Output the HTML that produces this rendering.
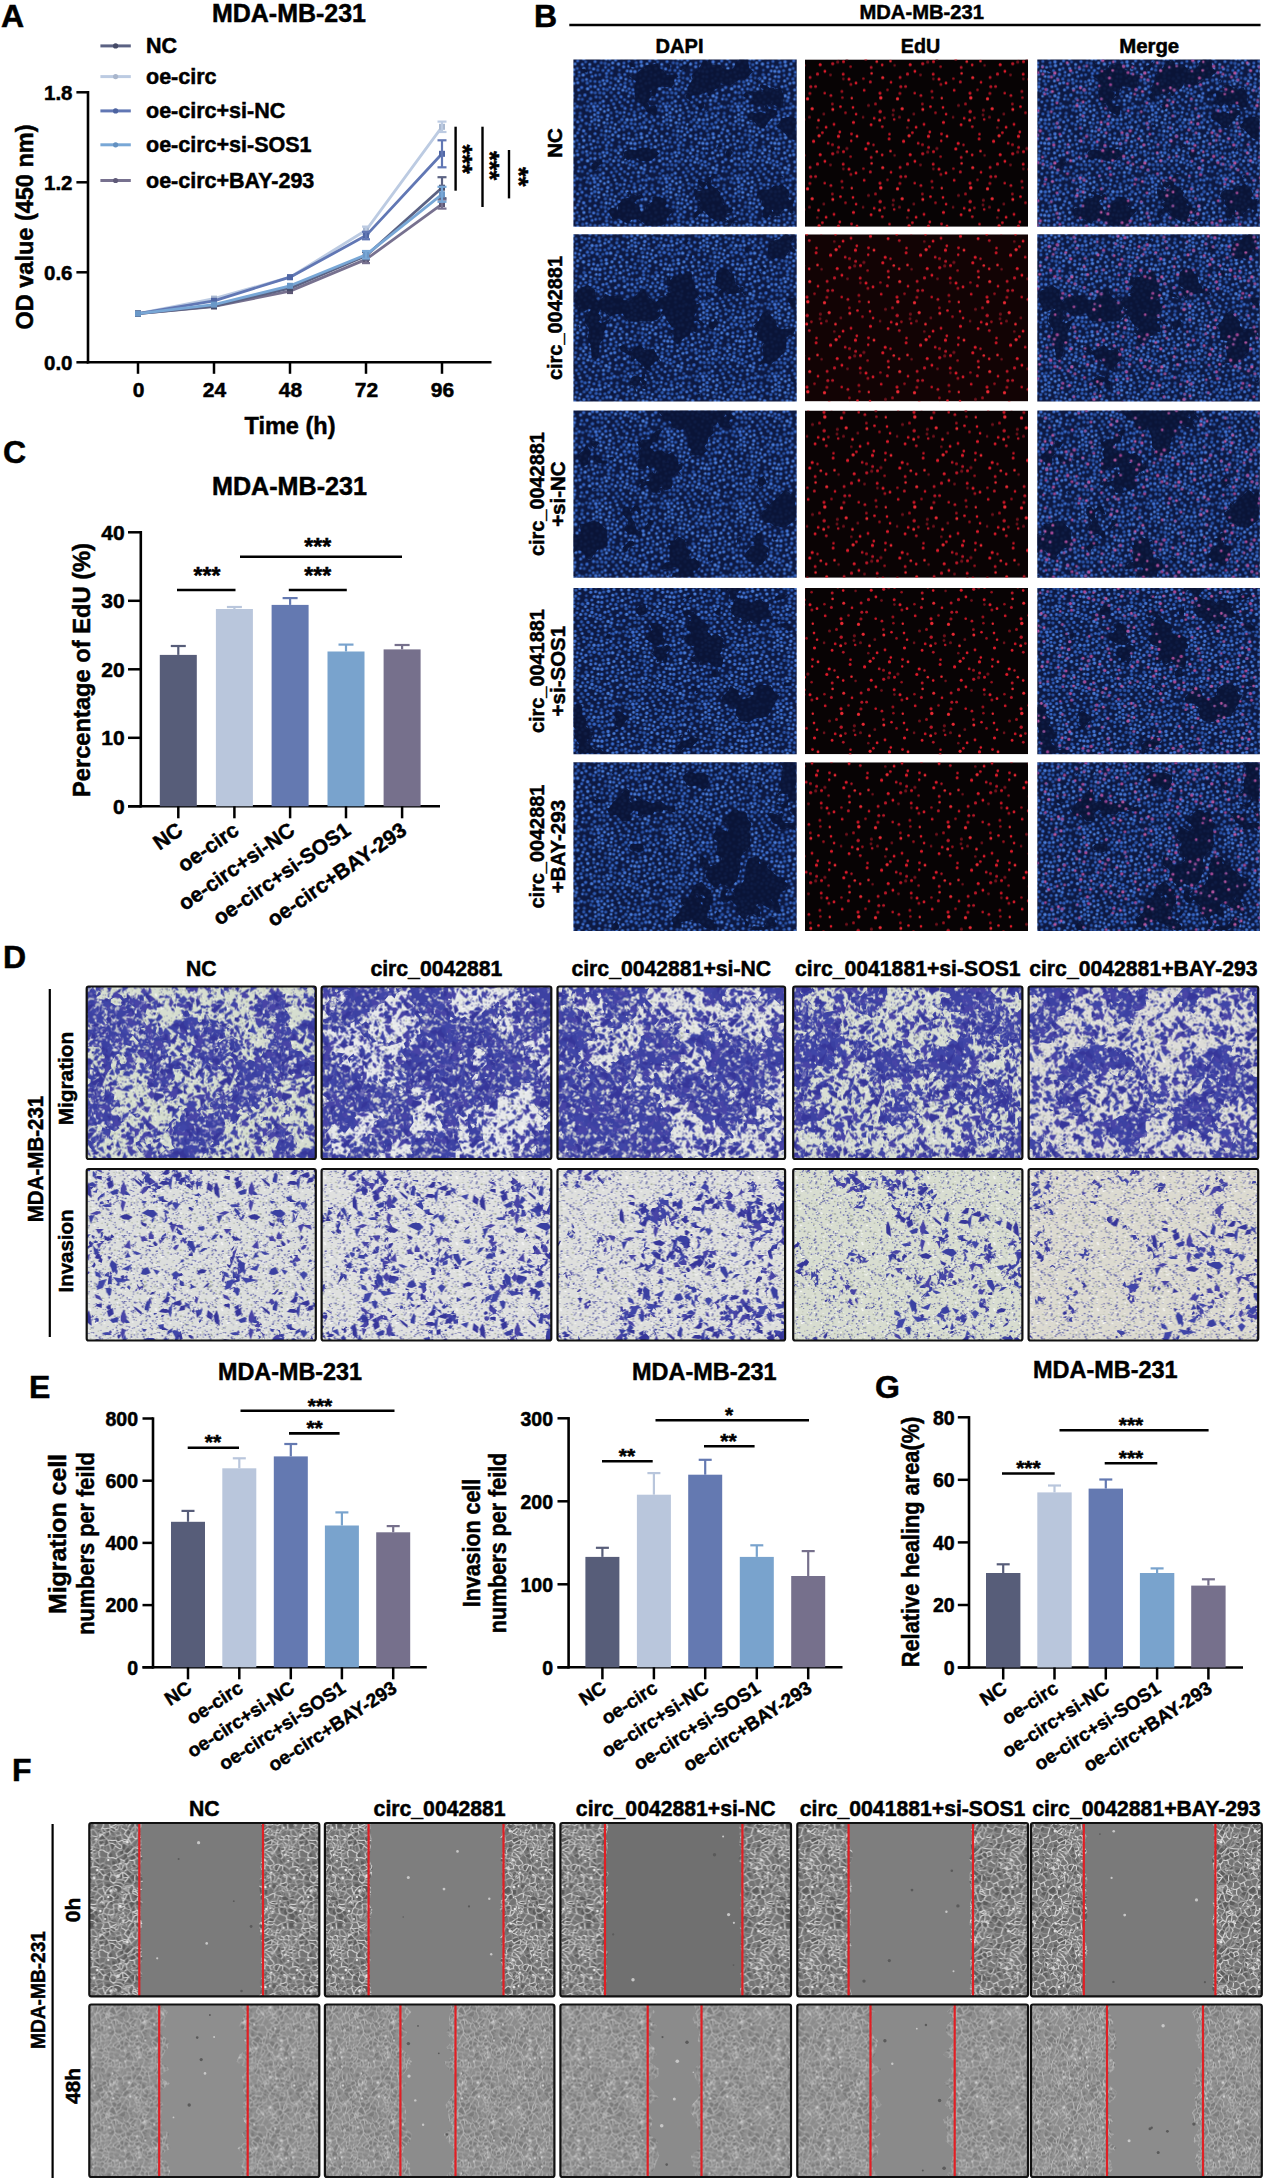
<!DOCTYPE html>
<html><head><meta charset="utf-8"><title>Figure</title>
<style>
html,body{margin:0;padding:0;background:#fff;width:1266px;height:2180px;overflow:hidden}
svg#fig{position:absolute;left:0;top:0;display:block}
svg text{font-family:"Liberation Sans",sans-serif;font-weight:bold;fill:#000;stroke:#000;stroke-width:0.5px}
</style></head><body>
<svg id="fig" width="1266" height="2180" viewBox="0 0 1266 2180">
<defs><pattern id="dapi" width="72" height="72" patternUnits="userSpaceOnUse"><rect width="72" height="72" fill="#0d1942"/><circle cx="17.1" cy="39.2" r="1.7" fill="#2c58ae"/><circle cx="26.6" cy="43.5" r="1.5" fill="#2c58ae"/><circle cx="45.1" cy="4.7" r="1.7" fill="#487cd8"/><circle cx="0.9" cy="60.3" r="1.7" fill="#2850a2"/><circle cx="72.9" cy="60.3" r="1.7" fill="#2850a2"/><circle cx="18.7" cy="16.9" r="1.5" fill="#3668c8"/><circle cx="71.7" cy="33.9" r="1.5" fill="#4072d2"/><circle cx="-0.3" cy="33.9" r="1.5" fill="#4072d2"/><circle cx="60.2" cy="34.3" r="1.4" fill="#3464c4"/><circle cx="46.0" cy="10.8" r="1.4" fill="#2850a2"/><circle cx="45.7" cy="62.5" r="1.6" fill="#2850a2"/><circle cx="37.7" cy="53.4" r="1.5" fill="#2850a2"/><circle cx="54.6" cy="42.6" r="1.4" fill="#4072d2"/><circle cx="21.7" cy="2.2" r="1.5" fill="#3668c8"/><circle cx="51.8" cy="63.3" r="1.6" fill="#2c58ae"/><circle cx="28.4" cy="57.7" r="1.5" fill="#2e5cb6"/><circle cx="32.0" cy="67.4" r="1.7" fill="#2850a2"/><circle cx="63.3" cy="7.0" r="1.6" fill="#2c58ae"/><circle cx="9.8" cy="15.6" r="1.7" fill="#487cd8"/><circle cx="45.1" cy="21.7" r="1.5" fill="#487cd8"/><circle cx="36.5" cy="27.8" r="1.4" fill="#3464c4"/><circle cx="42.1" cy="65.1" r="1.4" fill="#487cd8"/><circle cx="49.1" cy="66.9" r="1.7" fill="#3464c4"/><circle cx="61.7" cy="71.4" r="1.5" fill="#2850a2"/><circle cx="61.7" cy="-0.6" r="1.5" fill="#2850a2"/><circle cx="65.1" cy="41.0" r="1.6" fill="#487cd8"/><circle cx="51.4" cy="15.2" r="1.4" fill="#3668c8"/><circle cx="59.9" cy="41.3" r="1.5" fill="#2c58ae"/><circle cx="6.4" cy="57.6" r="1.6" fill="#2c58ae"/><circle cx="29.6" cy="10.9" r="1.5" fill="#2e5cb6"/><circle cx="21.2" cy="55.4" r="1.4" fill="#487cd8"/><circle cx="62.8" cy="3.2" r="1.5" fill="#2c58ae"/><circle cx="51.7" cy="23.8" r="1.7" fill="#2850a2"/><circle cx="36.4" cy="71.9" r="1.5" fill="#3668c8"/><circle cx="36.4" cy="-0.1" r="1.5" fill="#3668c8"/><circle cx="14.2" cy="29.4" r="1.7" fill="#487cd8"/><circle cx="22.6" cy="69.0" r="1.4" fill="#3668c8"/><circle cx="64.6" cy="27.2" r="1.5" fill="#4072d2"/><circle cx="33.1" cy="37.4" r="1.4" fill="#487cd8"/><circle cx="46.4" cy="42.9" r="1.4" fill="#3668c8"/><circle cx="40.3" cy="44.6" r="1.6" fill="#2e5cb6"/><circle cx="67.7" cy="36.5" r="1.7" fill="#487cd8"/><circle cx="31.0" cy="51.9" r="1.5" fill="#487cd8"/><circle cx="17.1" cy="21.7" r="1.4" fill="#2e5cb6"/><circle cx="29.9" cy="41.8" r="1.6" fill="#4072d2"/><circle cx="1.4" cy="44.3" r="1.4" fill="#2850a2"/><circle cx="45.2" cy="33.6" r="1.6" fill="#3668c8"/><circle cx="50.9" cy="53.1" r="1.4" fill="#4072d2"/><circle cx="1.6" cy="4.4" r="1.5" fill="#487cd8"/><circle cx="18.1" cy="32.9" r="1.6" fill="#3668c8"/><circle cx="26.2" cy="22.5" r="1.5" fill="#2c58ae"/><circle cx="21.6" cy="27.2" r="1.6" fill="#4072d2"/><circle cx="55.6" cy="1.9" r="1.5" fill="#2e5cb6"/><circle cx="22.3" cy="16.0" r="1.4" fill="#3464c4"/><circle cx="57.9" cy="17.2" r="1.4" fill="#487cd8"/><circle cx="50.3" cy="7.3" r="1.6" fill="#4072d2"/><circle cx="61.6" cy="12.2" r="1.7" fill="#4072d2"/><circle cx="24.2" cy="46.8" r="1.5" fill="#3464c4"/><circle cx="63.7" cy="32.5" r="1.6" fill="#2c58ae"/><circle cx="16.2" cy="8.7" r="1.4" fill="#2850a2"/><circle cx="38.1" cy="13.7" r="1.5" fill="#2e5cb6"/><circle cx="58.1" cy="60.4" r="1.7" fill="#3464c4"/><circle cx="13.2" cy="20.1" r="1.5" fill="#4072d2"/><circle cx="58.1" cy="46.2" r="1.4" fill="#3464c4"/><circle cx="58.1" cy="24.9" r="1.6" fill="#2c58ae"/><circle cx="9.3" cy="21.0" r="1.7" fill="#2850a2"/><circle cx="24.9" cy="30.0" r="1.5" fill="#4072d2"/><circle cx="30.2" cy="29.5" r="1.5" fill="#3668c8"/><circle cx="66.3" cy="11.2" r="1.5" fill="#2e5cb6"/><circle cx="0.3" cy="67.9" r="1.7" fill="#487cd8"/><circle cx="72.3" cy="67.9" r="1.7" fill="#487cd8"/><circle cx="66.8" cy="16.0" r="1.4" fill="#2e5cb6"/><circle cx="53.7" cy="60.2" r="1.7" fill="#487cd8"/><circle cx="47.7" cy="37.4" r="1.6" fill="#3464c4"/><circle cx="16.4" cy="4.9" r="1.5" fill="#487cd8"/><circle cx="65.1" cy="49.9" r="1.7" fill="#2850a2"/><circle cx="66.5" cy="64.6" r="1.4" fill="#2e5cb6"/><circle cx="0.9" cy="53.7" r="1.5" fill="#3464c4"/><circle cx="72.9" cy="53.7" r="1.5" fill="#3464c4"/><circle cx="18.2" cy="62.0" r="1.5" fill="#4072d2"/><circle cx="34.4" cy="56.3" r="1.7" fill="#4072d2"/><circle cx="38.5" cy="58.8" r="1.4" fill="#2e5cb6"/><circle cx="12.3" cy="57.0" r="1.5" fill="#3668c8"/><circle cx="66.4" cy="58.0" r="1.5" fill="#4072d2"/><circle cx="3.6" cy="19.5" r="1.6" fill="#2e5cb6"/><circle cx="30.5" cy="34.0" r="1.7" fill="#2c58ae"/><circle cx="3.9" cy="9.1" r="1.5" fill="#2e5cb6"/><circle cx="9.0" cy="4.9" r="1.5" fill="#4072d2"/><circle cx="6.2" cy="36.2" r="1.4" fill="#2e5cb6"/><circle cx="42.2" cy="26.0" r="1.4" fill="#3464c4"/><circle cx="13.8" cy="23.7" r="1.7" fill="#2c58ae"/><circle cx="8.9" cy="40.0" r="1.6" fill="#2850a2"/><circle cx="51.6" cy="27.4" r="1.7" fill="#4072d2"/><circle cx="5.8" cy="12.9" r="1.4" fill="#3668c8"/><circle cx="33.2" cy="17.6" r="1.7" fill="#2c58ae"/><circle cx="5.2" cy="30.6" r="1.5" fill="#4072d2"/><circle cx="30.7" cy="63.3" r="1.5" fill="#487cd8"/><circle cx="0.4" cy="10.3" r="1.5" fill="#487cd8"/><circle cx="72.4" cy="10.3" r="1.5" fill="#487cd8"/><circle cx="8.7" cy="60.8" r="1.6" fill="#3668c8"/><circle cx="48.5" cy="60.2" r="1.6" fill="#2e5cb6"/><circle cx="55.3" cy="36.8" r="1.4" fill="#487cd8"/><circle cx="53.9" cy="67.3" r="1.7" fill="#3464c4"/><circle cx="4.4" cy="23.3" r="1.6" fill="#4072d2"/><circle cx="17.4" cy="12.9" r="1.4" fill="#4072d2"/><circle cx="18.0" cy="44.4" r="1.4" fill="#3464c4"/><circle cx="70.1" cy="29.7" r="1.5" fill="#2e5cb6"/><circle cx="53.8" cy="11.6" r="1.5" fill="#4072d2"/><circle cx="34.8" cy="46.3" r="1.4" fill="#3464c4"/><circle cx="6.9" cy="53.9" r="1.6" fill="#2850a2"/><circle cx="14.3" cy="42.2" r="1.4" fill="#2850a2"/><circle cx="21.3" cy="50.8" r="1.7" fill="#3464c4"/><circle cx="42.1" cy="19.2" r="1.7" fill="#2e5cb6"/><circle cx="10.3" cy="71.4" r="1.7" fill="#4072d2"/><circle cx="10.3" cy="-0.6" r="1.7" fill="#4072d2"/><circle cx="33.7" cy="60.1" r="1.4" fill="#487cd8"/><circle cx="16.9" cy="51.7" r="1.5" fill="#2e5cb6"/><circle cx="61.5" cy="17.4" r="1.6" fill="#3668c8"/><circle cx="13.5" cy="50.7" r="1.6" fill="#2850a2"/><circle cx="61.8" cy="64.8" r="1.5" fill="#2e5cb6"/><circle cx="41.8" cy="48.6" r="1.4" fill="#487cd8"/><circle cx="0.5" cy="24.1" r="1.5" fill="#487cd8"/><circle cx="72.5" cy="24.1" r="1.5" fill="#487cd8"/><circle cx="39.2" cy="8.6" r="1.7" fill="#3668c8"/><circle cx="55.6" cy="54.5" r="1.5" fill="#2e5cb6"/><circle cx="69.2" cy="48.4" r="1.5" fill="#3464c4"/><circle cx="51.7" cy="48.9" r="1.6" fill="#3668c8"/><circle cx="12.9" cy="64.1" r="1.7" fill="#2e5cb6"/><circle cx="43.0" cy="40.0" r="1.6" fill="#2850a2"/><circle cx="25.4" cy="61.0" r="1.6" fill="#487cd8"/><circle cx="13.3" cy="13.6" r="1.4" fill="#2c58ae"/><circle cx="38.0" cy="40.9" r="1.5" fill="#3464c4"/><circle cx="57.8" cy="64.2" r="1.6" fill="#2c58ae"/><circle cx="45.6" cy="70.3" r="1.6" fill="#4072d2"/><circle cx="43.3" cy="52.3" r="1.5" fill="#2c58ae"/><circle cx="37.7" cy="33.2" r="1.6" fill="#2850a2"/><circle cx="40.8" cy="69.0" r="1.4" fill="#4072d2"/><circle cx="11.6" cy="35.8" r="1.7" fill="#3464c4"/><circle cx="30.4" cy="46.7" r="1.6" fill="#3464c4"/><circle cx="21.9" cy="33.4" r="1.6" fill="#2850a2"/><circle cx="26.7" cy="38.1" r="1.6" fill="#2850a2"/><circle cx="0.2" cy="15.0" r="1.7" fill="#3668c8"/><circle cx="72.2" cy="15.0" r="1.7" fill="#3668c8"/><circle cx="33.1" cy="14.1" r="1.6" fill="#3464c4"/><circle cx="4.3" cy="1.6" r="1.5" fill="#3464c4"/><circle cx="50.6" cy="3.7" r="1.4" fill="#3464c4"/><circle cx="52.4" cy="19.8" r="1.4" fill="#487cd8"/><circle cx="56.7" cy="33.5" r="1.4" fill="#3464c4"/><circle cx="67.2" cy="21.6" r="1.5" fill="#487cd8"/><circle cx="24.8" cy="6.7" r="1.5" fill="#2c58ae"/><circle cx="12.3" cy="2.6" r="1.4" fill="#2c58ae"/><circle cx="3.9" cy="47.1" r="1.7" fill="#3668c8"/><circle cx="67.7" cy="2.5" r="1.7" fill="#4072d2"/><circle cx="21.9" cy="43.7" r="1.5" fill="#2850a2"/><circle cx="68.2" cy="6.3" r="1.7" fill="#487cd8"/><circle cx="8.3" cy="28.1" r="1.7" fill="#3464c4"/><circle cx="35.1" cy="11.1" r="1.6" fill="#3668c8"/><circle cx="11.0" cy="46.4" r="1.4" fill="#2850a2"/><circle cx="42.2" cy="0.8" r="1.5" fill="#3668c8"/><circle cx="42.2" cy="72.8" r="1.5" fill="#3668c8"/><circle cx="16.6" cy="69.6" r="1.6" fill="#2e5cb6"/><circle cx="43.5" cy="56.8" r="1.5" fill="#3668c8"/><circle cx="59.4" cy="8.1" r="1.5" fill="#4072d2"/><circle cx="32.1" cy="8.0" r="1.4" fill="#3464c4"/><circle cx="5.1" cy="39.8" r="1.4" fill="#4072d2"/><circle cx="55.7" cy="29.3" r="1.4" fill="#3464c4"/><circle cx="24.8" cy="53.4" r="1.7" fill="#3668c8"/><circle cx="50.4" cy="70.3" r="1.4" fill="#2850a2"/><circle cx="70.5" cy="63.1" r="1.6" fill="#2e5cb6"/><circle cx="-1.5" cy="63.1" r="1.6" fill="#2e5cb6"/><circle cx="70.5" cy="56.6" r="1.5" fill="#4072d2"/><circle cx="-1.5" cy="56.6" r="1.5" fill="#4072d2"/><circle cx="31.1" cy="24.4" r="1.5" fill="#487cd8"/><circle cx="17.8" cy="57.8" r="1.4" fill="#487cd8"/><circle cx="22.7" cy="37.6" r="1.6" fill="#2c58ae"/><circle cx="7.4" cy="48.1" r="1.5" fill="#2850a2"/><circle cx="64.5" cy="69.1" r="1.5" fill="#2850a2"/><circle cx="68.4" cy="68.0" r="1.7" fill="#3464c4"/><circle cx="20.3" cy="9.5" r="1.6" fill="#4072d2"/><circle cx="5.7" cy="16.5" r="1.4" fill="#2850a2"/><circle cx="39.3" cy="3.4" r="1.5" fill="#487cd8"/><circle cx="48.6" cy="46.6" r="1.7" fill="#2850a2"/><circle cx="28.1" cy="71.1" r="1.5" fill="#2850a2"/><circle cx="28.1" cy="-0.9" r="1.5" fill="#2850a2"/><circle cx="10.5" cy="9.1" r="1.7" fill="#487cd8"/><circle cx="25.4" cy="65.9" r="1.4" fill="#487cd8"/><circle cx="34.9" cy="50.6" r="1.5" fill="#487cd8"/><circle cx="55.2" cy="6.7" r="1.5" fill="#4072d2"/><circle cx="62.1" cy="60.1" r="1.5" fill="#487cd8"/><circle cx="38.3" cy="63.0" r="1.5" fill="#3464c4"/><circle cx="71.0" cy="38.1" r="1.6" fill="#4072d2"/><circle cx="-1.0" cy="38.1" r="1.6" fill="#4072d2"/><circle cx="61.0" cy="56.0" r="1.7" fill="#3668c8"/><circle cx="26.4" cy="15.5" r="1.4" fill="#2c58ae"/><circle cx="34.2" cy="64.1" r="1.5" fill="#2850a2"/><circle cx="21.5" cy="64.8" r="1.4" fill="#2c58ae"/><circle cx="31.8" cy="4.0" r="1.7" fill="#2850a2"/><circle cx="0.8" cy="48.9" r="1.6" fill="#2e5cb6"/><circle cx="72.8" cy="48.9" r="1.6" fill="#2e5cb6"/><circle cx="62.5" cy="37.1" r="1.4" fill="#2850a2"/><circle cx="41.1" cy="36.8" r="1.6" fill="#2c58ae"/><circle cx="49.5" cy="30.8" r="1.5" fill="#487cd8"/><circle cx="27.9" cy="3.4" r="1.6" fill="#2850a2"/><circle cx="61.0" cy="52.4" r="1.5" fill="#2850a2"/><circle cx="32.8" cy="71.6" r="1.6" fill="#487cd8"/><circle cx="32.8" cy="-0.4" r="1.6" fill="#487cd8"/><circle cx="37.3" cy="23.6" r="1.5" fill="#2c58ae"/><circle cx="7.2" cy="66.7" r="1.7" fill="#2850a2"/><circle cx="21.6" cy="22.0" r="1.5" fill="#2e5cb6"/><circle cx="51.2" cy="40.4" r="1.4" fill="#2e5cb6"/><circle cx="46.8" cy="53.5" r="1.6" fill="#2e5cb6"/><circle cx="59.7" cy="30.4" r="1.6" fill="#3464c4"/><circle cx="21.5" cy="60.3" r="1.7" fill="#2e5cb6"/><circle cx="67.2" cy="54.2" r="1.5" fill="#2e5cb6"/><circle cx="27.0" cy="26.0" r="1.5" fill="#2e5cb6"/><circle cx="56.6" cy="21.5" r="1.6" fill="#2c58ae"/><circle cx="70.2" cy="19.2" r="1.4" fill="#3464c4"/><circle cx="14.9" cy="47.0" r="1.6" fill="#2e5cb6"/><circle cx="37.8" cy="18.6" r="1.4" fill="#2850a2"/><circle cx="5.6" cy="70.0" r="1.4" fill="#4072d2"/><circle cx="4.4" cy="62.6" r="1.5" fill="#4072d2"/><circle cx="69.9" cy="41.5" r="1.7" fill="#2c58ae"/><circle cx="58.9" cy="68.7" r="1.7" fill="#3464c4"/><circle cx="61.2" cy="21.8" r="1.4" fill="#3464c4"/><circle cx="24.4" cy="10.7" r="1.6" fill="#2850a2"/><circle cx="17.3" cy="27.1" r="1.6" fill="#3464c4"/><circle cx="47.4" cy="18.4" r="1.7" fill="#4072d2"/><circle cx="65.1" cy="45.0" r="1.6" fill="#3668c8"/><circle cx="45.3" cy="29.1" r="1.7" fill="#2e5cb6"/><circle cx="16.5" cy="65.5" r="1.4" fill="#2e5cb6"/><circle cx="47.3" cy="25.3" r="1.4" fill="#3668c8"/><circle cx="33.8" cy="30.3" r="1.7" fill="#2850a2"/><circle cx="20.4" cy="47.3" r="1.7" fill="#4072d2"/><circle cx="57.7" cy="50.1" r="1.4" fill="#2e5cb6"/><circle cx="35.5" cy="5.2" r="1.5" fill="#2c58ae"/><circle cx="40.3" cy="29.6" r="1.5" fill="#487cd8"/><circle cx="68.3" cy="26.4" r="1.5" fill="#3464c4"/><circle cx="26.5" cy="33.4" r="1.7" fill="#2850a2"/><circle cx="37.0" cy="68.0" r="1.4" fill="#4072d2"/><circle cx="53.0" cy="31.6" r="1.4" fill="#2c58ae"/><circle cx="57.5" cy="11.9" r="1.6" fill="#487cd8"/><circle cx="45.8" cy="15.2" r="1.7" fill="#2850a2"/><circle cx="50.4" cy="57.1" r="1.4" fill="#2c58ae"/><circle cx="33.7" cy="21.4" r="1.6" fill="#3668c8"/><circle cx="27.1" cy="49.7" r="1.5" fill="#487cd8"/><circle cx="24.7" cy="57.3" r="1.4" fill="#3668c8"/><circle cx="29.8" cy="21.0" r="1.6" fill="#4072d2"/></pattern><pattern id="edu" width="90" height="90" patternUnits="userSpaceOnUse"><circle cx="21.1" cy="67.9" r="1.4" fill="#e01a2a"/><circle cx="45.9" cy="25.0" r="1.5" fill="#9a101c"/><circle cx="12.5" cy="14.7" r="1.6" fill="#b81626"/><circle cx="46.8" cy="38.7" r="1.2" fill="#ea2832"/><circle cx="82.5" cy="30.5" r="1.3" fill="#9a101c"/><circle cx="52.0" cy="76.9" r="1.4" fill="#ea2832"/><circle cx="69.2" cy="58.9" r="1.4" fill="#c81424"/><circle cx="79.4" cy="58.6" r="1.4" fill="#9a101c"/><circle cx="74.7" cy="60.7" r="1.5" fill="#ea2832"/><circle cx="18.8" cy="54.7" r="1.4" fill="#70101a"/><circle cx="38.5" cy="2.3" r="1.5" fill="#c81424"/><circle cx="44.0" cy="19.8" r="1.5" fill="#e01a2a"/><circle cx="17.4" cy="73.3" r="1.4" fill="#c81424"/><circle cx="2.5" cy="39.4" r="1.6" fill="#ea2832"/><circle cx="25.9" cy="36.2" r="1.4" fill="#b81626"/><circle cx="89.6" cy="6.0" r="1.3" fill="#70101a"/><circle cx="-0.4" cy="6.0" r="1.3" fill="#70101a"/><circle cx="66.1" cy="65.4" r="1.4" fill="#e01a2a"/><circle cx="5.1" cy="18.0" r="1.5" fill="#b81626"/><circle cx="25.5" cy="15.6" r="1.4" fill="#70101a"/><circle cx="34.8" cy="72.6" r="1.3" fill="#e01a2a"/><circle cx="88.4" cy="50.8" r="1.6" fill="#70101a"/><circle cx="-1.6" cy="50.8" r="1.6" fill="#70101a"/><circle cx="40.5" cy="53.4" r="1.3" fill="#9a101c"/><circle cx="27.8" cy="49.9" r="1.5" fill="#ea2832"/><circle cx="27.4" cy="44.7" r="1.4" fill="#9a101c"/><circle cx="51.1" cy="54.7" r="1.3" fill="#e01a2a"/><circle cx="36.9" cy="31.9" r="1.5" fill="#9a101c"/><circle cx="35.5" cy="47.3" r="1.3" fill="#e01a2a"/><circle cx="4.5" cy="57.7" r="1.5" fill="#70101a"/><circle cx="58.4" cy="19.3" r="1.3" fill="#9a101c"/><circle cx="75.8" cy="38.5" r="1.7" fill="#ea2832"/><circle cx="86.0" cy="22.9" r="1.3" fill="#c81424"/><circle cx="48.0" cy="48.1" r="1.3" fill="#e01a2a"/><circle cx="85.5" cy="1.7" r="1.3" fill="#ea2832"/><circle cx="66.6" cy="14.0" r="1.3" fill="#ea2832"/><circle cx="48.5" cy="63.0" r="1.6" fill="#e01a2a"/><circle cx="46.5" cy="74.6" r="1.4" fill="#c81424"/><circle cx="71.8" cy="2.2" r="1.3" fill="#ea2832"/><circle cx="63.5" cy="46.0" r="1.5" fill="#70101a"/><circle cx="65.4" cy="22.6" r="1.5" fill="#b81626"/><circle cx="58.1" cy="57.9" r="1.3" fill="#70101a"/><circle cx="33.5" cy="76.9" r="1.6" fill="#e01a2a"/><circle cx="75.0" cy="33.8" r="1.6" fill="#c81424"/><circle cx="70.5" cy="44.6" r="1.5" fill="#9a101c"/><circle cx="5.8" cy="27.2" r="1.5" fill="#b81626"/><circle cx="19.9" cy="12.0" r="1.4" fill="#e01a2a"/><circle cx="32.7" cy="2.7" r="1.6" fill="#70101a"/><circle cx="77.3" cy="67.3" r="1.4" fill="#b81626"/><circle cx="23.2" cy="83.9" r="1.4" fill="#b81626"/><circle cx="7.2" cy="49.3" r="1.6" fill="#ea2832"/><circle cx="10.6" cy="27.2" r="1.4" fill="#b81626"/><circle cx="84.1" cy="79.4" r="1.5" fill="#c81424"/><circle cx="45.6" cy="7.2" r="1.3" fill="#9a101c"/><circle cx="46.2" cy="81.5" r="1.2" fill="#e01a2a"/><circle cx="77.2" cy="5.6" r="1.3" fill="#e01a2a"/><circle cx="4.9" cy="34.0" r="1.6" fill="#9a101c"/><circle cx="51.0" cy="23.7" r="1.4" fill="#e01a2a"/><circle cx="68.5" cy="85.5" r="1.2" fill="#b81626"/><circle cx="75.2" cy="52.3" r="1.7" fill="#b81626"/><circle cx="12.3" cy="68.3" r="1.3" fill="#70101a"/><circle cx="37.4" cy="38.2" r="1.3" fill="#9a101c"/><circle cx="77.7" cy="18.3" r="1.5" fill="#ea2832"/><circle cx="41.9" cy="89.1" r="1.6" fill="#70101a"/><circle cx="41.9" cy="-0.9" r="1.6" fill="#70101a"/><circle cx="8.6" cy="81.9" r="1.6" fill="#e01a2a"/><circle cx="38.4" cy="19.6" r="1.3" fill="#70101a"/><circle cx="88.0" cy="55.6" r="1.4" fill="#70101a"/><circle cx="14.1" cy="76.3" r="1.6" fill="#ea2832"/><circle cx="84.5" cy="74.7" r="1.3" fill="#c81424"/><circle cx="60.8" cy="89.5" r="1.6" fill="#e01a2a"/><circle cx="60.8" cy="-0.5" r="1.6" fill="#e01a2a"/><circle cx="89.2" cy="60.0" r="1.3" fill="#b81626"/><circle cx="-0.8" cy="60.0" r="1.3" fill="#b81626"/><circle cx="38.2" cy="14.8" r="1.5" fill="#c81424"/><circle cx="29.0" cy="65.0" r="1.4" fill="#c81424"/><circle cx="13.5" cy="60.9" r="1.3" fill="#ea2832"/><circle cx="27.5" cy="85.3" r="1.5" fill="#9a101c"/><circle cx="66.2" cy="8.0" r="1.5" fill="#b81626"/><circle cx="59.2" cy="30.9" r="1.4" fill="#c81424"/><circle cx="63.2" cy="84.0" r="1.6" fill="#e01a2a"/><circle cx="15.2" cy="5.2" r="1.5" fill="#e01a2a"/><circle cx="27.7" cy="4.3" r="1.6" fill="#b81626"/><circle cx="33.6" cy="88.0" r="1.5" fill="#b81626"/><circle cx="19.7" cy="33.8" r="1.3" fill="#c81424"/></pattern><pattern id="mdots" width="90" height="90" patternUnits="userSpaceOnUse"><circle cx="62.0" cy="58.5" r="1.7" fill="#9a4290"/><circle cx="14.8" cy="29.7" r="1.4" fill="#b454a0"/><circle cx="73.2" cy="4.6" r="1.6" fill="#8e4c96"/><circle cx="80.1" cy="55.2" r="1.2" fill="#8e4c96"/><circle cx="18.4" cy="83.7" r="1.4" fill="#8e4c96"/><circle cx="30.5" cy="57.6" r="1.5" fill="#8e4c96"/><circle cx="42.3" cy="12.3" r="1.5" fill="#9a4290"/><circle cx="31.1" cy="13.4" r="1.2" fill="#a84a98"/><circle cx="64.3" cy="84.7" r="1.3" fill="#a84a98"/><circle cx="5.3" cy="18.1" r="1.4" fill="#8e4c96"/><circle cx="39.6" cy="51.4" r="1.6" fill="#a84a98"/><circle cx="37.8" cy="60.5" r="1.5" fill="#8e4c96"/><circle cx="89.2" cy="11.3" r="1.4" fill="#9a4290"/><circle cx="-0.8" cy="11.3" r="1.4" fill="#9a4290"/><circle cx="14.6" cy="43.4" r="1.5" fill="#8e4c96"/><circle cx="58.0" cy="68.1" r="1.5" fill="#8e4c96"/><circle cx="45.0" cy="79.5" r="1.2" fill="#b454a0"/><circle cx="89.0" cy="80.5" r="1.4" fill="#b454a0"/><circle cx="-1.0" cy="80.5" r="1.4" fill="#b454a0"/><circle cx="33.7" cy="88.7" r="1.3" fill="#9a4290"/><circle cx="33.7" cy="-1.3" r="1.3" fill="#9a4290"/><circle cx="51.8" cy="71.4" r="1.4" fill="#8e4c96"/><circle cx="89.8" cy="72.2" r="1.4" fill="#8e4c96"/><circle cx="-0.2" cy="72.2" r="1.4" fill="#8e4c96"/><circle cx="59.1" cy="62.8" r="1.6" fill="#8e4c96"/><circle cx="32.9" cy="50.0" r="1.4" fill="#b454a0"/><circle cx="33.1" cy="26.6" r="1.5" fill="#8e4c96"/><circle cx="37.3" cy="36.0" r="1.3" fill="#8e4c96"/><circle cx="73.0" cy="39.4" r="1.4" fill="#8e4c96"/><circle cx="12.8" cy="68.6" r="1.6" fill="#b454a0"/><circle cx="59.7" cy="0.2" r="1.5" fill="#9a4290"/><circle cx="59.7" cy="90.2" r="1.5" fill="#9a4290"/><circle cx="11.0" cy="84.9" r="1.3" fill="#8e4c96"/><circle cx="59.9" cy="38.4" r="1.3" fill="#a84a98"/><circle cx="79.7" cy="7.5" r="1.6" fill="#8e4c96"/><circle cx="74.2" cy="19.2" r="1.4" fill="#b454a0"/><circle cx="76.6" cy="0.7" r="1.6" fill="#b454a0"/><circle cx="76.6" cy="90.7" r="1.6" fill="#b454a0"/><circle cx="78.8" cy="50.9" r="1.6" fill="#8e4c96"/><circle cx="75.5" cy="72.6" r="1.6" fill="#a84a98"/><circle cx="16.0" cy="17.8" r="1.7" fill="#8e4c96"/><circle cx="34.5" cy="78.2" r="1.6" fill="#a84a98"/><circle cx="9.4" cy="27.8" r="1.3" fill="#8e4c96"/><circle cx="44.4" cy="88.1" r="1.4" fill="#b454a0"/><circle cx="8.7" cy="33.2" r="1.6" fill="#b454a0"/><circle cx="12.1" cy="15.5" r="1.4" fill="#b454a0"/><circle cx="78.7" cy="30.6" r="1.4" fill="#a84a98"/><circle cx="40.5" cy="43.8" r="1.5" fill="#b454a0"/><circle cx="2.4" cy="88.2" r="1.5" fill="#b454a0"/><circle cx="55.4" cy="84.0" r="1.7" fill="#a84a98"/><circle cx="12.0" cy="55.5" r="1.3" fill="#8e4c96"/><circle cx="70.5" cy="66.3" r="1.4" fill="#b454a0"/><circle cx="36.7" cy="73.0" r="1.6" fill="#a84a98"/><circle cx="81.6" cy="61.8" r="1.4" fill="#9a4290"/><circle cx="67.6" cy="17.0" r="1.6" fill="#9a4290"/><circle cx="53.8" cy="60.3" r="1.5" fill="#a84a98"/><circle cx="18.3" cy="63.9" r="1.6" fill="#9a4290"/><circle cx="28.9" cy="69.4" r="1.4" fill="#a84a98"/><circle cx="41.2" cy="5.6" r="1.6" fill="#a84a98"/><circle cx="66.5" cy="21.7" r="1.3" fill="#a84a98"/><circle cx="64.7" cy="1.8" r="1.5" fill="#8e4c96"/></pattern><pattern id="grain" width="66" height="66" patternUnits="userSpaceOnUse"><circle cx="30.6" cy="24.6" r="0.5" fill="#5658a2"/><circle cx="22.3" cy="30.6" r="0.8" fill="#fafafa"/><circle cx="36.6" cy="40.7" r="0.5" fill="#a8b0a0"/><circle cx="11.2" cy="62.5" r="0.9" fill="#a8b0a0"/><circle cx="10.4" cy="15.7" r="0.5" fill="#6a6cae"/><circle cx="51.1" cy="25.3" r="0.8" fill="#6a6cae"/><circle cx="60.7" cy="13.5" r="0.6" fill="#a8b0a0"/><circle cx="58.7" cy="51.0" r="0.9" fill="#a8b0a0"/><circle cx="18.6" cy="53.4" r="0.5" fill="#5658a2"/><circle cx="58.0" cy="3.6" r="0.6" fill="#b8c0b0"/><circle cx="9.2" cy="15.6" r="0.8" fill="#6a6cae"/><circle cx="63.6" cy="0.3" r="0.8" fill="#7476b2"/><circle cx="59.1" cy="13.4" r="0.5" fill="#6a6cae"/><circle cx="8.8" cy="60.6" r="0.7" fill="#b8c0b0"/><circle cx="35.5" cy="13.1" r="0.5" fill="#7476b2"/><circle cx="42.2" cy="6.2" r="0.7" fill="#6264a8"/><circle cx="62.0" cy="47.5" r="0.5" fill="#f2f4f0"/><circle cx="36.6" cy="40.0" r="0.5" fill="#f2f4f0"/><circle cx="48.6" cy="38.0" r="0.5" fill="#a8b0a0"/><circle cx="62.8" cy="15.6" r="0.8" fill="#5658a2"/><circle cx="48.6" cy="55.8" r="0.7" fill="#6a6cae"/><circle cx="57.2" cy="7.3" r="0.9" fill="#fafafa"/><circle cx="29.8" cy="26.5" r="0.9" fill="#5658a2"/><circle cx="25.0" cy="40.1" r="0.5" fill="#6a6cae"/><circle cx="14.1" cy="29.3" r="0.6" fill="#6a6cae"/><circle cx="20.3" cy="18.8" r="0.7" fill="#5658a2"/><circle cx="1.7" cy="51.5" r="0.9" fill="#b8c0b0"/><circle cx="22.8" cy="51.3" r="0.7" fill="#6a6cae"/><circle cx="28.1" cy="15.2" r="0.9" fill="#a8b0a0"/><circle cx="33.7" cy="63.1" r="0.7" fill="#6264a8"/><circle cx="44.1" cy="11.3" r="0.9" fill="#f2f4f0"/><circle cx="1.9" cy="62.0" r="0.9" fill="#f2f4f0"/><circle cx="62.5" cy="65.1" r="0.8" fill="#5658a2"/><circle cx="3.2" cy="29.7" r="0.8" fill="#f2f4f0"/><circle cx="40.4" cy="63.8" r="0.6" fill="#6264a8"/><circle cx="31.7" cy="18.3" r="0.9" fill="#f2f4f0"/><circle cx="45.9" cy="4.3" r="0.7" fill="#a8b0a0"/><circle cx="38.8" cy="53.0" r="0.8" fill="#f2f4f0"/><circle cx="50.9" cy="58.1" r="0.7" fill="#6a6cae"/><circle cx="60.9" cy="18.3" r="0.5" fill="#6a6cae"/><circle cx="10.7" cy="52.1" r="0.9" fill="#7476b2"/><circle cx="11.6" cy="30.1" r="0.7" fill="#a8b0a0"/><circle cx="5.5" cy="36.2" r="0.7" fill="#f2f4f0"/><circle cx="35.3" cy="62.1" r="0.5" fill="#a8b0a0"/><circle cx="35.9" cy="34.6" r="0.7" fill="#6a6cae"/><circle cx="57.9" cy="37.9" r="0.9" fill="#6a6cae"/><circle cx="47.8" cy="47.6" r="0.5" fill="#b8c0b0"/><circle cx="29.9" cy="32.4" r="0.8" fill="#5658a2"/><circle cx="44.8" cy="1.9" r="0.6" fill="#b8c0b0"/><circle cx="15.3" cy="54.3" r="0.8" fill="#b8c0b0"/><circle cx="57.8" cy="2.4" r="0.7" fill="#5658a2"/><circle cx="44.8" cy="26.8" r="0.5" fill="#7476b2"/><circle cx="2.3" cy="49.7" r="0.5" fill="#5658a2"/><circle cx="23.4" cy="31.0" r="0.7" fill="#5658a2"/><circle cx="46.4" cy="5.0" r="0.5" fill="#fafafa"/><circle cx="0.6" cy="63.0" r="0.7" fill="#a8b0a0"/><circle cx="65.1" cy="55.0" r="0.5" fill="#fafafa"/><circle cx="44.3" cy="29.8" r="0.5" fill="#7476b2"/><circle cx="7.2" cy="3.5" r="0.5" fill="#6a6cae"/><circle cx="24.6" cy="48.9" r="0.7" fill="#7476b2"/><circle cx="24.4" cy="41.9" r="0.6" fill="#f2f4f0"/><circle cx="50.4" cy="45.1" r="0.5" fill="#f2f4f0"/><circle cx="62.3" cy="1.5" r="0.5" fill="#a8b0a0"/><circle cx="3.8" cy="16.6" r="0.9" fill="#7476b2"/><circle cx="42.2" cy="45.0" r="0.5" fill="#5658a2"/><circle cx="52.8" cy="64.4" r="0.8" fill="#a8b0a0"/><circle cx="61.4" cy="57.9" r="0.9" fill="#6a6cae"/><circle cx="1.9" cy="29.0" r="0.7" fill="#fafafa"/><circle cx="32.5" cy="22.9" r="0.9" fill="#a8b0a0"/><circle cx="28.4" cy="5.2" r="0.6" fill="#b8c0b0"/><circle cx="40.3" cy="37.5" r="0.7" fill="#6264a8"/><circle cx="21.7" cy="3.9" r="0.5" fill="#fafafa"/><circle cx="35.9" cy="12.4" r="0.8" fill="#6264a8"/><circle cx="62.3" cy="5.7" r="0.9" fill="#a8b0a0"/><circle cx="13.9" cy="35.8" r="0.6" fill="#5658a2"/><circle cx="44.2" cy="27.8" r="0.6" fill="#fafafa"/><circle cx="50.4" cy="52.7" r="0.7" fill="#b8c0b0"/><circle cx="47.3" cy="18.8" r="0.7" fill="#6a6cae"/><circle cx="14.8" cy="64.9" r="0.6" fill="#6a6cae"/><circle cx="9.8" cy="10.8" r="0.5" fill="#a8b0a0"/><circle cx="42.8" cy="26.1" r="0.9" fill="#6264a8"/><circle cx="33.6" cy="23.6" r="0.9" fill="#7476b2"/><circle cx="21.1" cy="25.4" r="0.5" fill="#6264a8"/><circle cx="37.7" cy="0.6" r="0.8" fill="#5658a2"/><circle cx="18.4" cy="34.5" r="0.8" fill="#a8b0a0"/><circle cx="59.9" cy="49.8" r="0.6" fill="#6264a8"/><circle cx="34.1" cy="31.6" r="0.9" fill="#6264a8"/><circle cx="21.8" cy="49.4" r="0.6" fill="#5658a2"/><circle cx="36.0" cy="61.3" r="0.5" fill="#6264a8"/><circle cx="35.5" cy="62.7" r="0.8" fill="#b8c0b0"/><circle cx="8.9" cy="13.9" r="0.7" fill="#a8b0a0"/><circle cx="14.3" cy="13.4" r="0.8" fill="#a8b0a0"/><circle cx="0.7" cy="36.6" r="0.5" fill="#fafafa"/><circle cx="32.7" cy="4.0" r="0.9" fill="#a8b0a0"/><circle cx="58.5" cy="28.9" r="0.8" fill="#7476b2"/><circle cx="36.7" cy="60.6" r="0.9" fill="#6a6cae"/><circle cx="58.8" cy="17.2" r="0.6" fill="#b8c0b0"/><circle cx="64.0" cy="12.3" r="0.7" fill="#fafafa"/><circle cx="44.2" cy="64.3" r="0.5" fill="#5658a2"/><circle cx="47.3" cy="38.7" r="0.9" fill="#fafafa"/><circle cx="18.7" cy="8.6" r="0.6" fill="#5658a2"/><circle cx="5.0" cy="54.2" r="0.6" fill="#b8c0b0"/><circle cx="63.7" cy="2.8" r="0.5" fill="#6264a8"/><circle cx="58.3" cy="46.9" r="0.8" fill="#a8b0a0"/><circle cx="55.8" cy="52.1" r="0.9" fill="#6264a8"/><circle cx="54.9" cy="2.2" r="0.9" fill="#6264a8"/><circle cx="18.8" cy="31.8" r="0.5" fill="#6a6cae"/><circle cx="33.8" cy="32.9" r="0.6" fill="#fafafa"/><circle cx="40.4" cy="62.7" r="0.6" fill="#5658a2"/><circle cx="65.9" cy="48.7" r="0.8" fill="#b8c0b0"/><circle cx="20.6" cy="56.2" r="0.6" fill="#5658a2"/><circle cx="13.1" cy="47.6" r="0.6" fill="#f2f4f0"/><circle cx="14.9" cy="11.8" r="0.8" fill="#f2f4f0"/><circle cx="24.4" cy="42.1" r="0.6" fill="#6264a8"/><circle cx="36.5" cy="1.9" r="0.8" fill="#7476b2"/><circle cx="5.9" cy="13.9" r="0.6" fill="#b8c0b0"/><circle cx="23.6" cy="36.8" r="0.8" fill="#6a6cae"/><circle cx="6.2" cy="26.9" r="0.7" fill="#6264a8"/><circle cx="3.9" cy="37.8" r="0.7" fill="#a8b0a0"/><circle cx="24.0" cy="43.7" r="0.9" fill="#fafafa"/><circle cx="47.7" cy="34.0" r="0.7" fill="#6264a8"/><circle cx="64.3" cy="20.7" r="0.7" fill="#f2f4f0"/><circle cx="28.8" cy="64.6" r="0.7" fill="#6a6cae"/><circle cx="3.8" cy="23.7" r="0.8" fill="#7476b2"/><circle cx="27.2" cy="24.1" r="0.6" fill="#a8b0a0"/><circle cx="33.6" cy="48.2" r="0.5" fill="#6a6cae"/><circle cx="52.7" cy="42.5" r="0.7" fill="#5658a2"/><circle cx="20.4" cy="5.2" r="0.6" fill="#7476b2"/><circle cx="64.3" cy="63.2" r="0.9" fill="#6264a8"/><circle cx="40.1" cy="16.0" r="0.8" fill="#6a6cae"/><circle cx="39.1" cy="0.4" r="0.7" fill="#6a6cae"/><circle cx="25.1" cy="18.1" r="0.9" fill="#6264a8"/><circle cx="64.2" cy="4.9" r="0.7" fill="#f2f4f0"/><circle cx="9.5" cy="49.2" r="0.9" fill="#7476b2"/><circle cx="20.1" cy="18.8" r="0.8" fill="#fafafa"/><circle cx="64.6" cy="33.4" r="0.9" fill="#5658a2"/><circle cx="39.0" cy="41.9" r="0.7" fill="#6a6cae"/><circle cx="5.4" cy="49.8" r="0.9" fill="#fafafa"/><circle cx="4.9" cy="31.6" r="0.7" fill="#6264a8"/><circle cx="65.5" cy="32.3" r="0.7" fill="#b8c0b0"/><circle cx="62.0" cy="38.1" r="0.5" fill="#f2f4f0"/><circle cx="28.9" cy="38.5" r="0.9" fill="#f2f4f0"/><circle cx="50.5" cy="11.2" r="0.5" fill="#fafafa"/><circle cx="33.7" cy="29.2" r="0.7" fill="#fafafa"/><circle cx="21.4" cy="11.6" r="0.8" fill="#fafafa"/><circle cx="45.9" cy="21.0" r="0.7" fill="#fafafa"/><circle cx="61.4" cy="18.7" r="0.5" fill="#f2f4f0"/><circle cx="19.8" cy="4.0" r="0.6" fill="#b8c0b0"/><circle cx="4.6" cy="27.3" r="0.7" fill="#a8b0a0"/><circle cx="29.8" cy="2.8" r="0.6" fill="#6a6cae"/><circle cx="37.9" cy="5.3" r="0.8" fill="#f2f4f0"/><circle cx="0.6" cy="58.7" r="0.8" fill="#b8c0b0"/><circle cx="48.4" cy="10.5" r="0.5" fill="#6a6cae"/><circle cx="8.0" cy="56.5" r="0.5" fill="#fafafa"/><circle cx="17.2" cy="13.2" r="0.8" fill="#7476b2"/><circle cx="32.5" cy="35.5" r="0.7" fill="#f2f4f0"/><circle cx="30.8" cy="26.6" r="0.5" fill="#f2f4f0"/><circle cx="65.2" cy="48.0" r="0.5" fill="#5658a2"/><circle cx="40.0" cy="25.2" r="0.7" fill="#6a6cae"/><circle cx="39.6" cy="53.4" r="0.6" fill="#fafafa"/><circle cx="8.9" cy="22.2" r="0.9" fill="#fafafa"/><circle cx="36.1" cy="41.3" r="0.5" fill="#5658a2"/><circle cx="24.0" cy="30.6" r="0.6" fill="#7476b2"/><circle cx="44.7" cy="35.9" r="0.8" fill="#5658a2"/><circle cx="41.3" cy="16.9" r="0.7" fill="#6264a8"/><circle cx="24.3" cy="19.4" r="0.6" fill="#6264a8"/><circle cx="26.7" cy="55.5" r="0.5" fill="#6264a8"/><circle cx="53.1" cy="1.1" r="0.8" fill="#6a6cae"/><circle cx="41.4" cy="26.6" r="0.7" fill="#f2f4f0"/><circle cx="38.8" cy="31.6" r="0.7" fill="#f2f4f0"/><circle cx="7.1" cy="33.4" r="0.5" fill="#f2f4f0"/><circle cx="0.5" cy="61.7" r="0.5" fill="#f2f4f0"/><circle cx="42.7" cy="0.1" r="0.8" fill="#6264a8"/><circle cx="34.5" cy="55.8" r="0.9" fill="#f2f4f0"/><circle cx="13.1" cy="44.6" r="0.8" fill="#7476b2"/><circle cx="56.0" cy="12.6" r="0.8" fill="#5658a2"/><circle cx="47.9" cy="1.4" r="0.9" fill="#5658a2"/><circle cx="49.0" cy="55.4" r="0.6" fill="#f2f4f0"/><circle cx="35.9" cy="28.8" r="0.9" fill="#7476b2"/><circle cx="44.4" cy="33.8" r="0.5" fill="#6a6cae"/><circle cx="14.2" cy="2.5" r="0.9" fill="#6264a8"/><circle cx="47.4" cy="43.8" r="0.7" fill="#6a6cae"/><circle cx="51.9" cy="36.3" r="0.6" fill="#f2f4f0"/><circle cx="9.5" cy="2.7" r="0.8" fill="#6264a8"/><circle cx="50.5" cy="46.0" r="0.9" fill="#7476b2"/><circle cx="11.7" cy="38.2" r="0.7" fill="#fafafa"/><circle cx="46.2" cy="8.7" r="0.9" fill="#b8c0b0"/><circle cx="35.2" cy="21.0" r="0.8" fill="#b8c0b0"/><circle cx="39.0" cy="14.8" r="0.7" fill="#f2f4f0"/><circle cx="29.2" cy="31.1" r="0.6" fill="#b8c0b0"/><circle cx="10.5" cy="7.5" r="0.6" fill="#6264a8"/><circle cx="22.1" cy="41.1" r="0.8" fill="#6264a8"/><circle cx="4.3" cy="24.2" r="0.9" fill="#f2f4f0"/><circle cx="7.9" cy="18.2" r="0.7" fill="#a8b0a0"/><circle cx="14.4" cy="42.3" r="0.9" fill="#fafafa"/><circle cx="23.3" cy="13.1" r="0.9" fill="#5658a2"/><circle cx="21.9" cy="58.9" r="0.9" fill="#b8c0b0"/><circle cx="65.1" cy="27.4" r="0.6" fill="#5658a2"/><circle cx="49.2" cy="12.0" r="0.8" fill="#b8c0b0"/><circle cx="16.8" cy="63.5" r="0.8" fill="#b8c0b0"/><circle cx="15.5" cy="17.7" r="0.9" fill="#a8b0a0"/><circle cx="3.4" cy="28.3" r="0.6" fill="#a8b0a0"/><circle cx="7.3" cy="39.8" r="0.9" fill="#f2f4f0"/><circle cx="22.7" cy="1.3" r="0.7" fill="#6264a8"/><circle cx="27.2" cy="3.3" r="0.6" fill="#a8b0a0"/><circle cx="23.6" cy="36.6" r="0.8" fill="#a8b0a0"/><circle cx="22.5" cy="62.9" r="0.5" fill="#7476b2"/><circle cx="15.5" cy="63.5" r="0.9" fill="#a8b0a0"/><circle cx="39.3" cy="4.2" r="0.7" fill="#7476b2"/><circle cx="63.2" cy="24.3" r="0.6" fill="#fafafa"/><circle cx="57.9" cy="7.6" r="0.6" fill="#a8b0a0"/><circle cx="39.2" cy="20.4" r="0.7" fill="#7476b2"/><circle cx="25.6" cy="33.4" r="0.6" fill="#fafafa"/><circle cx="36.0" cy="12.0" r="0.5" fill="#5658a2"/><circle cx="54.8" cy="22.3" r="0.5" fill="#6a6cae"/><circle cx="51.7" cy="14.6" r="0.5" fill="#fafafa"/><circle cx="44.7" cy="37.8" r="0.7" fill="#fafafa"/><circle cx="60.7" cy="11.1" r="0.5" fill="#6264a8"/><circle cx="59.0" cy="1.3" r="0.9" fill="#7476b2"/><circle cx="33.0" cy="50.2" r="0.8" fill="#a8b0a0"/><circle cx="14.6" cy="4.0" r="0.9" fill="#a8b0a0"/><circle cx="3.5" cy="52.0" r="0.8" fill="#b8c0b0"/><circle cx="14.9" cy="24.0" r="0.6" fill="#5658a2"/><circle cx="0.1" cy="20.1" r="0.8" fill="#5658a2"/><circle cx="63.4" cy="6.6" r="0.6" fill="#5658a2"/><circle cx="51.1" cy="65.7" r="0.8" fill="#fafafa"/><circle cx="30.1" cy="64.4" r="0.9" fill="#a8b0a0"/><circle cx="16.3" cy="33.9" r="0.7" fill="#5658a2"/><circle cx="35.8" cy="47.5" r="0.5" fill="#5658a2"/><circle cx="40.9" cy="7.1" r="0.8" fill="#6a6cae"/><circle cx="21.9" cy="7.7" r="0.9" fill="#6264a8"/><circle cx="61.6" cy="36.2" r="0.6" fill="#7476b2"/><circle cx="38.7" cy="17.5" r="0.9" fill="#5658a2"/><circle cx="15.8" cy="11.3" r="0.5" fill="#6a6cae"/><circle cx="50.4" cy="1.7" r="0.6" fill="#b8c0b0"/><circle cx="21.4" cy="5.4" r="0.6" fill="#5658a2"/><circle cx="62.1" cy="5.9" r="0.6" fill="#a8b0a0"/><circle cx="16.2" cy="48.8" r="0.9" fill="#5658a2"/><circle cx="41.2" cy="7.7" r="0.6" fill="#6264a8"/><circle cx="8.0" cy="48.2" r="0.8" fill="#6264a8"/><circle cx="4.3" cy="16.1" r="0.9" fill="#5658a2"/><circle cx="56.6" cy="4.9" r="0.7" fill="#5658a2"/><circle cx="14.2" cy="23.1" r="0.6" fill="#b8c0b0"/><circle cx="27.6" cy="48.6" r="0.6" fill="#6a6cae"/><circle cx="22.9" cy="7.0" r="0.8" fill="#6264a8"/><circle cx="19.8" cy="45.1" r="0.5" fill="#6264a8"/><circle cx="32.7" cy="33.9" r="0.7" fill="#6264a8"/><circle cx="60.2" cy="5.1" r="0.7" fill="#6264a8"/><circle cx="63.2" cy="6.5" r="0.9" fill="#5658a2"/><circle cx="28.3" cy="40.2" r="0.6" fill="#7476b2"/><circle cx="34.0" cy="6.7" r="0.5" fill="#7476b2"/><circle cx="30.2" cy="2.3" r="0.8" fill="#f2f4f0"/><circle cx="21.0" cy="41.3" r="0.5" fill="#5658a2"/><circle cx="4.2" cy="46.2" r="0.8" fill="#a8b0a0"/><circle cx="35.6" cy="24.5" r="0.9" fill="#b8c0b0"/><circle cx="35.1" cy="23.5" r="0.6" fill="#6264a8"/><circle cx="51.1" cy="33.0" r="0.7" fill="#7476b2"/><circle cx="9.6" cy="34.7" r="0.9" fill="#5658a2"/><circle cx="4.4" cy="46.6" r="0.8" fill="#6264a8"/><circle cx="1.7" cy="58.8" r="0.7" fill="#7476b2"/><circle cx="9.8" cy="17.9" r="0.7" fill="#5658a2"/><circle cx="33.8" cy="28.2" r="0.8" fill="#a8b0a0"/><circle cx="15.6" cy="37.9" r="0.8" fill="#7476b2"/><circle cx="35.5" cy="0.5" r="0.7" fill="#6a6cae"/><circle cx="12.5" cy="37.3" r="0.5" fill="#7476b2"/><circle cx="64.0" cy="60.4" r="0.9" fill="#f2f4f0"/><circle cx="4.9" cy="26.5" r="0.6" fill="#6a6cae"/><circle cx="23.8" cy="51.4" r="0.8" fill="#a8b0a0"/><circle cx="12.4" cy="59.5" r="0.5" fill="#fafafa"/><circle cx="42.7" cy="8.2" r="0.9" fill="#fafafa"/><circle cx="28.6" cy="22.4" r="0.8" fill="#fafafa"/><circle cx="47.6" cy="26.8" r="0.8" fill="#7476b2"/><circle cx="39.8" cy="44.6" r="0.6" fill="#a8b0a0"/><circle cx="57.1" cy="51.8" r="0.8" fill="#6264a8"/><circle cx="60.8" cy="18.2" r="0.5" fill="#6264a8"/><circle cx="37.9" cy="22.2" r="0.6" fill="#f2f4f0"/><circle cx="37.8" cy="9.9" r="0.8" fill="#5658a2"/><circle cx="28.9" cy="55.8" r="0.7" fill="#b8c0b0"/><circle cx="30.7" cy="15.5" r="0.8" fill="#b8c0b0"/><circle cx="23.4" cy="30.4" r="0.6" fill="#6264a8"/><circle cx="56.4" cy="39.3" r="0.9" fill="#a8b0a0"/><circle cx="58.2" cy="33.0" r="0.7" fill="#a8b0a0"/><circle cx="26.0" cy="44.4" r="0.9" fill="#6a6cae"/><circle cx="36.8" cy="19.1" r="0.7" fill="#6264a8"/><circle cx="2.5" cy="32.6" r="0.5" fill="#7476b2"/><circle cx="28.8" cy="44.5" r="0.8" fill="#fafafa"/><circle cx="1.7" cy="21.8" r="0.5" fill="#7476b2"/><circle cx="20.1" cy="40.3" r="0.6" fill="#5658a2"/><circle cx="44.0" cy="56.2" r="0.5" fill="#b8c0b0"/><circle cx="26.3" cy="28.5" r="0.7" fill="#7476b2"/><circle cx="23.0" cy="18.3" r="0.5" fill="#b8c0b0"/><circle cx="4.1" cy="17.7" r="0.7" fill="#fafafa"/><circle cx="16.9" cy="14.6" r="0.5" fill="#7476b2"/><circle cx="42.3" cy="62.8" r="0.8" fill="#fafafa"/><circle cx="40.1" cy="65.9" r="0.7" fill="#fafafa"/><circle cx="21.9" cy="4.2" r="0.9" fill="#6264a8"/><circle cx="2.3" cy="56.8" r="0.8" fill="#6a6cae"/><circle cx="21.2" cy="37.5" r="0.5" fill="#7476b2"/><circle cx="26.7" cy="44.4" r="0.5" fill="#a8b0a0"/><circle cx="58.6" cy="33.6" r="0.6" fill="#6a6cae"/><circle cx="55.9" cy="52.3" r="0.8" fill="#a8b0a0"/><circle cx="43.5" cy="15.9" r="0.8" fill="#f2f4f0"/><circle cx="28.2" cy="53.6" r="0.8" fill="#7476b2"/><circle cx="59.8" cy="56.6" r="0.7" fill="#a8b0a0"/><circle cx="59.8" cy="3.6" r="0.9" fill="#7476b2"/><circle cx="6.9" cy="25.8" r="0.8" fill="#b8c0b0"/><circle cx="37.7" cy="2.1" r="0.7" fill="#5658a2"/><circle cx="25.2" cy="10.0" r="0.7" fill="#6a6cae"/><circle cx="2.2" cy="2.0" r="0.7" fill="#7476b2"/><circle cx="41.5" cy="7.6" r="0.5" fill="#f2f4f0"/><circle cx="63.5" cy="15.8" r="0.7" fill="#6264a8"/><circle cx="51.6" cy="54.2" r="0.5" fill="#f2f4f0"/><circle cx="64.8" cy="24.8" r="0.7" fill="#6264a8"/><circle cx="44.5" cy="62.5" r="0.6" fill="#f2f4f0"/><circle cx="53.8" cy="59.0" r="0.8" fill="#6a6cae"/><circle cx="62.6" cy="36.8" r="0.8" fill="#f2f4f0"/><circle cx="16.5" cy="3.4" r="0.7" fill="#7476b2"/><circle cx="61.1" cy="62.9" r="0.8" fill="#fafafa"/><circle cx="41.6" cy="32.6" r="0.8" fill="#a8b0a0"/><circle cx="3.0" cy="7.9" r="0.9" fill="#fafafa"/><circle cx="58.8" cy="55.1" r="0.8" fill="#6a6cae"/><circle cx="46.2" cy="39.7" r="0.7" fill="#b8c0b0"/><circle cx="6.6" cy="6.5" r="0.7" fill="#a8b0a0"/><circle cx="46.4" cy="11.4" r="0.9" fill="#6a6cae"/><circle cx="16.4" cy="8.4" r="0.5" fill="#6a6cae"/><circle cx="39.8" cy="22.0" r="0.9" fill="#b8c0b0"/><circle cx="64.1" cy="51.5" r="0.7" fill="#6264a8"/><circle cx="63.5" cy="26.6" r="0.6" fill="#6264a8"/><circle cx="64.0" cy="64.7" r="0.8" fill="#b8c0b0"/><circle cx="20.4" cy="0.9" r="0.5" fill="#fafafa"/><circle cx="15.5" cy="50.5" r="0.8" fill="#fafafa"/><circle cx="37.9" cy="46.1" r="0.9" fill="#6264a8"/><circle cx="38.2" cy="9.3" r="0.6" fill="#a8b0a0"/><circle cx="10.5" cy="50.5" r="0.9" fill="#6a6cae"/><circle cx="49.8" cy="31.0" r="0.7" fill="#a8b0a0"/><circle cx="22.9" cy="14.7" r="0.8" fill="#5658a2"/><circle cx="45.2" cy="26.2" r="0.8" fill="#fafafa"/><circle cx="31.0" cy="5.4" r="0.7" fill="#f2f4f0"/><circle cx="11.2" cy="40.5" r="0.6" fill="#5658a2"/><circle cx="8.1" cy="50.6" r="0.5" fill="#6264a8"/><circle cx="12.9" cy="21.9" r="0.5" fill="#6a6cae"/><circle cx="59.6" cy="15.7" r="0.9" fill="#6a6cae"/><circle cx="60.7" cy="10.5" r="0.7" fill="#6264a8"/><circle cx="35.0" cy="65.1" r="0.6" fill="#f2f4f0"/><circle cx="42.5" cy="51.8" r="0.9" fill="#5658a2"/><circle cx="18.5" cy="50.0" r="0.6" fill="#6264a8"/><circle cx="35.9" cy="51.5" r="0.8" fill="#a8b0a0"/><circle cx="1.2" cy="46.7" r="0.7" fill="#6264a8"/><circle cx="60.7" cy="13.1" r="0.9" fill="#f2f4f0"/><circle cx="55.8" cy="2.3" r="0.7" fill="#fafafa"/><circle cx="47.5" cy="42.8" r="0.5" fill="#5658a2"/><circle cx="22.5" cy="62.3" r="0.7" fill="#6a6cae"/><circle cx="42.6" cy="14.0" r="0.5" fill="#f2f4f0"/><circle cx="15.1" cy="24.3" r="0.5" fill="#f2f4f0"/><circle cx="34.3" cy="24.0" r="0.6" fill="#6a6cae"/><circle cx="5.9" cy="39.7" r="0.6" fill="#fafafa"/><circle cx="57.0" cy="24.6" r="0.6" fill="#6a6cae"/><circle cx="62.8" cy="51.9" r="0.7" fill="#f2f4f0"/><circle cx="58.5" cy="1.9" r="0.8" fill="#f2f4f0"/><circle cx="47.9" cy="31.4" r="0.8" fill="#fafafa"/><circle cx="59.0" cy="22.5" r="0.8" fill="#a8b0a0"/><circle cx="47.1" cy="14.2" r="0.6" fill="#f2f4f0"/><circle cx="1.0" cy="32.5" r="0.6" fill="#6264a8"/><circle cx="24.0" cy="45.6" r="0.8" fill="#6a6cae"/><circle cx="54.5" cy="46.3" r="0.9" fill="#5658a2"/><circle cx="55.4" cy="48.4" r="0.8" fill="#5658a2"/><circle cx="34.5" cy="59.3" r="0.8" fill="#6a6cae"/><circle cx="44.7" cy="10.4" r="0.9" fill="#6a6cae"/><circle cx="12.4" cy="43.1" r="0.7" fill="#f2f4f0"/><circle cx="30.0" cy="12.4" r="0.5" fill="#fafafa"/><circle cx="12.5" cy="42.5" r="0.7" fill="#6264a8"/><circle cx="35.3" cy="16.4" r="0.7" fill="#7476b2"/><circle cx="63.4" cy="10.5" r="0.7" fill="#a8b0a0"/><circle cx="17.8" cy="22.4" r="0.8" fill="#f2f4f0"/><circle cx="48.7" cy="1.7" r="0.9" fill="#6a6cae"/><circle cx="44.4" cy="48.3" r="0.6" fill="#6264a8"/><circle cx="47.9" cy="3.9" r="0.5" fill="#fafafa"/><circle cx="28.1" cy="56.2" r="0.5" fill="#7476b2"/><circle cx="59.4" cy="47.3" r="0.7" fill="#b8c0b0"/><circle cx="22.4" cy="18.5" r="0.6" fill="#7476b2"/><circle cx="44.1" cy="26.3" r="0.6" fill="#fafafa"/><circle cx="22.2" cy="56.5" r="0.6" fill="#fafafa"/><circle cx="32.3" cy="19.3" r="0.6" fill="#7476b2"/><circle cx="55.3" cy="54.1" r="0.9" fill="#6264a8"/><circle cx="14.8" cy="41.9" r="0.8" fill="#b8c0b0"/><circle cx="27.7" cy="20.2" r="0.5" fill="#5658a2"/><circle cx="60.3" cy="14.6" r="0.5" fill="#6a6cae"/><circle cx="65.6" cy="19.9" r="0.6" fill="#5658a2"/><circle cx="64.7" cy="3.8" r="0.7" fill="#b8c0b0"/><circle cx="52.8" cy="39.8" r="0.7" fill="#7476b2"/><circle cx="25.2" cy="46.2" r="0.7" fill="#a8b0a0"/><circle cx="21.0" cy="40.2" r="0.9" fill="#6264a8"/><circle cx="63.0" cy="55.6" r="0.9" fill="#a8b0a0"/><circle cx="31.5" cy="31.7" r="0.7" fill="#5658a2"/><circle cx="8.7" cy="15.0" r="0.9" fill="#f2f4f0"/><circle cx="15.3" cy="46.8" r="0.5" fill="#a8b0a0"/><circle cx="54.1" cy="30.5" r="0.8" fill="#6264a8"/><circle cx="11.0" cy="20.4" r="0.5" fill="#5658a2"/><circle cx="50.2" cy="35.0" r="0.6" fill="#7476b2"/><circle cx="32.3" cy="60.2" r="0.9" fill="#6264a8"/><circle cx="56.0" cy="52.5" r="0.7" fill="#a8b0a0"/><circle cx="10.5" cy="21.6" r="0.6" fill="#fafafa"/><circle cx="30.9" cy="1.4" r="0.6" fill="#fafafa"/><circle cx="7.7" cy="19.9" r="0.9" fill="#f2f4f0"/><circle cx="46.9" cy="39.4" r="0.6" fill="#6264a8"/><circle cx="37.2" cy="14.7" r="0.5" fill="#fafafa"/><circle cx="64.1" cy="43.5" r="0.8" fill="#6a6cae"/><circle cx="43.6" cy="37.1" r="0.6" fill="#a8b0a0"/><circle cx="46.0" cy="61.8" r="0.7" fill="#7476b2"/><circle cx="54.8" cy="21.0" r="0.7" fill="#6264a8"/><circle cx="37.0" cy="46.8" r="0.9" fill="#6264a8"/><circle cx="45.8" cy="15.3" r="0.6" fill="#b8c0b0"/><circle cx="63.5" cy="22.7" r="0.8" fill="#6264a8"/><circle cx="54.1" cy="23.2" r="0.9" fill="#5658a2"/><circle cx="45.7" cy="33.3" r="0.8" fill="#b8c0b0"/><circle cx="57.5" cy="50.5" r="0.9" fill="#a8b0a0"/><circle cx="30.8" cy="21.3" r="0.5" fill="#5658a2"/><circle cx="41.7" cy="12.5" r="0.6" fill="#5658a2"/><circle cx="61.2" cy="40.9" r="0.9" fill="#6a6cae"/><circle cx="28.1" cy="33.5" r="0.8" fill="#5658a2"/><circle cx="38.1" cy="49.6" r="0.9" fill="#6264a8"/><circle cx="46.5" cy="8.3" r="0.9" fill="#fafafa"/><circle cx="42.3" cy="51.6" r="0.8" fill="#a8b0a0"/><circle cx="65.7" cy="64.4" r="0.6" fill="#b8c0b0"/><circle cx="38.4" cy="29.5" r="0.8" fill="#5658a2"/><circle cx="11.3" cy="51.3" r="0.6" fill="#fafafa"/><circle cx="53.6" cy="14.4" r="0.6" fill="#7476b2"/><circle cx="5.7" cy="33.1" r="0.9" fill="#f2f4f0"/><circle cx="61.1" cy="45.6" r="0.9" fill="#7476b2"/><circle cx="32.6" cy="64.8" r="0.5" fill="#fafafa"/><circle cx="18.5" cy="11.9" r="0.6" fill="#5658a2"/><circle cx="30.5" cy="29.6" r="0.9" fill="#5658a2"/><circle cx="38.7" cy="56.5" r="0.5" fill="#fafafa"/><circle cx="57.8" cy="46.6" r="0.9" fill="#a8b0a0"/><circle cx="3.6" cy="9.3" r="0.9" fill="#fafafa"/><circle cx="20.1" cy="27.0" r="0.7" fill="#b8c0b0"/><circle cx="30.3" cy="45.3" r="0.7" fill="#b8c0b0"/><circle cx="23.2" cy="43.6" r="0.7" fill="#5658a2"/><circle cx="8.7" cy="5.6" r="0.7" fill="#5658a2"/><circle cx="53.0" cy="57.4" r="0.5" fill="#f2f4f0"/><circle cx="23.5" cy="20.2" r="0.6" fill="#fafafa"/><circle cx="32.6" cy="50.4" r="0.7" fill="#a8b0a0"/><circle cx="53.3" cy="65.1" r="0.7" fill="#b8c0b0"/><circle cx="28.2" cy="7.8" r="0.8" fill="#6a6cae"/><circle cx="3.5" cy="22.6" r="0.6" fill="#6a6cae"/><circle cx="52.5" cy="19.1" r="0.6" fill="#fafafa"/><circle cx="24.0" cy="44.5" r="0.5" fill="#f2f4f0"/><circle cx="12.3" cy="43.8" r="0.5" fill="#5658a2"/><circle cx="48.9" cy="16.3" r="0.6" fill="#5658a2"/><circle cx="63.2" cy="8.0" r="0.8" fill="#f2f4f0"/><circle cx="46.5" cy="16.3" r="0.8" fill="#6264a8"/><circle cx="44.4" cy="34.1" r="0.5" fill="#7476b2"/><circle cx="33.8" cy="45.5" r="0.5" fill="#6264a8"/><circle cx="57.5" cy="5.7" r="0.5" fill="#b8c0b0"/><circle cx="46.8" cy="56.9" r="0.7" fill="#5658a2"/><circle cx="56.0" cy="19.8" r="0.6" fill="#5658a2"/><circle cx="23.9" cy="15.1" r="0.6" fill="#b8c0b0"/><circle cx="60.6" cy="59.1" r="0.6" fill="#5658a2"/><circle cx="42.6" cy="64.6" r="0.9" fill="#6a6cae"/><circle cx="0.4" cy="31.9" r="0.5" fill="#fafafa"/><circle cx="56.9" cy="35.1" r="0.6" fill="#6a6cae"/><circle cx="3.4" cy="63.0" r="0.6" fill="#b8c0b0"/><circle cx="6.7" cy="31.8" r="0.8" fill="#6264a8"/><circle cx="16.3" cy="64.5" r="0.8" fill="#f2f4f0"/><circle cx="26.9" cy="35.1" r="0.9" fill="#6264a8"/><circle cx="56.2" cy="6.6" r="0.8" fill="#6a6cae"/><circle cx="50.9" cy="57.7" r="0.9" fill="#b8c0b0"/><circle cx="41.6" cy="44.9" r="0.9" fill="#a8b0a0"/><circle cx="37.6" cy="52.8" r="0.9" fill="#6a6cae"/><circle cx="49.4" cy="19.2" r="0.5" fill="#5658a2"/><circle cx="4.2" cy="41.3" r="0.8" fill="#b8c0b0"/><circle cx="34.4" cy="45.0" r="0.7" fill="#f2f4f0"/><circle cx="55.6" cy="51.2" r="0.8" fill="#b8c0b0"/><circle cx="43.9" cy="48.9" r="0.7" fill="#b8c0b0"/><circle cx="56.6" cy="33.6" r="0.5" fill="#a8b0a0"/><circle cx="63.2" cy="58.7" r="0.5" fill="#6264a8"/><circle cx="45.3" cy="53.7" r="0.7" fill="#b8c0b0"/><circle cx="65.8" cy="28.4" r="0.8" fill="#6264a8"/><circle cx="57.9" cy="36.3" r="0.5" fill="#f2f4f0"/><circle cx="39.2" cy="29.4" r="0.8" fill="#6a6cae"/><circle cx="2.9" cy="64.6" r="0.9" fill="#f2f4f0"/><circle cx="17.4" cy="0.0" r="0.8" fill="#a8b0a0"/><circle cx="11.2" cy="58.6" r="0.6" fill="#6264a8"/><circle cx="59.6" cy="19.7" r="0.9" fill="#5658a2"/><circle cx="19.4" cy="39.2" r="0.8" fill="#7476b2"/><circle cx="11.9" cy="62.1" r="0.6" fill="#6264a8"/><circle cx="19.5" cy="40.7" r="0.6" fill="#a8b0a0"/><circle cx="45.6" cy="38.8" r="0.6" fill="#fafafa"/><circle cx="65.3" cy="52.9" r="0.6" fill="#a8b0a0"/><circle cx="6.0" cy="53.3" r="0.5" fill="#6264a8"/><circle cx="56.1" cy="44.1" r="0.7" fill="#7476b2"/><circle cx="65.3" cy="43.4" r="0.6" fill="#6a6cae"/><circle cx="58.0" cy="56.2" r="0.9" fill="#6264a8"/><circle cx="36.5" cy="6.1" r="0.8" fill="#6a6cae"/><circle cx="56.7" cy="25.1" r="0.9" fill="#f2f4f0"/><circle cx="4.2" cy="18.5" r="0.5" fill="#5658a2"/><circle cx="9.9" cy="20.2" r="0.7" fill="#7476b2"/><circle cx="2.7" cy="19.9" r="0.7" fill="#6a6cae"/><circle cx="51.8" cy="26.4" r="0.7" fill="#f2f4f0"/><circle cx="40.6" cy="28.0" r="0.6" fill="#fafafa"/><circle cx="13.5" cy="37.6" r="0.9" fill="#6264a8"/><circle cx="29.1" cy="58.4" r="0.9" fill="#6264a8"/><circle cx="17.2" cy="16.5" r="0.5" fill="#fafafa"/><circle cx="16.4" cy="39.8" r="0.9" fill="#6264a8"/><circle cx="50.9" cy="36.4" r="0.5" fill="#6a6cae"/><circle cx="0.4" cy="19.2" r="0.5" fill="#6a6cae"/><circle cx="28.3" cy="29.1" r="0.9" fill="#fafafa"/><circle cx="0.1" cy="27.7" r="0.6" fill="#b8c0b0"/><circle cx="45.8" cy="27.2" r="0.6" fill="#5658a2"/><circle cx="33.0" cy="35.5" r="0.5" fill="#a8b0a0"/><circle cx="4.5" cy="51.3" r="0.7" fill="#7476b2"/><circle cx="62.3" cy="14.6" r="0.9" fill="#6264a8"/><circle cx="45.9" cy="14.2" r="0.5" fill="#6264a8"/><circle cx="6.8" cy="62.1" r="0.7" fill="#6a6cae"/><circle cx="7.9" cy="49.1" r="0.9" fill="#b8c0b0"/><circle cx="32.8" cy="16.0" r="0.9" fill="#f2f4f0"/><circle cx="61.2" cy="31.4" r="0.5" fill="#a8b0a0"/><circle cx="27.0" cy="30.7" r="0.5" fill="#fafafa"/><circle cx="47.6" cy="49.3" r="0.7" fill="#f2f4f0"/><circle cx="22.2" cy="34.1" r="0.8" fill="#b8c0b0"/><circle cx="37.4" cy="53.7" r="0.6" fill="#6264a8"/><circle cx="44.0" cy="49.5" r="0.7" fill="#a8b0a0"/><circle cx="1.4" cy="58.0" r="0.7" fill="#a8b0a0"/><circle cx="2.4" cy="1.5" r="0.8" fill="#f2f4f0"/><circle cx="57.0" cy="35.9" r="0.9" fill="#5658a2"/><circle cx="60.4" cy="30.9" r="0.5" fill="#fafafa"/><circle cx="46.8" cy="59.1" r="0.7" fill="#6264a8"/><circle cx="28.3" cy="65.4" r="0.5" fill="#a8b0a0"/><circle cx="19.8" cy="60.9" r="0.5" fill="#fafafa"/><circle cx="48.2" cy="8.7" r="0.7" fill="#6264a8"/><circle cx="52.3" cy="29.2" r="0.6" fill="#6a6cae"/><circle cx="47.2" cy="61.7" r="0.7" fill="#f2f4f0"/><circle cx="41.8" cy="25.6" r="0.6" fill="#7476b2"/><circle cx="49.9" cy="1.6" r="0.7" fill="#6a6cae"/><circle cx="20.8" cy="55.1" r="0.9" fill="#a8b0a0"/><circle cx="55.8" cy="33.3" r="0.9" fill="#6264a8"/><circle cx="49.0" cy="7.3" r="0.7" fill="#5658a2"/><circle cx="7.9" cy="53.3" r="0.9" fill="#a8b0a0"/><circle cx="37.9" cy="18.7" r="0.6" fill="#7476b2"/><circle cx="49.8" cy="33.2" r="0.6" fill="#b8c0b0"/><circle cx="8.4" cy="38.6" r="0.6" fill="#f2f4f0"/><circle cx="63.8" cy="59.4" r="0.7" fill="#a8b0a0"/><circle cx="46.7" cy="9.7" r="0.9" fill="#5658a2"/><circle cx="63.1" cy="49.1" r="0.5" fill="#f2f4f0"/><circle cx="15.4" cy="46.6" r="0.9" fill="#b8c0b0"/><circle cx="38.3" cy="18.5" r="0.5" fill="#5658a2"/><circle cx="7.8" cy="56.3" r="0.9" fill="#fafafa"/><circle cx="32.4" cy="16.1" r="0.8" fill="#6264a8"/><circle cx="54.8" cy="51.6" r="0.8" fill="#6264a8"/><circle cx="59.1" cy="34.5" r="0.9" fill="#a8b0a0"/><circle cx="27.9" cy="43.9" r="0.9" fill="#f2f4f0"/><circle cx="22.7" cy="65.0" r="0.8" fill="#f2f4f0"/><circle cx="34.9" cy="32.1" r="0.6" fill="#7476b2"/><circle cx="55.6" cy="5.4" r="0.8" fill="#5658a2"/><circle cx="8.2" cy="50.8" r="0.7" fill="#b8c0b0"/><circle cx="24.9" cy="52.2" r="0.5" fill="#7476b2"/><circle cx="12.6" cy="2.1" r="0.5" fill="#6a6cae"/><circle cx="65.2" cy="63.6" r="0.7" fill="#7476b2"/><circle cx="18.3" cy="19.3" r="0.8" fill="#5658a2"/><circle cx="12.6" cy="36.2" r="0.8" fill="#5658a2"/></pattern><pattern id="twdense" width="64" height="64" patternUnits="userSpaceOnUse"><rect width="64" height="64" fill="#3d42a3"/><path d="M43 40l3 1l1 2l-2 1l-3 -3zM8 52l3 -1l-1 2zM2 11l6 1l-2 3zM35 20l2 -1l1 4zM22 39l-1 -1l1 -2l1 2l0 2zM27 65l-2 -1l0 -2l1 -1l3 2zM27 1l-2 -1l0 -2l1 -1l3 2zM19 33l2 2l-2 0zM8 7l0 -1l2 0zM42 50l-1 1l-1 -1l0 -1zM12 21l1 4l-3 1zM36 30l3 1l1 2l0 2l-2 -2zM52 1l-3 1l1 -2zM52 65l-3 1l1 -2zM17 45l-1 0l-2 -2l3 0zM55 51l-3 2l-1 -3zM4 40l1 3l-2 0zM28 33l1 -3l4 2l-2 3zM14 60l-1 -2l3 -1l-1 3zM55 61l-2 3l-2 -1l0 -2l2 -1zM55 -3l-2 3l-2 -1l0 -2l2 -1zM40 41l3 0l3 1l-2 2l-3 0zM6 19l1 2l-3 -1zM58 2l-2 0l0 -3zM58 66l-2 0l0 -3zM10 21l-1 -2l-1 -3l3 1l0 1zM57 5l-1 0l0 -2l2 0l0 2zM44 15l-2 -1l1 -3l1 0l1 2zM4 54l0 -1l1 -1l1 2zM42 41l1 0l2 -1l0 2l-2 1zM3 25l-4 -1l0 -3l2 1zM67 25l-4 -1l0 -3l2 1zM45 55l3 1l0 1l-1 0zM37 62l0 3l-3 0zM37 -2l0 3l-3 0zM19 36l-2 0l-2 -2l1 -1l2 1zM56 38l-2 -5l3 1zM30 26l-2 0l0 -3l1 0l1 2zM9 50l-1 0l1 -2zM45 26l1 1l-2 1zM31 61l2 -1l1 2l-1 1l-2 -1zM31 -3l2 -1l1 2l-1 1l-2 -1zM51 48l3 -1l3 4l-1 1l-3 -1zM19 21l2 -1l1 1l-2 1zM54 15l-1 -1l1 -1l2 0zM36 5l-2 2l0 -2zM15 25l2 2l0 3l-2 -1zM54 26l2 -1l2 2l-2 1zM46 8l3 0l0 2l-2 0zM19 43l-3 2l0 -3zM23 54l1 0l1 3l-2 0l0 -2zM15 48l4 -2l2 2l-3 2zM52 38l-1 3l-3 -2zM49 35l-1 -2l1 -1l1 1l0 1zM60 34l2 1l-1 1zM-4 34l2 1l-1 1zM44 31l1 1l0 2l-2 -1zM56 60l2 -2l2 1l-2 2zM33 47l-1 -1l2 -1l0 2zM59 65l-3 0l-3 -2l1 -2l3 1zM59 1l-3 0l-3 -2l1 -2l3 1zM2 39l2 -2l3 0l1 2l-3 2zM18 43l-1 2l-1 -1zM15 60l2 1l0 2l-3 -1zM15 -4l2 1l0 2l-3 -1zM47 9l5 1l-3 3zM19 51l-2 2l-2 -2zM10 32l0 2l-2 0l0 -2zM40 40l-2 0l-2 -2l2 -1l1 0zM60 51l-2 1l0 -2zM22 30l3 0l0 2zM25 31l1 2l-1 3l-1 -3zM25 29l0 2l-1 1l-1 -2zM-1 3l0 -2l2 -4l1 2l-1 3zM-1 67l0 -2l2 -4l1 2l-1 3zM63 3l0 -2l2 -4l1 2l-1 3zM63 67l0 -2l2 -4l1 2l-1 3zM54 54l4 2l-1 2zM14 39l-1 -1l2 -2l1 2zM8 55l3 0l-1 3zM19 28l1 -2l1 1zM36 3l2 -3l2 2zM36 67l2 -3l2 2zM9 14l1 -2l2 0l-1 3zM50 44l-1 0l0 -3l2 1l0 2zM9 41l1 0l-1 1l-1 0l0 -1zM18 39l3 0l-1 2zM21 24l-1 4l-2 -2zM26 40l-2 2l-2 -2l3 -1zM18 33l-1 -2l3 -3l1 2l-1 2zM53 21l0 2l-3 -1zM5 48l2 2l-2 2l-1 -1zM39 19l0 -2l1 -1l1 0l-1 2zM33 40l0 -2l2 0l0 3zM57 63l3 -1l-1 1zM57 -1l3 -1l-1 1zM35 53l2 3l-2 1zM49 9l-2 -1l0 -1l1 0l2 1zM39 35l0 -3l3 1l-1 4zM42 46l1 -1l0 2l0 0l-1 0z" fill="#d6dad2"/><path d="M55 62l0 2l-1 1l-1 -1l0 -2zM55 -2l0 2l-1 1l-1 -1l0 -2zM59 29l-1 -2l2 -1l1 1zM8 42l2 0l2 1l-2 0l-1 0zM10 30l-2 2l-2 -1l1 -2zM0 6l0 -2l2 0zM64 6l0 -2l2 0zM24 46l-1 -4l2 1zM58 33l-3 -1l2 -2zM14 25l3 -2l1 4l-3 -1zM-1 15l4 -4l1 3zM63 15l4 -4l1 3zM17 29l-2 -3l1 -4l3 4zM24 56l3 0l-1 2l-2 0zM25 37l-1 -2l3 1zM63 22l-3 -1l-1 -2l3 0l2 1zM-1 22l-3 -1l-1 -2l3 0l2 1zM13 3l2 -1l1 1l-1 2l-1 -1zM13 67l2 -1l1 1l-1 2l-1 -1zM31 30l2 3l-4 0zM12 14l-3 1l0 -3l1 -1l3 2zM48 28l0 2l-1 1l-1 -1l1 -1zM44 14l2 -2l0 2zM60 59l3 3l-2 1l-1 0l-1 -1zM60 -5l3 3l-2 1l-1 0l-1 -1zM-4 59l3 3l-2 1l-1 0l-1 -1zM-4 -5l3 3l-2 1l-1 0l-1 -1zM16 42l-1 4l-2 -2zM44 15l1 0l1 0l0 1l-2 0zM30 51l-3 4l-1 -3zM44 41l3 -4l1 2zM53 59l-3 -1l1 -1zM67 48l-5 1l1 -3zM3 48l-5 1l1 -3zM36 64l1 -2l1 2zM36 0l1 -2l1 2zM47 28l1 1l-1 1l-1 1l1 -2zM7 43l-1 -4l2 -1zM42 28l0 2l-2 1l-2 -1l3 -3zM30 12l0 1l-1 1l-1 -1l1 -1zM41 8l-2 0l1 -2zM59 50l-2 0l-2 0l2 -2l2 0zM47 45l3 0l2 1l-1 1l-4 0zM39 29l-1 4l-3 -2zM27 50l0 -1l1 -1l0 2zM15 21l3 3l-3 0zM31 19l2 2l-1 3l-4 -1l1 -2zM3 39l-4 -2l4 -1zM67 39l-4 -2l4 -1zM54 55l4 2l-3 2zM33 45l-2 2l-2 -3l3 0zM12 12l1 -2l2 -1l-1 2zM13 36l-2 2l-1 -1l1 -1zM54 41l-1 -1l1 -1l2 0zM17 52l-2 2l-4 -1l3 -2zM33 44l-4 2l-2 -1l2 -3zM42 62l-2 1l-1 -1l2 -1zM42 -2l-2 1l-1 -1l2 -1zM35 3l0 1l-1 0l-1 0l1 -1zM35 67l0 1l-1 0l-1 0l1 -1zM55 29l1 -1l2 2l0 1l-2 0zM15 11l-1 2l-2 -1l1 -2zM55 35l0 1l-1 1l0 -1zM44 31l2 1l-1 1l-1 0l-1 0zM14 10l3 -2l1 2l0 2l-2 -1zM8 41l0 3l-3 -2zM3 1l0 3l-1 2l-1 -3zM3 65l0 3l-1 2l-1 -3zM67 1l0 3l-1 2l-1 -3zM67 65l0 3l-1 2l-1 -3zM21 44l1 -2l1 1zM25 19l2 3l-2 1l-2 1l-1 -2zM16 18l-3 0l1 -3zM32 56l1 3l-3 1l-1 -3zM11 51l1 -2l1 1l0 1l-2 1zM56 50l-1 -2l1 -1l1 2zM19 45l2 1l-1 2zM36 51l1 2l0 2l-2 -2zM32 42l-3 0l0 -4l3 1zM44 42l1 -2l0 -1l2 1l-1 2zM10 16l0 1l-1 1l-1 0l1 -2zM33 41l-2 2l-2 0l1 -3l1 -1zM62 55l-2 0l0 -1zM-2 55l-2 0l0 -1zM19 25l-1 1l1 -2l1 0l1 1zM12 45l-3 -1l1 -2zM51 33l2 -1l2 1l-2 1zM15 20l1 -3l3 1l0 3l-2 1zM45 28l2 3l-1 3l-2 -2l-2 -2zM2 23l4 -1l0 3l-1 0zM24 29l-1 -2l3 0l1 1l-2 2zM44 47l-1 -1l1 -2l1 2zM11 45l-2 1l-2 -2l-1 -2l4 1zM35 43l0 -2l2 -2l0 2l0 2zM26 60l1 -1l1 1l-1 1zM26 -4l1 -1l1 1l-1 1zM55 23l2 0l-2 3l-1 -1l-2 -2zM22 63l-1 -1l0 -1l2 1zM22 -1l-1 -1l0 -1l2 1zM9 5l-1 -1l1 -1l1 1l0 1zM9 69l-1 -1l1 -1l1 1l0 1zM33 15l1 2l-3 2l0 -3zM9 18l2 -2l3 2l-1 3l-2 -2zM12 37l2 1l-1 3l-2 -1zM55 49l3 2l-3 2zM12 57l2 0l-1 3zM12 19l-3 2l-1 -3zM29 24l-1 -1l0 -2l2 2zM20 41l-3 -2l1 -2l1 1z" fill="#b8bcc8"/><path d="M32 17l-1 -2l2 -1l0 1zM22 10l-1 0l0 -2l1 0l1 2zM13 12l-3 0l0 -2l3 0zM51 50l0 -2l2 2zM64 50l-3 -2l1 -2l2 1zM0 50l-3 -2l1 -2l2 1zM23 8l1 -2l2 1l0 2l-2 0zM43 8l1 1l-3 0l-1 -1l2 -2zM15 8l2 1l1 4l-2 0l-2 -3zM37 5l-3 -1l0 -2zM37 69l-3 -1l0 -2zM4 50l3 2l-2 2l-3 1l1 -4zM53 41l-3 1l-2 -2l1 -1l2 0zM18 59l0 2l-1 1l-2 0l1 -2zM18 -5l0 2l-1 1l-2 0l1 -2zM61 29l0 1l-1 1l-1 -1l1 -1zM-3 29l0 1l-1 1l-1 -1l1 -1zM11 62l1 -2l1 1zM11 -2l1 -2l1 1zM30 52l-1 -2l2 0l1 2zM10 8l-1 -3l3 0zM62 23l2 1l-1 3l-3 -2zM-2 23l2 1l-1 3l-3 -2zM14 37l2 0l1 3l-2 0zM62 35l-3 1l-3 -3l2 -2l2 2zM49 46l2 2l-2 3l0 -3zM50 23l-2 -1l3 -2l2 2zM6 3l1 -3l3 0l0 2l0 2zM6 67l1 -3l3 0l0 2l0 2zM1 60l-1 -2l2 0l1 0l-1 1zM65 60l-1 -2l2 0l1 0l-1 1zM57 46l0 2l-2 1l-1 -1zM36 21l2 -1l2 1l-2 3zM15 10l0 -2l1 -1l2 0l-1 2zM42 19l4 3l-2 0zM1 55l-2 -2l2 0zM65 55l-2 -2l2 0zM23 11l-1 0l-1 -2l2 1zM25 59l3 3l-4 1zM25 -5l3 3l-4 1zM2 43l-1 -3l3 -1l0 3zM66 43l-1 -3l3 -1l0 3zM18 23l2 0l-1 1l0 2l-3 -2zM25 52l-1 -1l1 -1zM39 29l3 1l-1 2l-2 -1zM48 2l-2 3l-1 -2zM48 66l-2 3l-1 -2zM12 15l-2 0l-1 -1l2 -2zM19 36l1 1l-2 3l-2 0l1 -2zM58 14l0 2l-1 2l-2 -1l0 -4zM39 27l4 0l-1 2zM2 42l1 -3l1 1zM66 42l1 -3l1 1zM42 54l4 -3l2 3zM28 57l3 -1l0 3l-2 1l-1 -1zM53 10l-1 -1l3 -2l0 1l0 2zM0 22l-1 -2l3 1l-1 2zM64 22l-1 -2l3 1l-1 2zM6 62l-1 -3l1 -1l1 1l0 2zM22 48l-2 0l0 -2l1 -1l1 1zM48 47l-1 0l1 -1zM41 1l-2 1l-1 -2l2 -1zM41 65l-2 1l-1 -2l2 -1zM49 31l3 0l-1 2zM8 26l2 0l2 0l-1 2l-2 -1zM50 23l0 2l0 2l-2 0l0 -3zM43 32l-2 1l-1 -4l2 0l2 1zM45 41l4 -2l1 3zM27 36l-1 -2l1 -2l2 2zM44 62l1 -1l3 0l-2 2zM44 -2l1 -1l3 0l-2 2zM17 47l1 -1l1 0l1 1l-2 1zM48 61l1 2l-2 0zM48 -3l1 2l-2 0zM13 56l2 0l3 2l-2 2l-2 0zM20 55l-1 -1l1 -2l1 2zM43 -1l3 3l-2 1l-2 -1zM43 63l3 3l-2 1l-2 -1zM13 47l-1 1l-1 1l-1 -1l1 -1zM2 43l-1 0l-1 -2l2 -1zM66 43l-1 0l-1 -2l2 -1zM60 16l1 2l-2 1l0 -1zM45 55l2 4l-2 1zM53 42l0 2l-1 2l-1 -1l1 -2zM18 43l-1 2l-2 1l0 -3zM7 23l0 -2l3 -1l0 2l-2 2zM3 19l3 0l-1 4l-2 0zM25 62l4 0l3 2l-4 1zM25 -2l4 0l3 2l-4 1zM54 6l0 -2l2 1zM57 54l-1 -2l-1 -2l2 0l1 2zM35 61l1 3l-1 1l-1 -2zM35 -3l1 3l-1 1l-1 -2zM34 52l-1 -1l-1 -3l2 2zM53 21l0 -3l1 0l1 1l0 0zM13 14l2 0l0 2l-2 1l-1 -2zM4 54l-3 4l-1 -3zM68 54l-3 4l-1 -3zM7 39l0 -3l1 -2l2 0l-1 4zM4 2l-1 -1l1 -4l1 3zM4 66l-1 -1l1 -4l1 3zM58 57l4 0l-1 3zM-6 57l4 0l-1 3zM51 12l3 1l-2 2zM43 61l1 2l-1 1l-2 0l0 -2zM43 -3l1 2l-1 1l-2 0l0 -2zM47 50l-1 3l-3 0l0 -1l2 -1z" fill="#e2e4de"/><path d="M10 45l0 -3l2 1l0 2zM58 45l1 -1l2 1l-2 1zM40 0l1 2l-1 2l-1 0l-1 -2zM40 64l1 2l-1 2l-1 0l-1 -2zM30 33l0 4l-3 -1zM24 28l0 1l-1 1l-1 -3zM25 0l0 3l-2 -1zM25 64l0 3l-2 -1zM10 58l1 1l1 2l-2 -1zM59 13l3 1l-1 3l-3 0zM4 19l-1 -1l-1 -3l1 0l1 2zM68 19l-1 -1l-1 -3l1 0l1 2zM8 43l-2 -2l4 -1l1 2zM56 39l-1 -2l3 0l0 2zM40 43l-2 1l-2 -2l1 -2l2 0zM43 38l1 3l-4 2l-1 -2l2 -2zM34 60l-4 2l0 -3zM34 -4l-4 2l0 -3zM18 41l-1 -3l0 -3l3 3zM29 16l0 -1l1 -2l1 3zM15 58l2 0l-2 2zM6 10l2 1l-2 1l-2 -1zM1 33l0 -2l2 1zM65 33l0 -2l2 1zM26 12l-4 -2l0 -3l2 1zM33 4l0 -1l1 -1l2 1l-2 1zM33 68l0 -1l1 -1l2 1l-2 1zM57 17l-2 -2l3 0zM7 32l3 -1l1 1l0 2zM12 36l-1 2l-2 -1zM24 44l4 0l-2 1zM3 23l0 2l-3 0l-1 -2l3 -1zM67 23l0 2l-3 0l-1 -2l3 -1zM49 42l-1 0l0 -2zM13 62l2 2l-1 2l-3 -2zM13 -2l2 2l-1 2l-3 -2zM6 17l0 -3l3 -1l1 2l-2 1zM13 54l-3 -1l2 -1zM46 50l-1 -5l4 2zM65 17l-4 -2l2 -2l3 1zM1 17l-4 -2l2 -2l3 1zM39 24l1 -2l2 0l0 2l-1 1zM28 12l1 4l-2 -1zM0 53l0 -5l3 0zM64 53l0 -5l3 0zM38 53l-5 1l2 -2zM48 12l-1 -1l1 -2l1 1l0 1zM40 55l3 1l-1 1zM65 7l-3 -2l2 -2zM1 7l-3 -2l2 -2zM47 27l-1 2l0 -1zM59 7l-2 -1l0 -2l2 -1l2 3zM38 24l-2 0l0 -2zM20 37l2 1l-3 1zM6 47l-1 -1l1 -2l1 2zM38 45l1 -2l4 0l0 3l-2 0zM59 37l2 3l0 3l-2 -1l-1 -2zM9 28l0 -4l4 -1l-2 3zM49 62l1 0l1 1l0 1l-1 0zM49 -2l1 0l1 1l0 1l-1 0zM41 27l1 2l-2 1zM7 61l0 3l-1 -1zM7 -3l0 3l-1 -1zM51 20l1 1l1 3l-2 -1l-1 -2zM30 29l-2 -3l0 -2l3 1zM51 59l-4 -2l0 -3l4 1zM15 18l-1 -3l2 2zM15 58l2 1l-2 2l-1 -1zM15 -6l2 1l-2 2l-1 -1zM3 8l-1 -1l3 -1l1 1l-1 2zM19 54l3 -1l-1 2zM38 36l1 -3l3 0l-1 2zM6 41l-2 -3l4 0zM0 57l1 -1l1 1l0 1l-1 0zM64 57l1 -1l1 1l0 1l-1 0zM34 39l1 -2l1 1zM34 20l1 1l-1 1l-1 -1zM57 19l-3 -1l1 -3l2 2zM47 3l1 0l0 1l-1 -1zM47 67l1 0l0 1l-1 -1zM23 9l-2 0l-1 -3l2 1zM61 53l1 -2l3 1l-2 1zM-3 53l1 -2l3 1l-2 1zM45 58l1 2l-2 0l-1 -1zM46 15l2 1l-2 2l-2 -1zM62 7l1 0l2 2l-2 2l-2 -2zM-2 7l1 0l2 2l-2 2l-2 -2zM6 57l4 0l0 2l-3 2zM8 62l1 -1l1 2l0 1zM8 -2l1 -1l1 2l0 1zM29 48l0 2l-3 0l1 -2zM5 49l2 3l-2 0zM52 18l2 0l1 2l-1 1l-3 0zM1 49l-2 -2l0 -2l2 1zM65 49l-2 -2l0 -2l2 1zM62 59l1 -1l2 0l0 2l-2 1zM-2 59l1 -1l2 0l0 2l-2 1zM58 39l1 -3l3 1zM12 27l-3 -3l3 -3l1 2z" fill="#6a68b4"/></pattern><pattern id="twsparse" width="128" height="128" patternUnits="userSpaceOnUse"><path d="M104 13l-4 -3l2 -2zM43 26l-4 0l-4 -3l2 -3l5 4zM112 84l3 -4l2 -1l4 0l-4 3zM84 17l-2 -7l3 1zM104 120l0 -5l5 3zM58 13l0 -3l3 -7l2 3l-1 8zM101 72l5 0l3 8l-2 4l-6 -8zM22 46l2 -3l2 2zM25 7l-3 6l-3 -3zM132 65l-4 5l-4 1l3 -5zM4 65l-4 5l-4 1l3 -5zM4 55l-2 -8l6 -1zM132 55l-2 -8l6 -1zM25 91l5 4l0 6l-4 3l-3 -9zM22 118l3 2l-1 6l-2 1l-2 -5zM22 -10l3 2l-1 6l-2 1l-2 -5zM71 45l-5 4l-11 -5l5 -3l7 0zM13 117l-2 2l-2 -2zM108 79l3 -4l3 3zM16 67l-2 -2l0 -2l2 1zM38 89l3 -6l3 5zM83 -1l5 1l1 4zM83 127l5 1l1 4zM80 38l1 -4l5 -3l-1 4zM59 106l-5 -1l2 -5l5 -2l3 6zM32 21l-1 4l-5 1l-3 -3l7 -3zM82 44l-1 1l-5 -3l3 -1l3 2zM28 103l2 -3l1 2l-1 4z" fill="#3a40a2"/><path d="M35 100l10 -5l-3 7zM64 62l3 6l-5 0zM104 8l-5 2l-1 -5zM104 136l-5 2l-1 -5zM68 48l-1 4l-2 2l0 -2l0 -2zM66 100l7 2l-3 4zM79 53l-2 1l2 -6l2 1l-1 3zM98 92l-5 2l2 -4zM116 12l-2 6l-6 -4zM92 37l-3 4l-4 -7l3 -1l5 2zM79 129l2 -7l3 4zM79 1l2 -7l3 4zM89 102l4 3l-4 6l-4 -6zM55 85l-5 1l-3 -2l-1 -2l5 1zM10 121l2 -9l8 -2l-4 9zM15 36l6 -1l2 1l2 2l-7 0zM118 60l-2 2l-4 -1l-1 -3l6 -1zM15 109l-6 -2l-1 -5l5 2zM55 31l2 1l3 0l-2 3l-2 -1zM44 111l-13 3l-5 -6zM77 27l0 5l-4 0l-2 -4zM86 5l-2 16l-3 -7zM20 125l-1 -6l4 0zM20 -3l-1 -6l4 0zM90 30l1 3l0 2l-2 1l1 -3z" fill="#4046a8"/><path d="M26 11l1 6l-5 3l-2 -6zM95 7l-2 2l-8 -2l3 -2l6 -2zM95 135l-2 2l-8 -2l3 -2l6 -2zM5 66l3 1l-1 3l-2 -2zM133 66l3 1l-1 3l-2 -2zM46 48l-4 3l-6 -1l-3 -3l7 -2zM26 71l-6 1l1 -5zM22 91l-1 -4l4 1zM60 55l-1 3l-4 -2l-1 -4l3 2zM84 15l-5 1l-7 -1l3 -3l5 0zM34 107l3 -1l1 3l-3 2zM63 126l2 -3l3 0l-1 2zM63 -2l2 -3l3 0l-1 2zM15 9l0 2l-6 -2l1 -2l5 0zM123 114l-2 3l-4 2l0 -1l3 -3zM120 101l-2 3l-7 1l0 -3l4 -2zM118 39l0 -2l2 1zM107 40l-2 2l-3 -2l0 -2l2 0zM102 85l4 -1l0 3l-4 0zM99 8l-1 5l-6 1l2 -5zM79 6l-4 -1l5 -5l3 0l-1 5zM79 134l-4 -1l5 -5l3 0l-1 5zM70 77l-2 0l-2 -3l2 -2l3 3zM82 33l-7 0l0 -4zM125 23l-5 -3l1 -7l5 4zM-3 23l-5 -3l1 -7l5 4zM46 9l4 2l5 4l0 3l-5 -4zM2 13l2 6l1 10l-5 -4l-1 -6zM130 13l2 6l1 10l-5 -4l-1 -6zM24 8l0 5l-4 -2zM85 73l1 -7l3 2z" fill="#36369a"/><path d="M125 20l-3 -2l1 -2zM-3 20l-3 -2l1 -2zM43 71l1 9l-7 -2zM86 79l3 -3l3 0l-1 3l-3 2zM35 31l4 2l-3 10l-2 -6zM73 75l-1 -5l4 2zM8 125l5 2l3 5l-7 -3zM8 -3l5 2l3 5l-7 -3zM67 70l-5 0l0 -3l1 -3l4 2zM24 33l1 3l-2 1l-1 -2zM62 78l0 -2l3 1l3 1l-5 0zM113 106l-3 -1l1 -2zM37 12l3 8l-3 7l-3 -3l0 -5zM17 60l-5 5l-3 -5zM15 43l-5 3l-7 -1l7 -3zM54 68l4 -1l3 5l-6 0zM86 116l3 3l1 3l-3 -1zM87 56l9 0l1 5zM86 64l-3 -7l7 -3zM78 43l2 4l0 3l-2 -3z" fill="#4844a6"/></pattern><pattern id="twsparse2" width="128" height="128" patternUnits="userSpaceOnUse"><path d="M117 116l6 7l-6 0zM117 -12l6 7l-6 0zM120 33l2 1l0 3l-1 5l-3 -7zM70 32l2 1l-2 3l-1 -4zM97 60l-2 0l-1 -3l4 -1l0 3zM69 53l2 1l0 3l-3 -2zM127 9l-5 3l-2 -2l3 -3zM-1 9l-5 3l-2 -2l3 -3zM129 35l-5 2l1 -4zM1 35l-5 2l1 -4zM62 38l9 -2l-3 5zM121 32l8 2l1 4l-4 1zM-7 32l8 2l1 4l-4 1zM10 16l-2 2l-7 -1l2 -3l3 -1zM138 16l-2 2l-7 -1l2 -3l3 -1zM57 92l1 -3l5 1l-2 3zM49 124l-2 3l-4 0l2 -2zM49 -4l-2 3l-4 0l2 -2zM83 53l2 1l0 2l0 0l-3 -1zM49 47l2 3l-1 0zM85 132l1 -11l7 2zM85 4l1 -11l7 2zM10 100l-3 2l-1 -3zM86 37l4 2l3 2l-3 2l-2 -3zM75 57l-5 0l-5 -5l6 -2zM107 27l8 -5l0 5zM6 85l3 -1l0 1zM101 83l0 -2l2 -2l2 2l-2 3zM24 69l-3 3l-3 0l1 -3zM97 21l-3 0l-5 -3l6 0zM34 104l6 -5l3 6zM56 85l-4 2l-2 -2l1 -2zM22 115l-2 -2l1 -4l4 1l0 6zM72 113l-2 3l-3 -4l1 -3l5 2zM55 116l-2 -1l0 -4l3 0l0 5zM42 66l3 3l1 4l-4 1l0 -4zM98 119l-5 -3l0 -5l4 2zM117 91l0 7l-4 -2zM99 103l-3 -3l2 -2l4 1zM106 65l1 5l-2 2l-2 -4zM11 130l3 -6l2 3zM11 2l3 -6l2 3zM18 23l-2 5l-3 1l0 -3zM11 19l1 3l0 2l-2 1l-1 -3zM103 117l-2 -2l1 -1l2 0l0 1zM4 50l-8 0l4 -6zM132 50l-8 0l4 -6zM70 93l-8 -4l4 -1zM68 67l-2 -3l2 -5l1 5zM65 83l-3 -1l2 -6l2 4zM75 29l1 2l-4 4l-2 -3l2 -5zM103 28l-1 3l-3 -2l0 -2zM90 114l-1 3l-2 -2zM115 22l-1 -1l0 -2l2 0l1 1zM80 41l7 -3l5 4l-2 2l-4 0zM27 20l-1 3l-1 -2zM101 50l-2 -1l0 -2l1 -2l2 2zM128 25l-2 0l-1 -3l1 -1l1 2zM0 25l-2 0l-1 -3l1 -1l1 2zM69 105l7 -4l4 1l-3 2zM88 17l1 0l0 2l-1 0l-1 0zM98 89l0 5l-3 3l0 -4zM110 46l-4 1l-5 -6l7 1zM61 32l8 1l-5 5zM95 69l4 -1l1 3l-3 1zM-1 128l1 -3l4 2l0 3l-3 0zM-1 0l1 -3l4 2l0 3l-3 0zM127 128l1 -3l4 2l0 3l-3 0zM127 0l1 -3l4 2l0 3l-3 0zM15 6l-4 -2l-2 -3l0 -2l4 3zM15 134l-4 -2l-2 -3l0 -2l4 3zM63 6l-1 3l-5 1l-1 -4l2 -1zM118 21l2 -3l4 3zM67 80l4 3l-2 6l-2 -5zM18 101l6 9l-1 8l-5 -5zM4 37l3 -3l3 2l-2 2zM31 59l5 2l-2 3zM64 69l0 -2l3 1l0 2l-1 0zM20 46l2 4l-3 1zM32 117l-3 -1l3 -3l1 2zM77 93l1 -2l2 -2l2 2l-3 3zM31 25l3 9l-5 -2zM89 101l-1 -2l3 -2l0 3zM26 82l2 7l-6 -1zM63 64l6 -3l-2 3zM70 41l-1 3l-2 0l-1 -3l3 -1zM122 5l-2 -1l0 -1l1 -1l2 2zM122 133l-2 -1l0 -1l1 -1l2 2zM-6 5l-2 -1l0 -1l1 -1l2 2zM-6 133l-2 -1l0 -1l1 -1l2 2zM111 92l-2 -1l0 -4l1 0l1 3zM10 14l-3 -1l3 -1l1 1zM6 69l2 -3l3 -1l0 1l-2 2zM97 66l-4 0l-5 -4l3 -4l4 5zM117 122l0 -2l2 0l3 1l-3 3zM117 -6l0 -2l2 0l3 1l-3 3zM49 39l1 4l-2 -2zM85 120l1 4l-4 2l-2 -5zM85 -8l1 4l-4 2l-2 -5zM29 45l1 2l-2 3l-2 0l1 -4zM105 38l3 3l1 3l-4 -1l-3 -1zM52 77l3 -1l3 2l-2 2l-2 -1zM44 86l-1 4l-7 -1l1 -3l3 -2zM102 31l-1 8l-6 6l0 -10zM21 8l2 2l-2 1zM72 41l3 0l1 3l-4 0zM119 20l0 2l-2 0l-1 -1l1 -2zM5 48l2 -8l4 4zM14 69l0 -3l2 -1l0 2zM25 99l1 -4l2 -2l2 1l0 5zM12 86l-4 -4l3 -3zM21 89l-3 -2l1 -2zM57 43l-1 4l-2 -2zM33 65l2 1l0 4l-3 -3zM45 26l-6 -1l3 -4l6 1zM110 45l-2 3l-4 3l-2 -3l4 -5zM68 18l5 -1l5 1l-2 2l-3 0zM-2 31l2 -3l3 1l-2 3zM126 31l2 -3l3 1l-2 3zM7 74l1 -4l2 -1l3 0l-3 5zM-6 74l8 -2l5 2l-2 4l-5 0zM122 74l8 -2l5 2l-2 4l-5 0zM26 57l1 0l3 1l-2 1l-2 1zM6 76l7 8l-5 2zM23 76l-3 -2l0 -6l3 4zM4 27l0 -2l1 -3l2 3zM132 27l0 -2l1 -3l2 3zM93 46l9 -8l0 5zM71 54l2 -3l3 -1l2 2l-4 4zM128 89l-6 -3l2 -4zM0 89l-6 -3l2 -4zM50 93l6 2l-3 3zM111 48l2 1l-1 4l-1 1l-1 -3zM46 19l-6 4l-2 -2l3 -4zM47 59l0 8l-6 -3zM115 50l3 -6l4 3zM52 9l3 -1l2 2l0 5l-4 -1zM55 89l-2 0l1 -4l2 2zM6 121l0 -3l5 0l0 5l-4 1zM105 59l-3 1l-3 -3l5 -2zM22 38l2 3l2 9l-7 -9zM127 112l-2 -3l3 -5l2 4zM-1 112l-2 -3l3 -5l2 4zM32 59l0 -3l1 -1l1 0l0 2zM18 53l2 3l1 8l-4 -2l-3 -5zM-2 121l1 -4l4 -2l1 2l-2 4zM126 121l1 -4l4 -2l1 2l-2 4z" fill="#3a40a2"/><path d="M15 22l3 3l-1 4zM25 59l2 3l-5 4l-4 -1l5 -6zM24 25l-2 -1l-1 -5l2 2l2 3zM92 105l-1 3l-2 0l1 -3zM114 84l2 -11l5 -6l-2 10zM-1 107l2 -4l6 -4l1 3l-4 3zM127 107l2 -4l6 -4l1 3l-4 3zM61 5l2 -3l1 2l-1 3zM61 133l2 -3l1 2l-1 3zM11 68l0 -1l4 -1l1 1l-3 2zM93 84l3 -2l3 1l1 2l-4 1zM117 91l-4 -1l0 -6l5 3zM126 91l0 4l-5 2l0 -4l2 -1zM-2 91l0 4l-5 2l0 -4l2 -1zM103 17l-3 4l-1 -5zM124 54l-2 1l-3 -1l1 -2l3 1zM-4 54l-2 1l-3 -1l1 -2l3 1zM111 38l-5 -7l5 0zM101 39l0 -3l2 -4l2 2l0 2zM76 46l3 -5l6 7l-8 1zM3 44l1 0l1 1l-1 1l-2 -1zM131 44l1 0l1 1l-1 1l-2 -1zM28 53l-2 4l-1 -3zM65 86l-6 1l-5 -1l1 -4l5 2zM62 46l0 -1l0 -2l2 1l0 3zM101 23l3 -2l2 1l-1 2l-1 1zM75 96l6 -3l1 5zM45 96l-2 -1l-1 -1l3 -1zM79 81l7 -6l3 3l-1 4zM38 108l1 -2l2 1l-1 3zM100 27l-4 0l-2 -3l1 -1l2 1zM111 37l-4 -1l-4 -3l2 -4l4 4zM126 100l-2 -2l3 -1l0 2zM-2 100l-2 -2l3 -1l0 2zM19 82l-3 -2l3 -1l1 2zM73 127l-3 -2l1 -2l1 0l1 1zM73 -1l-3 -2l1 -2l1 0l1 1zM6 118l0 2l-2 0l-2 -1l2 -2zM134 118l0 2l-2 0l-2 -1l2 -2zM123 85l-6 -4l3 -4l3 4zM-5 85l-6 -4l3 -4l3 4zM103 70l-1 -3l3 -3l1 3zM119 94l6 -9l4 3zM-9 94l6 -9l4 3zM101 68l-1 2l-1 2l0 -3zM86 36l3 -3l6 1l0 3l-6 1zM107 33l-3 3l-5 -3l2 -2l3 -1zM107 128l0 -3l3 0l0 2l-1 2zM107 0l0 -3l3 0l0 2l-1 2zM21 104l4 2l0 5l-3 -3zM114 27l0 2l-2 0zM-1 7l2 0l1 2l-2 -1zM127 7l2 0l1 2l-2 -1zM43 122l-4 -3l3 -3l2 3zM33 51l0 -3l3 1zM119 25l3 1l-1 1zM22 95l-2 -1l-1 -3l2 2zM13 26l0 4l-3 4l0 -3l0 -3zM41 87l3 -4l3 2l-1 3zM79 13l-2 5l-1 -3zM91 14l6 -5l4 4l-5 5zM102 31l-3 3l-3 -2zM85 11l-7 1l1 -4zM92 4l-2 0l-3 -3l3 -1zM92 132l-2 0l-3 -3l3 -1zM105 67l3 -6l1 6zM121 111l5 1l3 2l-4 -1zM-7 111l5 1l3 2l-4 -1zM108 49l-4 1l0 -5l3 1l1 2zM43 -3l-2 5l-6 4l1 -6zM43 125l-2 5l-6 4l1 -6zM83 67l3 -3l5 6l-5 0zM64 17l4 -3l3 0l0 4zM82 44l1 3l-3 2l-1 -3zM105 110l0 -3l1 -2l1 3zM105 65l4 3l0 5l-4 -3zM10 95l-2 -1l2 -2zM28 85l1 -4l4 1l0 5l-3 1zM68 40l1 4l-3 1zM33 120l2 -2l2 0l0 1l-3 1zM12 90l2 -4l3 1l-1 2zM47 65l-6 3l-3 0l1 -4zM113 68l-4 4l-2 -2zM57 109l2 -1l1 1l0 1l-3 0zM125 112l-1 1l-1 0l1 -2zM-3 112l-1 1l-1 0l1 -2zM18 39l-8 -5l6 -2zM9 5l0 -7l5 2zM9 133l0 -7l5 2zM111 41l2 7l-4 4l-3 -5zM43 10l4 3l3 6l-7 -5zM106 16l0 4l-3 -1zM82 55l3 -1l1 4zM85 103l4 -6l5 -2l2 1l-6 6zM93 74l-3 6l-9 -1l6 -5zM94 46l6 4l1 7l-4 -3l-5 -3zM0 130l0 -4l5 -3l-1 4zM0 2l0 -4l5 -3l-1 4zM128 130l0 -4l5 -3l-1 4zM128 2l0 -4l5 -3l-1 4zM116 118l1 2l-1 1l-1 0l0 -1zM87 43l2 -1l2 2l0 4l-5 -3zM53 78l4 1l3 4l-2 1l-4 -2zM14 63l-3 4l-3 -1l1 -4zM5 27l0 -4l5 -2l-1 5zM2 22l-3 0l-1 -5l3 0l2 3zM130 22l-3 0l-1 -5l3 0l2 3zM54 63l-1 -3l1 -4l1 2l1 4zM59 120l2 2l-3 2l-1 -3zM59 -8l2 2l-3 2l-1 -3zM120 117l3 -5l5 2zM-8 117l3 -5l5 2zM42 48l-7 -3l3 -8zM45 42l-4 -5l3 -4l2 2l2 3zM38 61l-1 -3l1 -1l1 0l0 2zM67 57l-1 2l-3 0l-1 -2l3 -1zM74 50l-3 -3l1 -4l4 0l0 4zM108 127l-3 -4l2 -4l3 4zM108 -1l-3 -4l2 -4l3 4zM107 99l4 -1l4 3l-3 3l-4 -2zM84 62l-5 5l-5 2l2 -5zM118 84l-1 9l-3 -2zM103 37l4 3l0 5l-2 1l-2 -3zM16 81l1 2l-4 -1l-3 -1l4 -1zM67 17l2 1l1 4l-1 2l-3 -3zM42 71l-1 -3l1 -2l2 1l0 2zM51 91l1 5l-2 0zM23 17l0 2l-3 2l-5 -2l4 -5zM47 101l-4 2l-5 -3l7 -2zM72 84l1 5l-1 4l-3 1l1 -5zM41 83l-2 -6l5 0l3 4zM100 82l-5 0l-1 -4l1 -2l3 2zM88 90l-5 -1l-5 -5l2 -1l6 1zM89 6l4 2l1 4l-5 0l0 -3zM6 1l4 5l-4 2zM6 129l4 5l-4 2zM10 92l4 1l-1 3l-3 1zM57 52l3 7l-6 1zM96 118l10 -4l5 4l-4 4z" fill="#4046a8"/><path d="M3 38l1 4l-4 -3zM131 38l1 4l-4 -3zM51 68l1 -5l6 0l-2 6zM100 30l-3 -4l2 -2zM83 86l-1 -9l7 1zM66 111l3 -5l8 2l0 3l-7 3zM80 10l-8 2l1 -3zM103 13l4 -2l1 4l-3 2zM103 91l-6 -3l-2 -3l4 -1l4 1zM92 45l-4 13l-5 -3zM118 81l-2 4l-5 5l-2 -2l3 -5zM75 88l-5 1l-4 1l1 -3l3 0zM21 84l-3 9l-3 -5zM108 79l-3 0l-5 -3l1 -2l5 2zM68 105l2 4l-1 3l-2 1l0 -4zM67 29l-1 -3l3 0l0 2zM29 52l-2 2l-1 -2l1 -1zM47 124l-1 -2l2 -1zM47 -4l-1 -2l2 -1zM54 43l3 0l-3 5l-3 -2zM110 102l-3 -2l2 -1l2 1zM55 113l3 4l-3 3l-2 -2zM125 86l-4 -4l-2 -6l5 4zM-3 86l-4 -4l-2 -6l5 4zM2 66l-2 0l-1 -4l2 -1l3 2zM130 66l-2 0l-1 -4l2 -1l3 2zM96 58l0 -2l2 1l0 2zM43 31l-1 -4l2 -6l3 3l0 4zM15 100l-5 -6l4 -6l4 5zM88 25l-3 -1l-1 -3l3 1zM85 100l5 0l7 5l-2 2l-4 1zM99 83l2 1l3 3l-5 0l-2 -2zM23 6l-3 -5l5 0zM23 134l-3 -5l5 0zM38 15l0 2l-3 1l-1 -2l2 -2zM110 21l-1 -8l3 -1l2 5zM110 71l1 -1l2 -1l1 2l-3 2zM69 13l-6 3l-4 -5l0 -4l5 2zM77 83l5 -1l5 4l-3 3l-4 -2zM13 91l-4 9l-6 -4zM117 57l-6 -1l2 -3zM98 55l0 3l-2 0zM88 125l-9 -2l3 -5zM88 -3l-9 -2l3 -5zM23 70l1 -4l2 -2l2 4zM70 122l2 -3l2 1l-2 2zM23 90l1 0l2 4l-3 -1l-1 -1zM83 49l-1 5l-6 0l1 -5l2 -2zM16 59l3 4l-2 2l-3 -3zM118 73l0 2l-3 -2l-2 -3l5 1zM89 22l-3 -4l3 0zM73 21l-4 0l2 -3l1 -3l3 4zM45 94l3 2l-2 1zM121 47l-5 -2l3 -2zM27 31l-4 0l3 -4zM-3 71l7 1l1 5l-4 3l-3 -4zM125 71l7 1l1 5l-4 3l-3 -4zM100 48l-3 -5l0 -5l3 3zM10 104l-5 2l-4 -2l3 -3zM138 104l-5 2l-4 -2l3 -3zM5 40l3 -3l3 0l2 1l-3 2zM79 100l5 -4l4 1zM10 11l-3 -3l2 -2zM34 82l1 -1l2 0l0 2zM25 72l-6 -2l-1 -4zM88 94l2 2l0 4l-3 -4zM64 17l0 4l-5 0l2 -4zM51 90l1 5l-2 1zM78 101l-2 -1l0 -1l3 -1zM66 64l1 4l-1 5l-3 -1l1 -3zM84 85l-3 -6l4 0zM41 110l1 1l-3 0l0 -1l1 -1zM91 80l-2 0l1 -4l4 -1l1 4zM111 99l3 5l-1 2l-3 0zM8 104l2 3l0 4l-2 -3zM114 121l-1 -10l7 2zM35 2l-2 4l-4 1l3 -4zM35 130l-2 4l-4 1l3 -4zM103 24l-2 -4l-2 -5l4 0l3 5zM103 90l3 -1l2 4l-3 0zM37 65l4 2l2 3l-3 -1zM79 68l-3 4l-5 3l0 -3l3 -3zM13 85l1 4l-3 1l-3 -1l2 -4zM75 81l3 3l-2 5l-3 -4zM88 125l-5 -1l-3 -5l7 1zM88 -3l-5 -1l-3 -5l7 1zM102 -1l2 1l-1 2l-2 0zM102 127l2 1l-1 2l-2 0zM21 12l0 2l-1 1l-2 -1l1 -2zM97 100l4 8l-4 -1zM111 99l0 5l-2 -1zM10 115l0 -2l1 -1l1 2zM73 41l-2 -2l0 -4l3 3zM50 61l-1 3l-2 1l-1 -2zM18 77l3 2l-2 2l-2 1l-1 -3zM83 68l2 -3l3 1zM27 96l-1 2l-3 2l-3 -1l4 -4zM68 95l-3 -6l0 -5l4 2zM61 95l5 1l2 4l-6 0zM58 59l3 -3l1 4zM22 102l0 4l-2 -2zM21 66l-2 0l0 -4l2 1zM107 114l-1 -1l-1 -2l2 -1l1 3zM67 63l-2 -1l-1 -3l2 1zM126 38l0 2l-2 -1l-1 -2zM-2 38l0 2l-2 -1l-1 -2zM84 84l0 -2l2 -1l0 3zM20 31l4 0l1 3l-2 2l-3 -2zM64 20l-1 2l-3 -2l0 -1l3 0zM104 69l2 -9l4 0l-1 4zM38 63l3 -2l4 1l-2 3zM72 85l4 -1l1 3l1 3l-4 -3zM73 73l-4 6l-3 1l1 -5zM52 70l-3 2l-1 -4zM53 48l2 -4l4 3zM34 35l0 4l-2 3l-2 -2l1 -2zM97 35l0 7l-3 4l-2 -8zM10 113l2 4l-3 -1zM5 67l0 -2l2 0l1 0l-1 2zM133 67l0 -2l2 0l1 0l-1 2zM19 42l0 4l-3 3l-1 -2l2 -4zM108 47l3 2l2 2l-1 5l-5 -5zM25 107l-4 6l-5 3l1 -5l2 -2zM23 73l-5 -2l-1 -4l4 1zM104 47l-2 1l-2 0l0 -2zM58 67l-3 1l-3 -1l4 -1zM111 65l1 -2l3 1l-2 2zM4 52l-5 3l-6 -4l7 -2zM132 52l-5 3l-6 -4l7 -2zM8 18l-3 4l-5 5l-4 -3l7 -6zM136 18l-3 4l-5 5l-4 -3l7 -6zM84 38l7 -2l3 3l-4 2zM104 130l-5 1l0 -5l1 -2l2 2zM104 2l-5 1l0 -5l1 -2l2 2zM119 37l-4 1l0 -5l4 -1zM65 72l-4 -3l1 -4l3 3zM41 13l-1 -1l0 -5l3 2l1 3zM9 52l-5 0l1 -5l4 1zM74 59l-1 3l-2 1l-2 0l3 -3zM118 26l2 -1l2 1l-2 2z" fill="#36369a"/><path d="M81 114l-1 2l-1 1l-2 -1l2 -1zM86 39l-1 2l-2 -1zM45 36l2 -1l4 3l-3 1l-2 -1zM55 3l2 -2l3 4l-1 2l-5 -1zM55 131l2 -2l3 4l-1 2l-5 -1zM100 119l3 1l2 2l-2 2l-2 0zM100 -9l3 1l2 2l-2 2l-2 0zM93 41l7 5l-4 2zM37 52l-7 5l0 -4zM28 69l3 1l1 3l-1 2l-3 -3zM100 3l6 0l-4 4zM100 131l6 0l-4 4zM31 13l-5 -6l5 -3zM124 43l1 2l-3 1l-1 -3l2 -1zM-4 43l1 2l-3 1l-1 -3l2 -1zM125 17l4 1l0 3l-5 -1zM-3 17l4 1l0 3l-5 -1zM94 71l2 -1l4 2l0 2l-3 1zM79 99l2 -1l0 3l-2 1l-1 -1zM92 59l4 1l0 2l-3 0zM61 17l-1 5l-4 3l-4 2l5 -9zM124 72l-2 -6l4 1zM-4 72l-2 -6l4 1zM90 17l2 -1l5 2l-2 2l-4 0zM70 12l1 3l-1 2l-2 0l1 -2zM107 124l-1 0l-2 -3l2 0l2 2zM107 -4l-1 0l-2 -3l2 0l2 2zM84 11l3 5l-3 5l-2 -3zM78 51l-2 0l-1 -2l2 -1l1 1zM41 77l3 -3l5 -1l-4 3zM19 79l-6 -7l6 0zM15 57l-1 -2l1 -1zM55 13l-2 4l-2 2l1 -4zM59 45l-1 -4l6 -5l1 4l-1 4zM10 14l-1 4l-3 -1zM48 72l-7 4l-2 -4l3 -3zM115 124l5 4l0 4l-4 -4zM115 -4l5 4l0 4l-4 -4zM14 2l4 -3l-2 4zM14 130l4 -3l-2 4zM2 92l-3 -5l4 -2zM130 92l-3 -5l4 -2zM122 104l2 4l-5 4l0 -4zM4 115l4 -7l2 3zM71 57l1 3l-5 -1l-1 -1l3 -2zM5 102l0 2l-2 1l-1 -2l1 -2zM133 102l0 2l-2 1l-1 -2l1 -2zM95 19l4 -2l3 2l0 2l-3 2zM21 118l-2 2l-2 -1l2 -1zM23 106l0 -8l5 5zM64 75l2 2l-1 2l-2 -1zM0 112l-2 -2l3 -2l0 2zM128 112l-2 -2l3 -2l0 2zM48 23l0 -6l0 -3l4 0l0 6zM18 44l1 3l-2 -1zM108 66l-1 -3l3 -2l3 3l-2 2zM61 95l0 -4l8 2l-6 3zM44 123l4 -1l-1 3zM44 -5l4 -1l-1 3zM22 78l0 7l-4 3l0 -7zM63 54l-1 -3l3 -3l0 4zM10 107l4 -4l1 3zM75 77l-3 7l-3 -3zM62 51l-1 -7l6 -1zM88 105l-1 5l-3 2l-1 -5zM35 10l-3 2l-5 -1l0 -2l5 -2zM96 73l-3 1l-3 0l-2 -1l7 -2zM37 104l-9 -2l4 -2zM59 21l6 -2l2 4l-4 0zM120 109l-6 -7l6 -2zM47 78l2 1l0 3l-2 2l-3 -4zM61 39l3 0l1 4l-3 1l-1 -2zM106 114l4 1l-1 3zM106 13l-1 2l-3 -3l1 -2l3 1zM100 113l1 -4l3 -2l2 0l-1 3zM56 25l1 3l-2 -1zM78 102l4 0l-1 3l-3 -1zM60 59l1 -1l1 2zM36 58l-5 0l3 -4zM21 98l-1 2l-2 1l1 -3zM121 4l-1 -2l3 -3l1 4zM121 132l-1 -2l3 -3l1 4zM-7 4l-1 -2l3 -3l1 4zM-7 132l-1 -2l3 -3l1 4zM38 30l7 -6l1 6zM124 113l-3 1l-3 -3l2 -2l3 0zM-4 113l-3 1l-3 -3l2 -2l3 0zM58 125l-1 -4l7 -1l-3 6zM58 -3l-1 -4l7 -1l-3 6zM42 14l6 -1l-4 6zM108 34l-3 5l-4 1l3 -4zM16 73l-4 7l-2 -5zM127 75l3 4l-4 0zM-1 75l3 4l-4 0zM111 10l1 4l-3 0zM66 86l1 3l-3 2l-1 -3zM86 102l5 0l-1 9l-6 -4zM18 41l-1 4l-3 -1zM125 41l1 3l-3 -1zM-3 41l1 3l-3 -1zM67 93l9 -2l3 3zM61 68l-7 4l-3 -6l4 -1zM74 43l4 4l-3 1zM49 115l7 2l-3 5zM62 5l0 -4l2 1l1 5zM62 133l0 -4l2 1l1 5zM106 110l7 -2l6 0l-2 4l-4 1zM110 7l-4 -5l1 -5l5 3zM110 135l-4 -5l1 -5l5 3zM2 119l1 4l-3 1l-3 -3zM2 -9l1 4l-3 1l-3 -3zM130 119l1 4l-3 1l-3 -3zM130 -9l1 4l-3 1l-3 -3zM110 54l5 -7l6 2zM63 12l1 -2l3 2l2 2l-6 0zM10 120l9 -1l6 2l-4 2l-4 0zM10 -8l9 -1l6 2l-4 2l-4 0zM51 8l2 1l-2 3zM15 52l3 0l0 2l-1 0l-2 -1zM65 103l3 5l-3 5l-4 -5zM55 83l-1 2l-2 0l0 -2zM29 54l-3 -1l-2 -4l3 1zM51 118l-2 8l-2 -3zM51 -10l-2 8l-2 -3zM61 103l-1 -4l3 1zM81 122l2 5l-2 0zM81 -6l2 5l-2 0zM22 45l0 3l-2 1l-2 -2zM32 63l1 -4l2 -3l2 1l-3 3zM22 18l1 2l-3 4l0 -5zM32 85l-1 4l-1 -1zM49 112l-2 -3l1 -3l2 4zM109 101l2 3l-2 -1zM108 62l2 -8l8 -2l-5 9zM107 52l5 4l-4 1zM53 50l-1 -4l3 1zM115 122l-3 6l0 -5zM115 -6l-3 6l0 -5zM113 43l-1 2l-2 -1zM41 75l3 4l-3 0zM41 36l-1 -5l6 1l-1 6zM102 0l3 -2l2 4l0 3l-4 -2zM102 128l3 -2l2 4l0 3l-4 -2zM34 51l-1 -2l2 0zM79 91l2 -4l4 1l2 3l-5 2zM35 20l3 -1l1 3l0 2l-5 -1zM82 55l-1 -2l0 -4l1 -1l2 4zM67 55l7 -1l3 5l-1 3l-5 -2zM114 53l-2 2l-1 -4l2 -3l1 3zM10 -3l5 4l-4 3zM10 125l5 4l-4 3z" fill="#4844a6"/></pattern><pattern id="cells0" width="100" height="100" patternUnits="userSpaceOnUse"><rect width="100" height="100" fill="#747474"/><g fill="#5c5c5c"><circle cx="1" cy="78" r="1.7"/><circle cx="47" cy="73" r="2.2"/><circle cx="69" cy="67" r="3.2"/><circle cx="48" cy="54" r="2.8"/><circle cx="78" cy="61" r="3.1"/><circle cx="38" cy="57" r="2.1"/><circle cx="87" cy="83" r="1.6"/><circle cx="36" cy="76" r="1.9"/><circle cx="51" cy="34" r="3.0"/><circle cx="62" cy="41" r="2.2"/><circle cx="94" cy="46" r="2.2"/><circle cx="77" cy="97" r="2.6"/><circle cx="12" cy="12" r="3.2"/><circle cx="62" cy="49" r="2.3"/><circle cx="85" cy="86" r="1.8"/><circle cx="2" cy="2" r="2.8"/><circle cx="99" cy="80" r="1.9"/><circle cx="41" cy="90" r="1.6"/><circle cx="59" cy="65" r="2.6"/><circle cx="61" cy="50" r="1.9"/><circle cx="96" cy="76" r="2.9"/><circle cx="48" cy="93" r="2.2"/><circle cx="92" cy="55" r="1.6"/><circle cx="83" cy="99" r="2.7"/><circle cx="91" cy="50" r="2.3"/><circle cx="71" cy="86" r="2.4"/><circle cx="92" cy="86" r="1.8"/><circle cx="84" cy="56" r="1.6"/><circle cx="41" cy="58" r="2.0"/><circle cx="7" cy="64" r="3.0"/><circle cx="72" cy="5" r="3.0"/><circle cx="6" cy="90" r="2.1"/><circle cx="38" cy="27" r="2.3"/><circle cx="48" cy="45" r="1.5"/><circle cx="23" cy="79" r="2.6"/><circle cx="71" cy="7" r="2.5"/><circle cx="37" cy="100" r="2.8"/><circle cx="67" cy="75" r="1.8"/><circle cx="85" cy="43" r="2.6"/><circle cx="9" cy="44" r="2.8"/><circle cx="62" cy="36" r="2.6"/><circle cx="43" cy="28" r="2.6"/><circle cx="57" cy="14" r="2.0"/><circle cx="27" cy="17" r="2.7"/><circle cx="75" cy="16" r="2.3"/><circle cx="63" cy="71" r="1.5"/><circle cx="28" cy="42" r="2.1"/><circle cx="3" cy="92" r="3.0"/><circle cx="10" cy="28" r="1.6"/><circle cx="78" cy="28" r="2.3"/><circle cx="63" cy="23" r="2.7"/><circle cx="25" cy="64" r="3.1"/><circle cx="36" cy="81" r="2.9"/><circle cx="70" cy="26" r="2.5"/><circle cx="40" cy="86" r="1.7"/><circle cx="43" cy="85" r="2.3"/><circle cx="63" cy="1" r="1.9"/><circle cx="35" cy="60" r="2.3"/><circle cx="43" cy="90" r="3.0"/><circle cx="52" cy="13" r="1.7"/><circle cx="55" cy="49" r="2.4"/><circle cx="60" cy="70" r="1.7"/><circle cx="8" cy="19" r="2.6"/><circle cx="45" cy="28" r="2.6"/><circle cx="76" cy="53" r="2.1"/><circle cx="27" cy="74" r="3.1"/><circle cx="44" cy="24" r="2.0"/><circle cx="16" cy="45" r="1.6"/><circle cx="71" cy="4" r="2.3"/><circle cx="81" cy="96" r="2.2"/><circle cx="55" cy="20" r="2.2"/><circle cx="44" cy="35" r="2.6"/><circle cx="31" cy="47" r="2.6"/><circle cx="77" cy="17" r="2.9"/><circle cx="61" cy="78" r="2.3"/><circle cx="35" cy="54" r="2.9"/><circle cx="3" cy="36" r="1.8"/><circle cx="93" cy="38" r="2.1"/><circle cx="42" cy="28" r="2.0"/><circle cx="13" cy="50" r="1.7"/><circle cx="26" cy="89" r="1.7"/><circle cx="44" cy="53" r="3.0"/><circle cx="72" cy="87" r="1.7"/><circle cx="24" cy="40" r="2.1"/><circle cx="39" cy="74" r="2.1"/><circle cx="55" cy="99" r="2.3"/><circle cx="52" cy="56" r="2.7"/><circle cx="96" cy="32" r="2.0"/><circle cx="12" cy="42" r="2.0"/><circle cx="37" cy="33" r="2.1"/><circle cx="62" cy="70" r="2.7"/><circle cx="81" cy="7" r="1.9"/><circle cx="44" cy="43" r="2.1"/><circle cx="2" cy="76" r="2.2"/><circle cx="11" cy="14" r="2.9"/><circle cx="69" cy="67" r="2.9"/><circle cx="3" cy="66" r="2.5"/><circle cx="61" cy="32" r="2.2"/><circle cx="11" cy="25" r="1.7"/><circle cx="3" cy="97" r="2.2"/><circle cx="46" cy="55" r="2.3"/><circle cx="59" cy="6" r="2.0"/><circle cx="91" cy="7" r="2.8"/><circle cx="33" cy="28" r="2.8"/><circle cx="40" cy="52" r="2.9"/><circle cx="11" cy="9" r="2.1"/><circle cx="34" cy="47" r="3.0"/><circle cx="9" cy="51" r="2.6"/><circle cx="45" cy="59" r="2.2"/><circle cx="23" cy="58" r="1.7"/><circle cx="40" cy="8" r="3.0"/><circle cx="75" cy="10" r="1.7"/><circle cx="95" cy="82" r="2.3"/><circle cx="30" cy="66" r="2.9"/><circle cx="3" cy="75" r="1.7"/><circle cx="51" cy="29" r="1.9"/><circle cx="37" cy="29" r="2.5"/><circle cx="40" cy="48" r="2.2"/><circle cx="40" cy="69" r="3.0"/><circle cx="22" cy="50" r="3.0"/><circle cx="33" cy="54" r="2.8"/><circle cx="17" cy="10" r="2.9"/><circle cx="49" cy="79" r="3.1"/><circle cx="56" cy="80" r="1.9"/><circle cx="22" cy="98" r="1.8"/><circle cx="8" cy="38" r="2.7"/><circle cx="19" cy="54" r="3.0"/><circle cx="98" cy="89" r="3.1"/><circle cx="24" cy="23" r="3.0"/><circle cx="14" cy="76" r="2.3"/><circle cx="43" cy="80" r="3.2"/><circle cx="33" cy="26" r="2.8"/><circle cx="29" cy="38" r="2.4"/><circle cx="19" cy="19" r="2.7"/><circle cx="18" cy="95" r="2.4"/><circle cx="83" cy="18" r="3.1"/><circle cx="1" cy="55" r="2.2"/><circle cx="96" cy="1" r="2.4"/><circle cx="7" cy="98" r="2.2"/><circle cx="69" cy="50" r="2.0"/><circle cx="71" cy="39" r="3.1"/><circle cx="99" cy="13" r="2.0"/><circle cx="76" cy="69" r="2.4"/><circle cx="46" cy="1" r="1.5"/><circle cx="91" cy="26" r="2.5"/><circle cx="84" cy="80" r="1.9"/><circle cx="1" cy="73" r="1.6"/><circle cx="10" cy="13" r="1.9"/><circle cx="79" cy="19" r="2.7"/><circle cx="11" cy="19" r="2.8"/><circle cx="80" cy="17" r="3.1"/><circle cx="97" cy="31" r="1.8"/><circle cx="64" cy="39" r="2.0"/><circle cx="33" cy="97" r="2.7"/><circle cx="34" cy="29" r="2.9"/><circle cx="34" cy="23" r="2.3"/><circle cx="91" cy="81" r="1.7"/><circle cx="89" cy="33" r="2.7"/><circle cx="44" cy="91" r="2.3"/><circle cx="29" cy="37" r="2.2"/><circle cx="41" cy="29" r="2.6"/><circle cx="67" cy="93" r="1.9"/><circle cx="32" cy="3" r="2.0"/><circle cx="55" cy="100" r="1.9"/><circle cx="28" cy="74" r="1.7"/><circle cx="27" cy="57" r="2.1"/><circle cx="25" cy="8" r="1.9"/><circle cx="41" cy="55" r="2.7"/><circle cx="49" cy="2" r="1.7"/><circle cx="12" cy="89" r="3.1"/><circle cx="39" cy="30" r="2.3"/><circle cx="60" cy="47" r="3.1"/><circle cx="19" cy="63" r="2.6"/><circle cx="93" cy="73" r="2.7"/><circle cx="85" cy="63" r="1.7"/><circle cx="88" cy="47" r="2.7"/><circle cx="78" cy="18" r="3.2"/><circle cx="38" cy="17" r="1.6"/><circle cx="21" cy="32" r="1.9"/><circle cx="100" cy="79" r="1.6"/><circle cx="94" cy="63" r="2.3"/><circle cx="30" cy="63" r="2.3"/><circle cx="63" cy="53" r="1.7"/><circle cx="29" cy="3" r="2.3"/><circle cx="1" cy="88" r="2.6"/><circle cx="74" cy="74" r="2.9"/><circle cx="21" cy="7" r="2.9"/><circle cx="62" cy="41" r="1.9"/><circle cx="57" cy="93" r="3.2"/><circle cx="62" cy="97" r="3.1"/><circle cx="72" cy="24" r="2.5"/><circle cx="7" cy="25" r="1.9"/><circle cx="21" cy="74" r="2.6"/><circle cx="15" cy="82" r="2.8"/><circle cx="79" cy="49" r="2.5"/><circle cx="84" cy="64" r="1.8"/><circle cx="16" cy="22" r="2.7"/><circle cx="45" cy="2" r="2.9"/><circle cx="36" cy="37" r="2.9"/><circle cx="14" cy="13" r="3.1"/><circle cx="68" cy="86" r="2.7"/><circle cx="17" cy="70" r="2.2"/><circle cx="24" cy="42" r="2.6"/><circle cx="79" cy="5" r="2.6"/><circle cx="99" cy="63" r="2.0"/><circle cx="12" cy="100" r="2.1"/><circle cx="36" cy="29" r="1.6"/><circle cx="1" cy="28" r="2.6"/><circle cx="19" cy="71" r="2.2"/><circle cx="48" cy="32" r="2.3"/></g><g fill="#e8e8e8"><circle cx="22" cy="68" r="1.8"/><circle cx="72" cy="8" r="1.5"/><circle cx="83" cy="30" r="1.6"/><circle cx="19" cy="37" r="1.2"/><circle cx="36" cy="71" r="1.1"/><circle cx="46" cy="99" r="1.4"/><circle cx="82" cy="50" r="1.4"/><circle cx="45" cy="59" r="0.8"/><circle cx="11" cy="88" r="1.5"/><circle cx="33" cy="69" r="0.9"/><circle cx="49" cy="65" r="1.1"/><circle cx="34" cy="97" r="1.6"/><circle cx="31" cy="83" r="1.5"/><circle cx="91" cy="78" r="0.9"/><circle cx="8" cy="47" r="1.4"/><circle cx="95" cy="52" r="1.1"/><circle cx="76" cy="74" r="1.3"/><circle cx="49" cy="90" r="1.6"/><circle cx="88" cy="63" r="1.0"/><circle cx="99" cy="38" r="1.3"/><circle cx="26" cy="52" r="1.4"/><circle cx="38" cy="19" r="1.6"/><circle cx="70" cy="45" r="1.8"/><circle cx="96" cy="32" r="1.4"/><circle cx="51" cy="99" r="1.7"/><circle cx="73" cy="0" r="1.7"/><circle cx="84" cy="88" r="1.6"/><circle cx="94" cy="5" r="1.5"/><circle cx="81" cy="85" r="1.1"/><circle cx="29" cy="53" r="1.8"/><circle cx="7" cy="17" r="1.8"/><circle cx="3" cy="36" r="0.9"/><circle cx="14" cy="80" r="1.5"/><circle cx="65" cy="83" r="1.6"/><circle cx="86" cy="69" r="0.8"/><circle cx="52" cy="0" r="1.2"/><circle cx="75" cy="37" r="1.6"/><circle cx="79" cy="54" r="1.7"/><circle cx="77" cy="86" r="1.3"/><circle cx="76" cy="64" r="1.5"/><circle cx="26" cy="67" r="1.7"/><circle cx="89" cy="7" r="0.8"/><circle cx="23" cy="68" r="1.0"/><circle cx="16" cy="96" r="1.0"/><circle cx="6" cy="2" r="1.5"/><circle cx="81" cy="63" r="1.4"/><circle cx="5" cy="55" r="1.7"/><circle cx="96" cy="53" r="1.5"/><circle cx="93" cy="28" r="0.9"/><circle cx="11" cy="12" r="1.5"/><circle cx="19" cy="74" r="1.2"/><circle cx="65" cy="64" r="0.9"/></g><path d="M105 7Q105 10 108 11M103 13Q104 14 108 14M108 11Q109 13 108 14M97 32Q96 34 96 34M100 33Q101 31 101 30M99 28Q98 30 101 30M99 28Q98 28 97 28M86 31Q87 33 88 34M86 30Q85 30 86 31M94 42Q93 43 95 41M53 17Q51 18 52 18M52 18Q51 19 52 18M52 18Q54 20 56 19M56 19Q56 19 56 18M55 15Q55 14 53 17M57 25Q56 25 57 25M57 17Q57 16 60 16M105 -2Q106 -4 107 -6M105 -2Q107 -1 107 0M98 -2Q99 -3 98 -3M108 11Q108 11 109 10M106 5Q110 5 112 7M46 3Q45 3 46 3M46 3Q42 6 42 9M46 3Q47 7 45 9M44 13Q42 15 40 14M56 26Q54 29 55 29M47 29Q47 28 50 30M82 35Q81 35 82 35M85 29Q84 27 82 24M-7 100Q-4 100 -2 98M-2 98Q-3 96 -2 97M-3 93Q-5 92 -9 91M15 63Q18 65 20 65M-7 100Q-6 104 -7 106M110 48Q110 50 108 51M68 57Q71 55 74 55M97 39Q101 39 104 39M101 34Q103 36 105 36M104 39Q104 38 105 37M95 41Q97 40 97 39M100 46Q98 44 94 42M100 46Q103 46 104 44M100 33Q101 33 101 34M103 30Q105 30 104 31M105 35Q106 34 104 31M108 81Q110 80 110 81M85 41Q84 42 83 42M85 46Q85 48 88 48M83 47Q83 46 82 47M82 23Q83 23 82 24M82 23Q85 21 88 21M89 22Q89 23 89 22M88 21Q87 21 88 21M4 -11Q6 -7 7 -6M-3 -7Q-3 -7 -1 -10M7 -6Q6 -4 5 -2M33 16Q33 14 32 12M39 15Q39 17 39 16M47 16Q44 18 42 21M47 24Q46 25 46 24M48 10Q48 12 48 15M55 14Q55 15 55 15M52 21Q50 24 47 24M56 26Q56 26 57 25M82 35Q77 34 74 33M77 41Q78 39 78 39M44 37Q46 37 48 35M45 31Q42 32 40 33M45 31Q46 33 48 35M40 33Q38 34 39 33M45 24Q43 28 40 33M48 35Q48 35 50 36M-7 0Q-6 2 -7 0M-2 98Q-3 103 -1 107M-3 93Q-1 93 -1 90M-1 90Q2 91 4 89M14 100Q12 96 9 93M8 81Q8 82 7 81M7 81Q8 80 8 78M16 71Q17 70 15 72M21 72Q24 69 24 64M24 64Q24 65 24 63M25 75Q23 77 25 77M20 79Q19 80 19 78M107 57Q107 53 106 51M104 57Q101 54 99 52M98 52Q96 49 93 47M104 57Q103 58 103 60M108 63Q108 62 108 64M99 107Q99 107 99 107M107 100Q109 101 114 100M76 57Q74 60 73 64M98 52Q97 54 98 53M99 61Q98 60 97 59M103 60Q101 61 101 61M81 59Q81 60 82 60M82 59Q83 58 82 60M79 50Q79 48 80 50M76 57Q76 58 77 57M73 64Q75 62 81 59M93 20Q94 21 95 24M93 24Q92 25 95 24M89 22Q90 22 92 20M99 7Q97 7 96 7M94 14Q96 14 97 12M99 27Q100 24 101 23M96 25Q98 25 97 23M97 23Q98 22 101 23M88 48Q87 48 88 49M81 51Q84 51 85 51M46 3Q49 5 49 6M50 14Q51 13 55 10M55 14Q55 13 56 10M66 12Q64 13 65 11M68 19Q69 19 68 19M60 16Q60 16 60 15M67 14Q67 16 68 19M59 3Q62 5 67 5M59 3Q57 6 57 6M57 6Q55 6 52 4M52 4Q51 4 49 6M20 8Q19 9 18 9M20 8Q21 8 21 6M21 6Q20 6 21 5M18 9Q16 8 15 6M7 0Q12 -1 14 -0M14 -0Q11 -3 9 -7M15 -0Q15 -4 13 -9M3 30Q2 30 4 31M3 30Q4 27 4 27M4 31Q7 31 8 29M11 27Q11 27 11 25M4 39Q4 36 5 37M5 37Q7 40 11 42M-5 41Q-3 40 -3 39M0 46Q1 44 4 44M5 36Q6 35 5 36M5 36Q7 35 10 35M10 35Q11 34 11 34M5 37Q6 37 5 36M4 31Q3 33 5 35M-4 34Q-5 35 -3 37M-3 37Q-2 35 1 34M50 43Q51 42 51 40M45 41Q48 43 48 43M31 12Q32 11 31 9M27 13Q30 12 31 12M34 19Q35 18 34 20M39 23Q38 21 34 20M39 7Q39 6 39 4M31 2Q33 3 32 5M34 -11Q32 -8 30 -8M30 -8Q29 -8 28 -9M59 103Q62 104 67 105M24 91Q24 94 23 96M21 92Q22 95 23 96M72 36Q74 39 76 42M71 40Q71 41 72 39M76 42Q77 43 76 42M51 40Q53 38 55 38M55 38Q54 38 56 36M56 32Q56 30 56 32M60 26Q57 26 57 25M68 35Q68 34 66 36M68 35Q69 32 68 32M8 69Q5 68 3 68M8 69Q7 72 6 72M14 65Q11 66 8 66M8 66Q9 67 8 69M13 73Q10 71 8 69M8 78Q8 76 6 77M-7 0Q-8 0 -12 3M-7 0Q-8 2 -7 6M0 51Q4 52 6 51M10 45Q11 47 11 46M8 51Q10 50 10 48M10 48Q11 47 11 46M22 46Q21 46 21 45M15 47Q15 47 13 46M17 51Q16 52 17 52M22 46Q24 49 26 52M22 52Q25 52 26 52M26 48Q23 48 22 46M21 86Q18 86 17 84M21 86Q22 87 24 86M19 91Q20 88 21 86M24 86Q25 87 25 90M-8 74Q-7 76 -6 78M1 74Q2 73 1 73M6 77Q4 75 0 76M0 75Q-1 75 0 76M7 86Q7 85 8 85M11 91Q12 92 13 91M7 87Q7 85 7 86M18 92Q18 92 19 91M18 92Q17 91 14 90M14 100Q15 100 15 100M14 100Q14 99 14 100M15 100Q14 94 13 91M-3 81Q-3 82 -1 84M15 79Q13 78 14 78M15 79Q16 79 19 78M19 78Q18 77 14 78M15 82Q15 80 15 79M85 68Q87 63 91 61M91 61Q92 61 91 61M106 64Q104 64 102 64M99 68Q99 71 101 74M93 79Q90 80 90 81M88 78Q88 77 90 73M88 78Q87 80 88 80M97 81Q95 80 95 82M90 84Q90 81 90 81M85 70Q86 72 90 73M85 86Q82 85 79 82M85 86Q86 84 86 85M86 85Q86 85 85 83M85 83Q82 83 79 81M79 79Q79 80 79 81M108 78Q107 77 106 77M101 73Q103 74 106 72M108 81Q109 81 107 81M100 77Q101 80 101 81M93 106Q93 109 91 110M99 107Q98 108 96 107M96 84Q97 84 98 86M91 91Q88 90 89 92M84 88Q84 87 85 89M82 106Q83 106 83 109M62 36Q61 38 61 38M74 71Q75 73 77 74M72 64Q74 66 73 66M73 50Q73 50 70 49M70 49Q70 48 71 47M74 54Q75 52 73 50M79 50Q78 48 77 48M68 88Q68 85 67 84M70 82Q68 83 67 84M71 79Q70 80 71 79M94 17Q98 16 99 17M99 17Q101 20 99 21M99 21Q98 22 97 21M94 18Q94 19 94 18M97 23Q96 22 97 21M107 25Q106 24 107 24M104 22Q105 23 107 25M98 53Q96 54 94 53M91 61Q92 60 92 56M86 53Q85 58 84 59M87 59Q87 57 89 55M91 52Q90 51 89 54M92 56Q91 56 89 55M65 42Q65 41 65 39M70 40Q68 39 68 40M68 42Q68 41 68 41M71 36Q70 36 68 35M76 27Q76 28 75 27M77 30Q77 29 75 29M75 27Q76 29 75 29M75 29Q75 29 75 29M97 -7Q95 -7 91 -9M88 21Q86 19 83 18M89 18Q86 17 86 16M86 16Q85 16 83 18M21 5Q21 4 21 4M21 4Q22 5 21 4M28 7Q30 4 30 2M26 5Q27 2 30 2M25 9Q26 9 27 7M25 9Q23 8 21 6M27 13Q28 14 27 12M26 11Q28 12 27 12M4 22Q4 24 7 25M4 22Q6 20 8 19M11 23Q9 20 9 19M9 17Q10 19 9 19M10 17Q11 18 14 17M11 23Q13 21 15 21M15 23Q13 20 15 21M1 30Q-1 29 -1 28M-1 28Q-2 28 -3 28M-8 29Q-7 28 -4 27M8 14Q9 14 8 11M8 11Q6 8 5 7M3 13Q1 11 2 7M5 7Q4 6 2 7M9 10Q12 12 13 11M12 7Q13 7 13 9M42 62Q44 62 44 60M44 60Q45 59 46 58M30 46Q32 47 32 47M35 38Q34 41 36 41M25 81Q26 81 29 81M30 80Q30 81 29 81M39 80Q37 81 35 82M39 80Q40 84 42 87M42 87Q39 87 36 85M35 83Q36 83 35 82M34 81Q36 83 35 82M38 71Q40 71 40 71M43 78Q42 78 40 79M36 76Q37 77 36 76M28 77Q29 77 30 77M26 23Q25 26 24 27M33 27Q30 27 27 30M38 31Q36 30 36 30M36 30Q34 30 35 28M31 2Q34 2 34 0M37 3Q38 2 36 -0M29 0Q29 2 30 1M31 2Q32 1 31 1M21 -2Q20 -3 23 -4M31 -7Q33 -5 32 -5M31 -7Q34 -7 35 -8M35 -8Q36 -7 36 -7M40 -9Q39 -8 38 -6M36 30Q32 33 29 34M36 60Q35 60 36 59M44 51Q45 52 44 51M54 97Q53 99 51 99M49 106Q47 103 46 103M48 99Q47 98 45 100M39 104Q42 101 43 99M18 92Q19 94 19 99M21 98Q20 98 19 99M15 100Q17 99 19 99M19 99Q18 100 19 99M67 84Q65 85 61 87M-4 7Q-7 8 -9 11M-7 6Q-9 7 -9 10M-1 7Q-2 8 -1 7M-7 6Q-8 5 -7 6M6 64Q3 65 3 68M-1 68Q1 68 1 67M7 57Q7 57 10 56M10 56Q11 57 14 57M-1 68Q-1 68 -2 68M22 44Q18 42 18 42M17 35Q20 35 19 34M26 42Q23 42 22 44M11 42Q12 40 15 40M15 63Q14 61 14 59M24 63Q24 64 25 62M30 96Q28 99 29 100M26 94Q27 93 27 93M21 98Q25 101 29 100M27 91Q29 91 27 93M43 99Q44 99 43 99M48 92Q49 91 49 92M28 70Q29 71 28 70M37 108Q35 106 32 105M32 105Q31 106 31 109M94 73Q93 74 93 73M91 68Q92 67 93 68M93 64Q93 65 93 68M97 93Q99 92 99 90M99 90Q102 89 104 89M98 97Q103 96 105 98M91 91Q95 93 97 93M98 86Q97 88 99 90M98 98Q96 96 98 97M109 93Q108 93 107 94M80 95Q81 94 83 95M88 103Q92 102 93 100M93 100Q94 100 93 100M98 98Q96 100 93 100M86 96Q88 93 89 92M68 92Q69 92 70 93M73 87Q73 86 73 87M72 93Q71 94 73 93M79 96Q78 96 78 96M77 88Q76 89 78 88M82 90Q81 91 82 90M85 89Q85 90 84 90M71 106Q75 103 78 103M71 106Q70 105 69 104M78 102Q79 102 78 103M62 96Q65 98 69 102M62 96Q62 99 59 101M79 102Q77 101 78 102M71 106Q72 106 74 109M78 103Q78 104 79 105M57 64Q57 67 60 69M50 67Q50 66 50 66M50 73Q52 72 54 72M61 77Q59 75 56 73M61 77Q63 78 62 77M56 77Q56 75 56 73M66 71Q66 74 65 77M66 66Q65 67 64 69M64 69Q66 69 66 71M71 79Q68 79 66 77M63 28Q63 28 63 27M66 20Q65 23 64 25M89 -8Q86 -6 86 -4M86 15Q87 14 86 13M90 13Q89 13 89 15M87 13Q86 14 86 13M86 16Q86 16 86 15M83 18Q83 19 83 18M82 22Q80 21 77 22M17 16Q19 16 19 18M16 14Q15 14 17 15M20 20Q20 20 19 18M20 21Q17 22 17 23M20 21Q21 24 22 28M22 28Q20 28 20 30M20 20Q19 20 20 21M-1 27Q0 26 1 23M3 23Q2 23 3 22M4 27Q4 28 3 26M-4 27Q-5 26 -4 25M-3 23Q-2 23 1 23M2 18Q2 21 3 22M2 18Q2 19 1 17M-6 18Q-6 18 -7 20M-8 56Q-6 55 -6 53M-6 42Q-6 42 -7 42M-7 42Q-7 44 -7 47M50 67Q49 67 47 68M45 65Q44 64 45 65M50 66Q49 64 50 64M50 73Q51 72 50 73M32 47Q30 44 30 41M34 42Q34 43 32 40M32 47Q32 48 32 47M28 41Q30 41 30 41M35 38Q34 39 32 40M36 41Q35 42 34 42M31 36Q33 38 31 40M40 -3Q42 -2 43 -1M32 -1Q31 -4 33 -4M33 -4Q35 -5 36 -3M34 0Q33 -1 35 -3M38 -6Q38 -4 39 -4M40 -3Q41 -4 39 -4M26 -6Q26 -2 29 -0M34 55Q32 56 34 57M34 57Q30 56 28 57M28 57Q26 55 28 55M36 59Q36 57 34 57M27 59Q31 59 35 62M27 59Q26 57 28 57M44 51Q41 49 39 47M15 106Q19 105 21 105M20 108Q21 108 21 106M13 105Q13 105 15 106M43 89Q44 93 44 95M43 89Q44 89 43 89M57 85Q59 89 58 91M53 90Q52 91 53 92M58 92Q56 92 58 91M58 92Q57 92 55 94M62 89Q61 90 58 91M54 97Q55 95 55 94M66 82Q63 80 63 79M67 84Q67 82 66 82M64 69Q65 68 64 69M62 78Q57 78 55 81M55 80Q53 79 48 77M42 87Q41 87 42 87M9 110Q11 108 12 107M12 107Q11 106 12 107M13 105Q12 105 12 107M6 57Q6 60 8 62M7 57Q7 57 6 57M-1 52Q2 55 4 57M-3 73Q-4 71 -2 68M-6 64Q-4 65 -3 68M27 91Q28 90 28 91M34 72Q34 75 35 76M30 70Q31 71 33 72M36 71Q36 72 38 71M36 76Q37 76 35 76M33 77Q34 76 33 75M26 105Q28 103 30 102M30 102Q29 105 28 107M25 109Q27 108 27 107M31 109Q29 109 28 107M97 68Q95 65 94 64M97 68Q96 69 98 68M98 68Q98 69 98 68M97 64Q96 64 94 64M99 68Q99 67 98 68M100 83Q103 84 108 85M111 91Q108 88 107 86M104 89Q106 88 107 87M101 81Q102 81 100 83M57 64Q58 64 57 61M57 64Q57 65 57 64M54 58Q54 58 57 61M63 57Q64 58 61 59M62 44Q61 41 62 39M65 43Q65 44 64 44M65 39Q63 40 64 40M59 52Q57 50 56 52M63 57Q62 53 59 52M55 54Q56 53 56 52M65 49Q63 48 60 50M51 48Q52 51 55 51M59 1Q61 -3 62 -4M68 -8Q68 -7 65 -7M58 -8Q59 -6 63 -6M91 11Q92 11 91 10M93 0Q93 2 93 6M91 10Q88 10 88 9M80 14Q77 14 74 16M77 22Q78 22 76 20M3 14Q1 14 -2 12M1 17Q1 17 -0 17M-0 17Q-2 13 -2 12M-7 42Q-8 43 -9 42M40 71Q41 70 40 70M39 69Q37 67 33 65M35 62Q34 62 34 64M40 70Q39 68 40 65M39 69Q39 68 37 65M40 65Q39 64 37 65M51 -1Q49 -1 48 -1M54 -3Q55 -3 55 -6M59 1Q57 -2 54 -3M58 -8Q57 -8 55 -6M62 -4Q63 -6 63 -6M44 -5Q42 -8 43 -11M49 -8Q47 -9 48 -8M44 45Q42 46 42 46M42 46Q42 47 44 48M42 42Q42 43 44 45M51 47Q47 48 45 47M36 100Q35 100 34 100M48 91Q49 90 49 89M53 90Q53 88 51 89M51 89Q50 89 49 89M-7 68Q-7 67 -9 68M-6 64Q-8 63 -7 64M73 10Q73 9 74 9M69 4Q70 4 71 6M74 9Q73 9 74 9M88 9Q87 10 87 9M87 9Q87 9 87 8M71 -1Q71 -2 70 -7M-1 17Q0 20 -1 21M-3 21Q-5 20 -6 18M-6 18Q-6 18 -6 17M-6 14Q-4 16 -6 17M1 23Q1 22 -1 21M-3 23Q-2 23 -3 21M41 63Q38 62 35 64M41 63Q41 65 40 64M40 64Q38 64 35 65M30 92Q33 92 34 89M42 88Q41 89 40 91M40 97Q39 96 39 96M40 91Q38 92 38 94M35 97Q36 96 36 97M36 97Q34 97 33 96M46 82Q46 86 48 87M55 85Q54 85 53 85M46 81Q45 83 46 82M86 13Q84 12 82 12M80 13Q81 12 82 12M87 9Q84 9 83 10M85 1Q87 2 88 3M78 3Q78 1 78 2M36 93Q35 94 33 95M33 96Q32 97 33 95M79 2Q79 0 79 -2M86 -4Q87 -3 86 -4M78 -4Q78 -4 79 -4M78 -4Q76 -5 73 -7M79 -7Q79 -7 80 -5M72 -7Q73 -6 73 -7M83 -5Q81 -6 80 -5M80 6Q81 6 80 7M79 5Q80 6 80 6" stroke="#a8a8a8" stroke-width="1.5" fill="none"/><path d="M102 7Q101 10 103 13M97 28Q97 30 97 32M96 27Q93 28 92 29M94 33Q92 30 92 29M100 33Q99 32 97 32M92 36Q93 35 94 33M86 31Q86 30 86 31M85 29Q88 25 89 22M85 29Q84 31 86 30M89 41Q90 41 91 42M91 42Q91 43 93 42M58 23Q57 24 57 25M58 23Q60 22 61 20M61 20Q60 18 60 16M105 -2Q102 -1 98 -3M107 -6Q105 -8 104 -11M99 7Q98 2 98 -2M105 7Q106 6 106 5M45 9Q44 9 43 9M43 9Q43 13 44 13M42 9Q42 10 40 14M102 107Q102 108 105 107M56 26Q51 26 46 25M50 30Q53 28 55 29M81 36Q84 38 85 41M81 36Q81 35 82 35M89 41Q88 41 86 42M82 24Q79 26 76 27M76 27Q80 29 85 30M82 35Q81 34 77 30M-7 100Q-7 102 -7 100M-3 93Q-4 96 -2 97M14 65Q13 64 15 63M14 65Q14 67 16 71M16 71Q17 67 20 65M-7 106Q-9 106 -12 105M74 54Q71 52 70 50M68 57Q66 57 67 57M70 50Q69 50 67 52M105 37Q105 37 105 36M105 36Q106 36 105 36M104 44Q105 41 104 39M110 35Q107 36 105 36M101 30Q102 30 103 30M105 36Q106 37 105 35M99 27Q100 26 103 26M115 86Q113 84 108 84M86 42Q84 43 85 46M91 42Q89 46 88 48M81 43Q83 42 83 42M81 43Q80 44 82 47M89 22Q88 21 88 21M102 18Q103 16 101 17M102 18Q104 17 109 17M103 14Q102 16 101 17M-2 -3Q2 -4 5 -2M-2 -3Q-1 -4 -3 -7M-8 36Q-10 35 -12 34M33 16Q37 17 39 17M35 11Q39 14 39 15M39 17Q38 17 39 16M39 7Q38 6 37 8M37 8Q36 10 35 11M40 14Q40 16 39 15M47 16Q49 14 48 15M48 15Q49 15 48 15M42 21Q41 22 42 21M44 13Q44 15 47 16M39 16Q41 18 42 21M50 14Q52 15 55 14M46 25Q45 25 46 24M73 35Q76 37 78 39M81 43Q78 43 77 41M44 37Q43 38 40 37M39 34Q38 32 39 33M47 29Q47 30 45 31M45 24Q42 28 38 31M50 30Q52 31 51 34M55 29Q55 30 56 32M51 34Q55 32 56 32M-14 -4Q-10 -2 -7 0M-9 -9Q-6 -7 -3 -7M-7 106Q-5 107 -4 107M-4 107Q-6 108 -9 111M-1 107Q-0 107 -1 107M-1 107Q-3 110 -3 112M-2 97Q3 97 5 98M-10 84Q-7 83 -4 84M-7 79Q-7 82 -5 82M-5 82Q-4 83 -4 84M7 100Q7 100 5 98M10 81Q11 80 14 77M13 73Q10 74 8 78M13 73Q15 74 13 73M13 73Q15 74 14 77M20 65Q21 63 24 63M21 72Q17 72 15 72M21 72Q24 74 25 75M20 79Q22 78 24 78M25 77Q23 78 24 78M106 57Q107 58 107 57M106 57Q104 57 104 57M108 51Q107 52 106 51M100 46Q102 49 100 51M98 52Q100 51 99 52M93 42Q94 44 93 47M103 60Q105 60 108 63M106 105Q108 102 107 100M76 57Q74 56 74 55M70 63Q70 63 72 64M73 64Q72 64 72 64M98 53Q97 57 97 59M81 52Q82 55 82 59M80 50Q79 49 81 51M81 51Q81 52 81 52M92 20Q93 21 93 20M96 27Q95 25 96 25M96 25Q95 24 95 24M103 14Q102 14 98 12M100 17Q100 14 98 12M92 12Q92 14 94 14M97 12Q98 13 98 12M103 26Q101 25 103 23M103 23Q103 23 103 22M103 22Q102 23 101 23M94 18Q93 16 91 17M88 21Q88 20 89 18M48 10Q49 10 49 9M49 6Q51 7 49 9M66 12Q63 15 60 15M57 9Q56 10 57 9M66 20Q68 19 68 19M67 5Q66 8 65 11M21 5Q19 5 15 6M7 -6Q8 -6 9 -7M9 -7Q10 -8 11 -9M14 -0Q15 1 14 0M6 27Q4 28 4 27M11 27Q14 27 14 27M15 23Q12 22 11 23M11 25Q11 24 11 23M4 39Q3 42 4 44M4 44Q7 43 10 45M11 42Q11 42 11 42M-6 42Q-5 42 -5 41M-6 42Q-2 43 0 46M11 34Q9 33 10 29M9 29Q10 30 10 29M8 29Q8 29 9 29M-4 34Q-3 33 -3 32M-3 32Q-1 32 -0 33M-3 39Q-4 39 -3 37M-6 33Q-5 32 -4 34M5 36Q4 35 1 34M1 30Q2 29 3 30M44 37Q46 38 45 41M37 8Q35 6 32 5M32 12Q31 12 31 12M27 17Q28 20 28 19M28 19Q27 19 28 19M33 17Q30 19 28 19M39 17Q36 19 34 19M33 17Q35 19 34 19M26 22Q27 22 26 23M26 23Q30 26 32 26M28 19Q30 22 32 22M32 26Q33 23 32 22M40 37Q41 39 40 38M24 91Q23 92 21 92M72 36Q71 37 72 36M72 39Q73 40 75 42M75 42Q74 41 76 42M71 40Q71 39 70 40M71 36Q72 34 72 36M60 30Q61 30 62 32M63 35Q63 35 66 36M68 32Q67 32 64 29M7 100Q8 104 6 105M0 46Q-1 50 0 51M15 53Q15 51 17 52M15 53Q13 52 10 48M13 46Q12 47 11 46M21 49Q22 49 22 52M22 52Q21 54 21 55M26 52Q25 52 26 52M17 84Q18 81 20 79M25 81Q23 82 25 85M24 86Q25 85 25 85M19 91Q19 92 21 92M24 91Q25 91 25 90M-7 79Q-6 80 -6 78M15 86Q14 89 14 90M14 90Q13 90 13 91M4 89Q5 87 7 87M9 93Q10 91 11 91M17 84Q17 84 15 86M17 84Q18 83 17 84M-3 78Q-3 77 -0 77M1 81Q0 82 -0 83M-0 84Q-1 84 -1 84M-5 82Q-5 82 -3 81M-2 86Q-1 84 -1 84M7 81Q4 82 1 81M8 85Q3 85 -0 83M7 87Q3 86 -0 84M91 61Q90 62 92 63M106 64Q104 66 103 68M102 64Q103 65 101 67M103 68Q103 67 101 67M101 61Q102 64 102 64M108 64Q106 63 106 64M108 66Q108 66 108 69M103 68Q104 70 108 69M103 68Q105 67 103 68M92 74Q92 72 90 73M97 78Q96 78 94 78M90 84Q93 84 96 84M95 82Q95 82 96 84M85 70Q86 73 85 75M87 78Q85 78 80 79M88 80Q88 81 86 81M86 81Q83 81 80 79M79 82Q80 80 79 81M79 79Q78 78 80 79M108 69Q107 70 106 72M108 69Q111 72 113 73M108 69Q107 70 108 69M100 76Q105 76 106 77M100 76Q100 75 100 75M93 106Q93 108 96 107M90 85Q89 87 91 91M85 86Q84 87 84 88M87 108Q84 108 82 106M82 106Q82 106 82 106M55 38Q56 40 59 41M73 66Q75 68 74 71M79 73Q78 73 77 74M85 70Q82 71 79 73M85 69Q85 68 85 70M77 75Q79 76 79 79M71 47Q75 45 76 46M70 50Q71 50 70 49M76 42Q75 45 76 46M71 43Q70 43 70 44M71 47Q71 45 70 46M70 46Q72 46 70 44M73 87Q73 86 73 83M73 83Q73 82 70 82M70 82Q70 81 71 79M94 18Q94 19 97 21M100 17Q100 18 99 17M94 14Q96 16 94 17M103 23Q104 22 104 22M111 25Q109 26 107 24M108 19Q109 23 107 24M104 31Q105 30 108 29M97 59Q94 61 91 61M84 59Q86 59 87 59M89 55Q89 56 89 54M85 51Q84 52 86 53M91 61Q92 60 91 61M68 41Q67 40 65 42M74 33Q74 30 75 29M68 32Q70 31 69 30M13 5Q15 5 15 6M13 5Q15 2 14 0M19 -1Q21 2 21 4M27 7Q25 5 26 5M27 7Q26 6 28 7M28 7Q29 8 28 7M21 4Q23 5 26 5M19 -1Q19 -2 19 -1M19 -1Q20 -4 18 -8M11 23Q11 22 11 23M11 27Q9 29 10 29M8 14Q5 13 3 13M-2 -2Q-0 3 -1 7M-1 7Q-0 7 2 7M9 16Q11 12 13 11M13 5Q12 6 12 7M17 9Q15 11 13 9M16 14Q14 13 13 10M45 65Q44 62 42 62M50 64Q51 60 50 59M30 46Q29 46 26 48M35 38Q36 38 35 37M40 38Q40 39 37 42M36 41Q37 40 37 42M29 81Q30 83 29 84M36 85Q35 84 35 83M34 81Q32 81 30 80M29 84Q29 84 29 85M29 85Q32 85 35 83M36 76Q37 73 38 71M43 78Q41 76 41 71M41 71Q40 70 40 71M34 81Q34 80 34 78M36 76Q35 77 34 78M34 78Q34 77 33 77M21 4Q26 2 29 0M31 1Q31 3 30 1M19 -1Q20 0 21 -2M21 -8Q21 -7 23 -4M36 -7Q35 -4 33 -5M30 -8Q31 -8 31 -7M24 -9Q23 -6 23 -4M35 37Q34 38 31 36M27 30Q27 33 29 34M40 54Q39 53 39 55M36 59Q37 57 39 55M46 58Q45 56 46 52M40 54Q40 55 40 54M49 109Q49 109 49 106M52 104Q51 100 51 99M51 99Q49 99 48 99M39 107Q40 108 42 109M68 92Q67 94 65 93M61 87Q63 89 62 89M65 93Q63 90 62 89M-4 7Q-5 8 -7 6M-1 7Q-3 7 -4 7M3 68Q2 66 1 67M8 64Q5 62 6 64M1 74Q-0 70 -1 68M15 53Q14 55 14 57M21 58Q20 55 21 55M14 57Q14 58 14 57M1 61Q-1 60 -1 61M-2 68Q-2 67 -3 64M-3 64Q-3 63 -1 61M21 35Q22 36 19 34M26 42Q29 43 30 46M21 45Q22 46 22 44M26 42Q26 41 28 41M27 36Q23 34 21 35M21 58Q24 60 25 61M29 100Q28 101 29 100M29 100Q27 101 29 100M21 104Q21 103 19 99M48 99Q49 96 49 92M48 92Q45 92 44 95M44 95Q43 97 43 99M25 62Q30 62 33 65M95 69Q94 68 93 68M92 74Q92 74 93 73M90 68Q89 68 91 68M92 63Q94 63 93 64M97 93Q97 94 98 97M104 89Q105 90 107 94M105 98Q107 96 107 94M107 100Q106 99 105 98M79 98Q78 101 79 102M79 98Q81 99 85 99M79 102Q81 100 85 101M85 101Q85 100 85 101M80 95Q79 95 79 96M86 96Q85 97 85 99M88 105Q87 104 88 103M88 105Q89 107 93 106M93 106Q93 103 93 100M85 101Q87 101 88 103M93 106Q92 104 93 106M86 96Q87 95 86 96M73 87Q72 90 72 93M70 93Q71 92 72 93M73 87Q76 88 77 88M77 88Q76 90 73 93M80 95Q80 95 79 93M78 82Q79 86 78 86M78 86Q79 87 78 88M83 91Q82 91 84 90M83 91Q81 90 82 90M84 90Q84 90 82 90M79 93Q80 90 82 90M82 88Q81 87 82 90M69 102Q67 102 69 104M71 99Q71 100 74 99M78 96Q75 98 74 99M74 109Q76 108 79 105M77 111Q78 109 80 107M79 105Q80 104 80 106M54 66Q56 65 57 64M54 66Q53 70 54 72M54 72Q54 72 56 73M50 66Q52 67 54 66M50 72Q49 72 50 73M70 46Q69 44 65 46M66 71Q68 71 70 73M70 73Q70 74 69 75M69 75Q69 77 66 77M70 63Q68 65 66 66M74 71Q72 71 70 73M70 25Q69 26 69 26M63 27Q64 27 64 25M69 30Q68 29 69 26M70 24Q70 26 70 25M60 26Q61 26 63 27M91 17Q90 16 89 15M83 18Q83 20 82 22M74 25Q74 24 77 22M17 15Q17 16 17 16M20 17Q19 17 19 18M20 8Q21 10 21 12M27 17Q23 18 20 17M26 22Q24 20 20 20M18 29Q19 31 20 30M14 27Q17 30 18 29M27 36Q27 35 29 34M19 34Q18 31 20 30M3 26Q3 23 3 23M3 26Q1 27 -1 27M1 23Q-0 23 1 23M-4 25Q-3 23 -3 23M-5 24Q-5 22 -7 20M-8 25Q-6 24 -7 24M-11 22Q-9 22 -8 20M-4 25Q-4 23 -5 24M-6 53Q-7 54 -9 52M-2 52Q-2 52 -2 53M-2 52Q-4 50 -7 47M-9 61Q-5 59 -3 59M0 51Q-0 50 -1 52M-1 52Q-1 51 -2 52M45 65Q45 66 43 69M45 65Q46 66 47 68M43 69Q46 68 47 69M47 68Q46 68 47 69M50 72Q48 70 47 69M43 70Q44 70 43 69M43 70Q47 72 50 73M51 58Q51 59 54 58M48 51Q49 53 49 53M32 47Q34 45 34 42M32 40Q31 42 31 40M30 41Q30 41 31 40M39 4Q40 2 43 -1M46 3Q46 0 45 -0M35 -3Q35 -3 36 -3M31 1Q31 1 32 -1M39 -4Q37 -3 36 -3M30 -4Q29 -3 29 0M27 -9Q28 -6 27 -7M32 -5Q30 -4 30 -4M29 0Q30 1 29 0M34 55Q33 51 34 49M34 49Q31 50 28 55M39 55Q38 54 34 55M40 54Q38 52 34 49M26 52Q27 53 28 55M27 59Q24 59 25 61M37 42Q37 43 38 46M34 49Q36 48 38 46M39 47Q38 46 38 46M37 103Q37 100 36 100M43 99Q41 98 40 97M36 100Q38 99 40 97M46 103Q46 106 45 109M48 92Q48 92 48 91M43 89Q45 90 48 91M56 85Q57 85 57 85M55 94Q53 94 53 92M58 85Q58 86 57 85M49 92Q51 92 53 92M59 84Q61 80 63 79M65 77Q63 78 63 79M56 85Q55 84 55 85M50 73Q48 75 48 77M43 78Q43 79 46 79M48 77Q46 77 46 79M2 107Q2 111 3 113M8 63Q9 63 8 62M-1 61Q-3 61 -3 59M-3 73Q-4 74 -6 73M-6 73Q-6 70 -5 69M-5 69Q-6 70 -3 68M-2 68Q-3 69 -3 68M0 75Q-2 73 -3 73M-7 73Q-8 74 -6 73M-2 68Q-1 67 -2 68M-8 12Q-8 13 -10 13M29 85Q29 88 31 88M33 74Q32 75 33 75M35 76Q34 75 33 75M36 71Q35 71 34 72M27 107Q28 108 28 107M28 107Q27 106 28 107M29 100Q30 101 30 101M30 101Q31 103 30 102M98 68Q99 67 97 64M99 61Q97 64 97 64M107 87Q102 84 100 84M100 83Q99 84 100 84M108 85Q108 87 107 86M99 84Q100 85 100 84M57 61Q60 60 61 59M63 64Q62 63 61 59M67 57Q64 57 63 57M62 39Q63 39 64 40M64 40Q65 41 65 43M65 42Q64 42 65 43M65 45Q64 45 64 44M59 52Q59 50 60 50M55 51Q58 48 58 45M60 44Q59 44 59 44M51 43Q51 42 50 43M69 4Q67 4 69 2M62 -11Q62 -10 65 -7M65 -7Q65 -8 63 -6M93 6Q90 9 91 10M93 6Q92 6 93 6M87 13Q86 10 88 9M82 17Q78 19 76 20M76 20Q75 20 74 17M83 18Q82 16 82 17M68 19Q71 19 74 17M-8 12Q-8 12 -6 14M-3 12Q-2 11 -2 12M33 65Q33 67 33 65M40 70Q39 69 39 69M48 -1Q50 -3 49 -8M49 -8Q50 -9 53 -8M52 4Q51 1 51 -1M45 -0Q47 -1 48 -1M53 -10Q53 -9 53 -8M44 -5Q46 -8 48 -8M45 47Q44 47 44 48M31 102Q32 102 31 102M-7 68Q-6 67 -7 64M-7 64Q-9 62 -8 63M71 6Q74 8 74 9M93 0Q89 2 88 3M87 8Q89 6 88 5M69 2Q71 -1 71 -1M73 -13Q74 -11 72 -7M-1 21Q-3 20 -3 21M-0 17Q0 16 -1 17M35 64Q34 65 35 65M42 62Q41 63 41 63M40 65Q40 64 40 64M37 65Q36 65 35 65M34 89Q33 89 34 88M39 96Q39 95 38 94M42 87Q41 87 42 88M36 85Q33 86 34 88M35 97Q33 100 32 99M34 100Q34 100 35 97M48 87Q49 88 49 87M43 89Q46 89 48 87M49 89Q49 88 49 87M83 10Q84 11 82 12M74 9Q77 7 79 5M74 -1Q76 1 78 2M35 92Q36 92 36 93M31 93Q30 93 32 95M32 95Q33 95 33 95M34 89Q34 90 35 92M30 96Q32 94 32 95M74 9Q74 10 77 11M77 11Q79 11 80 13M85 1Q84 1 85 -1M85 1Q83 2 79 2M83 -5Q85 -4 86 -4M79 -7Q79 -11 77 -12M80 -5Q79 -6 79 -4M74 -1Q77 -2 78 -4M78 2Q79 2 79 2M80 6Q82 6 82 6M82 6Q82 7 83 9M77 11Q80 8 80 7" stroke="#d2d2d2" stroke-width="1.2" fill="none"/><path d="M105 7Q102 6 102 7M97 28Q96 27 96 27M94 33Q96 34 96 34M92 29Q91 30 92 29M86 31Q90 32 92 29M88 34Q90 35 92 36M92 29Q91 28 92 25M92 25Q89 23 89 22M89 41Q89 38 88 34M94 42Q95 41 93 42M92 36Q94 39 95 41M53 17Q56 19 56 18M55 15Q56 17 57 17M57 17Q56 18 56 18M52 21Q52 21 52 18M52 21Q56 23 57 25M58 23Q57 20 56 19M97 -7Q99 -6 98 -3M97 -7Q97 -7 99 -10M99 7Q102 6 102 7M106 5Q108 4 107 0M107 -6Q108 -8 109 -7M107 0Q111 0 114 -0M43 9Q44 9 42 9M42 9Q42 8 42 9M103 113Q103 111 102 107M105 107Q108 111 108 111M112 107Q108 105 106 105M106 105Q106 107 105 107M47 29Q46 27 46 25M86 31Q84 32 82 35M86 42Q85 41 85 41M86 30Q87 31 85 30M85 30Q81 30 77 30M-7 100Q-10 98 -14 96M-7 100Q-9 100 -12 103M108 51Q109 53 110 56M74 54Q75 53 75 54M67 57Q68 54 67 52M74 55Q75 54 75 54M97 39Q97 36 97 37M97 37Q99 35 101 34M96 34Q97 34 97 37M104 44Q108 44 110 45M111 42Q109 39 105 37M99 28Q99 26 99 27M104 27Q102 29 103 30M104 27Q104 26 103 26M108 84Q108 84 108 81M83 42Q84 44 83 47M85 46Q83 45 83 47M103 13Q104 13 103 14M-8 36Q-6 33 -6 33M-8 29Q-8 30 -6 33M32 12Q34 12 35 11M42 9Q39 6 39 7M50 17Q50 16 48 15M50 17Q47 22 47 24M45 24Q45 25 45 24M45 24Q43 22 42 21M45 24Q46 23 46 24M45 9Q47 8 48 10M50 14Q49 14 48 15M52 18Q50 17 50 17M81 36Q79 36 78 39M74 34Q73 35 74 33M74 34Q74 33 73 35M40 37Q40 37 39 34M38 31Q39 31 39 33M51 34Q51 35 50 36M-2 -2Q-5 1 -7 0M-2 -2Q-2 -2 -2 -3M-7 106Q-8 107 -9 110M-7 106Q-8 107 -7 106M-1 107Q-3 108 -4 107M5 98Q5 95 7 94M4 89Q5 91 7 94M-7 79Q-7 81 -10 81M-1 90Q-0 89 -2 86M-4 84Q-3 84 -2 86M7 100Q11 99 14 100M7 94Q8 94 9 93M8 81Q8 80 10 81M15 72Q16 73 15 72M15 72Q17 74 19 78M106 51Q104 50 100 51M100 51Q101 51 99 52M108 62Q111 60 114 59M108 62Q108 61 106 57M110 56Q108 56 107 57M108 62Q109 61 108 63M108 66Q107 64 108 64M102 107Q101 108 99 107M97 112Q98 108 99 107M68 57Q69 61 70 63M99 61Q101 62 101 61M77 57Q78 55 81 52M77 57Q79 57 81 59M79 50Q78 53 75 54M92 20Q92 22 93 24M92 25Q92 23 93 24M101 17Q101 16 100 17M99 7Q97 9 97 12M92 12Q93 13 91 11M96 7Q93 8 91 11M99 7Q100 8 99 7M101 23Q101 23 101 23M82 47Q80 48 80 50M88 49Q87 49 85 51M93 47Q91 48 90 50M88 49Q90 51 90 50M94 18Q95 20 93 20M91 17Q89 17 89 18M49 9Q51 11 55 10M55 10Q55 10 56 10M65 11Q60 11 57 9M60 15Q58 13 57 9M66 20Q63 21 61 20M67 14Q68 12 66 12M57 6Q58 7 57 9M56 10Q56 11 57 9M7 0Q6 -1 5 -2M14 0Q16 1 15 -0M8 29Q8 29 6 27M15 23Q14 26 14 27M10 45Q11 44 11 42M-3 39Q1 38 4 39M5 35Q5 33 9 29M5 35Q4 34 5 36M11 42Q10 40 10 35M-0 33Q0 33 1 34M-5 41Q-5 38 -8 36M1 30Q-0 31 -0 33M50 43Q48 44 48 43M50 36Q52 37 51 40M32 5Q31 8 31 9M33 16Q33 16 33 17M27 17Q26 15 27 13M28 19Q28 22 26 22M42 21Q40 21 39 23M34 20Q34 21 32 22M39 4Q39 4 37 3M31 2Q31 3 31 2M31 2Q34 3 37 3M45 41Q43 42 42 41M40 38Q41 39 42 41M59 103Q59 104 57 106M57 109Q56 107 57 106M65 111Q65 109 67 105M23 96Q24 96 23 96M72 36Q72 36 72 39M71 36Q71 37 70 40M73 35Q72 36 72 36M77 41Q76 41 76 42M71 40Q71 40 71 43M71 43Q73 42 75 42M56 32Q56 32 56 32M56 32Q57 32 60 30M56 32Q60 32 62 33M62 32Q61 33 62 33M56 36Q57 34 56 32M60 26Q61 28 60 30M62 36Q59 36 56 36M62 36Q61 35 63 35M63 35Q63 35 62 33M64 29Q62 31 62 32M-1 107Q2 108 2 107M2 107Q5 107 5 107M6 105Q5 108 5 107M8 69Q8 69 8 69M3 68Q2 70 1 73M1 73Q3 73 6 72M15 72Q14 73 13 73M6 77Q5 74 6 72M-7 6Q-9 6 -12 5M8 51Q6 52 6 51M22 46Q20 47 22 46M22 46Q21 48 21 49M21 45Q19 46 15 47M15 47Q15 49 17 51M21 49Q20 49 17 51M17 52Q19 53 21 55M26 48Q27 50 27 50M27 50Q28 51 26 52M25 81Q23 79 24 78M-10 73Q-7 75 -8 74M1 74Q1 74 0 75M7 86Q9 88 11 91M8 85Q7 83 8 84M8 84Q10 86 15 86M8 81Q8 83 8 84M15 82Q12 80 10 81M15 82Q17 84 17 84M-3 81Q-5 78 -3 78M-0 77Q-0 79 1 81M-0 83Q1 83 -0 84M-6 78Q-4 78 -3 78M0 76Q-1 77 -0 77M14 77Q13 77 14 78M19 78Q19 77 19 78M85 68Q86 68 85 69M92 63Q89 66 90 68M90 68Q88 68 85 69M103 68Q102 69 101 73M101 73Q102 74 101 74M99 68Q99 69 101 67M93 79Q93 79 94 78M94 78Q92 77 92 74M88 80Q88 79 90 81M97 78Q97 80 97 81M95 82Q93 80 93 79M85 70Q84 69 85 70M87 78Q86 78 85 75M87 78Q88 78 88 78M85 75Q82 78 80 79M80 79Q79 79 80 79M90 85Q91 85 90 84M90 85Q87 84 86 85M86 81Q86 81 85 83M106 72Q107 73 106 77M113 73Q112 77 108 78M101 74Q99 73 100 75M107 81Q107 81 108 78M100 77Q100 77 100 76M107 81Q103 80 101 81M96 107Q93 110 91 111M97 81Q99 82 99 84M98 86Q100 85 99 84M89 92Q87 90 85 89M87 108Q87 109 87 109M61 38Q60 39 59 41M79 66Q76 67 73 66M79 66Q79 68 79 73M82 64Q82 62 82 60M82 64Q80 65 79 66M85 68Q83 65 82 64M77 75Q77 74 77 74M73 50Q74 50 77 48M77 48Q78 47 76 46M68 88Q70 86 73 87M67 84Q68 85 67 84M78 82Q80 83 79 82M78 82Q76 82 73 83M77 75Q73 76 71 79M94 18Q93 17 94 17M102 18Q102 20 103 22M101 23Q100 22 99 21M104 22Q107 19 108 19M108 29Q107 27 106 27M106 27Q107 26 107 25M105 35Q108 33 109 29M104 27Q104 27 106 27M90 50Q90 50 91 52M91 52Q94 52 94 53M94 53Q92 54 92 56M86 53Q87 54 89 54M82 59Q83 58 84 59M91 61Q88 60 87 59M68 41Q66 42 68 40M68 40Q68 38 67 38M67 38Q65 39 65 39M68 42Q69 44 70 44M66 36Q68 38 67 38M74 34Q71 32 70 30M70 30Q72 30 75 29M70 30Q69 30 69 30M19 -1Q18 -1 15 -0M25 9Q27 12 26 11M26 11Q28 8 28 7M31 9Q29 9 28 7M8 19Q8 22 7 24M7 25Q7 24 7 24M11 25Q9 26 7 24M9 19Q8 20 8 19M6 27Q7 25 7 25M9 17Q8 17 10 17M14 17Q16 20 15 21M15 23Q15 24 15 23M-3 32Q-3 29 -3 28M-4 27Q-3 29 -3 28M7 0Q5 2 6 5M6 5Q6 7 5 7M9 10Q11 9 12 7M12 7Q11 6 12 7M13 9Q13 9 13 10M13 10Q13 11 13 11M9 16Q10 15 8 14M8 11Q10 10 9 10M6 5Q10 7 12 7M18 9Q19 8 17 9M16 14Q15 12 17 9M45 65Q46 66 50 64M50 59Q47 58 46 58M27 50Q30 50 33 48M32 47Q33 47 33 48M35 37Q36 37 39 34M25 77Q28 76 28 77M28 77Q30 79 30 80M25 85Q26 86 29 84M36 76Q38 77 40 79M39 80Q38 81 40 79M30 77Q32 77 33 77M32 26Q32 27 33 27M39 23Q37 25 35 28M33 27Q33 26 35 28M24 27Q26 27 27 30M34 0Q37 1 36 -0M30 2Q30 0 30 1M33 -5Q32 -6 32 -5M38 -6Q37 -8 36 -7M23 -4Q23 -5 23 -4M31 36Q30 35 29 34M29 34Q29 33 29 34M42 62Q42 60 42 62M42 62Q38 60 36 60M44 60Q41 55 40 54M40 54Q41 52 44 51M46 52Q44 51 44 51M57 106Q54 104 52 104M49 106Q51 106 52 104M59 101Q58 102 59 103M59 101Q58 100 54 97M45 100Q45 102 46 103M46 103Q47 103 46 103M39 107Q40 109 37 108M37 108Q36 109 35 111M39 104Q38 106 39 107M43 99Q44 99 45 100M46 103Q43 107 42 109M23 96Q21 97 21 98M68 92Q70 91 68 88M6 64Q2 65 2 64M2 64Q1 67 1 67M8 66Q8 65 8 64M3 68Q2 68 3 68M8 51Q9 53 10 56M6 51Q6 54 7 57M21 58Q16 59 14 57M2 64Q-0 64 1 61M22 44Q21 43 22 44M22 44Q23 40 21 35M18 42Q15 42 15 40M15 40Q16 38 17 35M27 36Q29 39 28 41M13 46Q14 43 18 42M11 34Q14 34 17 35M14 59Q14 58 14 57M25 62Q23 62 25 61M30 96Q28 95 27 93M29 100Q28 97 26 94M29 100Q25 101 21 104M23 96Q25 95 26 94M25 90Q26 92 27 91M24 64Q26 68 28 70M33 67Q32 68 30 70M33 67Q34 65 33 65M30 70Q30 71 28 70M25 75Q28 74 28 70M30 77Q29 76 31 74M28 70Q30 73 31 74M94 73Q94 70 95 69M93 73Q93 72 91 68M100 77Q99 77 97 78M97 73Q98 75 100 75M97 73Q96 73 94 73M99 107Q99 101 98 98M85 99Q85 100 85 101M79 96Q79 98 79 98M83 95Q85 95 86 96M87 108Q89 106 88 105M82 106Q82 104 85 101M86 96Q91 98 93 100M77 88Q78 89 77 88M79 93Q78 89 77 88M73 93Q75 96 78 96M84 88Q85 86 82 88M82 88Q80 86 78 86M82 90Q80 91 82 90M83 95Q81 92 83 91M78 88Q79 89 82 90M69 102Q70 100 71 99M74 99Q75 101 78 102M67 105Q67 104 69 104M62 96Q61 96 63 94M65 93Q63 95 63 94M70 93Q71 96 71 99M80 107Q79 106 80 106M81 109Q79 108 80 107M82 106Q81 106 80 106M60 69Q57 70 56 73M56 73Q55 72 56 73M50 67Q49 69 50 72M64 69Q62 73 61 77M64 69Q62 68 60 69M62 77Q60 78 56 77M68 42Q66 43 65 45M65 46Q66 45 65 45M67 52Q67 49 65 49M65 46Q66 47 65 49M66 77Q65 77 65 77M71 79Q71 76 69 75M70 25Q66 24 64 25M69 26Q65 27 63 28M74 25Q73 25 70 24M74 25Q75 26 75 27M68 19Q71 20 70 24M64 29Q64 29 63 28M98 -2Q96 0 93 0M86 -4Q89 -2 93 0M93 0Q94 0 93 0M86 15Q88 14 89 15M90 13Q89 12 87 13M92 12Q91 13 90 13M82 23Q83 22 82 22M21 12Q20 13 17 15M21 12Q23 12 23 13M23 13Q21 14 20 17M27 12Q26 14 23 13M10 17Q10 17 9 16M14 17Q16 17 17 16M17 23Q17 27 18 29M15 23Q15 23 17 23M24 27Q22 26 22 28M3 22Q2 22 1 23M4 22Q3 22 3 23M-1 28Q-0 28 -1 27M9 17Q6 17 2 18M3 13Q3 13 3 14M3 14Q3 16 1 17M-7 24Q-8 21 -8 20M-7 24Q-5 24 -5 24M-8 20Q-8 20 -7 20M-6 18Q-8 17 -9 17M-6 53Q-5 54 -2 53M-7 47Q-10 49 -10 50M-11 55Q-8 56 -8 56M-8 56Q-9 59 -9 61M-3 59Q-1 56 -2 53M51 58Q51 55 49 53M49 53Q53 54 55 54M54 58Q55 56 55 54M50 59Q52 60 51 58M46 52Q46 52 48 51M36 -0Q37 -0 40 -3M43 -1Q44 -1 43 -1M43 -1Q43 -1 45 -0M32 -1Q34 -3 35 -3M33 -5Q33 -3 33 -4M27 -7Q25 -6 26 -6M27 -7Q27 -4 30 -4M29 0Q28 1 29 -0M23 -4Q26 -6 26 -6M21 -2Q26 -0 29 -0M34 49Q34 49 34 49M34 49Q36 48 34 49M33 48Q34 47 34 49M36 60Q35 62 35 62M42 41Q41 42 42 42M42 42Q41 45 38 46M38 46Q38 47 38 46M15 106Q17 109 18 109M21 105Q21 104 21 106M13 105Q13 103 14 100M21 104Q20 105 21 104M21 104Q20 104 21 105M25 109Q24 108 21 106M39 104Q38 102 37 103M56 85Q54 89 53 90M61 87Q61 85 58 85M63 94Q60 93 58 92M66 82Q61 84 59 84M63 79Q62 79 63 79M58 85Q59 83 59 84M62 77Q60 77 62 78M62 78Q63 78 63 79M55 85Q56 82 55 81M56 77Q54 79 55 80M55 80Q55 82 55 81M43 70Q42 72 41 71M42 87Q44 83 46 81M46 79Q46 82 46 81M5 107Q8 108 8 111M12 107Q13 109 13 109M6 105Q10 107 12 107M6 57Q4 59 4 57M4 57Q3 58 3 60M3 60Q5 60 8 63M14 59Q11 60 8 62M1 61Q1 61 3 60M8 64Q9 62 8 63M-8 74Q-7 75 -7 73M-6 64Q-5 65 -3 64M-8 12Q-9 10 -9 11M31 88Q29 89 28 91M34 72Q34 71 33 72M33 72Q32 74 33 74M33 67Q35 69 36 71M31 74Q31 74 33 74M26 105Q26 106 27 107M21 104Q24 105 26 105M26 111Q28 108 28 107M93 64Q93 65 94 64M95 69Q96 70 97 68M97 73Q96 70 98 68M107 87Q105 85 107 86M108 84Q106 86 108 85M57 64Q60 63 63 64M66 66Q66 64 63 64M62 44Q64 43 64 44M61 38Q61 38 62 39M59 41Q60 41 60 44M60 44Q61 44 62 44M60 50Q61 46 59 44M55 51Q56 52 56 52M58 45Q58 46 59 44M51 48Q49 50 48 51M51 43Q51 45 51 47M51 43Q56 44 58 45M51 47Q51 47 51 48M59 3Q60 1 59 1M67 5Q68 3 69 4M69 2Q65 -1 62 -4M58 -9Q57 -10 58 -8M96 7Q96 6 93 6M80 14Q81 17 82 17M74 17Q75 17 74 16M67 14Q69 13 73 10M73 10Q75 12 74 16M-1 7Q-1 9 -3 12M-6 14Q-4 14 -3 12M33 65Q34 64 34 64M51 -1Q54 -2 54 -3M55 -6Q53 -7 53 -8M43 -1Q44 -5 44 -5M44 45Q43 44 45 45M45 45Q46 46 45 47M39 47Q42 46 42 46M48 43Q48 45 45 45M44 51Q44 49 44 48M37 103Q34 103 31 102M34 100Q34 101 31 102M32 105Q32 104 31 102M30 101Q31 103 31 101M31 101Q30 101 31 102M-7 73Q-9 70 -9 68M-5 69Q-6 68 -7 68M93 6Q91 7 88 5M88 3Q89 4 88 5M68 -8Q69 -8 70 -7M72 -7Q72 -7 70 -7M-1 17Q-3 17 -6 17M-6 18Q-6 17 -6 18M34 64Q36 65 35 64M31 88Q31 89 34 88M28 91Q30 92 30 92M43 89Q43 89 42 88M40 91Q37 89 34 88M34 88Q34 89 34 88M32 99Q32 96 33 96M31 101Q32 100 32 99M39 96Q36 97 36 97M46 82Q49 83 53 85M49 87Q50 87 52 86M53 85Q53 84 52 86M51 89Q50 87 52 86M80 14Q79 15 80 13M85 1Q85 1 85 1M87 8Q84 8 82 6M85 1Q84 4 82 6M71 6Q76 5 78 3M78 3Q79 4 79 5M71 -1Q73 0 74 -1M35 92Q34 91 31 93M38 94Q37 93 36 93M30 92Q30 91 31 93M80 13Q78 14 80 13M79 -2Q83 -1 85 -1M83 -9Q83 -7 83 -5M86 -4Q85 -4 85 -1M77 -12Q75 -8 73 -7M79 -2Q79 -4 79 -4M82 -10Q82 -7 79 -7M80 7Q79 8 81 9M83 9Q83 10 81 9M82 6Q82 7 82 6M80 13Q81 12 81 9M83 10Q84 10 83 9" stroke="#8e8e8e" stroke-width="1.2" fill="none"/></pattern><pattern id="cells48" width="100" height="100" patternUnits="userSpaceOnUse"><rect width="100" height="100" fill="#8c8c8c"/><g fill="#7a7a7a"><circle cx="92" cy="76" r="1.6"/><circle cx="48" cy="69" r="2.4"/><circle cx="76" cy="40" r="1.7"/><circle cx="59" cy="48" r="2.1"/><circle cx="10" cy="4" r="3.1"/><circle cx="15" cy="84" r="2.9"/><circle cx="23" cy="83" r="1.7"/><circle cx="33" cy="18" r="2.6"/><circle cx="75" cy="16" r="3.0"/><circle cx="28" cy="71" r="3.1"/><circle cx="99" cy="21" r="3.0"/><circle cx="16" cy="79" r="2.1"/><circle cx="31" cy="88" r="2.3"/><circle cx="15" cy="84" r="1.7"/><circle cx="93" cy="82" r="1.5"/><circle cx="100" cy="62" r="2.4"/><circle cx="96" cy="87" r="1.7"/><circle cx="55" cy="12" r="2.5"/><circle cx="72" cy="37" r="2.3"/><circle cx="90" cy="55" r="3.2"/><circle cx="28" cy="32" r="2.0"/><circle cx="98" cy="31" r="3.1"/><circle cx="3" cy="34" r="1.7"/><circle cx="51" cy="92" r="2.1"/><circle cx="68" cy="45" r="2.9"/><circle cx="32" cy="100" r="3.2"/><circle cx="28" cy="97" r="3.1"/><circle cx="70" cy="80" r="3.1"/><circle cx="21" cy="93" r="1.8"/><circle cx="58" cy="29" r="2.5"/><circle cx="93" cy="73" r="1.6"/><circle cx="94" cy="45" r="3.2"/><circle cx="99" cy="86" r="2.8"/><circle cx="31" cy="21" r="2.9"/><circle cx="54" cy="73" r="3.0"/><circle cx="31" cy="39" r="2.4"/><circle cx="99" cy="82" r="1.6"/><circle cx="58" cy="67" r="1.8"/><circle cx="55" cy="53" r="1.5"/><circle cx="42" cy="7" r="1.7"/><circle cx="86" cy="4" r="3.1"/><circle cx="85" cy="54" r="2.5"/><circle cx="32" cy="82" r="2.5"/><circle cx="53" cy="61" r="2.8"/><circle cx="21" cy="98" r="1.5"/><circle cx="8" cy="66" r="1.8"/><circle cx="84" cy="61" r="3.2"/><circle cx="31" cy="6" r="1.6"/><circle cx="46" cy="15" r="2.8"/><circle cx="37" cy="85" r="3.0"/><circle cx="11" cy="2" r="3.0"/><circle cx="38" cy="31" r="3.0"/><circle cx="51" cy="14" r="1.6"/><circle cx="72" cy="17" r="2.6"/><circle cx="95" cy="12" r="1.8"/><circle cx="75" cy="16" r="2.8"/><circle cx="47" cy="42" r="2.9"/><circle cx="41" cy="87" r="1.9"/><circle cx="97" cy="26" r="2.3"/><circle cx="92" cy="91" r="2.6"/><circle cx="42" cy="1" r="2.2"/><circle cx="76" cy="64" r="2.0"/><circle cx="23" cy="87" r="2.8"/><circle cx="27" cy="81" r="3.2"/><circle cx="10" cy="71" r="2.4"/><circle cx="89" cy="82" r="1.8"/><circle cx="38" cy="9" r="2.5"/><circle cx="88" cy="10" r="2.2"/><circle cx="37" cy="97" r="2.1"/><circle cx="68" cy="60" r="2.5"/><circle cx="45" cy="0" r="3.1"/><circle cx="90" cy="68" r="3.0"/><circle cx="38" cy="18" r="2.7"/><circle cx="100" cy="57" r="3.1"/><circle cx="37" cy="65" r="2.9"/><circle cx="57" cy="92" r="2.6"/><circle cx="4" cy="52" r="3.0"/><circle cx="88" cy="75" r="2.5"/><circle cx="38" cy="66" r="2.2"/><circle cx="52" cy="22" r="2.2"/><circle cx="13" cy="80" r="1.9"/><circle cx="95" cy="99" r="2.7"/><circle cx="94" cy="74" r="1.8"/><circle cx="55" cy="6" r="2.8"/><circle cx="58" cy="51" r="1.8"/><circle cx="83" cy="11" r="1.8"/><circle cx="68" cy="25" r="2.0"/><circle cx="44" cy="94" r="2.8"/><circle cx="20" cy="67" r="2.6"/><circle cx="63" cy="75" r="2.2"/><circle cx="25" cy="94" r="2.5"/><circle cx="11" cy="24" r="3.0"/><circle cx="43" cy="15" r="2.0"/><circle cx="34" cy="59" r="2.0"/><circle cx="51" cy="42" r="2.5"/><circle cx="80" cy="8" r="2.4"/><circle cx="64" cy="64" r="1.6"/><circle cx="44" cy="24" r="2.4"/><circle cx="97" cy="3" r="2.0"/><circle cx="46" cy="40" r="1.7"/><circle cx="5" cy="3" r="2.9"/><circle cx="9" cy="68" r="1.7"/><circle cx="0" cy="73" r="2.2"/><circle cx="88" cy="21" r="2.8"/><circle cx="55" cy="80" r="2.7"/><circle cx="81" cy="10" r="1.6"/><circle cx="14" cy="36" r="2.9"/><circle cx="81" cy="40" r="2.5"/><circle cx="23" cy="75" r="2.2"/><circle cx="15" cy="89" r="3.0"/><circle cx="0" cy="54" r="2.5"/><circle cx="50" cy="73" r="1.8"/><circle cx="70" cy="11" r="3.0"/><circle cx="44" cy="100" r="3.0"/><circle cx="31" cy="82" r="1.7"/><circle cx="22" cy="6" r="2.6"/><circle cx="88" cy="96" r="2.9"/><circle cx="95" cy="61" r="2.4"/><circle cx="60" cy="63" r="1.5"/><circle cx="24" cy="56" r="1.8"/><circle cx="27" cy="68" r="2.7"/><circle cx="54" cy="26" r="3.1"/><circle cx="84" cy="83" r="3.0"/><circle cx="80" cy="68" r="1.7"/><circle cx="31" cy="98" r="2.7"/><circle cx="97" cy="28" r="2.7"/><circle cx="81" cy="67" r="2.9"/><circle cx="90" cy="97" r="1.9"/><circle cx="54" cy="16" r="2.0"/><circle cx="15" cy="36" r="2.5"/><circle cx="20" cy="50" r="2.1"/><circle cx="88" cy="7" r="2.0"/><circle cx="92" cy="60" r="1.9"/><circle cx="0" cy="13" r="2.7"/><circle cx="39" cy="13" r="2.9"/><circle cx="37" cy="78" r="1.5"/><circle cx="75" cy="68" r="2.5"/><circle cx="58" cy="45" r="1.7"/><circle cx="58" cy="23" r="2.5"/><circle cx="9" cy="20" r="2.3"/><circle cx="47" cy="52" r="2.8"/><circle cx="4" cy="41" r="2.9"/><circle cx="26" cy="48" r="2.5"/><circle cx="55" cy="4" r="2.0"/><circle cx="44" cy="43" r="2.0"/><circle cx="47" cy="17" r="2.9"/><circle cx="64" cy="43" r="2.4"/><circle cx="49" cy="91" r="2.0"/><circle cx="31" cy="52" r="1.7"/><circle cx="96" cy="3" r="2.3"/><circle cx="85" cy="10" r="3.0"/><circle cx="54" cy="73" r="3.0"/><circle cx="47" cy="20" r="1.5"/><circle cx="32" cy="80" r="1.5"/><circle cx="3" cy="33" r="2.2"/><circle cx="74" cy="73" r="1.6"/><circle cx="75" cy="25" r="2.5"/><circle cx="6" cy="6" r="2.4"/><circle cx="10" cy="64" r="2.8"/><circle cx="85" cy="67" r="2.5"/><circle cx="32" cy="11" r="2.3"/><circle cx="62" cy="79" r="1.7"/><circle cx="85" cy="57" r="2.5"/><circle cx="92" cy="40" r="3.0"/><circle cx="47" cy="14" r="1.5"/><circle cx="22" cy="36" r="2.4"/><circle cx="27" cy="90" r="2.3"/><circle cx="87" cy="37" r="2.5"/><circle cx="42" cy="8" r="2.7"/><circle cx="17" cy="58" r="3.2"/><circle cx="20" cy="33" r="2.3"/><circle cx="15" cy="75" r="3.0"/><circle cx="66" cy="17" r="2.1"/><circle cx="13" cy="49" r="2.8"/><circle cx="91" cy="43" r="1.9"/><circle cx="65" cy="4" r="2.7"/><circle cx="63" cy="97" r="2.9"/><circle cx="70" cy="37" r="1.8"/><circle cx="61" cy="29" r="2.7"/><circle cx="34" cy="91" r="2.2"/><circle cx="3" cy="44" r="1.9"/><circle cx="27" cy="50" r="2.4"/><circle cx="26" cy="21" r="2.3"/><circle cx="1" cy="68" r="1.7"/><circle cx="54" cy="96" r="2.0"/><circle cx="40" cy="53" r="2.0"/><circle cx="29" cy="78" r="1.8"/><circle cx="70" cy="74" r="2.5"/><circle cx="79" cy="48" r="2.8"/><circle cx="17" cy="94" r="3.1"/><circle cx="30" cy="52" r="2.3"/><circle cx="96" cy="41" r="2.2"/><circle cx="74" cy="62" r="2.0"/><circle cx="55" cy="71" r="2.1"/><circle cx="13" cy="70" r="2.1"/><circle cx="58" cy="70" r="1.7"/><circle cx="44" cy="59" r="2.6"/><circle cx="46" cy="4" r="1.7"/><circle cx="37" cy="99" r="2.5"/><circle cx="52" cy="58" r="1.9"/><circle cx="58" cy="32" r="2.5"/><circle cx="7" cy="38" r="1.7"/><circle cx="24" cy="78" r="2.0"/><circle cx="35" cy="68" r="2.4"/><circle cx="48" cy="13" r="3.1"/><circle cx="42" cy="93" r="2.3"/><circle cx="7" cy="60" r="2.8"/><circle cx="14" cy="96" r="2.1"/><circle cx="57" cy="70" r="2.5"/><circle cx="54" cy="3" r="2.3"/><circle cx="13" cy="61" r="2.9"/><circle cx="12" cy="43" r="2.5"/><circle cx="63" cy="9" r="1.9"/><circle cx="68" cy="16" r="2.5"/><circle cx="4" cy="76" r="2.0"/><circle cx="7" cy="68" r="1.6"/><circle cx="88" cy="4" r="2.5"/><circle cx="81" cy="29" r="2.8"/><circle cx="85" cy="92" r="1.6"/><circle cx="63" cy="70" r="2.6"/><circle cx="89" cy="49" r="2.2"/><circle cx="27" cy="6" r="1.6"/><circle cx="29" cy="35" r="2.4"/><circle cx="44" cy="43" r="1.5"/><circle cx="92" cy="87" r="2.5"/><circle cx="72" cy="66" r="1.6"/><circle cx="67" cy="98" r="2.2"/><circle cx="92" cy="74" r="2.5"/><circle cx="29" cy="76" r="1.6"/><circle cx="51" cy="54" r="2.3"/><circle cx="39" cy="27" r="1.9"/><circle cx="23" cy="69" r="2.5"/><circle cx="54" cy="1" r="2.6"/><circle cx="22" cy="36" r="2.0"/><circle cx="8" cy="84" r="2.0"/><circle cx="53" cy="46" r="2.2"/><circle cx="98" cy="51" r="1.9"/><circle cx="30" cy="78" r="2.8"/><circle cx="91" cy="6" r="2.3"/><circle cx="45" cy="4" r="2.1"/><circle cx="44" cy="32" r="1.8"/><circle cx="87" cy="65" r="2.6"/><circle cx="60" cy="85" r="2.7"/><circle cx="12" cy="95" r="2.3"/><circle cx="82" cy="18" r="3.0"/><circle cx="100" cy="57" r="2.9"/><circle cx="93" cy="62" r="2.2"/><circle cx="39" cy="11" r="2.7"/><circle cx="59" cy="79" r="3.1"/><circle cx="96" cy="0" r="2.0"/><circle cx="93" cy="1" r="2.0"/><circle cx="48" cy="25" r="2.0"/><circle cx="64" cy="20" r="3.1"/><circle cx="73" cy="61" r="2.2"/><circle cx="67" cy="16" r="3.1"/><circle cx="48" cy="26" r="1.5"/><circle cx="67" cy="30" r="2.3"/><circle cx="33" cy="90" r="3.0"/><circle cx="18" cy="24" r="2.1"/><circle cx="40" cy="19" r="2.2"/></g><g fill="#d0d0d0"><circle cx="51" cy="29" r="1.6"/><circle cx="6" cy="24" r="0.9"/><circle cx="4" cy="41" r="1.1"/><circle cx="67" cy="23" r="1.6"/><circle cx="21" cy="59" r="1.0"/><circle cx="80" cy="46" r="1.2"/><circle cx="40" cy="57" r="1.6"/><circle cx="5" cy="60" r="1.3"/><circle cx="95" cy="58" r="1.0"/><circle cx="50" cy="32" r="1.3"/><circle cx="36" cy="36" r="1.2"/><circle cx="90" cy="30" r="1.5"/><circle cx="70" cy="81" r="1.0"/><circle cx="7" cy="5" r="1.1"/><circle cx="73" cy="87" r="1.6"/><circle cx="28" cy="35" r="1.5"/><circle cx="53" cy="41" r="1.2"/><circle cx="28" cy="63" r="1.4"/><circle cx="71" cy="43" r="0.9"/><circle cx="92" cy="34" r="1.0"/><circle cx="92" cy="15" r="1.6"/><circle cx="56" cy="96" r="1.8"/><circle cx="88" cy="31" r="1.1"/><circle cx="21" cy="6" r="0.8"/><circle cx="14" cy="97" r="1.0"/><circle cx="95" cy="47" r="1.3"/><circle cx="92" cy="40" r="1.0"/><circle cx="87" cy="53" r="1.6"/><circle cx="74" cy="89" r="1.0"/><circle cx="92" cy="24" r="1.7"/><circle cx="7" cy="79" r="1.5"/><circle cx="24" cy="73" r="1.2"/><circle cx="87" cy="61" r="1.5"/><circle cx="71" cy="77" r="0.8"/><circle cx="75" cy="12" r="1.0"/><circle cx="97" cy="32" r="1.5"/><circle cx="76" cy="57" r="1.8"/><circle cx="57" cy="79" r="1.2"/><circle cx="81" cy="52" r="1.7"/><circle cx="21" cy="66" r="1.0"/><circle cx="97" cy="33" r="0.9"/><circle cx="25" cy="57" r="1.4"/><circle cx="4" cy="32" r="1.4"/><circle cx="81" cy="82" r="1.5"/><circle cx="26" cy="94" r="1.2"/><circle cx="40" cy="20" r="1.5"/><circle cx="3" cy="27" r="1.3"/><circle cx="54" cy="97" r="1.0"/><circle cx="50" cy="27" r="1.4"/><circle cx="49" cy="22" r="1.8"/><circle cx="56" cy="15" r="1.1"/><circle cx="47" cy="72" r="1.3"/><circle cx="48" cy="11" r="1.6"/><circle cx="6" cy="89" r="1.1"/><circle cx="86" cy="3" r="1.3"/><circle cx="41" cy="71" r="1.4"/><circle cx="65" cy="99" r="1.1"/><circle cx="36" cy="25" r="1.6"/><circle cx="20" cy="2" r="1.5"/><circle cx="23" cy="48" r="1.3"/><circle cx="18" cy="88" r="1.4"/><circle cx="50" cy="27" r="1.5"/><circle cx="23" cy="68" r="1.5"/><circle cx="92" cy="34" r="1.6"/><circle cx="61" cy="24" r="1.4"/></g><path d="M16 13Q17 12 20 10M16 13Q17 12 19 9M19 9Q19 8 18 9M106 89Q107 93 107 94M104 95Q102 93 102 93M96 88Q99 86 103 86M101 94Q100 93 102 93M92 77Q96 75 97 77M105 13Q106 15 107 14M54 64Q53 64 53 64M52 71Q51 69 53 64M54 81Q55 80 55 82M53 55Q54 53 54 53M53 55Q48 55 45 55M45 55Q46 54 48 50M46 44Q45 47 43 47M43 47Q44 48 43 47M35 32Q37 29 36 28M36 28Q39 26 41 26M42 28Q41 26 41 26M37 34Q38 32 37 33M37 34Q39 36 44 36M45 36Q45 35 44 31M46 44Q46 42 46 42M40 41Q43 45 43 47M40 41Q42 41 44 39M40 41Q38 42 37 41M44 39Q43 39 44 38M48 36Q47 37 45 36M49 37Q50 39 50 40M50 41Q50 40 50 40M63 13Q63 12 63 12M47 27Q47 25 47 26M47 27Q45 29 42 28M47 26Q44 25 44 24M47 27Q48 28 48 28M48 34Q48 32 48 32M52 32Q53 30 51 30M54 18Q55 18 54 18M52 6Q53 6 51 6M43 9Q41 10 41 11M41 11Q40 13 41 16M49 22Q47 21 45 19M45 20Q45 18 45 19M43 21Q43 20 41 21M35 15Q35 14 37 12M35 15Q37 16 40 17M41 11Q39 11 37 11M56 18Q58 19 60 21M107 94Q108 96 109 97M96 88Q94 91 94 95M101 94Q102 96 101 98M98 98Q96 97 96 98M94 87Q93 90 90 91M90 91Q91 95 91 96M101 79Q101 79 98 78M98 81Q101 84 103 83M94 87Q93 87 94 86M106 56Q104 54 104 50M106 56Q104 56 103 57M101 53Q101 51 104 50M101 53Q100 54 100 55M104 50Q104 47 105 47M105 47Q104 44 103 44M-10 20Q-8 22 -5 23M-11 26Q-7 26 -5 24M83 -2Q82 -3 81 -3M83 -7Q80 -4 80 -5M83 -9Q85 -9 87 -7M68 -4Q70 -2 69 -1M62 -2Q61 0 62 2M72 0Q72 0 71 0M69 6Q70 6 72 7M77 -8Q76 -6 76 -8M77 -8Q78 -5 80 -5M62 3Q65 6 69 7M62 2Q62 3 62 2M73 13Q73 14 77 12M77 12Q75 12 77 12M62 3Q62 4 62 3M84 35Q83 35 82 34M84 41Q81 41 80 41M98 13Q99 14 98 12M98 13Q95 15 94 15M98 12Q94 10 93 11M93 11Q92 10 89 12M90 19Q88 23 87 25M52 32Q55 33 55 34M92 41Q91 43 91 42M111 2Q109 4 107 3M11 23Q9 22 10 24M11 20Q9 21 9 20M49 93Q49 94 49 93M52 86Q50 89 49 93M59 87Q59 87 58 89M83 98Q82 98 84 99M87 94Q84 97 83 98M90 98Q90 99 90 97M85 107Q84 105 81 104M71 100Q70 98 69 99M71 100Q71 101 72 100M72 100Q74 96 76 92M76 92Q76 91 76 92M78 106Q77 105 78 105M55 82Q59 80 60 82M61 83Q61 81 60 82M59 80Q58 81 60 81M60 81Q61 77 63 76M62 103Q63 103 62 103M69 107Q69 108 69 106M69 99Q67 100 62 102M68 96Q64 98 62 98M64 92Q65 93 67 94M46 93Q42 92 41 92M37 106Q37 110 37 111M37 106Q37 107 36 106M31 109Q34 106 36 106M59 46Q59 48 59 46M60 51Q58 50 56 50M56 50Q55 47 56 47M54 52Q54 52 56 50M52 45Q55 46 56 47M25 4Q24 2 25 4M25 4Q24 2 26 3M36 6Q32 8 31 9M36 6Q34 5 32 2M16 13Q16 13 17 15M17 15Q17 16 16 16M12 9Q12 8 12 9M16 16Q13 15 12 16M8 20Q9 21 9 20M11 20Q10 20 12 19M12 19Q11 18 11 16M18 9Q18 8 18 7M22 17Q22 15 21 15M18 15Q19 14 21 15M23 11Q23 11 23 12M51 28Q50 25 49 24M66 31Q67 28 68 25M77 12Q76 15 75 19M77 19Q75 19 75 19M74 18Q74 19 75 19M72 22Q74 21 75 19M75 19Q75 20 75 19M50 16Q50 15 48 12M44 16Q47 15 48 12M54 18Q53 20 52 21M52 21Q52 22 50 22M40 17Q40 17 39 19M39 19Q40 20 41 21M41 -8Q44 -9 46 -7M41 -2Q44 -5 46 -7M43 -14Q45 -10 46 -7M104 95Q104 99 104 99M109 97Q107 99 104 99M104 99Q105 100 104 99M83 81Q82 82 83 82M87 87Q87 84 90 84M87 87Q84 85 84 84M84 84Q84 82 83 82M106 79Q105 80 106 79M108 76Q110 80 110 81M102 77Q101 79 101 79M102 77Q103 80 106 79M103 82Q105 79 106 79M107 31Q108 31 108 31M107 31Q108 28 108 26M108 31Q110 32 112 33M113 61Q111 61 108 63M108 63Q107 62 108 60M107 56Q106 57 108 60M53 71Q55 73 57 73M105 106Q107 103 107 103M105 106Q109 108 112 107M72 107Q75 110 77 112M78 106Q77 105 78 106M12 9Q12 7 12 7M70 -11Q67 -8 67 -6M76 -8Q73 -8 73 -8M78 -9Q77 -9 77 -8M91 -4Q92 -4 94 -5M60 -6Q60 -5 60 -6M54 -7Q55 -6 56 -5M54 -12Q52 -9 53 -7M81 13Q80 10 81 8M85 34Q85 33 85 34M85 34Q83 30 82 28M82 34Q81 32 81 32M85 34Q86 34 86 32M83 26Q82 27 82 26M97 20Q97 19 99 18M86 34Q85 36 87 35M86 44Q84 44 85 42M52 42Q52 41 53 41M55 35Q54 36 55 35M55 35Q55 37 53 41M58 46Q55 43 55 42M80 53Q79 50 79 49M82 47Q83 50 83 51M94 47Q95 49 96 51M86 45Q87 45 86 44M86 45Q86 45 87 47M90 77Q90 77 89 76M95 71Q94 70 91 70M89 76Q90 75 89 74M67 70Q68 70 67 71M72 71Q72 71 72 71M75 49Q73 48 74 49M75 49Q77 52 77 54M75 49Q77 49 79 49M84 56Q85 54 83 54M79 54Q79 56 79 55M75 46Q77 45 79 45M78 42Q79 43 79 45M75 42Q74 42 71 43M75 42Q74 41 75 42M71 43Q71 46 72 49M103 44Q102 44 102 44M97 51Q99 49 100 48M99 51Q99 49 100 48M96 51Q97 52 97 51M95 47Q98 45 100 43M106 21Q106 23 107 23M106 21Q106 20 108 20M108 25Q106 25 107 23M106 21Q106 19 103 19M13 28Q13 28 15 25M19 29Q18 29 14 29M19 29Q20 27 20 27M52 84Q53 85 51 84M52 86Q53 85 51 85M60 96Q58 96 57 98M53 93Q53 92 54 93M64 88Q64 91 64 92M67 58Q69 57 68 55M60 57Q61 57 61 56M60 51Q62 49 65 49M61 56Q63 55 61 56M65 79Q68 78 69 77M65 81Q67 82 69 82M70 82Q70 82 69 82M61 83Q62 81 65 81M64 76Q64 76 65 79M72 87Q70 89 71 89M71 89Q70 88 70 89M67 94Q69 92 70 89M73 87Q73 85 72 87M58 79Q58 79 58 79M59 80Q58 81 58 79M58 75Q57 76 58 76M62 103Q59 104 55 104M55 104Q55 105 54 105M55 112Q52 108 52 106M56 99Q57 99 56 100M50 110Q51 108 51 106M-8 105Q-7 104 -8 105M-8 105Q-9 105 -11 103M36 28Q37 25 36 23M31 30Q31 29 31 30M32 26Q35 25 36 23M36 23Q36 22 36 22M35 43Q35 42 35 43M43 47Q39 46 38 46M23 -5Q20 -6 19 -8M26 -7Q25 -8 27 -10M34 -8Q30 -10 27 -10M17 -8Q17 -8 19 -8M74 41Q75 43 75 42M69 43Q70 42 71 43M65 26Q65 26 67 25M65 26Q64 25 63 23M66 22Q68 22 69 22M66 32Q65 32 66 32M63 29Q62 29 63 28M61 25Q62 25 63 23M71 29Q73 25 73 23M73 23Q72 23 72 22M60 21Q58 21 60 22M61 25Q62 26 61 25M62 21Q64 21 63 22M60 22Q60 23 61 25M12 -5Q14 -5 16 -8M18 3Q18 2 17 0M98 98Q97 101 98 103M101 99Q101 100 99 102M104 99Q104 100 102 99M92 105Q93 104 92 105M75 85Q78 85 79 83M75 85Q77 86 78 89M79 83Q80 84 80 86M80 86Q77 87 78 89M90 91Q88 91 88 91M85 89Q88 88 88 91M61 68Q60 67 59 70M97 77Q97 75 99 71M103 57Q102 59 102 60M107 36Q106 36 108 37M108 37Q107 41 105 41M105 41Q105 39 104 37M111 37Q110 35 108 37M105 41Q104 40 105 41M86 32Q89 29 90 29M86 34Q87 34 91 32M98 65Q98 65 96 65M96 65Q95 66 95 65M96 57Q95 58 96 61M96 61Q95 61 93 63M6 21Q5 22 7 23M10 24Q8 24 8 25M-0 29Q3 29 6 26M6 31Q2 30 -0 30M13 28Q12 26 8 26M7 31Q9 32 8 31M12 33Q9 32 8 31M-6 28Q-6 28 -6 31M-1 31Q-1 29 -0 30M-7 36Q-5 34 -5 35M-7 36Q-8 34 -9 34M-5 35Q-4 33 -6 31M-6 -5Q-8 -4 -9 -4M-7 10Q-9 10 -7 11M-7 10Q-9 8 -10 8M-7 18Q-6 17 -6 15M87 9Q87 9 90 8M94 1Q94 2 92 2M92 2Q91 -0 90 -2M90 8Q91 6 92 5M71 38Q72 37 74 36M78 36Q78 37 76 35M76 36Q77 34 76 35M106 31Q102 30 100 30M100 34Q100 33 99 31M55 42Q55 41 58 41M56 32Q60 33 61 34M66 32Q67 36 66 38M66 38Q67 38 64 37M90 53Q91 55 90 57M83 54Q83 54 85 53M84 56Q86 56 87 57M93 63Q93 63 93 63M93 62Q92 62 93 63M90 57Q90 58 88 57M87 60Q88 59 88 57M76 58Q75 57 76 57M76 58Q74 58 74 58M77 58Q77 59 76 58M69 54Q69 52 70 50M20 27Q21 25 21 26M19 26Q18 25 17 22M22 23Q22 21 19 21M17 22Q17 20 19 21M64 60Q64 63 66 63M59 64Q61 63 61 63M62 62Q60 63 61 63M72 61Q75 63 75 64M76 63Q75 64 75 64M72 71Q72 70 74 69M74 67Q72 69 74 69M67 67Q68 65 70 66M43 108Q45 108 45 107M24 35Q26 35 25 36M24 30Q26 31 25 32M29 36Q28 34 25 36M22 37Q21 38 17 38M25 27Q27 27 27 27M19 29Q19 30 20 31M25 27Q25 26 21 26M31 37Q27 39 25 41M30 41Q28 43 25 41M25 41Q26 40 25 41M32 37Q31 38 31 37M25 36Q26 39 25 41M35 15Q35 19 34 20M34 20Q32 20 32 20M22 23Q22 22 24 20M32 20Q32 19 30 18M26 22Q27 20 30 18M28 16Q26 17 24 19M19 20Q19 22 19 21M44 55Q42 56 43 54M34 59Q35 58 34 56M34 56Q37 56 43 54M43 47Q43 48 42 50M38 46Q38 49 38 50M38 50Q38 50 42 50M43 54Q43 52 42 50M30 44Q27 45 25 45M25 45Q26 46 27 46M30 45Q31 45 31 45M12 58Q12 59 10 58M63 29Q61 30 58 30M60 22Q57 22 56 25M53 27Q55 30 56 31M37 11Q36 7 37 6M37 11Q37 10 37 11M17 -6Q16 -6 14 -4M12 -5Q11 -5 11 -3M11 -3Q12 -2 14 -4M22 -3Q22 -5 23 -5M11 2Q11 -1 12 -0M11 -3Q11 -4 11 -3M103 102Q100 104 101 103M105 106Q106 105 105 106M99 111Q102 108 104 106M87 109Q85 107 85 108M84 108Q84 108 85 108M89 103Q90 103 92 105M80 86Q82 88 82 89M83 82Q82 84 82 87M78 91Q79 90 82 89M83 93Q83 93 83 91M87 93Q88 93 87 93M87 94Q86 94 87 93M88 91Q87 93 87 93M91 96Q89 98 90 97M95 99Q95 100 94 101M102 77Q101 78 102 77M107 76Q105 76 106 76M106 67Q108 66 111 67M103 70Q104 67 105 67M95 35Q95 33 94 31M94 38Q96 40 95 41M92 41Q93 40 92 41M89 38Q90 37 89 37M95 35Q94 35 93 36M-9 53Q-8 52 -8 53M-7 36Q-7 36 -7 37M22 37Q23 40 22 41M17 38Q20 38 19 41M22 41Q23 41 24 42M25 45Q26 44 24 44M19 41Q18 44 17 45M6 35Q5 37 4 37M6 31Q6 31 4 34M8 37Q8 40 5 41M5 41Q6 40 4 37M50 77Q49 76 50 74M51 77Q50 78 53 77M51 77Q50 76 50 77M37 73Q34 77 34 78M17 67Q18 68 17 67M17 67Q17 70 17 73M11 102Q12 102 12 100M11 102Q9 102 7 103M7 103Q6 104 5 106M7 109Q7 108 5 106M5 106Q6 107 5 106M4 106Q4 106 4 106M-1 112Q-3 108 -4 105M0 104Q-2 105 -4 105M-7 105Q-6 104 -4 105M-4 102Q-3 105 -4 105M9 97Q10 96 11 97M10 81Q8 79 8 76M9 76Q12 78 13 80M12 7Q10 6 5 6M7 9Q6 6 5 6M5 6Q6 7 5 6M11 2Q9 3 7 3M5 13Q3 12 -1 11M-1 18Q-3 14 -2 13M4 6Q4 5 4 6M9 16Q8 16 7 15M4 6Q2 7 0 4M96 -1Q97 0 96 2M103 2Q101 1 101 3M84 0Q83 1 84 -1M81 4Q82 1 84 0M75 32Q77 30 80 26M70 35Q72 32 73 31M73 23Q76 25 76 25M98 26Q100 24 101 19M103 24Q104 25 103 24M101 19Q100 19 101 19M95 24Q91 25 89 26M95 23Q94 24 95 24M94 31Q93 31 94 28M60 42Q62 41 62 40M66 48Q65 49 66 48M59 46Q61 46 63 45M70 50Q70 50 66 48M65 41Q66 40 67 38M66 41Q67 42 67 43M95 67Q94 68 92 67M93 63Q92 65 91 65M89 62Q88 63 88 65M88 65Q89 66 88 65M87 60Q88 60 86 61M88 65Q86 64 86 61M85 63Q85 63 85 61M83 59Q82 58 83 60M77 63Q78 65 81 68M83 66Q81 66 81 68M74 74Q73 76 73 77M73 77Q74 77 73 79M75 85Q74 83 74 83M13 20Q14 21 13 23M11 23Q12 23 13 23M51 77Q51 80 50 80M51 81Q51 83 50 84M41 92Q40 88 39 87M48 83Q49 84 50 84M66 65Q63 63 61 63M62 67Q61 65 61 63M67 67Q67 65 66 66M52 97Q50 101 50 103M48 103Q47 104 50 104M36 106Q32 103 32 102M39 104Q37 99 34 97M34 97Q34 99 33 98M41 98Q40 99 42 99M35 95Q35 94 34 92M37 86Q36 85 34 85M34 85Q31 88 27 90M27 87Q28 88 27 90M25 104Q24 103 25 104M52 71Q50 69 48 67M51 71Q47 72 45 70M44 72Q43 71 44 70M44 72Q45 73 46 74M45 70Q44 69 44 70M33 13Q32 11 32 11M33 13Q33 15 34 14M34 14Q31 14 30 17M29 14Q29 15 29 16M31 9Q31 10 32 11M30 18Q31 18 30 17M27 46Q26 45 27 46M27 46Q29 49 32 50M27 -0Q27 -1 29 -2M27 -0Q27 -4 27 -6M29 -2Q28 -3 28 -5M32 -3Q31 -4 28 -5M13 61Q16 60 17 59M15 66Q16 65 17 67M19 66Q20 63 19 62M61 25Q60 27 57 25M58 30Q59 30 58 27M47 -4Q47 -4 45 -2M-4 -4Q-2 -4 -0 -7M-3 51Q-4 50 -3 52M-3 51Q-2 50 -0 48M-0 43Q-0 43 2 44M0 51Q3 47 2 44M-0 43Q-3 43 -5 41M-0 43Q-2 41 -2 36M-6 38Q-4 38 -2 36M-2 36Q-3 35 -2 36M-8 41Q-5 42 -5 41M-7 37Q-8 38 -6 38M-0 34Q-2 36 -2 36M8 37Q8 36 11 37M17 38Q17 37 16 38M17 45Q16 43 14 41M16 38Q13 41 14 41M3 44Q5 46 5 47M5 41Q8 40 11 41M11 41Q10 42 12 42M4 50Q5 49 5 47M2 44Q2 44 3 44M6 56Q5 56 7 56M14 48Q12 46 11 48M11 48Q14 51 13 55M17 46Q16 49 14 48M22 51Q23 50 22 47M13 61Q13 61 13 61M17 59Q18 59 18 58M37 79Q38 81 39 82M34 78Q34 79 33 78M39 82Q39 83 38 86M25 82Q27 83 27 81M16 74Q16 73 16 74M16 74Q15 73 14 72M13 80Q14 77 13 76M1 99Q1 98 2 99M4 106Q4 105 3 102M11 67Q10 70 13 72M14 72Q14 72 13 72M6 89Q7 91 7 94M6 89Q6 90 2 93M2 93Q3 94 4 95M9 97Q9 97 7 94M11 97Q10 97 12 95M9 88Q10 88 11 89M3 86Q-0 88 -4 88M1 94Q2 93 2 93M13 80Q16 78 15 79M18 81Q21 81 22 82M20 91Q19 90 20 90M25 82Q25 82 23 81M27 90Q26 91 27 90M27 90Q26 89 25 90M19 86Q20 85 20 87M-2 -2Q-2 -1 1 -2M-4 -4Q-4 -4 -4 -2M-0 -7Q1 -6 1 -6M1 -2Q-0 -4 1 -6M3 2Q1 0 2 -1M1 -1Q3 -0 2 -1M4 -1Q3 -0 2 -1M-4 5Q-4 5 -4 5M98 -2Q96 2 98 3M98 3Q99 1 99 2M101 3Q101 2 99 2M63 45Q64 45 64 43M63 44Q62 42 62 41M62 41Q61 41 64 41M63 45Q64 44 63 45M62 40Q62 40 62 41M91 70Q90 69 91 70M89 74Q86 72 86 72M83 66Q83 67 87 67M78 73Q78 73 77 74M77 74Q78 75 77 76M81 75Q83 76 83 79M80 81Q79 81 77 80M86 72Q85 74 81 75M76 80Q76 80 77 80M83 81Q83 80 82 80M48 83Q47 81 48 81M47 77Q48 76 47 78M41 81Q42 81 44 81M46 78Q44 79 45 79M39 82Q41 82 41 81M46 100Q45 98 46 100M46 100Q47 99 47 96M48 96Q47 95 47 96M28 95Q30 96 32 97M27 100Q26 100 26 103M23 95Q19 93 19 92M14 96Q16 94 17 94M-6 95Q-5 95 -4 96M-5 99Q-6 99 -4 99M-4 88Q-6 93 -6 95M24 68Q23 69 24 68M22 72Q24 70 24 68M18 76Q21 75 21 77M23 81Q23 80 22 77M21 77Q22 77 22 77M45 62Q45 63 44 66M44 66Q46 64 48 63M45 56Q48 57 49 59M53 64Q53 65 52 63M48 67Q48 65 50 64M37 72Q34 72 33 71M24 51Q27 52 28 52M28 52Q27 49 27 49M28 52Q29 50 32 51M34 56Q35 56 34 54M23 60Q23 64 25 67M30 63Q29 62 29 62M29 61Q28 62 29 62M31 68Q27 68 25 67M29 62Q26 63 25 67M49 1Q48 -2 48 -4M47 -4Q48 -4 48 -4M46 -0Q46 1 49 1M49 -7Q48 -8 49 -7M46 -7Q47 -8 49 -7M48 3Q49 2 50 4M48 3Q45 4 45 2M51 5Q49 5 45 7M50 3Q50 3 50 4M40 3Q43 3 44 4M43 8Q44 7 45 7M0 55Q-1 54 -3 54M-3 55Q-4 56 -4 57M-3 52Q-3 54 -3 54M15 84Q14 86 14 88M14 88Q14 87 12 89M12 95Q13 95 16 92M16 92Q16 93 17 92M-5 -1Q-6 0 -6 1M31 73Q29 72 27 70M26 57Q27 56 26 58M26 58Q26 58 28 60M28 52Q28 52 27 54M22 53Q25 55 26 57M25 59Q25 58 26 58M-6 87Q-6 85 -6 86M-10 77Q-10 78 -8 77M-6 86Q-4 83 -3 77M-8 77Q-4 77 -3 77M-5 65Q-4 66 -5 67M-1 71Q-2 75 -3 77M-5 71Q-5 70 -4 70M-1 71Q-3 70 -4 70M0 62Q0 64 -2 65M2 62Q-0 61 0 62M-5 65Q-4 66 -4 65M-5 67Q-4 70 -4 70M18 90Q19 90 19 87M18 90Q18 91 17 92M19 86Q18 86 19 87M17 92Q18 93 17 92M28 78Q26 76 26 76M26 76Q29 76 30 74M2 77Q0 74 0 71M3 70Q1 71 0 71M8 76Q7 76 7 76M-1 71Q-1 73 0 71M9 81Q7 79 6 79M-2 78Q-1 79 1 79M1 79Q3 80 3 82M3 83Q3 83 3 82M6 79Q4 81 3 82" stroke="#a8a8a8" stroke-width="1.2" fill="none"/><path d="M20 10Q20 11 19 9M16 13Q14 11 15 10M15 10Q17 8 18 9M107 94Q105 94 104 95M107 88Q108 89 106 89M96 88Q99 90 100 93M92 77Q92 76 90 77M90 77Q91 80 91 84M91 84Q91 84 94 86M97 77Q94 80 94 86M57 68Q54 68 54 64M52 84Q55 83 54 81M55 82Q54 83 55 82M54 53Q52 52 54 52M54 52Q53 50 50 49M50 49Q48 51 48 50M50 49Q51 48 51 47M44 36Q46 37 45 36M44 31Q43 29 42 29M46 42Q45 42 44 39M37 34Q38 34 36 37M44 36Q43 38 44 38M37 41Q37 38 36 37M46 42Q49 42 50 41M51 47Q52 45 52 45M52 45Q53 43 52 42M72 13Q70 11 68 10M64 15Q66 17 68 18M63 12Q66 13 68 10M72 13Q73 13 73 13M73 13Q73 16 74 18M70 17Q71 18 74 18M41 26Q43 26 41 26M48 28Q47 29 46 30M48 32Q47 32 46 30M48 34Q49 34 48 36M48 34Q49 32 52 32M54 18Q56 17 56 18M61 11Q62 12 63 12M54 14Q54 12 55 12M54 18Q51 18 51 16M55 12Q53 8 52 6M51 12Q50 10 50 10M43 9Q42 11 44 10M43 16Q42 17 41 16M44 24Q46 24 49 22M45 20Q42 21 43 21M37 12Q39 14 41 16M37 11Q37 13 37 12M41 16Q42 15 41 16M64 15Q62 17 63 18M17 5Q17 5 18 3M107 88Q109 89 109 88M101 98Q98 100 98 98M96 88Q95 89 94 87M94 95Q92 96 91 96M98 78Q97 81 98 81M103 83Q103 82 103 82M97 77Q98 76 97 77M94 86Q94 85 94 86M94 86Q96 85 98 81M103 86Q103 85 103 83M108 55Q110 54 109 54M-5 23Q-7 22 -5 24M83 -2Q85 -3 87 -6M83 -7Q85 -7 87 -7M87 -6Q87 -6 87 -7M104 -5Q106 -5 107 -6M102 -7Q105 -9 106 -11M107 -6Q107 -7 106 -11M68 -4Q65 -4 62 -2M78 5Q77 3 76 1M69 7Q68 6 69 6M78 6Q78 8 77 12M62 3Q59 2 55 4M54 5Q54 3 55 4M61 11Q61 10 61 9M52 6Q52 5 54 5M56 -0Q56 2 55 4M84 35Q85 38 84 41M78 36Q81 34 82 34M81 15Q82 15 81 15M89 14Q88 13 89 12M88 17Q87 17 87 17M88 11Q87 12 89 12M84 23Q84 21 87 17M84 23Q81 20 80 18M94 15Q93 14 89 14M90 19Q89 17 88 17M94 15Q93 16 93 18M93 18Q92 19 90 20M55 35Q56 35 55 34M91 42Q91 43 89 44M112 7Q108 6 105 6M105 6Q105 3 107 3M107 9Q105 7 105 6M104 -5Q104 -4 104 -1M104 -1Q104 -2 104 -1M10 24Q8 21 9 20M51 94Q50 94 49 93M53 86Q53 88 52 86M53 93Q54 91 54 88M59 87Q56 86 55 85M54 88Q56 90 58 89M81 97Q82 97 83 98M76 101Q77 102 78 105M84 100Q82 104 81 104M88 99Q86 100 84 99M88 99Q88 99 90 98M87 94Q89 97 90 97M88 99Q88 101 89 103M89 103Q88 105 86 105M68 96Q70 95 73 92M68 96Q69 96 68 96M69 106Q71 103 71 100M69 106Q72 106 72 107M76 101Q75 99 72 100M60 86Q60 87 59 87M60 77Q63 77 63 76M68 110Q68 108 69 107M69 107Q65 103 62 103M61 109Q60 108 62 103M62 102Q63 101 62 102M60 94Q62 92 64 92M62 98Q62 97 60 96M41 98Q44 94 46 93M41 98Q40 97 38 96M38 96Q40 95 41 92M25 109Q25 109 26 107M31 109Q27 108 26 107M58 46Q57 45 56 47M59 46Q59 47 60 51M60 51Q60 50 60 51M60 53Q60 51 60 51M26 7Q28 10 31 9M26 7Q26 7 25 4M15 10Q15 9 12 9M12 9Q11 11 12 16M8 20Q8 19 9 16M26 7Q25 8 25 9M23 11Q25 10 25 9M19 20Q19 20 22 17M23 12Q22 15 21 15M49 24Q50 24 50 22M80 18Q77 20 77 19M68 18Q69 18 69 22M50 16Q48 17 45 17M48 12Q47 12 48 12M51 16Q50 15 50 16M45 19Q46 18 45 17M43 16Q45 17 44 16M44 10Q46 10 48 12M38 -4Q38 -2 41 -2M46 -7Q46 -9 46 -7M106 79Q107 79 107 76M106 79Q107 80 109 81M107 76Q109 76 108 76M52 71Q51 72 51 71M53 76Q52 73 51 71M73 -8Q72 -10 71 -11M67 -6Q67 -6 68 -4M68 -4Q67 -4 68 -4M91 -4Q89 -4 90 -3M90 -3Q89 -5 87 -6M87 -7Q86 -7 88 -9M76 -8Q74 -12 73 -13M96 -12Q93 -7 94 -5M94 -5Q95 -3 96 -4M102 -7Q102 -7 101 -6M105 13Q102 11 99 11M104 6Q103 5 104 6M104 6Q103 9 99 11M64 -8Q66 -8 67 -6M62 -2Q61 -4 60 -4M56 -1Q56 0 56 -0M52 -14Q52 -10 49 -7M84 8Q82 9 81 8M84 8Q82 11 81 13M81 4Q80 4 78 5M81 4Q82 6 85 7M78 6Q80 6 81 8M85 7Q86 8 85 8M81 14Q80 12 81 13M86 32Q83 28 83 26M82 26Q82 27 82 28M90 20Q92 20 95 23M98 13Q99 17 99 18M85 34Q87 33 86 34M84 41Q83 42 85 42M91 42Q89 40 89 39M89 39Q88 41 85 42M55 42Q53 42 53 41M80 53Q80 52 81 53M82 47Q81 46 80 47M79 49Q81 47 80 47M83 51Q81 52 81 53M92 53Q95 53 96 51M67 70Q70 71 72 71M72 49Q73 49 74 49M71 50Q74 53 74 55M77 54Q78 55 79 54M80 57Q80 55 79 55M75 42Q75 44 75 46M86 45Q83 46 82 47M80 41Q79 41 78 42M92 53Q95 53 97 55M97 54Q97 54 97 55M97 54Q98 54 97 52M100 55Q98 56 97 54M100 51Q100 51 99 51M100 43Q102 45 102 44M102 44Q101 43 102 44M108 20Q107 21 109 20M108 20Q108 17 109 16M14 29Q13 29 14 29M20 27Q20 27 19 26M15 25Q18 27 19 26M51 85Q48 86 48 87M56 95Q59 95 60 94M56 95Q56 94 54 93M54 93Q57 93 57 92M60 94Q58 94 60 94M58 89Q56 90 57 92M53 56Q55 55 58 57M60 53Q61 53 61 56M57 62Q60 61 61 61M60 81Q60 81 60 82M69 75Q69 75 69 77M67 74Q65 75 64 76M67 87Q68 88 70 89M67 87Q67 85 69 83M69 83Q71 84 72 87M69 82Q68 83 69 83M76 92Q75 90 73 87M54 78Q54 76 57 77M58 75Q59 77 57 77M53 76Q54 76 53 77M55 104Q57 102 56 100M51 94Q51 94 52 97M57 98Q56 100 56 99M52 97Q54 98 56 99M54 105Q52 106 52 106M-8 105Q-9 104 -7 105M27 23Q29 24 30 23M32 26Q32 24 30 23M35 32Q35 30 32 31M31 29Q30 28 31 30M36 22Q37 23 36 22M37 41Q37 43 35 43M32 37Q33 38 33 42M33 42Q33 41 35 43M37 -14Q36 -10 34 -8M52 21Q54 24 54 24M53 27Q53 26 54 24M69 38Q68 40 69 43M74 41Q73 39 71 38M69 38Q70 37 71 38M63 23Q64 23 63 22M63 22Q66 23 66 22M63 28Q64 27 65 26M66 32Q66 31 66 31M61 25Q63 26 63 28M69 22Q70 20 69 22M63 18Q64 19 66 22M16 -8Q15 -10 12 -11M17 -8Q16 -8 16 -8M15 6Q15 4 15 0M17 0Q16 1 15 0M25 4Q24 -1 22 -3M22 -3Q21 -3 19 -2M17 0Q18 -3 19 -2M98 103Q97 102 99 102M93 110Q92 107 90 108M75 85Q76 86 75 85M77 92Q78 91 78 91M91 84Q89 84 90 84M87 87Q85 87 85 89M64 70Q62 71 61 73M59 72Q61 72 61 73M67 71Q66 69 64 70M63 75Q64 74 61 73M54 64Q56 64 56 63M56 63Q58 62 59 64M98 103Q98 103 96 105M96 98Q97 100 96 99M96 105Q98 103 96 102M95 71Q94 71 96 70M99 71Q100 73 99 71M108 63Q107 63 106 65M106 35Q104 35 104 37M107 31Q106 30 106 31M104 34Q105 36 106 35M103 35Q103 36 104 37M98 65Q100 63 100 62M96 70Q94 67 95 67M99 71Q99 69 98 65M102 62Q100 63 100 62M7 23Q4 23 3 24M6 26Q3 24 3 24M6 26Q7 27 8 26M3 24Q2 25 3 24M8 26Q9 25 8 26M7 31Q6 32 6 31M14 29Q14 32 12 33M-4 25Q-4 26 -2 26M-4 25Q-6 28 -6 28M-2 26Q-0 28 -1 28M-1 31Q-4 30 -6 31M-4 -12Q-5 -7 -6 -5M-11 12Q-10 12 -7 11M-10 20Q-9 18 -7 18M-11 14Q-7 14 -6 15M104 6Q102 5 100 4M98 12Q98 13 99 12M96 5Q97 4 96 5M96 5Q96 6 93 5M93 10Q91 9 90 8M95 -1Q95 -1 94 1M95 -1Q93 -1 90 -2M93 5Q93 6 92 5M69 36Q71 34 70 35M69 36Q71 37 69 38M70 35Q71 35 74 36M103 35Q102 34 100 34M106 26Q104 29 100 29M100 29Q100 29 100 30M59 38Q59 38 60 38M63 37Q63 38 61 38M63 37Q63 36 63 33M63 33Q61 33 61 34M69 38Q67 39 67 38M64 31Q65 31 63 33M63 37Q64 38 64 37M91 53Q91 53 90 53M87 47Q85 49 87 52M90 53Q87 53 87 52M96 57Q93 58 91 57M83 51Q86 53 86 52M86 52Q86 53 87 52M83 57Q83 58 83 59M83 59Q85 57 87 57M89 62Q91 62 93 62M89 62Q87 60 87 60M74 58Q73 58 73 58M80 57Q80 57 79 59M79 59Q79 59 77 58M77 58Q77 60 75 59M69 54Q71 56 73 57M72 59Q72 59 73 58M68 55Q69 54 69 54M19 20Q20 20 19 20M64 59Q64 59 64 60M61 61Q61 60 62 62M64 60Q63 62 62 62M57 62Q57 62 56 63M70 62Q70 63 70 66M74 67Q71 65 70 66M72 59Q71 59 72 61M76 63Q76 61 75 59M25 34Q24 36 25 36M24 35Q20 33 20 33M25 36Q25 37 25 36M20 33Q19 34 20 32M22 37Q23 35 24 35M17 38Q19 35 20 33M14 29Q14 30 16 32M16 32Q17 31 18 32M18 32Q20 31 20 32M31 37Q30 39 30 41M29 36Q29 35 31 37M33 42Q30 42 30 41M30 41Q30 40 30 41M30 23Q31 22 32 20M27 23Q27 23 26 22M26 22Q24 22 24 20M24 19Q25 20 24 20M44 55Q40 61 38 63M44 55Q44 56 44 55M27 46Q27 45 30 45M30 41Q30 42 30 44M8 55Q9 55 9 54M56 32Q57 31 57 31M58 30Q58 31 57 31M54 24Q53 24 55 25M43 9Q44 8 43 8M37 6Q37 7 36 6M32 2Q33 -1 33 -2M34 -3Q37 2 39 4M38 6Q39 6 39 4M17 -6Q17 -3 19 -3M19 -3Q17 -4 14 -4M19 -2Q18 -3 19 -3M15 0Q12 -0 12 -0M12 -0Q10 -0 11 -3M104 106Q105 106 104 106M104 106Q102 107 100 104M105 106Q106 104 104 106M85 107Q86 107 85 108M81 108Q81 111 81 113M82 87Q81 88 80 86M83 87Q83 88 84 89M82 89Q84 90 84 89M84 89Q85 88 84 89M80 86Q79 85 80 86M85 89Q86 89 84 89M83 93Q85 92 87 93M83 91Q84 91 87 93M80 95Q81 93 83 93M84 89Q84 90 83 91M94 101Q92 100 92 102M96 99Q96 100 95 99M90 98Q90 97 90 98M92 105Q93 102 92 102M100 71Q100 74 102 77M102 77Q106 78 106 76M99 71Q100 72 100 71M106 67Q106 67 105 67M105 67Q107 70 111 74M100 43Q97 41 95 41M98 36Q96 36 94 38M92 41Q95 40 95 41M93 36Q94 38 93 37M91 32Q93 33 91 34M94 38Q93 38 93 37M92 41Q93 41 91 39M89 39Q88 37 89 38M-6 47Q-3 49 -4 51M-4 51Q-6 52 -8 53M-11 44Q-9 46 -6 46M-6 47Q-4 48 -5 47M-8 41Q-8 39 -9 39M19 41Q21 40 22 41M25 41Q25 41 24 42M17 46Q16 45 17 45M4 34Q5 35 3 35M-0 34Q1 32 -1 31M7 36Q7 36 8 37M47 77Q45 76 46 74M47 77Q48 77 50 77M46 74Q48 75 50 74M51 71Q50 74 50 74M40 75Q38 73 37 73M19 71Q18 68 17 67M19 71Q18 72 17 73M15 106Q16 102 15 100M15 100Q13 100 12 100M12 107Q13 107 12 107M12 107Q9 105 5 106M12 109Q11 109 12 107M4 106Q1 107 0 104M-4 105Q-4 104 -4 105M-4 105Q-2 107 -4 105M12 100Q11 97 11 97M7 103Q7 102 4 99M4 99Q7 98 9 97M9 81Q8 86 7 88M9 88Q9 87 7 88M9 88Q10 85 14 83M14 83Q14 82 13 80M8 76Q10 76 9 76M13 80Q13 81 13 80M-7 10Q-8 8 -7 5M-8 5Q-7 5 -8 5M5 6Q6 3 7 3M11 -3Q10 -3 9 -3M9 -3Q8 -2 4 -1M-8 5Q-10 3 -11 3M5 13Q6 13 7 14M7 15Q5 18 3 19M-1 18Q-1 17 1 19M-2 13Q-1 13 -2 12M-2 12Q-1 12 -1 12M11 10Q8 13 7 14M7 9Q5 12 5 13M12 16Q13 15 11 16M-2 26Q1 21 1 19M-7 11Q-5 11 -2 12M3 24Q2 22 1 19M-7 5Q-4 5 -4 5M95 -1Q96 -2 96 -1M92 2Q91 4 92 5M96 2Q97 4 96 5M88 -1Q87 -2 84 -1M84 0Q86 2 86 5M90 -2Q88 -1 88 -1M85 7Q85 5 86 5M76 25Q75 28 73 30M79 25Q81 24 80 26M82 26Q81 27 80 26M77 19Q79 22 79 25M72 29Q73 31 73 30M99 28Q102 26 103 24M103 24Q102 20 101 19M100 29Q100 28 99 28M107 23Q105 24 103 24M103 19Q102 21 101 19M99 18Q101 19 101 19M95 24Q94 24 96 25M94 28Q91 27 90 28M90 29Q89 28 90 28M59 42Q61 42 60 42M66 48Q68 45 69 43M63 45Q62 45 63 46M91 65Q90 65 88 65M83 65Q85 65 85 63M80 61Q80 62 80 61M86 61Q86 61 85 61M76 63Q77 64 77 63M83 65Q84 66 83 66M80 69Q82 68 81 69M81 68Q82 69 81 69M73 79Q72 80 70 81M16 22Q15 23 15 24M13 23Q13 24 15 24M16 18Q17 19 15 20M17 22Q17 22 16 22M50 80Q50 80 51 81M49 93Q46 94 46 93M48 87Q47 88 45 85M43 86Q43 85 45 85M46 93Q46 92 46 93M45 85Q44 85 46 83M66 63Q67 63 66 65M61 68Q62 67 62 67M49 101Q48 101 50 103M44 102Q43 102 42 101M44 104Q43 105 40 103M46 100Q45 102 44 102M48 103Q45 103 45 102M39 104Q38 104 40 103M32 102Q33 101 33 98M38 96Q36 97 35 95M39 87Q38 85 38 86M27 87Q29 85 32 83M27 90Q27 91 27 90M25 104Q20 104 18 103M26 107Q26 106 25 104M17 100Q17 101 15 100M15 106Q15 106 17 105M26 103Q26 103 25 104M48 67Q46 69 45 70M32 11Q30 13 29 14M29 16Q31 16 30 17M37 11Q36 11 33 13M25 9Q28 12 29 14M28 16Q28 16 29 16M27 -6Q28 -5 28 -5M33 -2Q32 -1 32 -3M35 -5Q36 -4 34 -3M13 61Q15 64 15 66M17 67Q19 66 19 66M17 59Q18 61 19 62M61 25Q58 27 58 27M56 25Q55 24 57 25M45 -2Q46 -0 46 -0M-4 -12Q-2 -9 -0 -7M-6 -5Q-4 -3 -4 -4M-3 52Q-1 50 -1 51M-0 48Q-2 50 -1 51M-4 51Q-5 51 -3 51M2 44Q-0 45 -0 48M-5 41Q-6 41 -6 38M-0 43Q0 42 -0 43M11 37Q14 35 13 36M18 32Q17 35 14 37M13 36Q14 37 14 37M14 37Q14 36 16 38M3 44Q5 43 5 41M1 53Q1 53 0 51M9 54Q9 52 9 48M6 56Q4 53 4 50M14 41Q13 43 12 42M16 55Q15 56 13 55M13 55Q13 54 13 55M22 53Q20 54 20 57M18 58Q18 57 16 55M32 83Q31 83 32 81M33 78Q33 80 32 81M25 82Q27 86 27 87M17 67Q15 70 14 72M9 76Q10 76 10 75M13 76Q11 77 10 75M3 102Q3 101 2 99M1 103Q1 101 -1 102M4 99Q4 98 4 99M-2 103Q-4 104 -4 105M-2 103Q-2 103 -1 102M-2 103Q-3 101 -2 98M1 98Q2 99 1 99M13 72Q11 73 11 74M15 66Q11 68 11 67M6 65Q7 63 8 63M6 65Q5 66 6 67M17 67Q16 67 17 67M10 75Q9 74 11 74M7 88Q6 90 6 89M7 88Q8 88 7 88M12 95Q11 93 11 89M-4 88Q-6 88 -4 88M-4 88Q-3 91 -0 93M1 94Q0 92 -0 93M4 99Q5 96 4 95M15 83Q16 82 18 81M15 79Q18 79 18 81M19 86Q20 84 22 82M25 90Q24 90 20 91M25 90Q23 88 20 87M20 87Q21 89 20 90M23 81Q24 80 22 82M-2 3Q-1 1 -2 -2M-4 -2Q-3 -0 -4 -1M4 -1Q3 -2 4 -1M7 -6Q5 -5 4 -5M4 -1Q4 -4 4 -5M4 6Q2 3 3 2M0 4Q-0 4 1 3M101 -2Q102 -2 101 -1M101 -1Q101 1 99 2M96 -2Q98 -1 98 -2M96 5Q96 3 98 3M64 43Q64 43 64 41M66 41Q65 43 64 43M60 42Q60 44 63 44M91 70Q91 70 91 67M86 72Q86 71 85 71M92 67Q92 66 91 67M80 73Q80 73 81 75M82 80Q80 81 80 81M80 69Q79 70 80 73M73 77Q75 78 77 76M89 76Q85 77 83 79M79 83Q80 82 80 81M50 80Q50 81 48 80M48 80Q47 79 47 78M41 81Q40 77 41 76M46 100Q44 98 45 98M46 100Q47 101 46 100M49 101Q46 99 46 100M29 98Q32 99 32 97M29 98Q30 95 28 95M33 98Q33 98 32 97M27 100Q26 97 27 94M27 94Q29 94 28 95M25 104Q25 99 22 97M26 93Q26 94 23 95M22 97Q23 95 23 95M22 97Q21 98 19 98M20 91Q20 93 19 92M19 97Q19 95 17 94M-6 95Q-8 96 -9 96M-4 98Q-5 100 -4 99M-10 91Q-9 90 -6 87M-2 98Q-3 99 -4 98M-4 102Q-4 102 -4 99M-8 102Q-8 100 -10 98M19 66Q20 66 24 68M22 72Q22 74 21 77M48 63Q48 63 50 64M48 63Q48 61 46 61M46 61Q47 61 49 59M50 64Q51 64 52 63M52 63Q52 63 52 60M52 60Q51 58 49 59M46 61Q45 62 46 61M34 67Q35 66 38 64M34 67Q35 68 33 69M38 64Q38 62 38 64M42 68Q38 69 37 72M38 63Q38 62 38 64M45 62Q40 64 38 64M44 66Q42 68 42 68M37 73Q36 72 37 72M24 51Q25 49 27 49M32 51Q32 52 32 51M28 52Q29 51 28 52M38 50Q35 49 33 52M33 52Q34 53 34 54M20 57Q22 59 25 59M19 62Q20 61 23 60M25 59Q24 59 23 60M42 -1Q40 0 42 1M46 0Q44 1 44 2M44 2Q43 1 42 1M41 -2Q40 -0 42 -1M40 3Q42 2 42 1M51 -6Q51 -8 49 -7M48 -4Q47 -7 49 -7M49 -7Q48 -7 49 -7M53 -7Q52 -6 51 -6M44 2Q44 2 45 2M51 6Q50 6 51 5M3 57Q2 57 2 60M6 56Q5 56 3 57M6 65Q4 63 2 62M2 62Q4 61 2 60M1 53Q0 55 0 55M-8 53Q-5 53 -3 55M17 94Q18 94 17 92M-6 1Q-7 1 -8 2M33 71Q31 71 31 73M25 67Q25 65 25 67M22 77Q22 76 25 76M27 54Q30 55 29 56M27 54Q27 55 26 57M29 56Q27 58 28 60M-7 62Q-10 63 -11 62M-7 63Q-8 63 -7 63M-4 61Q-4 58 -4 57M-7 63Q-9 62 -9 65M-9 84Q-7 86 -6 86M-9 70Q-7 72 -5 71M-8 77Q-7 74 -5 71M-3 61Q-2 62 -4 65M-4 61Q-4 62 -3 61M-1 71Q-1 69 -2 65M17 92Q16 91 17 92M17 92Q17 90 16 88M20 90Q19 89 18 90M19 92Q20 92 17 92M14 88Q14 87 16 88M28 78Q30 77 31 76M31 76Q32 75 30 74M6 76Q3 78 2 77M7 76Q7 79 6 79M2 77Q2 78 2 77M6 79Q4 79 2 77M-3 77Q-2 76 -2 78M3 86Q4 85 3 83" stroke="#bcbcbc" stroke-width="1.0" fill="none"/><path d="M16 13Q17 12 16 13M106 89Q103 92 102 93M107 88Q104 87 103 86M96 88Q96 87 96 88M100 93Q100 95 101 94M105 13Q104 10 107 9M107 14Q109 11 111 10M107 9Q108 9 111 10M53 71Q52 70 52 71M53 71Q55 68 57 68M52 71Q53 72 52 71M52 84Q53 83 55 84M55 84Q55 84 55 82M46 44Q47 46 51 47M48 50Q47 48 43 47M35 32Q37 32 37 33M37 33Q39 31 42 29M42 29Q41 28 42 28M48 36Q49 35 49 37M44 38Q48 40 50 40M50 41Q52 42 52 42M72 13Q70 14 70 17M64 15Q63 13 63 13M68 18Q68 17 70 17M41 26Q42 26 42 25M44 24Q42 23 42 25M44 24Q44 23 44 24M48 28Q50 28 51 29M48 32Q49 31 51 30M51 30Q52 29 51 29M44 31Q44 30 46 30M54 18Q53 15 54 14M56 18Q61 14 63 13M61 11Q59 10 55 12M54 14Q53 14 51 12M51 16Q51 13 51 12M50 10Q51 9 51 6M44 10Q45 14 43 16M44 24Q44 23 45 20M44 24Q44 23 43 21M44 24Q44 24 44 24M42 25Q43 23 41 21M40 17Q41 18 41 16M60 21Q61 21 62 21M63 18Q62 18 62 21M25 4Q22 3 18 3M25 4Q22 5 18 7M18 7Q17 8 17 5M107 88Q107 89 107 88M100 93Q99 96 96 96M96 96Q95 97 94 95M96 96Q96 99 96 98M101 79Q103 79 103 82M97 77Q98 76 98 78M103 57Q102 57 100 55M106 56Q105 54 107 56M105 47Q107 48 109 48M107 56Q106 55 108 55M111 41Q107 41 105 41M105 41Q103 43 103 44M80 -5Q81 -4 81 -3M83 -9Q82 -8 83 -7M87 -7Q88 -6 87 -7M104 -5Q104 -4 102 -7M69 -1Q65 1 62 2M78 5Q77 4 78 6M78 6Q76 7 72 7M76 1Q74 -1 72 0M71 0Q71 3 69 6M76 -8Q74 -4 72 0M81 -3Q77 -2 76 1M62 3Q63 2 62 2M69 -1Q70 -2 71 0M69 7Q68 8 68 10M77 12Q73 9 72 7M78 6Q77 6 78 6M61 9Q60 7 62 3M61 9Q57 8 54 5M62 2Q58 1 56 -0M80 41Q79 38 78 36M81 15Q86 12 88 11M81 15Q84 15 87 17M89 14Q89 15 88 17M80 18Q80 16 81 15M90 19Q91 18 90 20M84 23Q85 25 84 25M87 25Q87 24 84 25M49 37Q52 36 55 35M92 41Q92 45 94 46M94 46Q93 46 89 44M105 6Q104 6 105 6M107 -6Q108 -5 109 -3M109 -3Q107 -1 104 -1M11 23Q11 21 11 20M51 94Q53 94 53 93M53 86Q53 88 54 88M53 86Q53 86 55 85M81 97Q78 98 76 101M84 100Q85 100 84 99M81 104Q81 103 78 105M86 105Q84 102 84 100M86 105Q85 106 85 107M69 99Q70 98 68 96M73 92Q74 92 76 92M72 107Q74 105 78 106M60 86Q61 84 61 83M55 85Q57 85 55 84M60 77Q58 78 59 80M62 103Q62 102 62 102M62 102Q62 100 62 98M60 94Q59 94 60 96M68 96Q68 94 67 94M58 46Q58 46 59 46M54 53Q56 52 60 53M26 3Q27 3 32 2M9 16Q12 17 11 16M25 4Q24 5 25 4M20 10Q22 10 23 11M19 20Q18 18 18 15M17 15Q16 14 18 15M47 26Q49 25 49 24M51 29Q50 29 51 28M49 22Q50 21 50 22M66 31Q69 30 72 29M72 29Q72 28 71 29M71 29Q68 26 68 25M81 14Q78 14 77 12M81 14Q81 13 81 15M69 22Q70 22 72 22M77 12Q78 13 77 12M44 16Q45 17 45 17M50 10Q50 12 48 12M41 -8Q39 -6 38 -4M83 81Q86 82 90 84M81 97Q79 97 80 95M76 92Q76 91 77 92M77 92Q78 95 80 95M107 88Q107 85 109 81M108 55Q108 58 110 58M57 73Q56 74 53 76M104 99Q106 100 107 103M111 102Q110 101 107 103M78 106Q78 110 77 112M15 6Q15 6 17 5M15 6Q14 7 12 7M12 7Q12 7 12 7M73 -8Q71 -6 68 -4M76 -8Q77 -8 76 -8M91 -4Q89 -7 90 -9M96 -12Q98 -8 100 -7M100 -7Q96 -5 96 -4M101 -6Q101 -7 100 -7M105 6Q104 4 104 6M107 3Q105 1 104 -1M60 -6Q60 -6 60 -4M60 -6Q57 -6 56 -5M60 -4Q59 -4 57 -2M56 -5Q58 -3 57 -2M64 -8Q63 -6 60 -6M54 -7Q54 -9 57 -8M57 -8Q59 -6 60 -6M56 -1Q58 -1 57 -2M48 -13Q48 -11 49 -7M54 -7Q53 -6 53 -7M85 8Q85 9 84 8M88 11Q88 11 87 9M87 9Q87 8 85 8M84 35Q85 35 85 34M81 32Q81 31 82 28M93 18Q93 18 97 20M95 23Q97 21 97 20M87 35Q87 37 85 42M86 44Q86 45 89 44M94 47Q92 47 92 49M92 53Q91 54 91 53M91 53Q92 51 92 49M94 46Q94 45 95 47M95 47Q95 46 94 47M87 47Q89 48 92 49M92 77Q95 74 95 71M91 70Q90 72 89 74M69 75Q67 75 67 74M69 75Q71 74 70 75M67 74Q68 73 67 71M70 75Q72 72 72 71M72 49Q73 49 71 50M77 54Q74 55 74 55M80 53Q79 54 79 54M84 56Q82 56 83 57M83 54Q82 54 81 53M83 57Q80 56 80 57M75 42Q76 42 78 42M74 49Q75 48 75 46M80 47Q79 47 79 45M85 42Q85 43 85 42M101 53Q100 52 100 51M102 44Q102 49 100 51M97 52Q96 51 97 51M97 52Q97 52 99 51M102 44Q101 47 100 48M103 19Q104 18 107 15M107 15Q107 16 109 16M107 15Q106 16 107 14M14 29Q13 30 13 28M51 84Q51 84 51 85M49 93Q49 91 48 87M60 94Q60 92 57 92M57 98Q58 96 56 95M60 86Q63 89 64 88M67 58Q65 58 64 59M65 53Q67 55 68 55M65 53Q64 54 61 56M64 59Q64 56 61 56M53 55Q52 55 53 56M58 57Q58 58 60 57M58 57Q58 61 57 62M60 57Q60 59 61 61M65 53Q65 51 65 49M65 79Q64 80 65 81M69 77Q71 80 70 82M63 76Q63 76 63 75M63 75Q63 76 64 76M64 88Q67 86 67 87M73 92Q73 92 71 89M58 79Q56 80 57 80M58 79Q59 77 57 77M57 80Q56 79 54 78M60 77Q59 78 58 76M58 76Q60 77 58 79M55 82Q55 80 57 80M54 81Q54 82 53 81M53 81Q53 80 54 78M54 78Q55 78 54 78M57 73Q58 73 58 73M58 73Q59 74 58 75M54 78Q52 78 53 77M61 109Q57 107 54 105M62 102Q61 101 56 100M37 106Q38 106 38 106M38 106Q40 106 43 108M51 106Q50 106 52 106M-7 110Q-10 109 -10 108M-8 105Q-9 106 -10 108M-7 105Q-7 108 -7 110M31 29Q29 27 27 27M31 29Q31 27 32 26M27 27Q26 24 27 23M32 31Q31 30 31 30M41 26Q39 23 36 22M39 19Q37 20 36 22M36 37Q35 38 32 37M43 47Q44 48 43 47M38 46Q37 46 35 43M35 43Q37 44 35 43M23 -5Q24 -7 26 -7M20 -9Q19 -8 19 -8M38 -4Q36 -4 35 -5M34 -8Q36 -7 35 -5M51 28Q52 28 53 27M69 38Q70 38 69 38M67 25Q69 23 69 22M66 32Q65 30 64 31M64 31Q63 31 63 29M68 25Q66 25 67 25M12 -5Q12 -7 11 -11M17 -8Q18 -8 17 -8M101 98Q100 100 101 99M101 99Q102 98 102 99M92 105Q90 108 90 108M92 105Q93 103 93 105M93 105Q94 108 93 110M75 85Q75 86 73 87M78 89Q79 90 78 91M64 70Q63 69 61 68M61 68Q62 68 61 68M59 70Q58 70 59 72M57 68Q58 68 59 70M59 64Q59 66 61 68M58 73Q60 74 59 72M96 99Q96 100 96 102M96 70Q96 71 99 71M102 60Q103 60 102 62M106 65Q103 62 102 62M106 35Q107 36 107 36M108 31Q106 33 107 36M104 34Q104 32 106 31M104 34Q103 34 103 35M90 29Q90 31 91 31M91 31Q91 31 91 32M100 62Q99 61 97 61M97 61Q96 63 96 65M95 67Q94 65 95 65M97 55Q96 55 96 57M102 60Q99 59 96 57M96 57Q95 58 96 57M97 61Q97 61 96 61M95 65Q96 65 93 63M7 23Q6 25 8 25M8 25Q9 25 8 26M6 21Q6 21 8 20M-1 28Q1 30 -0 29M-1 28Q2 26 3 24M7 31Q7 28 8 26M-0 30Q-1 30 -0 29M-6 28Q-7 27 -10 28M-6 31Q-6 30 -9 31M-6 31Q-7 32 -6 31M-5 24Q-5 24 -4 25M-5 23Q-5 21 -3 20M-7 18Q-6 18 -3 20M99 11Q98 12 99 12M99 12Q97 8 96 5M100 4Q99 4 96 5M93 11Q93 11 93 10M93 5Q93 6 93 10M92 5Q92 5 92 5M74 41Q76 38 76 36M74 36Q75 36 76 36M99 31Q100 31 100 30M106 26Q107 25 108 26M59 46Q59 44 59 42M59 42Q57 40 58 41M55 35Q56 35 59 38M58 41Q58 39 59 38M55 34Q56 32 56 32M61 34Q61 37 60 38M61 38Q61 38 60 38M66 32Q69 34 69 36M67 38Q65 39 66 38M91 57Q90 57 90 57M85 53Q86 54 86 52M85 53Q87 54 87 57M91 57Q92 61 93 62M87 57Q86 57 87 57M88 57Q88 59 87 57M76 57Q75 55 74 55M74 55Q72 56 73 57M73 57Q74 58 73 58M79 55Q78 57 76 57M75 59Q74 58 74 58M74 55Q76 55 74 55M71 50Q70 51 70 50M72 59Q69 60 68 58M67 58Q69 58 68 58M16 16Q16 15 16 18M16 18Q19 19 19 20M21 26Q20 23 22 23M68 58Q68 60 69 62M69 62Q68 64 66 63M72 61Q70 62 70 62M75 64Q75 65 74 67M69 62Q69 62 70 62M67 70Q66 69 67 67M74 67Q72 67 74 67M51 106Q51 106 51 105M45 107Q48 106 51 105M25 34Q24 33 25 32M24 30Q22 29 20 31M20 31Q20 32 20 32M31 30Q29 31 25 32M31 30Q28 33 25 34M32 31Q29 32 29 36M17 38Q18 37 17 38M25 27Q24 30 24 30M31 37Q32 36 31 37M35 15Q36 17 35 15M36 22Q35 21 34 20M23 12Q26 15 28 16M22 17Q23 18 24 19M38 63Q37 60 34 59M45 55Q44 56 44 55M30 44Q31 43 30 45M35 43Q32 42 31 45M8 55Q10 57 10 58M9 54Q10 55 13 55M13 55Q13 56 12 58M56 25Q57 25 55 25M55 25Q56 27 56 31M57 31Q57 31 56 31M37 6Q36 7 38 6M43 8Q41 7 38 6M33 -2Q35 -3 34 -3M17 -8Q16 -7 17 -6M12 7Q13 6 11 2M104 106Q102 103 103 102M100 104Q99 103 101 103M102 99Q103 100 103 102M105 106Q105 109 107 109M96 105Q98 109 99 112M96 105Q99 104 100 104M99 102Q99 101 101 103M96 105Q95 104 96 105M96 105Q96 105 96 105M93 105Q95 106 96 105M90 108Q88 107 87 109M81 108Q80 109 78 106M81 108Q83 109 84 108M82 87Q83 86 83 87M84 84Q84 87 83 87M95 99Q92 99 90 98M90 98Q91 99 92 102M96 102Q96 102 94 101M108 76Q110 75 109 76M100 71Q101 70 103 70M103 70Q103 74 106 76M106 65Q107 65 106 67M100 43Q99 43 100 43M100 34Q99 36 98 36M100 43Q100 40 98 36M95 35Q95 36 98 36M94 31Q96 32 99 31M98 36Q99 36 98 36M91 34Q91 36 93 36M91 34Q90 36 89 37M93 37Q93 38 91 39M91 39Q89 39 89 38M91 31Q93 30 94 31M94 31Q94 32 94 31M87 35Q88 37 89 37M8 55Q6 56 7 56M10 58Q11 58 8 60M7 56Q7 58 8 60M13 61Q14 59 12 58M13 61Q11 62 8 63M8 60Q9 62 8 63M-8 49Q-6 47 -6 47M-6 46Q-7 44 -8 41M-5 47Q-6 46 -6 46M-8 41Q-7 42 -8 41M-9 39Q-8 40 -7 37M24 44Q26 45 24 42M22 47Q22 47 24 44M22 47Q18 46 17 46M4 34Q5 35 6 35M3 35Q2 35 4 37M-0 34Q1 35 3 35M8 31Q9 33 7 36M7 36Q6 34 6 35M51 71Q50 72 51 71M40 75Q38 78 37 79M37 79Q36 77 34 78M11 102Q11 103 12 107M12 107Q13 107 15 106M-1 111Q1 108 4 106M5 106Q6 107 4 106M-8 105Q-9 104 -8 102M-8 102Q-7 102 -6 101M-6 101Q-6 100 -4 102M9 81Q11 81 10 81M10 81Q13 80 13 80M-8 5Q-9 6 -10 8M-8 5Q-6 5 -7 5M12 9Q12 11 11 10M11 10Q10 10 7 9M7 3Q4 1 4 -1M7 15Q6 16 7 14M3 19Q2 20 1 19M1 19Q-1 19 1 19M-1 11Q-0 10 -1 12M4 6Q2 9 -1 11M5 6Q4 6 4 6M6 21Q6 21 3 19M-6 15Q-4 15 -2 13M-3 20Q-2 19 -1 18M-4 5Q-4 4 -4 5M-4 5Q-2 9 -1 12M0 4Q-2 4 -4 5M90 -3Q90 -1 90 -2M96 -4Q96 -4 96 -2M90 -2Q90 -3 90 -2M96 -2Q96 -1 96 -1M94 1Q96 0 96 2M96 5Q97 5 96 5M104 6Q104 2 103 2M104 -1Q102 -2 102 -1M103 2Q103 2 102 -1M100 4Q99 3 101 3M88 -1Q87 0 89 3M86 5Q86 4 89 3M92 5Q92 4 89 3M83 -2Q83 -0 84 -1M75 32Q76 32 75 32M75 32Q73 30 73 31M76 25Q76 24 79 25M73 30Q73 30 73 31M81 32Q80 33 75 32M76 35Q75 33 75 32M83 26Q85 24 84 25M99 28Q98 26 98 26M106 26Q105 24 103 24M96 25Q94 28 94 28M90 28Q90 27 89 26M98 26Q97 26 96 25M87 25Q88 25 89 26M61 38Q62 40 62 40M63 46Q65 43 67 43M63 46Q64 46 66 48M69 43Q67 42 67 43M65 49Q66 48 66 48M69 43Q71 42 69 43M65 41Q67 41 66 41M92 67Q91 64 91 65M88 65Q88 65 88 65M83 65Q81 63 80 61M83 60Q85 59 85 61M83 60Q81 62 80 61M79 59Q78 61 80 61M77 63Q79 62 80 61M88 65Q87 63 85 63M74 67Q77 68 80 69M70 75Q70 77 73 77M72 71Q74 73 74 74M73 79Q74 80 76 80M76 80Q75 81 74 83M70 81Q72 84 74 83M70 82Q71 82 70 81M73 77Q74 78 73 77M13 20Q14 20 15 20M15 20Q15 21 16 22M12 19Q12 21 13 20M15 25Q15 24 15 24M53 81Q52 81 51 81M51 84Q50 85 50 84M49 93Q50 93 49 93M46 93Q44 89 43 86M43 86Q42 87 39 87M48 83Q46 82 46 83M66 66Q65 64 66 65M66 66Q64 65 62 67M61 63Q61 63 61 63M49 93Q49 93 48 96M48 96Q47 98 49 101M51 105Q50 106 50 104M50 103Q51 104 50 104M44 102Q45 102 45 102M45 102Q45 105 44 104M40 103Q40 102 42 101M46 100Q47 101 48 103M45 107Q44 105 44 104M39 104Q38 106 38 106M42 99Q40 100 42 101M34 97Q34 97 35 95M37 86Q36 85 38 86M37 86Q37 91 34 92M34 92Q31 91 27 90M34 85Q34 83 32 83M25 104Q21 107 18 107M18 103Q19 105 17 105M18 107Q17 107 17 105M18 109Q19 107 18 107M17 100Q16 101 18 103M32 102Q29 103 26 103M25 104Q24 104 25 104M35 15Q34 15 34 14M31 45Q32 48 32 50M35 43Q34 47 32 51M32 51Q31 50 32 50M26 3Q25 2 27 -0M32 -3Q29 -2 29 -2M26 -7Q25 -8 27 -6M58 27Q57 28 57 25M61 25Q61 25 61 25M47 -4Q46 -2 46 -0M46 -0Q46 0 46 -0M9 -3Q8 -5 7 -6M6 -11Q8 -8 7 -6M-5 47Q-4 45 -0 43M0 51Q-2 52 -1 51M2 44Q1 44 2 44M-5 35Q-2 36 -2 36M12 33Q14 35 13 36M16 32Q16 35 13 36M13 36Q14 36 13 36M5 47Q8 48 9 48M9 48Q12 47 11 48M11 48Q11 45 12 42M4 50Q2 50 1 53M5 41Q6 42 5 41M11 37Q10 40 11 41M14 48Q16 52 17 53M17 53Q18 54 16 55M11 48Q13 48 11 48M22 51Q21 51 22 51M22 51Q18 53 17 53M22 53Q24 51 22 51M18 58Q19 58 20 57M27 81Q28 82 32 81M17 73Q16 73 16 74M13 80Q14 79 13 80M3 102Q1 102 1 103M-1 102Q1 99 1 99M4 99Q4 99 2 99M0 104Q-1 105 1 103M-2 98Q-2 97 1 98M6 67Q7 66 5 67M6 67Q7 66 11 67M5 67Q7 70 11 74M16 74Q14 74 13 76M7 94Q4 94 4 95M11 97Q11 97 11 97M3 86Q5 88 7 88M1 98Q1 95 1 94M16 74Q18 74 18 76M18 76Q15 77 15 79M14 83Q13 85 15 83M15 84Q15 85 15 83M15 84Q18 85 19 86M19 86Q19 87 19 86M-2 3Q-2 3 -4 5M-4 5Q-4 3 -4 2M-2 -2Q-3 -3 -4 -2M-4 -1Q-5 2 -4 2M6 -11Q4 -10 2 -7M4 -5Q4 -7 2 -7M2 -7Q2 -7 1 -6M3 2Q2 1 1 3M1 3Q-1 1 -1 2M-1 2Q-1 0 1 -1M-2 3Q-2 2 -1 2M1 -2Q2 -0 1 -1M101 -2Q100 -0 98 -2M101 -6Q100 -4 101 -2M102 -1Q101 -2 101 -1M63 45Q63 46 63 44M64 41Q65 39 64 41M65 41Q66 42 64 41M64 37Q64 40 64 41M91 70Q89 69 87 67M91 67Q89 68 87 66M87 67Q88 68 87 67M87 66Q86 66 87 67M85 71Q87 69 87 67M88 65Q89 66 87 66M85 71Q84 70 81 69M78 73Q79 74 80 73M77 76Q78 77 77 80M82 80Q81 79 83 79M74 69Q77 72 78 73M74 74Q75 74 77 74M48 80Q48 82 48 81M42 75Q42 77 41 76M42 75Q45 77 46 78M44 81Q44 79 45 79M46 83Q44 81 44 81M40 75Q41 75 41 76M44 72Q41 73 42 75M47 78Q48 79 46 78M48 81Q48 81 45 79M47 96Q45 98 45 98M42 99Q42 99 45 98M27 100Q26 99 29 98M27 90Q25 91 26 93M27 94Q25 94 26 93M17 100Q19 100 19 98M11 97Q11 98 14 96M14 96Q16 96 19 97M19 98Q18 97 19 97M-4 96Q-4 96 -4 98M-5 99Q-9 98 -10 98M-6 87Q-6 88 -4 88M-0 93Q-3 95 -4 96M-6 101Q-5 100 -5 99M19 71Q20 72 22 72M46 61Q45 61 45 62M45 56Q44 58 46 61M53 56Q53 58 52 60M44 55Q45 55 45 56M38 64Q39 66 42 68M42 68Q42 67 42 68M33 69Q34 70 33 71M30 63Q31 64 34 67M30 63Q29 66 31 68M31 68Q32 68 33 69M44 70Q44 70 42 68M22 51Q22 52 24 51M27 46Q27 46 27 49M32 51Q32 52 33 52M24 68Q24 67 25 67M34 59Q31 60 29 61M45 -2Q43 -1 42 -1M46 -0Q45 -0 46 0M39 4Q38 4 40 3M50 3Q49 3 49 1M50 3Q51 1 52 -3M52 -3Q52 -6 51 -6M56 -1Q54 -3 52 -3M45 2Q46 4 44 4M51 5Q51 5 50 4M45 7Q44 6 44 4M46 0Q48 3 48 3M3 57Q3 56 0 55M2 60Q-2 59 -4 57M-3 54Q-3 54 -3 55M-4 57Q-3 56 -4 57M11 89Q12 89 12 89M12 89Q14 90 16 92M-5 -1Q-7 -1 -10 -2M-10 -2Q-9 1 -8 2M-4 -1Q-6 -0 -5 -1M-4 2Q-6 -0 -6 1M-8 5Q-9 4 -8 2M24 68Q27 71 27 70M27 70Q26 72 25 76M34 54Q32 56 29 56M29 61Q28 62 28 60M-7 62Q-9 60 -9 57M-7 63Q-8 64 -7 62M-7 63Q-4 60 -4 61M-4 57Q-8 57 -9 57M-6 86Q-5 87 -6 86M-7 63Q-6 63 -5 65M-8 67Q-8 67 -5 67M-1 71Q-0 71 -1 71M-3 77Q-4 78 -3 77M0 62Q-2 62 -3 61M-2 65Q-3 65 -4 65M19 87Q17 88 16 88M33 78Q33 77 31 76M27 81Q28 78 28 78M25 76Q25 77 26 76M31 73Q32 73 30 74M6 76Q4 73 3 70M5 67Q6 70 3 70M7 76Q7 77 6 76M6 79Q7 81 6 79M-2 78Q-2 79 -2 81M-2 81Q1 82 3 83M-6 86Q-5 85 -2 81M2 77Q0 79 1 79" stroke="#9a9a9a" stroke-width="1.0" fill="none"/></pattern></defs>
<rect width="1266" height="2180" fill="#fff"/>
<text x="921.7" y="18.5" font-size="20.5" text-anchor="middle" textLength="124.5" lengthAdjust="spacingAndGlyphs">MDA-MB-231</text>
<line x1="569.3" y1="25.0" x2="1260.6" y2="25.0" stroke="#000" stroke-width="2.4" stroke-linecap="butt"/>
<text x="679.5" y="52.5" font-size="20.5" text-anchor="middle" textLength="48" lengthAdjust="spacingAndGlyphs">DAPI</text>
<text x="920.5" y="52.5" font-size="20.5" text-anchor="middle" textLength="39.4" lengthAdjust="spacingAndGlyphs">EdU</text>
<text x="1149.2" y="52.5" font-size="20.5" text-anchor="middle" textLength="60" lengthAdjust="spacingAndGlyphs">Merge</text>
<svg x="573.4" y="59.4" width="223.3" height="167.4">
<g transform="translate(0,0)"><rect x="-100" y="-100" width="423" height="367" fill="url(#dapi)"/></g>
<g transform="scale(1.001,1.002)"><path d="M161 165l3 1l0 -2zM35 151l4 8l7 0l8 5l4 -4l6 -1l10 7l15 0l4 -4l0 -4l6 -6l-1 -3l-5 0l-2 -2l2 -3l-1 -4l-6 -3l-7 0l0 5l-7 4l0 4l-4 4l-3 -8l-4 -3l2 -3l7 -2l-2 -4l-4 2l-6 -2l-1 -3l-4 2l4 2l-1 3l-8 1l0 3l-3 2l-1 8l-3 -4l-3 0zM208 124l-3 2l-5 0l-4 4l-8 0l-4 3l-1 4l5 3l0 5l3 3l-2 3l0 6l4 3l3 -5l3 3l3 -2l5 1l-1 -3l5 -5l4 0l2 2l-1 2l2 1l2 -1l-1 -8l2 -6l-5 1l-2 -2l2 -3l-1 -4zM198 151l1 -1l1 2l-1 1zM12 119l-3 2l3 1zM207 115l-1 2l3 1l1 -1zM124 120l2 6l4 3l-2 2l-4 0l-2 -2l-2 1l0 4l2 2l-1 4l5 0l2 2l-4 2l3 4l-6 5l-1 4l3 2l0 -2l7 -6l7 7l6 3l2 -1l4 2l4 -2l2 4l-5 2l7 0l3 -5l5 0l-3 -4l-3 4l-4 0l-4 -3l2 -4l4 -1l3 -3l-3 -2l-2 1l-1 -4l-3 1l-2 -2l2 -1l0 -2l-2 -3l-3 -1l1 -4l-3 -3l1 -2l-4 0l-4 -3l1 -7l6 -3l-5 -1l-2 3l-3 1l1 3l-2 2zM133 125l2 4l-4 1l-1 -2zM28 100l-5 0l0 2l-5 3l0 4l3 2l3 -1l0 -3l5 -3zM132 90l0 2l2 0l0 -2zM157 89l-4 2l-1 4l2 3l3 -1l2 -4zM201 89l-2 -1l-2 4l2 0zM86 94l-4 -3l0 -2l-5 1l-2 -2l-10 1l-2 2l-7 -1l-5 2l-2 10l3 -3l3 2l2 -2l7 0l2 2l7 1l5 -1zM86 87l2 3l0 -2zM148 85l-3 0l-2 4l5 -2zM115 65l0 2l2 1l2 -2zM207 59l0 3l-4 4l0 2l3 1l10 10l6 2l0 -22l-5 -2zM135 50l-3 2l2 0zM176 48l2 2l0 -2zM130 43l-6 3l3 5l4 -4zM187 25l-1 2l4 3l-1 2l-16 0l-3 3l0 2l4 2l1 -4l4 -2l1 7l-5 4l5 0l3 3l2 0l2 -3l4 2l2 6l-1 2l-6 -2l-2 2l-6 -1l-4 3l1 4l4 1l7 7l5 1l3 -6l7 -7l3 -1l-1 -4l-8 -2l-2 -4l5 -1l7 4l5 0l0 -12l-3 -8l-6 2l-1 -2l-3 1l-4 -3zM187 18l-5 4l2 1l0 -2zM7 10l6 3l1 -1l-3 -3zM94 4l0 6l2 0l1 -4zM84 4l-12 2l-1 3l-5 2l-3 4l-8 1l8 6l-2 6l1 14l7 2l4 8l7 4l2 0l1 -2l0 -6l-1 -2l-6 1l-2 -4l1 -3l3 -3l4 -1l1 -7l2 -2l13 1l2 -2l1 -7l4 -2l-2 -2l-10 0l-3 -4l-4 -2zM76 32l2 -1l1 3l-2 1zM56 2l0 5l5 1l1 -1zM117 1l-4 4l-5 2l-2 3l2 1l1 -2l3 3zM112 38l6 4l0 -6l13 -2l2 -2l2 3l-1 1l2 1l2 -5l7 -4l2 -4l10 2l10 -7l5 0l8 -7l-4 -3l-2 -9l-8 0l-4 3l-1 4l-3 3l-7 0l-5 -5l-8 0l-2 -5l-2 2l-4 -1l-4 7l-8 8l1 4l-5 8l1 5l-3 3z" fill="#0a1436" fill-rule="evenodd" opacity="0.9"/></g>
</svg>
<svg x="805" y="59.4" width="223.0" height="167.4">
<rect width="100%" height="100%" fill="#070304"/>
<g transform="translate(0,0)"><rect x="-100" y="-100" width="423" height="367" fill="url(#edu)"/></g>
</svg>
<svg x="1037.3" y="59.4" width="222.6" height="167.4">
<g transform="translate(22,0)"><rect x="-100" y="-100" width="423" height="367" fill="url(#dapi)"/></g>
<g transform="scale(0.998,1.002)"><path d="M161 165l3 1l0 -2zM35 151l4 8l7 0l8 5l4 -4l6 -1l10 7l15 0l4 -4l0 -4l6 -6l-1 -3l-5 0l-2 -2l2 -3l-1 -4l-6 -3l-7 0l0 5l-7 4l0 4l-4 4l-3 -8l-4 -3l2 -3l7 -2l-2 -4l-4 2l-6 -2l-1 -3l-4 2l4 2l-1 3l-8 1l0 3l-3 2l-1 8l-3 -4l-3 0zM208 124l-3 2l-5 0l-4 4l-8 0l-4 3l-1 4l5 3l0 5l3 3l-2 3l0 6l4 3l3 -5l3 3l3 -2l5 1l-1 -3l5 -5l4 0l2 2l-1 2l2 1l2 -1l-1 -8l2 -6l-5 1l-2 -2l2 -3l-1 -4zM198 151l1 -1l1 2l-1 1zM12 119l-3 2l3 1zM207 115l-1 2l3 1l1 -1zM124 120l2 6l4 3l-2 2l-4 0l-2 -2l-2 1l0 4l2 2l-1 4l5 0l2 2l-4 2l3 4l-6 5l-1 4l3 2l0 -2l7 -6l7 7l6 3l2 -1l4 2l4 -2l2 4l-5 2l7 0l3 -5l5 0l-3 -4l-3 4l-4 0l-4 -3l2 -4l4 -1l3 -3l-3 -2l-2 1l-1 -4l-3 1l-2 -2l2 -1l0 -2l-2 -3l-3 -1l1 -4l-3 -3l1 -2l-4 0l-4 -3l1 -7l6 -3l-5 -1l-2 3l-3 1l1 3l-2 2zM133 125l2 4l-4 1l-1 -2zM28 100l-5 0l0 2l-5 3l0 4l3 2l3 -1l0 -3l5 -3zM132 90l0 2l2 0l0 -2zM157 89l-4 2l-1 4l2 3l3 -1l2 -4zM201 89l-2 -1l-2 4l2 0zM86 94l-4 -3l0 -2l-5 1l-2 -2l-10 1l-2 2l-7 -1l-5 2l-2 10l3 -3l3 2l2 -2l7 0l2 2l7 1l5 -1zM86 87l2 3l0 -2zM148 85l-3 0l-2 4l5 -2zM115 65l0 2l2 1l2 -2zM207 59l0 3l-4 4l0 2l3 1l10 10l6 2l0 -22l-5 -2zM135 50l-3 2l2 0zM176 48l2 2l0 -2zM130 43l-6 3l3 5l4 -4zM187 25l-1 2l4 3l-1 2l-16 0l-3 3l0 2l4 2l1 -4l4 -2l1 7l-5 4l5 0l3 3l2 0l2 -3l4 2l2 6l-1 2l-6 -2l-2 2l-6 -1l-4 3l1 4l4 1l7 7l5 1l3 -6l7 -7l3 -1l-1 -4l-8 -2l-2 -4l5 -1l7 4l5 0l0 -12l-3 -8l-6 2l-1 -2l-3 1l-4 -3zM187 18l-5 4l2 1l0 -2zM7 10l6 3l1 -1l-3 -3zM94 4l0 6l2 0l1 -4zM84 4l-12 2l-1 3l-5 2l-3 4l-8 1l8 6l-2 6l1 14l7 2l4 8l7 4l2 0l1 -2l0 -6l-1 -2l-6 1l-2 -4l1 -3l3 -3l4 -1l1 -7l2 -2l13 1l2 -2l1 -7l4 -2l-2 -2l-10 0l-3 -4l-4 -2zM76 32l2 -1l1 3l-2 1zM56 2l0 5l5 1l1 -1zM117 1l-4 4l-5 2l-2 3l2 1l1 -2l3 3zM112 38l6 4l0 -6l13 -2l2 -2l2 3l-1 1l2 1l2 -5l7 -4l2 -4l10 2l10 -7l5 0l8 -7l-4 -3l-2 -9l-8 0l-4 3l-1 4l-3 3l-7 0l-5 -5l-8 0l-2 -5l-2 2l-4 -1l-4 7l-8 8l1 4l-5 8l1 5l-3 3z" fill="#0a1436" fill-rule="evenodd" opacity="0.9"/></g>
<g transform="translate(31,13)"><rect x="-100" y="-100" width="423" height="367" fill="url(#mdots)"/></g>
</svg>
<svg x="573.4" y="234.3" width="223.3" height="167.1">
<g transform="translate(37,23)"><rect x="-100" y="-100" width="423" height="367" fill="url(#dapi)"/></g>
<g transform="scale(1.001,1.001)"><path d="M127 160l-2 -1l-3 3l4 0zM38 157l-1 2l2 1l1 -2zM217 142l1 5l3 1l1 -3l-3 1zM71 139l-2 0l-1 4l-7 -2l-4 3l-1 7l4 0l1 7l2 0l-1 -4l5 -8l3 5l-1 3l4 1l0 -8l-3 -2l2 -3zM219 132l-3 1l1 4zM0 131l1 2l1 -1zM174 112l1 3l3 -2zM46 112l1 4l10 5l1 7l4 -4l6 6l-2 3l4 -1l4 4l4 1l-1 -5l5 -5l3 -1l3 3l-8 -15l-6 2l-3 -1l-4 -5l-9 6l-3 0l-5 -6zM6 91l-2 1l1 2zM142 84l-2 3l-5 1l1 7l4 0l5 -7zM194 76l-6 4l-3 7l-5 4l4 6l-1 8l8 2l-2 4l1 11l-1 4l-3 2l0 3l4 -3l7 2l15 -13l1 -14l2 -2l4 0l3 2l-2 -4l2 -6l-16 2l-3 -4l0 -4l-9 -9zM214 64l1 4l5 6l2 0l0 -11zM81 61l1 1l2 -2zM132 58l1 4l9 2l-4 -4zM184 36l-1 2l4 5l1 -3zM118 38l-7 -1l1 3l-3 1l-3 -5l-1 5l-3 2l-2 -1l-3 4l-1 -3l-3 -1l0 8l3 2l-2 2l0 3l3 1l-5 2l3 2l-1 1l-7 0l-5 6l-9 -8l-2 -6l-4 0l-2 4l-8 7l-7 0l-3 -5l-10 1l-6 -3l0 2l-6 7l-3 -4l0 -8l-7 -5l-7 2l0 2l-4 1l-3 10l5 7l-2 4l7 0l4 -3l3 1l-6 6l-1 6l5 8l-2 9l3 6l2 15l3 1l2 -2l2 -6l0 -8l4 -6l0 -6l3 -5l0 -3l4 -4l0 -2l-9 5l-3 -2l3 -4l-3 -4l2 -4l10 7l3 -2l9 -1l6 8l23 0l6 -2l4 -5l3 -1l2 6l5 7l4 2l-2 2l-3 -1l0 3l3 2l0 6l4 4l8 -8l4 -1l1 -5l6 2l0 -7l-3 -2l0 -2l4 -1l2 3l4 2l1 -1l-4 -4l-7 -3l7 -14l-4 1l-1 -3l-3 -1l5 -4l3 3l1 -1l-3 -2l0 -3l-4 -4l1 -3l-2 -2zM86 73l4 2l-3 4l-3 -2zM143 38l-1 13l6 4l-3 2l3 7l2 -1l0 -6l2 0l2 3l15 -2l2 3l2 0l0 -2l-3 -2l0 -4l-3 -1l-1 4l-1 -4l-3 -2l-2 -11l-2 1l-3 -4l-5 -2l-3 0zM187 31l1 3l3 1l0 -2zM119 20l-4 3l3 1zM171 17l3 1l5 -3l-6 -2l-2 1zM115 6l-3 0l-2 3l3 0zM220 2l-8 -2l-7 5l-8 2l-3 9l1 5l4 4l5 -2l6 2l6 -9l5 3l1 -2l-5 -7l0 -2l3 -3z" fill="#0a1436" fill-rule="evenodd" opacity="0.9"/></g>
</svg>
<svg x="805" y="234.3" width="223.0" height="167.1">
<rect width="100%" height="100%" fill="#120304"/>
<g transform="translate(17,29)"><rect x="-100" y="-100" width="423" height="367" fill="url(#edu)"/></g>
</svg>
<svg x="1037.3" y="234.3" width="222.6" height="167.1">
<g transform="translate(59,23)"><rect x="-100" y="-100" width="423" height="367" fill="url(#dapi)"/></g>
<g transform="scale(0.998,1.001)"><path d="M127 160l-2 -1l-3 3l4 0zM38 157l-1 2l2 1l1 -2zM217 142l1 5l3 1l1 -3l-3 1zM71 139l-2 0l-1 4l-7 -2l-4 3l-1 7l4 0l1 7l2 0l-1 -4l5 -8l3 5l-1 3l4 1l0 -8l-3 -2l2 -3zM219 132l-3 1l1 4zM0 131l1 2l1 -1zM174 112l1 3l3 -2zM46 112l1 4l10 5l1 7l4 -4l6 6l-2 3l4 -1l4 4l4 1l-1 -5l5 -5l3 -1l3 3l-8 -15l-6 2l-3 -1l-4 -5l-9 6l-3 0l-5 -6zM6 91l-2 1l1 2zM142 84l-2 3l-5 1l1 7l4 0l5 -7zM194 76l-6 4l-3 7l-5 4l4 6l-1 8l8 2l-2 4l1 11l-1 4l-3 2l0 3l4 -3l7 2l15 -13l1 -14l2 -2l4 0l3 2l-2 -4l2 -6l-16 2l-3 -4l0 -4l-9 -9zM214 64l1 4l5 6l2 0l0 -11zM81 61l1 1l2 -2zM132 58l1 4l9 2l-4 -4zM184 36l-1 2l4 5l1 -3zM118 38l-7 -1l1 3l-3 1l-3 -5l-1 5l-3 2l-2 -1l-3 4l-1 -3l-3 -1l0 8l3 2l-2 2l0 3l3 1l-5 2l3 2l-1 1l-7 0l-5 6l-9 -8l-2 -6l-4 0l-2 4l-8 7l-7 0l-3 -5l-10 1l-6 -3l0 2l-6 7l-3 -4l0 -8l-7 -5l-7 2l0 2l-4 1l-3 10l5 7l-2 4l7 0l4 -3l3 1l-6 6l-1 6l5 8l-2 9l3 6l2 15l3 1l2 -2l2 -6l0 -8l4 -6l0 -6l3 -5l0 -3l4 -4l0 -2l-9 5l-3 -2l3 -4l-3 -4l2 -4l10 7l3 -2l9 -1l6 8l23 0l6 -2l4 -5l3 -1l2 6l5 7l4 2l-2 2l-3 -1l0 3l3 2l0 6l4 4l8 -8l4 -1l1 -5l6 2l0 -7l-3 -2l0 -2l4 -1l2 3l4 2l1 -1l-4 -4l-7 -3l7 -14l-4 1l-1 -3l-3 -1l5 -4l3 3l1 -1l-3 -2l0 -3l-4 -4l1 -3l-2 -2zM86 73l4 2l-3 4l-3 -2zM143 38l-1 13l6 4l-3 2l3 7l2 -1l0 -6l2 0l2 3l15 -2l2 3l2 0l0 -2l-3 -2l0 -4l-3 -1l-1 4l-1 -4l-3 -2l-2 -11l-2 1l-3 -4l-5 -2l-3 0zM187 31l1 3l3 1l0 -2zM119 20l-4 3l3 1zM171 17l3 1l5 -3l-6 -2l-2 1zM115 6l-3 0l-2 3l3 0zM220 2l-8 -2l-7 5l-8 2l-3 9l1 5l4 4l5 -2l6 2l6 -9l5 3l1 -2l-5 -7l0 -2l3 -3z" fill="#0a1436" fill-rule="evenodd" opacity="0.9"/></g>
<g transform="translate(48,42)"><rect x="-100" y="-100" width="423" height="367" fill="url(#mdots)"/></g>
</svg>
<svg x="573.4" y="410.5" width="223.3" height="167.3">
<g transform="translate(2,46)"><rect x="-100" y="-100" width="423" height="367" fill="url(#dapi)"/></g>
<g transform="scale(1.001,1.002)"><path d="M0 165l3 1l-2 -2zM95 161l-2 1l0 3l2 0zM135 146l-1 3l3 2l3 -3zM59 130l-3 0l-7 7l2 4l2 0l3 -5l5 -1l0 -3zM203 126l-4 1l1 3l3 -1zM167 126l-3 1l-1 6l5 -5zM96 130l1 4l-3 1l2 3l0 13l-4 1l-4 4l0 3l16 -3l2 2l-1 4l-5 0l-2 4l22 0l0 -6l4 -1l2 -3l-1 -5l-4 -4l-4 2l-1 -1l0 -4l2 -3l-5 -3l-1 -5l3 0l0 -3l-3 1l-1 -2l-6 -3l-4 4zM188 121l-5 2l-2 4l-4 1l0 2l3 1l2 4l-4 0l-8 10l4 3l1 3l6 0l3 4l4 -1l6 -8l-1 -4l2 -3l-1 -3l-6 -2l-2 -3l2 -4zM25 111l-6 -1l-7 3l-6 0l2 10l-3 2l-5 -2l0 19l4 -3l4 1l4 4l0 3l5 2l7 -10l10 -4l0 -15zM80 110l-5 -1l-1 4l-4 5l4 0l2 -3l4 -2zM76 102l0 2l2 0zM51 96l-2 2l0 5l6 7l-1 4l-3 2l0 3l5 5l6 -1l3 4l3 0l0 -6l-5 -2l-2 -8l-3 -4l0 -5l2 -2l3 0l4 4l1 -1l-2 -6l-2 -2l-3 0l-4 5l-3 -4zM31 81l-1 1l2 2l1 -1zM221 81l-4 2l-5 -4l-16 15l-3 -2l0 6l-6 4l3 8l2 2l5 0l3 3l11 2l11 -8zM20 78l0 2l3 -1zM15 77l2 3l1 -3zM190 65l-5 3l-1 5l2 4l7 -5zM36 47l0 2l5 0l-2 -3zM20 45l1 4l5 4l8 0l0 -3l-5 0l-5 -5zM58 34l-1 2l2 1zM13 34l-3 6l-6 5l0 3l4 4l0 4l5 -1l2 -2l0 -7l3 -3zM18 30l-1 2l2 4l3 2l4 -6zM89 19l-6 1l-5 5l-1 4l-8 0l-2 2l-4 0l2 4l3 2l-3 5l2 6l-3 1l0 9l6 1l4 -4l2 3l5 -2l2 4l-1 4l-3 -3l-4 3l0 2l2 1l-1 3l-6 1l0 -3l-2 0l-5 6l2 1l2 -2l0 5l6 -4l3 2l3 6l8 0l-2 -5l3 -1l3 4l6 -2l2 -3l-2 -10l3 0l3 -4l2 0l1 3l2 0l-3 -3l4 -3l0 -6l-4 2l-1 -6l-6 -6l-4 2l-6 -4l-7 1l-5 -4l3 -5l3 0l2 -2l1 -5zM92 52l2 -2l2 1l-1 2zM82 25l1 -1l1 2l-1 1zM84 0l5 6l1 4l6 0l2 2l1 6l4 0l3 2l5 -3l4 10l0 9l3 3l0 4l-2 3l-5 0l0 2l3 0l3 -3l11 0l6 -5l-3 -4l3 -4l1 -5l5 -4l0 -7l4 -4l3 4l11 2l-3 -7l2 -2l5 -1l-5 -5l0 -3zM152 4l2 1l-1 3l-3 -1z" fill="#0a1436" fill-rule="evenodd" opacity="0.9"/></g>
</svg>
<svg x="805" y="410.5" width="223.0" height="167.3">
<rect width="100%" height="100%" fill="#0a0304"/>
<g transform="translate(34,58)"><rect x="-100" y="-100" width="423" height="367" fill="url(#edu)"/></g>
</svg>
<svg x="1037.3" y="410.5" width="222.6" height="167.3">
<g transform="translate(24,46)"><rect x="-100" y="-100" width="423" height="367" fill="url(#dapi)"/></g>
<g transform="scale(0.998,1.002)"><path d="M0 165l3 1l-2 -2zM95 161l-2 1l0 3l2 0zM135 146l-1 3l3 2l3 -3zM59 130l-3 0l-7 7l2 4l2 0l3 -5l5 -1l0 -3zM203 126l-4 1l1 3l3 -1zM167 126l-3 1l-1 6l5 -5zM96 130l1 4l-3 1l2 3l0 13l-4 1l-4 4l0 3l16 -3l2 2l-1 4l-5 0l-2 4l22 0l0 -6l4 -1l2 -3l-1 -5l-4 -4l-4 2l-1 -1l0 -4l2 -3l-5 -3l-1 -5l3 0l0 -3l-3 1l-1 -2l-6 -3l-4 4zM188 121l-5 2l-2 4l-4 1l0 2l3 1l2 4l-4 0l-8 10l4 3l1 3l6 0l3 4l4 -1l6 -8l-1 -4l2 -3l-1 -3l-6 -2l-2 -3l2 -4zM25 111l-6 -1l-7 3l-6 0l2 10l-3 2l-5 -2l0 19l4 -3l4 1l4 4l0 3l5 2l7 -10l10 -4l0 -15zM80 110l-5 -1l-1 4l-4 5l4 0l2 -3l4 -2zM76 102l0 2l2 0zM51 96l-2 2l0 5l6 7l-1 4l-3 2l0 3l5 5l6 -1l3 4l3 0l0 -6l-5 -2l-2 -8l-3 -4l0 -5l2 -2l3 0l4 4l1 -1l-2 -6l-2 -2l-3 0l-4 5l-3 -4zM31 81l-1 1l2 2l1 -1zM221 81l-4 2l-5 -4l-16 15l-3 -2l0 6l-6 4l3 8l2 2l5 0l3 3l11 2l11 -8zM20 78l0 2l3 -1zM15 77l2 3l1 -3zM190 65l-5 3l-1 5l2 4l7 -5zM36 47l0 2l5 0l-2 -3zM20 45l1 4l5 4l8 0l0 -3l-5 0l-5 -5zM58 34l-1 2l2 1zM13 34l-3 6l-6 5l0 3l4 4l0 4l5 -1l2 -2l0 -7l3 -3zM18 30l-1 2l2 4l3 2l4 -6zM89 19l-6 1l-5 5l-1 4l-8 0l-2 2l-4 0l2 4l3 2l-3 5l2 6l-3 1l0 9l6 1l4 -4l2 3l5 -2l2 4l-1 4l-3 -3l-4 3l0 2l2 1l-1 3l-6 1l0 -3l-2 0l-5 6l2 1l2 -2l0 5l6 -4l3 2l3 6l8 0l-2 -5l3 -1l3 4l6 -2l2 -3l-2 -10l3 0l3 -4l2 0l1 3l2 0l-3 -3l4 -3l0 -6l-4 2l-1 -6l-6 -6l-4 2l-6 -4l-7 1l-5 -4l3 -5l3 0l2 -2l1 -5zM92 52l2 -2l2 1l-1 2zM82 25l1 -1l1 2l-1 1zM84 0l5 6l1 4l6 0l2 2l1 6l4 0l3 2l5 -3l4 10l0 9l3 3l0 4l-2 3l-5 0l0 2l3 0l3 -3l11 0l6 -5l-3 -4l3 -4l1 -5l5 -4l0 -7l4 -4l3 4l11 2l-3 -7l2 -2l5 -1l-5 -5l0 -3zM152 4l2 1l-1 3l-3 -1z" fill="#0a1436" fill-rule="evenodd" opacity="0.9"/></g>
<g transform="translate(65,71)"><rect x="-100" y="-100" width="423" height="367" fill="url(#mdots)"/></g>
</svg>
<svg x="573.4" y="587.9" width="223.3" height="166.4">
<g transform="translate(39,69)"><rect x="-100" y="-100" width="423" height="366" fill="url(#dapi)"/></g>
<g transform="scale(1.001,0.996)"><path d="M124 151l-6 -2l-4 4l-5 1l-5 4l1 8l3 0l0 -3l3 -3l6 1l7 -7zM108 147l-2 1l0 3l3 -3zM115 142l-1 3l2 0zM45 123l-5 4l2 2l0 8l2 2l-5 3l1 1l7 -2l8 -11zM3 116l-3 4l0 19l2 3l-1 8l5 7l-2 9l29 0l-3 -1l-3 -4l-5 2l-9 -8l1 -3l4 -1l2 -6l-3 -1l-5 -6l1 -6l-5 -5l1 -9zM118 98l0 4l3 -1l2 2l-1 3l3 -1l-3 -6zM206 107l-4 0l-5 -9l-10 -1l-7 4l0 6l-2 2l-9 3l-3 -2l-2 -7l-7 -5l-2 5l-7 7l0 4l3 2l5 0l7 5l-1 6l5 7l9 1l5 -4l13 -2zM210 95l1 4l7 -1l-1 -3zM80 95l-1 3l2 0zM95 93l-1 -1l-1 2zM82 91l2 2l1 -1zM74 88l3 3l0 -2zM138 84l0 4l3 2l6 -2l-3 -6l-4 0zM4 79l-2 2l2 0zM96 58l-3 -1l-4 3l-6 -1l-3 2l0 3l-2 2l6 5l-1 4l6 -2l2 3l3 -3l-1 -8l2 -2l4 0zM90 71l1 -2l2 1l-2 2zM34 46l-2 3l1 2l3 0l1 -5zM207 36l1 3l5 2l1 2l4 0l0 -3l-5 -5zM76 36l3 6l-3 3l-4 1l0 5l9 6l8 0l3 -3l-3 -7l1 -7l-7 -5zM200 31l2 3l3 0l-1 -3zM109 24l2 5l4 -2l4 3l-2 3l-2 0l-2 9l4 2l0 3l-5 1l-2 3l5 6l6 2l-1 3l2 3l-1 3l-3 2l0 4l2 1l5 -2l2 5l7 -4l7 5l7 1l2 -9l-4 -5l2 -2l0 -3l3 -1l0 -3l-2 -2l1 -4l-7 -5l-5 2l-4 -4l1 -4l-2 -4l-5 -2l-7 -8l0 -2l-4 0l-2 -2zM147 18l-5 6l0 2l3 2l2 0zM110 19l-2 -1l-1 3l2 0zM72 16l-5 1l-4 4l0 4l2 2l4 1l4 -3zM120 7l-5 0l-4 5l-3 1l2 1l2 -3l3 0zM201 12l3 1l9 -4l1 -2l-8 -1l-5 4zM147 0l0 8l2 -5l4 -2l3 4l1 8l2 -2l2 1l-2 7l-2 2l1 4l4 5l5 0l5 6l2 0l-1 -1l2 -2l2 0l4 4l5 -1l3 -6l9 -1l0 -3l-4 -4l2 -6l-5 -1l-3 -3l-5 0l-5 4l-2 -2l-12 -4l-2 -2l1 -3l4 -3l0 -2z" fill="#0a1436" fill-rule="evenodd" opacity="0.9"/></g>
</svg>
<svg x="805" y="587.9" width="223.0" height="166.4">
<rect width="100%" height="100%" fill="#080304"/>
<g transform="translate(51,87)"><rect x="-100" y="-100" width="423" height="366" fill="url(#edu)"/></g>
</svg>
<svg x="1037.3" y="587.9" width="222.6" height="166.4">
<g transform="translate(61,69)"><rect x="-100" y="-100" width="423" height="366" fill="url(#dapi)"/></g>
<g transform="scale(0.998,0.996)"><path d="M124 151l-6 -2l-4 4l-5 1l-5 4l1 8l3 0l0 -3l3 -3l6 1l7 -7zM108 147l-2 1l0 3l3 -3zM115 142l-1 3l2 0zM45 123l-5 4l2 2l0 8l2 2l-5 3l1 1l7 -2l8 -11zM3 116l-3 4l0 19l2 3l-1 8l5 7l-2 9l29 0l-3 -1l-3 -4l-5 2l-9 -8l1 -3l4 -1l2 -6l-3 -1l-5 -6l1 -6l-5 -5l1 -9zM118 98l0 4l3 -1l2 2l-1 3l3 -1l-3 -6zM206 107l-4 0l-5 -9l-10 -1l-7 4l0 6l-2 2l-9 3l-3 -2l-2 -7l-7 -5l-2 5l-7 7l0 4l3 2l5 0l7 5l-1 6l5 7l9 1l5 -4l13 -2zM210 95l1 4l7 -1l-1 -3zM80 95l-1 3l2 0zM95 93l-1 -1l-1 2zM82 91l2 2l1 -1zM74 88l3 3l0 -2zM138 84l0 4l3 2l6 -2l-3 -6l-4 0zM4 79l-2 2l2 0zM96 58l-3 -1l-4 3l-6 -1l-3 2l0 3l-2 2l6 5l-1 4l6 -2l2 3l3 -3l-1 -8l2 -2l4 0zM90 71l1 -2l2 1l-2 2zM34 46l-2 3l1 2l3 0l1 -5zM207 36l1 3l5 2l1 2l4 0l0 -3l-5 -5zM76 36l3 6l-3 3l-4 1l0 5l9 6l8 0l3 -3l-3 -7l1 -7l-7 -5zM200 31l2 3l3 0l-1 -3zM109 24l2 5l4 -2l4 3l-2 3l-2 0l-2 9l4 2l0 3l-5 1l-2 3l5 6l6 2l-1 3l2 3l-1 3l-3 2l0 4l2 1l5 -2l2 5l7 -4l7 5l7 1l2 -9l-4 -5l2 -2l0 -3l3 -1l0 -3l-2 -2l1 -4l-7 -5l-5 2l-4 -4l1 -4l-2 -4l-5 -2l-7 -8l0 -2l-4 0l-2 -2zM147 18l-5 6l0 2l3 2l2 0zM110 19l-2 -1l-1 3l2 0zM72 16l-5 1l-4 4l0 4l2 2l4 1l4 -3zM120 7l-5 0l-4 5l-3 1l2 1l2 -3l3 0zM201 12l3 1l9 -4l1 -2l-8 -1l-5 4zM147 0l0 8l2 -5l4 -2l3 4l1 8l2 -2l2 1l-2 7l-2 2l1 4l4 5l5 0l5 6l2 0l-1 -1l2 -2l2 0l4 4l5 -1l3 -6l9 -1l0 -3l-4 -4l2 -6l-5 -1l-3 -3l-5 0l-5 4l-2 -2l-12 -4l-2 -2l1 -3l4 -3l0 -2z" fill="#0a1436" fill-rule="evenodd" opacity="0.9"/></g>
<g transform="translate(82,10)"><rect x="-100" y="-100" width="423" height="366" fill="url(#mdots)"/></g>
</svg>
<svg x="573.4" y="762.3" width="223.3" height="168.7">
<g transform="translate(4,20)"><rect x="-100" y="-100" width="423" height="369" fill="url(#dapi)"/></g>
<g transform="scale(1.001,1.010)"><path d="M43 157l-5 5l2 4l4 0l2 -3zM203 154l-6 -1l-7 10l-10 -1l-2 3l-3 1l15 0l8 -4l4 1l1 -3l-2 -3zM144 147l-2 3l1 3l3 -4zM128 118l-9 5l0 3l-4 8l-6 1l-2 2l3 5l-3 3l0 3l-9 8l2 4l-1 3l9 1l0 -6l11 -2l4 3l3 0l6 5l3 0l2 2l7 0l0 -5l-4 -2l1 -2l-7 -3l0 -7l3 -1l-1 -5l3 -2l0 -6l-2 -2l1 -4l-4 -2zM127 139l2 -1l1 3l-1 1zM127 132l2 -1l3 3l-3 1zM121 130l4 0l1 3l-2 1zM184 93l-9 2l-3 8l1 7l-2 2l0 4l-4 6l-4 -1l0 3l-4 3l3 3l-1 2l-4 0l-3 2l-2 -2l0 -2l3 -3l-1 -1l-7 2l0 7l3 4l3 0l4 -3l6 6l0 6l8 9l1 6l2 0l2 -3l-4 -4l0 -2l3 -3l4 -1l8 4l-1 -9l-3 -2l0 -2l3 -2l10 6l4 0l5 5l3 -1l-2 -3l0 -5l-3 -5l3 -2l0 -5l5 -2l3 -5l0 -2l-3 -2l1 -3l-8 -2l-11 -9l2 -4l-7 -2zM199 133l0 5l-2 -2zM185 99l1 -1l1 2l-1 1zM56 83l1 4l8 2l5 -1l0 -5l-2 -2l-10 0zM193 51l4 4l2 5l7 2l0 4l6 0l5 -2l5 4l0 -8l-11 0l-3 -3l2 -5l-2 -2l-4 2l-6 -2zM171 49l-4 1l-3 -3l-4 0l-9 9l-3 1l8 6l-2 6l-12 -6l1 4l-3 4l0 5l5 3l-3 12l6 3l0 3l-3 3l-8 3l-2 -2l0 -3l-7 -6l-2 1l0 9l7 5l-1 7l7 7l1 3l4 -1l3 -3l10 4l6 -7l4 -12l-1 -9l3 -6l5 -3l3 -6l-1 -14l2 -6l-4 -5l-1 -6zM217 46l-1 2l6 6l0 -9zM21 34l2 3l-4 0l1 3l4 2l0 -2l3 -1l0 -2zM17 30l0 2l3 0l-1 -2zM33 46l4 7l6 -1l6 6l7 0l2 -2l-1 -5l4 -4l4 2l-1 4l4 1l2 -3l9 1l2 -3l8 0l1 -2l12 3l-1 -7l-6 2l-8 -7l-9 3l-5 -3l-3 1l-6 -6l-3 1l3 4l-6 2l-2 -2l0 -10l-4 -3l0 -2l0 4l-4 4l0 2l-8 6l-4 6zM183 20l2 6l3 1l0 -7zM109 14l4 8l3 2l7 -1l7 5l4 -4l-1 -1l2 -3l0 -7l-7 -3l-6 1l-7 -2zM54 9l0 3l2 0l1 -3zM40 9l-2 3l2 -1zM222 0l-16 0l3 5l-2 15l-2 2l-3 0l3 0l2 2l0 4l-3 3l-2 0l0 2l2 1l4 -3l6 1l1 4l-2 3l-6 3l-4 -1l0 2l8 2l3 -2l1 -4l6 0l1 2zM93 0l3 4l2 -1l-1 -2zM67 0l1 2l2 -1z" fill="#0a1436" fill-rule="evenodd" opacity="0.9"/></g>
</svg>
<svg x="805" y="762.3" width="223.0" height="168.7">
<rect width="100%" height="100%" fill="#070304"/>
<g transform="translate(68,26)"><rect x="-100" y="-100" width="423" height="369" fill="url(#edu)"/></g>
</svg>
<svg x="1037.3" y="762.3" width="222.6" height="168.7">
<g transform="translate(26,20)"><rect x="-100" y="-100" width="423" height="369" fill="url(#dapi)"/></g>
<g transform="scale(0.998,1.010)"><path d="M43 157l-5 5l2 4l4 0l2 -3zM203 154l-6 -1l-7 10l-10 -1l-2 3l-3 1l15 0l8 -4l4 1l1 -3l-2 -3zM144 147l-2 3l1 3l3 -4zM128 118l-9 5l0 3l-4 8l-6 1l-2 2l3 5l-3 3l0 3l-9 8l2 4l-1 3l9 1l0 -6l11 -2l4 3l3 0l6 5l3 0l2 2l7 0l0 -5l-4 -2l1 -2l-7 -3l0 -7l3 -1l-1 -5l3 -2l0 -6l-2 -2l1 -4l-4 -2zM127 139l2 -1l1 3l-1 1zM127 132l2 -1l3 3l-3 1zM121 130l4 0l1 3l-2 1zM184 93l-9 2l-3 8l1 7l-2 2l0 4l-4 6l-4 -1l0 3l-4 3l3 3l-1 2l-4 0l-3 2l-2 -2l0 -2l3 -3l-1 -1l-7 2l0 7l3 4l3 0l4 -3l6 6l0 6l8 9l1 6l2 0l2 -3l-4 -4l0 -2l3 -3l4 -1l8 4l-1 -9l-3 -2l0 -2l3 -2l10 6l4 0l5 5l3 -1l-2 -3l0 -5l-3 -5l3 -2l0 -5l5 -2l3 -5l0 -2l-3 -2l1 -3l-8 -2l-11 -9l2 -4l-7 -2zM199 133l0 5l-2 -2zM185 99l1 -1l1 2l-1 1zM56 83l1 4l8 2l5 -1l0 -5l-2 -2l-10 0zM193 51l4 4l2 5l7 2l0 4l6 0l5 -2l5 4l0 -8l-11 0l-3 -3l2 -5l-2 -2l-4 2l-6 -2zM171 49l-4 1l-3 -3l-4 0l-9 9l-3 1l8 6l-2 6l-12 -6l1 4l-3 4l0 5l5 3l-3 12l6 3l0 3l-3 3l-8 3l-2 -2l0 -3l-7 -6l-2 1l0 9l7 5l-1 7l7 7l1 3l4 -1l3 -3l10 4l6 -7l4 -12l-1 -9l3 -6l5 -3l3 -6l-1 -14l2 -6l-4 -5l-1 -6zM217 46l-1 2l6 6l0 -9zM21 34l2 3l-4 0l1 3l4 2l0 -2l3 -1l0 -2zM17 30l0 2l3 0l-1 -2zM33 46l4 7l6 -1l6 6l7 0l2 -2l-1 -5l4 -4l4 2l-1 4l4 1l2 -3l9 1l2 -3l8 0l1 -2l12 3l-1 -7l-6 2l-8 -7l-9 3l-5 -3l-3 1l-6 -6l-3 1l3 4l-6 2l-2 -2l0 -10l-4 -3l0 -2l0 4l-4 4l0 2l-8 6l-4 6zM183 20l2 6l3 1l0 -7zM109 14l4 8l3 2l7 -1l7 5l4 -4l-1 -1l2 -3l0 -7l-7 -3l-6 1l-7 -2zM54 9l0 3l2 0l1 -3zM40 9l-2 3l2 -1zM222 0l-16 0l3 5l-2 15l-2 2l-3 0l3 0l2 2l0 4l-3 3l-2 0l0 2l2 1l4 -3l6 1l1 4l-2 3l-6 3l-4 -1l0 2l8 2l3 -2l1 -4l6 0l1 2zM93 0l3 4l2 -1l-1 -2zM67 0l1 2l2 -1z" fill="#0a1436" fill-rule="evenodd" opacity="0.9"/></g>
<g transform="translate(9,39)"><rect x="-100" y="-100" width="423" height="369" fill="url(#mdots)"/></g>
</svg>
<text transform="translate(561.5,143.0) rotate(-90)" font-size="20.5" text-anchor="middle">NC</text>
<text transform="translate(561.5,318.0) rotate(-90)" font-size="20.5" text-anchor="middle" textLength="124" lengthAdjust="spacingAndGlyphs">circ_0042881</text>
<text transform="translate(543.5,494.1) rotate(-90)" font-size="20.5" text-anchor="middle" textLength="124" lengthAdjust="spacingAndGlyphs">circ_0042881</text>
<text transform="translate(564.5,494.1) rotate(-90)" font-size="20.5" text-anchor="middle">+si-NC</text>
<text transform="translate(543.5,671.1) rotate(-90)" font-size="20.5" text-anchor="middle" textLength="124" lengthAdjust="spacingAndGlyphs">circ_0041881</text>
<text transform="translate(564.5,671.1) rotate(-90)" font-size="20.5" text-anchor="middle">+si-SOS1</text>
<text transform="translate(543.5,846.6) rotate(-90)" font-size="20.5" text-anchor="middle" textLength="124" lengthAdjust="spacingAndGlyphs">circ_0042881</text>
<text transform="translate(564.5,846.6) rotate(-90)" font-size="20.5" text-anchor="middle">+BAY-293</text>
<text x="201.2" y="976.3" font-size="21.2" text-anchor="middle">NC</text>
<text x="436.4" y="976.3" font-size="21.2" text-anchor="middle">circ_0042881</text>
<text x="671.3" y="976.3" font-size="21.2" text-anchor="middle">circ_0042881+si-NC</text>
<text x="907.8" y="976.3" font-size="21.2" text-anchor="middle">circ_0041881+si-SOS1</text>
<text x="1143.4" y="976.3" font-size="21.2" text-anchor="middle">circ_0042881+BAY-293</text>
<line x1="49.8" y1="989.0" x2="49.8" y2="1337.0" stroke="#000" stroke-width="2.2" stroke-linecap="butt"/>
<text transform="translate(42.5,1159.0) rotate(-90)" font-size="21.5" text-anchor="middle" textLength="126.5" lengthAdjust="spacingAndGlyphs">MDA-MB-231</text>
<text transform="translate(73.3,1078.5) rotate(-90)" font-size="21" text-anchor="middle" textLength="93.5" lengthAdjust="spacingAndGlyphs">Migration</text>
<text transform="translate(73.3,1251.0) rotate(-90)" font-size="21" text-anchor="middle" textLength="83" lengthAdjust="spacingAndGlyphs">Invasion</text>
<svg x="86.7" y="986.5" width="229.1" height="172.5"><rect width="100%" height="100%" fill="#d6ded0"/><rect width="100%" height="100%" fill="url(#grain)"/><path d="M220 166l7 7l3 0l0 -3l-4 -3zM186 153l1 2l1 -1zM230 152l-2 1l1 4l-1 6l2 1zM175 152l-1 3l3 2l0 3l3 -4zM74 152l-1 -1l-3 2l-3 -1l-1 3l4 1l3 -1zM25 150l-1 1l1 3l1 -1zM39 145l0 2l2 0l0 -2zM178 148l4 3l3 0l3 -2l4 4l-3 8l-5 2l3 6l0 4l3 0l3 -7l5 3l1 2l-1 2l12 -2l-4 -5l5 -6l-2 -8l-4 -4l-3 1l-7 -5l1 -2l3 2l4 -4l2 0l-3 -3l-3 1l-2 -2l-3 0l2 3l-1 2l-5 -3l-4 5l-2 0zM198 160l2 -1l1 2l-2 1zM181 130l-5 1l0 3l-2 1l1 1l2 -2l5 -1zM42 124l0 2l2 0l5 5l3 0l2 -2l-1 -4l-3 2l-3 0l-3 -2l0 -2zM206 122l-4 -2l0 4l-7 4l-1 2l1 1l8 -1l0 -3l3 -3zM96 120l-4 -1l-2 4l-3 0l-2 -2l0 2l7 1zM57 119l-2 1l0 3l3 2l1 -4zM195 98l1 4l0 -4zM87 81l1 2l7 -1l-3 -4l-2 0zM105 73l-1 5l2 0l1 3l2 0l1 -2l-2 -5zM94 66l-1 3l6 1zM94 57l-1 3l2 -2zM90 55l-1 -1l-2 1zM161 44l0 2l6 -1l-1 -3l-3 0zM98 40l-3 0l0 2l-5 4l4 3l7 -3zM91 32l2 3l2 -1zM168 27l0 2l2 -1zM140 15l0 3l3 -1l-1 -2zM207 7l-1 4l2 1l1 -4zM199 7l-3 1l-2 -4l-3 0l-4 4l-3 0l-3 5l-3 -1l-6 6l-3 1l0 3l4 3l-1 9l1 4l-2 2l1 1l6 -1l2 2l9 0l1 2l-5 6l-2 0l-2 -3l-5 0l1 5l6 1l1 4l-3 4l-6 1l2 2l-2 5l-7 6l-5 -2l-4 3l-2 -3l-5 0l-6 -5l1 -3l3 0l3 -3l5 2l1 -3l-3 -3l0 -4l-4 0l-5 -3l-1 -2l3 -3l-1 -1l-3 2l-2 4l-4 -1l-2 -7l3 -1l1 3l2 0l0 -3l-2 -1l3 -3l-1 -3l-8 5l-4 -6l-2 0l-4 5l-4 2l-2 -3l6 -3l-4 -7l-3 0l-1 6l-4 2l-5 -3l-2 -5l-3 0l-2 -4l-2 0l-3 3l1 3l4 1l-2 6l3 2l3 0l1 4l3 2l0 4l-2 3l1 2l4 -1l2 3l-2 3l-4 0l-4 -2l3 4l1 5l5 5l0 2l5 4l4 1l-1 6l4 1l3 3l2 -4l10 0l0 -4l-4 -3l0 -3l3 -4l4 -1l3 2l3 6l-1 4l1 2l2 0l2 3l-5 7l3 5l-4 1l0 4l-7 5l-2 0l-2 -3l-3 0l-2 -2l-1 1l0 3l3 2l0 2l-5 1l0 2l-4 2l-1 4l9 3l-1 3l-10 1l-4 4l-4 -6l1 -2l5 2l0 -2l-3 -3l-2 0l-4 4l-4 -4l-3 0l-5 2l-3 4l-2 7l1 2l-8 6l1 2l-1 4l-3 0l-2 -4l3 -2l2 -5l4 -3l-3 -1l-5 5l0 4l-5 5l2 0l5 5l1 7l3 4l-6 2l-1 -1l2 -3l-4 0l-3 -2l0 2l3 3l-7 6l-5 2l-1 -1l2 -4l-3 -3l-1 -6l-4 1l-3 -8l-4 0l0 4l-4 2l0 3l5 7l3 0l1 3l5 4l23 0l-1 -4l3 -2l4 0l2 2l-1 4l22 0l2 -5l4 -3l-1 -4l1 -2l2 2l4 0l2 -3l3 1l1 -1l-1 -6l1 -1l4 1l1 -2l-1 -6l2 -2l-1 -8l2 -2l4 1l-2 5l3 0l5 -2l2 -5l6 -5l2 0l3 4l3 -2l0 -4l-2 -2l1 -2l2 0l3 3l3 -1l0 -5l3 -2l-2 -2l1 -3l3 2l7 -3l2 6l3 3l1 -1l-3 -2l-1 -3l4 -2l1 5l3 0l2 3l3 1l0 -2l-5 -4l0 -2l-6 -5l1 -3l-4 -2l1 -3l6 -3l0 -3l2 -3l4 1l3 -3l2 1l4 -1l3 4l6 0l2 2l4 -3l7 -1l0 -13l-5 -1l-6 -4l-4 -6l-7 -1l-3 -3l-1 -6l-6 -4l7 -7l-3 -4l-1 1l-3 -1l5 -5l-1 -8l-3 -4l-4 -2l0 -2l4 -5l-1 -2zM126 155l1 2l-2 1l-1 -1zM53 156l3 -1l3 3l0 2l-2 1zM130 128l1 2l-2 1l-1 -1zM154 122l2 2l-5 4l-1 -2zM135 120l1 -1l4 5l-1 1l-2 -1zM139 113l3 3l-1 4l-4 -5zM217 87l3 -1l1 2l-3 1zM194 85l1 -1l1 2l-1 1zM190 81l1 1l-1 3l3 1l-2 4l-5 -4l0 -2zM131 79l1 -1l2 1l-1 1zM180 75l4 -1l1 3l-3 1zM122 74l8 -1l1 4l-6 1l-3 -2zM131 60l1 1l-4 3l-1 -2zM146 55l2 2l1 5l-4 4l-3 0l-3 2l-2 -4l3 -3l2 0l1 -5zM141 55l1 -1l2 1l-1 1zM137 51l1 1l-5 4l-1 -1zM182 34l0 -2l4 -3l4 3l-4 3zM122 3l2 4l1 -3zM225 0l3 4l-1 6l3 3l0 -13zM221 0l-2 0l-1 2l2 1zM152 0l-2 1l1 1zM143 0l-5 0l0 2l-4 2l5 0zM6 0l-2 3l-3 -1l-1 1l0 23l1 1l-1 34l3 -1l10 1l2 2l0 4l4 3l-2 3l1 3l-3 2l-2 4l5 3l-3 3l-3 -2l-1 -3l-7 -2l0 -7l-4 4l1 9l-1 4l4 2l0 3l-4 3l0 12l1 1l-1 1l0 30l7 -4l9 1l-1 3l-4 2l1 4l-3 4l-3 0l-1 2l-4 -2l-1 1l3 7l3 3l3 0l1 -6l-2 1l-1 -2l3 -2l4 0l6 -6l3 0l1 -6l4 2l5 -3l-2 -3l6 -4l-1 -3l-2 0l-3 -4l-6 -3l3 -4l5 0l1 -2l-3 -6l-2 1l-2 -1l1 -5l-4 -2l1 3l-4 1l-3 -4l-3 3l-1 -3l3 -2l1 -5l-4 -3l-5 1l-2 -3l7 -6l2 1l4 -1l2 -4l3 -2l-1 -3l2 -6l4 -5l3 -1l0 -3l2 -3l-4 -4l1 -2l3 0l2 3l8 2l2 3l-1 3l-5 -1l-4 4l4 4l-2 4l-4 1l-2 -2l0 -3l-3 2l-1 5l4 4l7 -1l1 -3l6 -5l2 4l2 -3l-2 0l-5 -5l2 -4l4 -1l9 7l1 3l-3 3l1 3l6 -4l2 9l4 -4l4 3l-1 4l-2 0l-4 4l-4 -1l-3 4l0 2l6 6l0 4l2 1l1 -1l-1 -2l2 -2l6 0l3 6l-2 5l2 0l2 -2l5 0l3 -2l1 -4l-2 0l-2 -3l-2 0l-5 -5l9 -7l0 -5l-2 0l-3 -3l0 -3l2 -2l-1 -3l1 -8l-3 1l-3 -7l1 -2l4 -1l0 -6l-3 -3l1 -2l-2 1l-8 -1l-3 -3l1 -6l-2 2l-6 0l-4 -6l-3 -2l6 -5l-2 -2l1 -5l-1 -7l-7 -5l-5 1l-2 2l-4 -2l-4 1l-2 -3l-4 -2l-6 1l0 3l-2 2l-3 -1l-6 1l-3 -3l3 -2l0 -2l-3 -1l0 -5zM16 139l3 -1l3 4l-3 1zM2 112l2 -1l1 3l-2 1zM12 104l1 -1l1 1l-1 1zM77 72l1 3l-2 1l-1 -2zM75 67l2 1l-1 5l-2 -1zM46 49l6 7l-1 2l-2 0l-2 -4l-3 -2zM50 47l2 -2l4 4l-5 1zM46 43l2 2l-1 3l-3 -1zM54 42l5 -1l1 2l-4 2zM18 36l1 -1l1 2l-1 1zM18 31l1 -1l1 1l-1 1zM36 21l3 -3l4 -1l5 4l-1 3l-3 -1l-7 1zM24 13l7 -4l5 6l0 2l-2 2l-5 0l-5 -3zM9 5l2 1l-1 3l-3 -2z" fill="url(#twdense)" fill-rule="evenodd"/><rect x="-130" y="-130" width="500" height="500" fill="url(#twsparse2)" transform="translate(0,0)"/></svg><rect x="86.7" y="986.5" width="229.1" height="172.5" fill="none" stroke="#111" stroke-width="2.2" rx="2"/>
<svg x="86.7" y="1169.0" width="229.1" height="171.5"><rect width="100%" height="100%" fill="#dcdedc"/><rect width="100%" height="100%" fill="url(#grain)"/><path d="M225 167l-2 4l1 -1l3 1zM30 165l1 4l-2 3l15 0l1 -1l-6 -6l-4 -1l-2 2zM94 162l-4 3l-2 6l8 1l-2 -1l2 -1zM42 160l-3 1l1 2zM164 146l0 3l-2 1l0 2l7 6l1 3l-1 2l4 -1l3 4l-1 2l-4 -2l2 4l4 -3l1 5l2 -1l2 1l19 0l0 -2l-3 -1l1 -2l-5 -3l-1 -3l-2 0l2 3l-1 2l-5 0l-7 -6l-2 0l2 5l-1 1l-3 -2l-3 -7l1 -1l3 1l0 -1l-8 -5l1 -4l-4 1zM197 170l1 -1l1 1l-1 1zM172 154l1 -1l1 1l-1 1zM5 146l1 3l-2 4l3 -3l2 1l-1 2l1 1l7 -1l-1 -3l-5 -1l-2 -3l-1 1zM80 145l-5 1l-1 3zM67 144l0 2l3 -1l0 -1zM0 144l0 5l1 0zM108 127l1 3l-2 3l2 2l-3 2l3 1l-4 4l8 12l3 -4l0 -2l-1 1l-2 -1l2 -2l-2 -5l1 -11zM109 139l1 -1l2 3l-2 1zM194 123l1 4l-2 2l1 -1l3 0l1 1l-1 1l4 -1l4 5l-2 -5l-3 -1l-4 -5zM136 124l-1 -1l-1 1zM81 124l-3 1l-4 -2l-2 3l-1 -1l-3 1l-2 -2l-7 11l1 -1l2 3l7 -2l1 2l-2 2l3 -2l-2 -2l1 -2l6 3l-1 -1l1 -2l4 1l2 -5l-2 -1zM192 119l-5 5l-2 0l2 4l-2 2l-4 -3l-5 7l-3 2l3 2l-1 2l5 -5l5 1l3 -2l1 4l2 -2l0 -2l-4 -3l1 -2l-1 -2l6 -6zM95 104l-7 2l-2 3l1 4l-1 2l8 5l-1 -1l2 -2l3 0l1 -5l-1 -1l1 -2zM90 109l1 -3l1 2l2 -1l3 1l-4 3zM14 103l0 2l4 3l1 -1l3 1l-1 7l5 0l1 1l-1 2l3 2l-1 -1l2 -2l2 0l2 3l6 -2l3 3l1 -2l3 0l2 3l3 0l3 -3l6 4l-5 -5l2 -4l-1 -3l-5 -1l4 4l0 3l-3 1l-2 -2l1 -1l-2 0l1 4l-3 1l-2 -5l3 -2l-5 -2l2 -2l-6 -3l-3 2l-3 -3l-7 1l-3 -3l-3 0l-3 3l-1 -5zM55 112l2 -1l1 2l-2 1zM22 106l1 -1l1 1l-1 1zM2 101l-2 2l0 3l3 -2zM48 96l0 7l-2 1l3 -1l2 2l-2 -2l2 -5zM45 96l-2 2l1 3l2 -4zM211 86l-5 0l-4 2l0 2l2 1l-1 2l4 3l-1 3l8 -4l0 -4l-3 -3zM154 85l-1 -1l-1 1zM212 80l-1 1l3 3l1 -1zM89 81l2 1l2 -2zM147 77l-2 3l-3 -2l3 5l-1 2l2 2l-3 2l1 6l-1 1l-3 -1l1 3l3 2l1 5l-4 4l-5 -3l2 -4l-1 -1l-4 2l0 4l2 1l0 4l8 5l0 4l4 -2l1 1l-2 3l0 5l3 0l1 -4l4 -2l-4 -1l0 -4l-3 -3l7 -2l-1 -3l2 -3l-2 -9l3 -2l5 2l-2 -2l4 -5l0 -4l-5 -1l-3 3l-3 -1l-2 2l-2 -3l3 -7l-4 3l-1 -1l2 -4zM144 114l1 -1l1 1l-1 1zM143 110l6 -1l1 2l-6 1zM133 104l2 -1l1 2l-1 1zM149 97l2 -1l1 2l-2 1zM145 82l1 -1l1 1l-1 1zM143 74l-1 1l2 1zM120 67l2 3l0 -3zM147 65l-2 3l2 3l-2 2l5 -3zM83 65l-3 2l-1 -3l-4 3l-1 3l5 5l0 2l-3 1l-2 -2l-2 2l2 4l3 -3l4 -2l1 1l4 -3l-3 -2l1 -3zM73 78l2 -1l1 2l-2 1zM25 65l-3 3l-4 -2l-2 -3l-2 0l0 6l-3 3l-4 0l-3 -3l-2 1l-1 2l1 -1l1 1l-1 2l1 2l-3 2l0 15l2 2l4 -2l1 2l-2 2l2 2l2 -3l-1 -3l1 -2l6 3l1 -4l-2 -1l2 -4l-3 -3l1 -1l-1 -2l2 -1l1 -4l3 -3l5 0l2 4l2 -1l-1 -3l1 -3zM2 82l1 -1l1 1l-1 1zM28 62l-1 1l3 2l0 2l3 -1l-1 -2zM79 54l3 7l4 -2l2 2l-2 2l3 -2l2 1l-4 5l3 2l0 2l3 0l2 4l1 -3l7 10l2 -1l3 2l5 -4l-1 -1l-1 2l-2 -3l-5 0l-5 -6l3 -3l-3 -2l-3 0l-2 -4l-3 -2l2 -7l-3 3l-4 -1l-1 -3l-2 2zM97 68l1 -1l1 2l-1 1zM189 45l-1 5l5 5l7 3l-3 -3l0 -3l2 -2l-3 -3l-2 2l-1 -2zM189 48l1 -1l1 2l-1 1zM85 44l2 2l0 -2zM210 40l2 3l-3 5l1 2l1 -4l2 -1l0 -2zM148 39l-2 3l2 2l-1 2l4 2l-1 2l8 2l-1 -3l2 -3l-3 0l-1 2l-3 -2l4 -4l-2 -1l-1 1zM37 31l-1 1l2 4l2 1zM50 28l-1 1l1 2l-2 2l4 2l3 -1l1 1l3 -7l-5 4l-1 -4zM42 21l6 2l-2 -3zM11 32l2 1l0 2l4 0l2 -2l3 1l1 -4l3 -2l4 1l2 -1l2 1l0 -1l-2 -1l0 -2l-3 3l-2 0l-6 -6l-2 0l-3 3l-1 -1l1 -4l-2 0l1 5l-4 4zM19 33l1 -1l2 1l-1 1zM230 13l-3 3l1 5l-1 -2l2 -2l1 1zM229 0l-6 3l1 2l-2 3l3 1l1 3l2 -1l-1 -2l3 -4zM106 0l-5 2l3 3l2 0l-1 -2zM51 5l0 5l4 5l0 4l-2 2l3 5l3 -1l3 3l-1 2l1 2l5 -1l1 1l-2 2l1 1l4 -1l-1 -6l-2 -1l3 -2l-2 -3l2 -2l2 0l3 -3l5 1l1 -4l5 -3l2 0l3 4l3 1l1 -2l-1 -3l2 -2l2 8l8 5l-2 3l4 2l-1 4l2 2l-2 2l5 -3l0 -4l2 -1l-4 -4l1 -1l-1 -4l2 -2l-2 -5l5 -3l-6 0l-4 4l-4 1l-8 -8l0 -2l4 -2l-1 -1l-7 0l-1 3l-2 -2l-4 2l-3 -1l-2 2l-2 -3l-4 -1l1 3l-2 1l-2 -3l-4 6l-3 0l-2 -3l-7 -3l3 4l3 1l-4 6l-4 -3l3 -3zM112 27l1 -1l1 1l-1 1zM61 26l2 -1l1 2l-2 1zM66 20l0 2l-3 2l-4 -1l3 -4zM103 19l1 -1l2 1l-1 1zM65 19l2 -2l2 1l-1 2zM99 14l1 -1l1 2l-1 1zM71 13l2 -1l2 4l-3 1zM55 12l1 -1l1 1l-1 1zM77 6l1 3l-4 4l-1 -3zM69 7l2 -1l1 2l-1 1zM78 6l1 -1l2 1l-1 1zM2 0l-2 2l0 3l1 -1l1 1l1 6l-3 3l0 3l1 1l2 -2l1 1l-1 2l3 2l0 2l4 1l1 -4l7 -6l-2 -4l2 -3l-2 1l-3 -3l-6 -3l-2 1zM5 20l1 -1l1 1l-1 1zM6 19l1 -1l1 1l-1 1z" fill="url(#twsparse2)" fill-rule="evenodd" transform="translate(0,0)"/><rect width="100%" height="100%" fill="url(#twsparse)" transform="translate(0,0)"/></svg><rect x="86.7" y="1169.0" width="229.1" height="171.5" fill="none" stroke="#111" stroke-width="2.2" rx="2"/>
<svg x="321.6" y="986.5" width="229.7" height="172.5"><rect width="100%" height="100%" fill="#e6e8ea"/><rect width="100%" height="100%" fill="url(#grain)"/><path d="M181 170l3 2l0 -2zM159 163l5 2l-1 -2zM188 151l-1 1l1 1l1 -1zM92 148l1 2l3 -1l0 -1zM34 144l0 2l1 -1zM230 135l-3 0l-2 3l-3 1l1 3l-2 2l-4 0l1 4l-3 2l-3 -1l-4 -4l-2 0l2 4l4 1l0 3l-4 1l-2 3l-3 0l0 4l-4 2l1 6l-4 1l-1 3l24 0l3 -3l2 0l3 3l3 0zM214 159l1 2l-2 5l-2 1l-2 -4zM225 144l1 -1l1 2l-1 1zM147 127l-1 5l-3 2l0 3l3 3l2 5l-1 5l1 4l5 2l9 -2l-1 -5l-2 -2l1 -7l-5 1l-1 -1l1 -4l-3 -3l-1 -4zM149 138l3 -1l2 3l-3 2zM185 109l2 3l0 -3zM230 89l-3 5l-5 2l-3 7l-3 0l-2 4l-3 0l0 4l-2 3l0 2l4 2l4 5l-1 4l5 4l2 -3l2 2l-2 3l2 0l2 -3l3 -1zM226 122l1 1l-4 3l-1 -2zM219 113l1 2l-3 2l-1 -2zM228 93l1 2l-3 3l-1 -2zM217 68l0 3l3 1l0 -3zM32 67l-6 5l2 5l1 -6l4 -1zM94 39l-1 7l2 1zM87 19l1 1l1 -1zM230 0l-39 0l2 3l5 1l0 4l-5 7l-3 0l5 5l0 5l-2 2l-3 0l8 10l2 5l-7 1l-2 3l1 2l-2 2l-3 0l-4 -4l-2 0l-4 -8l-3 0l-2 -2l-1 -4l1 -2l4 2l2 3l6 -6l4 -1l-3 -3l1 -3l-5 -4l-3 2l-1 -1l1 -3l-2 -1l-4 4l1 1l-1 3l-7 -3l-1 3l-4 4l0 2l-5 5l-3 -2l-4 1l-5 -3l-4 2l-6 -3l-1 -3l-5 -5l0 -3l3 -2l1 -4l-4 -5l-1 -6l7 -1l-45 0l1 3l-3 2l0 6l7 8l-2 6l6 8l0 5l2 2l-1 2l1 5l-6 5l3 2l0 3l-6 5l-3 -1l0 -3l3 -3l-1 -2l-3 0l-4 4l2 4l-4 3l0 2l5 7l-1 2l-4 -1l-4 5l-2 -1l-2 -4l-3 1l0 11l6 6l1 -1l-3 -2l0 -3l2 -2l3 -1l6 5l-2 2l0 5l-3 3l-3 0l-1 -2l-2 0l-1 3l-3 2l-3 0l-1 -4l-5 -2l-2 -3l-2 5l-3 -3l-2 0l-2 4l-2 -1l0 -3l-4 3l-2 -3l3 -2l0 -2l-2 0l-5 -6l-3 -1l-3 3l-2 0l-2 -3l-3 1l-3 -2l2 -4l-2 0l0 2l-2 1l-2 -2l7 -6l-4 -3l3 -3l-7 -1l-2 1l-2 -2l-3 0l-1 -5l-7 -1l0 -7l-1 0l0 56l6 4l-3 3l1 4l-4 3l0 51l54 0l-1 -1l5 -6l5 1l2 -7l5 -1l1 -2l-2 -3l1 -2l7 0l2 3l5 -6l5 1l1 -3l-2 -2l0 -3l4 -6l-1 -7l3 -3l0 -8l-3 -2l1 -3l5 1l3 -3l4 4l0 -3l-3 -3l-4 2l-1 -5l-6 3l-2 -4l5 -6l4 -1l2 -4l2 0l4 4l-3 2l-1 3l6 0l5 3l2 -3l3 3l0 5l3 5l-6 4l0 8l-5 6l6 -6l6 11l-1 3l3 1l1 2l-2 2l-3 0l-1 -3l0 3l-2 1l-4 -3l-6 -1l-5 6l-4 2l-7 0l0 6l-2 4l3 5l-1 1l-2 -1l-3 5l-3 0l-2 -4l-3 -1l-1 2l-2 0l-1 4l41 0l3 -6l3 1l0 2l-3 2l2 1l6 -1l-1 -3l5 -5l4 1l3 -3l4 4l1 -1l-5 -11l2 -2l-1 -6l2 -2l3 1l-3 -2l-2 -10l-3 -3l2 -3l6 4l5 -10l7 -1l1 4l2 1l-1 5l2 0l3 -2l-1 -5l1 -4l8 -1l4 -8l9 -1l3 -6l7 2l-1 -1l5 -3l6 2l-3 -3l1 -4l1 1l9 -1l4 3l6 -6l-6 -6l2 -7l4 -1l-4 -4l-5 -2l0 3l-2 1l-4 -4l1 -3l-2 -3l0 -3l1 -1l4 1l3 -3l-3 -1l-1 -2l-5 2l-2 -3l6 -4l7 2l0 -4l-2 -2l4 -4l6 1l8 -2zM0 162l1 -1l2 3l-2 1zM62 157l2 -1l1 2l-2 1zM3 160l6 -6l3 0l2 2l8 -2l3 6l3 2l1 4l-2 1l-2 4l-5 -3l-8 2l-1 -1l1 -7l-3 -1l-4 1zM108 150l2 -1l1 2l-2 1zM135 142l1 -1l1 1l-1 1zM3 141l1 -1l1 2l-1 1zM123 137l5 -3l4 4l0 2l-5 2zM57 133l-4 2l-1 2l0 5l2 2l0 3l-1 1l-5 -1l-7 6l0 3l-4 5l-8 -1l-6 -8l0 -2l-4 -2l-3 0l1 2l-1 3l-3 -1l-3 1l-6 -6l9 -10l9 9l2 0l4 -5l4 2l4 -6l-3 -6l6 -6l12 2l1 4zM57 123l1 -1l6 5l3 -2l1 1l-1 4l-3 2l-3 0l-4 -5zM139 117l1 -1l1 1l-1 1zM5 114l1 -1l2 2l-2 1zM77 106l1 -3l4 1l-2 3zM82 103l2 -3l2 1l-2 3zM32 96l1 -1l1 1l-1 1zM210 94l1 -1l1 2l-1 1zM204 94l2 -1l1 2l-2 1zM33 95l3 -3l2 2l-3 2zM160 92l2 -2l4 1l-4 2zM148 90l1 -1l1 1l-1 1zM39 90l2 -1l1 2l-2 1zM89 90l3 -2l4 2l2 3l-5 2zM154 87l3 1l-1 4l-3 2l4 1l-1 3l-3 0l-3 -5zM208 86l1 3l-2 1l-1 -2zM170 85l1 -2l2 1l-2 2zM150 84l2 -1l1 3l-2 1zM115 80l2 2l-1 2l-6 4l-2 -2l0 -4l4 -3zM138 68l2 -1l1 3l-2 1zM169 67l1 -1l1 1l-1 1zM158 62l6 4l-3 4l4 4l0 4l-5 4l-1 -3l-2 0l-3 4l-3 -3l1 -7l-2 -3l4 -6zM164 61l2 -1l1 2l-2 1zM207 60l1 -1l1 2l-1 1zM99 53l2 -3l5 0l2 2l-2 4l-2 -2l-4 1zM128 33l1 -3l3 2l-2 2zM178 28l2 2l-1 3l-3 -1zM94 24l3 -1l4 6l-2 1zM207 20l1 4l-3 1l-1 3l-4 -2zM126 12l1 -1l2 2l-2 1zM197 9l1 -1l1 1l-1 1zM207 9l2 -2l4 2l-1 1zM0 0l0 4l6 5l2 4l-4 5l-3 1l-1 -2l0 7l3 0l4 6l-1 2l-5 1l1 5l-2 1l1 2l4 2l5 0l3 3l3 -1l-1 -2l4 -3l10 1l0 -4l4 -2l5 5l1 6l4 5l3 -1l6 6l4 -1l3 3l6 2l15 -4l0 -2l-4 -1l-3 3l-3 -2l-3 3l-5 -6l-2 1l2 2l-1 2l-6 -1l-2 -2l0 -3l-6 -3l-1 -4l2 -2l0 -3l-4 -3l-4 3l-4 -5l2 -3l4 1l3 -5l7 -1l5 -7l6 -2l0 -2l4 -5l3 0l3 3l2 -5l5 -3l-1 -3l-3 1l-3 -1l-1 2l-3 -1l-1 -2l-2 0l-1 2l-2 -2zM14 21l-2 3l-6 -2l6 -2zM9 16l1 -1l2 1l-1 1zM12 13l2 -1l1 2l-2 1zM27 3l1 1l-4 2l-2 4l2 1l0 3l-4 4l-3 0l-2 -3l3 -2l-4 -2l5 -6l4 -2zM13 5l1 -2l3 1l-2 2zM72 3l2 -1l1 2l-2 1zM66 3l1 -1l1 2l-1 1z" fill="url(#twdense)" fill-rule="evenodd"/><rect x="-130" y="-130" width="500" height="500" fill="url(#twsparse2)" transform="translate(23,7)"/></svg><rect x="321.6" y="986.5" width="229.7" height="172.5" fill="none" stroke="#111" stroke-width="2.2" rx="2"/>
<svg x="321.6" y="1169.0" width="229.7" height="171.5"><rect width="100%" height="100%" fill="#dfe0df"/><rect width="100%" height="100%" fill="url(#grain)"/><path d="M177 169l2 0l1 3l15 0l1 -1l-2 -5l-4 2l-2 3l-6 -7l-2 0l0 2zM181 170l1 -1l1 1l-1 1zM179 167l1 -1l1 1l-1 1zM195 158l-1 -1l-4 1l-3 4l-1 -4l-3 3l4 4l5 -1l-1 -1l1 -3zM171 157l-3 2l1 3l1 0l-1 -1zM0 155l0 5l2 0l1 -2zM207 144l0 4l3 0l1 -4l-2 1zM76 145l-2 -1l-1 2l-3 0l0 1l2 1zM2 143l-2 1l0 5l4 1l-2 3l1 1l3 -6l-1 -4zM69 135l-3 4l0 3l4 2l2 -4l-3 -2zM0 172l38 0l1 -1l2 1l2 -1l-2 -3l4 -8l-2 -1l5 -3l-1 -3l2 -2l2 1l-1 3l2 -2l7 7l1 -3l3 1l2 -3l6 -3l0 -2l-2 2l-3 -2l-1 -6l-1 3l-4 -1l-6 3l-1 -1l1 -3l-7 -1l-3 -2l-3 3l-4 0l2 4l-3 1l-2 5l-8 4l-4 -4l3 -3l-4 -1l-5 -5l-2 1l-1 -4l-4 -1l-3 -3l1 -2l3 1l-2 -1l1 -1l-1 -1l-1 2l-3 1l0 3l6 4l-1 3l5 2l0 -2l3 -1l2 5l-2 1l-1 4l-5 1l-2 7l-2 -1l1 -3l-1 -1l-7 4zM33 164l1 2l-3 4l-1 -3zM18 163l2 -2l3 1l-3 2zM19 159l2 -2l2 1l-1 2zM61 148l1 -1l1 1l-1 1zM128 133l-1 2l-10 0l5 8l-1 3l1 4l-4 1l1 1l-3 2l3 2l-7 5l-6 1l1 1l-1 9l20 0l1 -1l-1 -1l1 -3l-5 2l-3 -4l0 -4l2 -1l0 -4l-2 -1l1 -2l3 0l2 -2l3 2l-1 5l-3 -3l-1 7l2 0l0 -2l2 -1l4 4l6 -6l-1 -8l2 -2l-3 0l-1 -1l1 -1l-3 -1l1 -4l-3 -1l0 -2l-2 -1l1 -1zM107 162l1 -1l1 1l-1 1zM131 158l1 -1l2 1l-1 1zM133 157l1 -1l1 1l-1 1zM121 146l1 -1l2 2l-2 1zM127 141l1 -1l2 1l-1 1zM123 136l1 -1l1 1l-1 1zM108 120l1 4l2 0l1 3l2 0l-2 -5zM102 112l-5 1l3 0l1 2l-3 1l-5 7l-4 1l-2 -1l-2 2l-5 -1l-2 3l1 2l-2 6l-2 -4l-2 6l5 1l2 7l3 -3l1 -4l-3 -2l1 -2l2 2l4 -1l3 3l4 -1l1 -2l-1 -2l2 -2l7 0l1 4l2 -2l-3 -3l0 -4l-2 -1l3 -4l-1 -4l1 -2zM81 138l1 -1l1 1l-1 1zM87 110l-2 3l1 4l-2 1l0 3l5 0l-1 -2l-1 1l-1 -1l2 -2zM3 109l-3 1l1 5l-1 8l5 -3l-2 -2l1 -4zM8 104l2 2l0 3l1 -2zM17 97l-2 -1l-1 3l2 0zM207 88l-1 0l-1 7l6 -2zM132 78l-2 1l-2 -2l-6 8l-4 -1l-1 1l1 2l-4 3l-4 -2l-5 2l-1 -3l-1 2l4 5l0 3l3 4l-1 3l-2 -2l-1 3l3 1l-2 3l3 2l3 -2l-1 -2l3 -2l-1 -2l1 -2l2 -1l2 3l2 -7l2 2l8 -3l1 1l-1 3l5 -2l-3 -4l2 -2l0 -4l-3 -2zM132 91l1 -1l1 1l-1 1zM117 88l2 -1l2 2l-2 1zM43 73l1 1l-1 3l4 -2zM230 70l-4 1l-2 4l-2 -2l-2 1l-1 5l5 4l-1 4l-10 -11l-2 2l2 5l-2 2l-3 -1l7 1l1 7l1 0l-1 -2l1 -2l4 4l-2 5l-3 -1l-2 3l-2 -1l2 3l4 2l-2 3l2 1l3 -1l0 -2l2 -1l-3 -2l2 -5l3 3l1 -2l3 0l1 -15l-2 0l-1 3l-2 -1l1 -7l1 -1l3 1l-3 -2l0 -3zM217 98l1 -1l1 2l-1 1zM223 77l1 2l-2 1l-1 -1zM5 67l-3 2l2 1zM184 66l0 4l3 3l-2 -2zM158 68l4 4l4 -3l1 1l-1 3l5 5l-1 2l-3 0l-5 6l3 4l-2 5l5 -1l2 2l0 6l-4 2l-1 -2l2 -2l-5 -3l0 2l-3 2l4 -1l1 4l-2 2l-1 -2l-1 2l5 5l-2 1l-2 -2l-6 -1l1 4l-2 1l2 3l-1 2l2 0l2 3l-1 3l1 1l1 -1l2 3l-3 7l2 0l4 5l-1 2l-5 0l1 2l-1 4l3 1l2 3l2 0l2 -2l-1 -1l1 -2l5 -2l4 2l0 -2l-3 -1l2 -4l-3 -4l2 -4l-1 -4l4 -4l7 -1l1 3l4 2l0 2l3 -2l4 3l-1 -3l3 -3l3 4l-3 8l2 1l1 -2l6 1l8 9l-1 2l3 2l2 -1l2 2l-2 1l0 2l2 -3l2 2l0 3l-3 3l2 3l1 -1l1 1l-1 9l6 1l0 -31l-3 4l-4 -2l2 2l-3 1l-3 -4l-4 -2l2 -8l4 -6l-3 -2l1 -1l-4 -3l-1 -3l-3 -2l0 -3l-3 -2l2 -8l-1 -1l-3 1l-5 -4l0 -2l-4 4l-3 0l-2 -2l-3 5l1 -1l2 1l0 3l-4 4l-3 -3l0 -2l-5 -3l1 -1l-1 -1l-1 1l-2 -1l3 -8l-2 1l-4 -6l-1 -4l2 -2l-1 -4l-2 1l-4 -3l4 -3l1 -5l-12 -1l-1 2zM225 152l1 -1l1 1l-1 1zM168 145l1 -1l1 1l-1 1zM198 116l-2 2l1 5l-2 5l-3 -3l-3 1l-4 -3l0 -2l5 -5l3 2l3 -3zM167 116l2 -1l4 4l-3 2zM155 116l2 -2l3 3l-2 1zM165 113l1 -1l2 2l-2 1zM174 108l3 -1l3 5l-6 1l-1 -1zM197 105l1 -1l2 1l-1 1zM172 100l1 -1l1 1l-1 1zM49 67l-1 4l9 6l-3 1l-3 5l-2 0l1 1l-1 2l-3 0l-2 -2l-2 2l-3 0l-1 -1l1 -3l-4 -2l-2 4l-4 -1l-9 7l0 3l5 4l-1 4l3 2l4 -4l1 2l-2 2l4 4l-4 2l-4 -3l-6 -2l1 -1l-2 0l0 4l-7 5l5 2l5 -6l2 3l4 -2l1 2l-2 3l3 -3l3 3l4 -1l4 3l0 2l12 3l3 3l2 -3l5 -1l6 6l0 -3l-4 -3l5 -7l4 2l2 -2l3 2l2 -2l1 1l-4 -4l2 -1l-3 -5l1 -4l-5 -2l-2 -3l1 -3l-1 2l-4 -5l1 -2l2 1l-1 -4l2 -1l-1 -3l2 -2l0 -3l3 -2l-3 2l-6 -7l-6 4l-2 -3l1 -3zM49 119l2 -2l2 2l-1 1zM15 110l1 -1l1 1l-1 1zM69 104l2 -1l2 3l-3 1zM74 101l1 -1l1 1l-1 1zM54 100l1 2l-3 3l-1 -2zM48 101l1 -1l1 1l-1 1zM38 100l1 1l-1 4l-2 1l-1 -3zM69 101l1 -2l2 1l-2 2zM63 98l3 -1l2 2l-2 2zM34 86l1 -1l1 2l-1 1zM69 80l1 3l-2 1l-1 -2zM65 80l2 6l-2 2l-3 -1l-1 2l-2 0l0 5l-2 2l-3 0l-2 4l-2 1l-4 -7l5 -10l6 -1l0 -2l3 -3zM64 77l1 -1l1 1l-1 1zM64 72l1 -1l1 2l-1 1zM205 64l-3 7l3 -3l3 0zM149 56l-6 4l1 1l3 -2l3 2l-3 -2zM56 56l2 3l1 -2zM74 49l0 2l2 0zM230 48l-3 3l1 3l2 0l-1 -3zM155 48l3 1l0 -1zM159 44l-1 -1l-6 1l-1 3l2 0l3 -3zM46 45l-2 -3l-2 1l-6 -1l-5 2l-4 -3l1 -3l-4 1l-2 -2l-2 3l-2 -1l0 4l-3 3l1 3l-5 4l-4 -4l2 -2l4 0l-2 -4l1 -1l2 1l0 -2l-3 -3l-3 1l-1 -1l-1 3l-3 2l-3 0l0 17l3 1l1 2l-1 -3l1 -1l3 1l2 -2l1 1l-1 3l4 4l6 -1l1 -3l-3 -2l2 -5l4 -2l2 4l2 -1l-1 -3l3 -2l-1 -3l3 -1l1 -2l2 1l0 3l5 7l-1 3l7 0l-1 -6l-4 -5l5 -1zM35 49l1 -1l1 1l-1 1zM27 45l1 -1l1 1l-1 1zM165 17l-2 2l2 0zM230 15l0 3l-3 2l1 3l2 1l-1 -3zM160 13l0 3l1 0l0 -3zM173 11l-1 -1l-3 3zM15 7l-2 3l4 1l0 -4zM222 6l1 2l-1 3l3 0l2 -4zM215 8l-3 0l-2 2l1 5l-3 3l-3 0l-8 -6l2 -6l-3 -1l-3 3l-3 0l1 3l-4 3l5 2l-3 2l2 4l-2 2l-4 -2l-3 2l-2 -3l0 3l4 2l0 3l-1 1l-4 -1l-1 3l5 3l4 1l1 -1l2 2l4 -1l2 2l-1 3l1 1l-3 1l-2 -3l-5 3l-3 -1l1 4l-6 5l-1 3l3 2l-1 5l-2 1l3 -1l2 -4l3 0l-2 -2l0 -3l4 -2l-2 -1l2 -2l5 1l2 2l0 5l1 -5l2 -1l2 4l0 -5l5 -1l2 -4l3 1l1 6l5 -3l1 1l3 -1l1 4l4 -6l5 1l1 -2l-2 -2l2 -2l0 -10l-1 -1l-2 3l1 3l-3 7l-3 -1l-1 -2l1 -3l-1 -1l-2 1l-2 -3l6 -6l-1 -2l1 -3l-5 -6l1 -2l-4 -3zM179 55l1 -1l1 1l-1 1zM195 47l1 -1l1 1l-1 1zM221 45l1 2l-2 1l-1 -1zM190 34l1 -1l2 2l-2 1zM227 32l2 -1l1 2l-2 1zM204 31l1 -1l1 1l-1 1zM204 18l-4 5l-2 -3l3 -3zM212 16l3 2l1 5l-1 2l-5 -1zM196 13l1 -1l1 1l-1 1zM182 0l1 1l8 -1zM178 0l-2 1l-1 4l-3 1l2 2l3 -2zM21 0l2 2l-2 4l1 -1l2 1l-1 4l3 6l-1 5l5 0l1 -2l3 1l-2 3l1 1l7 -2l1 4l4 0l0 -3l2 -2l2 6l-2 2l2 1l-1 11l2 -2l2 1l1 5l8 6l1 6l7 5l-1 3l2 -2l3 1l1 -2l-4 -2l1 -2l-3 -5l-2 0l-1 2l-3 -1l1 -3l-4 -4l0 -4l2 -1l1 -3l2 1l-1 2l3 0l2 -3l3 3l-1 -3l1 -1l5 0l2 2l-1 2l6 0l3 -1l-1 -3l3 -1l-1 -5l3 -2l4 4l0 2l7 5l1 -3l-2 -5l3 -1l0 -2l-4 -2l0 -3l-6 -6l0 -2l-2 0l-6 5l-1 -1l1 -3l8 -6l3 1l1 -1l-1 -1l-4 0l-3 2l-3 -1l-1 2l-3 1l-3 -5l5 -6l3 1l1 -1l-1 -2l2 -2l3 0l-15 0l1 5l-1 1l-3 -1l-2 3l-4 -4l-3 1l-2 -2l3 -3l-8 0l-4 2l-1 2l-2 -1l-4 3l-4 -1l-2 -2l1 -1l-1 -2zM82 41l1 -1l1 1l-1 1zM55 40l3 -3l4 1l-1 2l-3 1zM67 34l1 4l-3 2l-1 -2l1 -3zM59 34l4 -1l1 4l-2 1zM94 32l1 -1l1 2l-1 1zM78 24l2 -1l2 3l-2 1zM49 22l2 -1l1 2l-2 1zM90 20l2 -1l3 4l-2 1zM51 21l1 -2l2 1l-2 2zM47 20l2 -1l1 2l-1 1zM30 17l1 -1l1 1l-1 1zM69 9l5 8l-1 2l4 1l0 2l-3 2l-2 -1l-5 1l-6 -3l2 -4l2 2l-1 -3zM77 6l1 -1l1 1l-1 1zM52 5l4 4l-1 2l-4 -1l-1 -3zM53 5l1 -1l1 1l-1 1zM54 4l1 -1l1 1l-1 1z" fill="url(#twsparse2)" fill-rule="evenodd" transform="translate(0,0)"/><rect width="100%" height="100%" fill="url(#twsparse)" transform="translate(31,13)"/></svg><rect x="321.6" y="1169.0" width="229.7" height="171.5" fill="none" stroke="#111" stroke-width="2.2" rx="2"/>
<svg x="557.5" y="986.5" width="227.6" height="172.5"><rect width="100%" height="100%" fill="#e2e4e2"/><rect width="100%" height="100%" fill="url(#grain)"/><path d="M185 170l-3 -1l-3 4l4 0zM215 160l2 4l1 -1zM177 155l-3 2l-2 -1l-1 2l7 0zM169 155l-5 -5l-2 2l1 2l-1 6l-4 4l-8 4l-3 0l-1 -4l9 -6l0 -5l-2 0l-8 8l-1 6l4 4l3 -2l4 2l2 -4l3 1l3 -1l1 3l-4 3l8 0l-1 -3l1 -4l-2 -4l3 -2zM228 140l-7 4l2 4l-2 3l2 0l1 3l-5 3l5 3l-2 3l1 1l4 -1l1 -2l0 -9l-3 -6zM226 88l-2 3l1 1l2 -1zM131 70l1 1l3 -1zM128 61l3 0l0 -1zM135 49l-1 -1l-1 1zM54 44l-5 2l3 6l0 -3l3 -3zM129 42l-1 4l4 1l0 -3zM168 33l1 3l1 -2zM203 30l-1 3l1 0zM102 26l0 5l1 0l1 -4zM207 25l-1 3l4 0zM151 25l0 2l3 2l1 -1zM143 9l-2 3l2 -1zM117 1l-2 0l-1 3l2 0zM192 12l1 2l3 0l8 8l2 0l-2 -3l1 -1l3 1l0 -2l5 -5l3 0l8 7l4 0l0 -19l-25 0l-3 4l4 3l-4 6l-2 -3l-3 -1zM146 1l3 8l8 8l5 0l2 2l-1 4l9 1l2 -3l4 0l1 4l3 0l3 -3l-7 -7l-4 0l-2 -2l-4 4l-4 -2l1 -6l5 2l-3 -3l2 -5l-3 -3l-12 0l-1 5l-2 0l-3 -3l0 -2zM131 0l4 1l0 -1zM2 0l3 1l-1 6l3 1l1 2l-3 2l-5 -1l0 80l1 1l-1 9l2 2l-2 2l0 68l90 0l2 -4l1 1l-1 3l45 0l1 -3l3 0l-3 -1l-2 2l-4 -2l-3 4l-2 0l-4 -5l-4 -1l-2 -4l-2 -1l-1 2l-4 -1l-2 -3l6 -9l-1 -5l4 -6l-3 -3l0 -7l-4 -3l1 -6l-5 0l-3 -5l-2 1l-1 -1l3 -4l-1 -4l-10 -3l4 -5l-1 -2l-2 0l-2 4l-3 -2l-3 3l-3 -4l-3 0l-2 3l-2 0l-1 -3l3 -1l-1 -4l3 -5l4 1l0 4l9 1l8 4l3 0l2 5l7 1l1 2l4 2l4 6l3 0l3 3l3 -3l5 12l4 1l6 6l0 2l3 -2l4 1l5 -2l1 4l3 3l3 0l2 4l2 1l-1 4l3 0l4 3l2 0l0 -3l-3 -4l1 -5l6 -1l-1 -2l1 -3l7 -5l2 3l0 3l-3 2l0 5l1 1l2 -1l1 -5l8 1l3 9l4 3l-1 4l3 2l1 3l2 -1l-1 -9l4 -3l1 -4l-8 -1l-2 -2l1 -2l2 1l2 -1l0 -2l-3 -2l0 -3l-6 3l-4 -2l-3 1l-1 -1l2 -4l-1 -6l5 -2l3 0l3 4l6 -2l5 4l0 3l-3 1l1 4l3 -3l7 5l2 -2l-1 -8l-3 -2l-5 1l-2 -2l3 -3l-1 -3l1 -4l-5 -4l-6 -2l5 -5l0 -4l3 -3l-1 -3l3 -4l3 0l6 -3l3 1l0 -22l-1 -1l1 -2l0 -29l-1 -1l-3 2l-7 -1l2 2l0 2l-3 2l2 4l-2 1l-2 -2l-2 2l0 2l4 5l-2 2l-3 0l-6 -5l-1 1l1 2l5 3l-4 5l-5 -2l-1 1l1 2l-2 2l-4 -1l-4 -6l-5 0l-1 -5l-3 1l-4 -1l-3 3l-3 -1l-2 -7l-6 -3l-1 -5l-2 3l-3 -2l-3 0l-4 2l-2 4l-6 1l1 10l-2 2l-4 -1l-1 2l2 4l9 -1l6 8l-1 4l-6 2l3 9l5 3l0 3l-4 2l-4 -4l-2 0l-1 2l-8 -2l-7 -7l-3 -1l2 -2l-1 -1l-3 1l-4 -2l1 -4l3 1l-1 -6l-2 -3l4 -5l-3 -3l1 -5l-4 -2l0 -3l6 -4l-1 -3l-6 -1l-2 3l-2 0l-2 -3l0 -4l-4 2l4 3l-2 4l-2 -1l-1 -3l-3 0l-3 5l-3 -1l-1 -2l5 -6l-8 -5l-1 -3l2 -2l0 -4l-7 -7l1 -6l3 -5l-4 2l-1 -3l-56 0l2 2l0 3l-4 1l-2 -2l1 3l-1 1l-5 -1l-1 3l2 1l1 -1l3 3l3 -3l2 0l7 7l2 0l2 -4l3 -1l2 3l-3 2l0 5l2 4l-3 1l-7 -2l0 3l2 2l5 -1l6 4l-6 6l-9 1l-4 -5l0 -2l3 -2l-3 -6l-3 2l-3 -5l-3 1l-6 -4l3 -3l-4 -2l3 -4l-1 -2l1 -4l-3 0l-2 7l-2 -2l0 -6l-4 -3zM93 169l1 -1l1 1l-1 1zM107 164l1 2l-5 4l-1 -3zM9 165l1 -1l1 1l-1 1zM54 157l1 1l-4 3l-1 -2zM205 145l1 -1l3 1l-1 1zM4 144l1 3l-2 4l-2 -2l0 -3zM81 138l1 1l-3 2l-1 -1zM170 135l4 -2l3 4l-4 1zM103 121l1 -1l1 1l-1 1zM183 120l1 -1l1 2l-1 1zM139 114l5 2l0 5l-2 2l-3 -3l-1 -3zM174 116l1 -3l2 2l-2 2zM181 112l2 1l-1 3l-3 -2zM128 113l1 -1l1 1l-1 1zM195 109l4 2l-2 3l-4 -3zM202 107l4 1l-2 4l-4 -2zM167 103l2 -2l3 1l2 4l3 1l2 3l-1 1l-2 -1l-3 3l-2 0l-1 -4l-3 -3zM187 98l3 3l-2 4l-2 -2zM204 97l1 3l-4 4l-2 -4l3 -3zM180 97l-5 5l-2 -2l4 -4zM162 94l3 2l2 4l-1 2l-3 0l-2 -2l-1 -4zM61 97l3 -3l4 4l5 -3l1 3l-2 2l3 3l-2 2l-3 0zM39 94l1 -1l2 3l-1 1zM156 91l1 -1l1 2l-1 1zM27 93l3 -3l3 3l-1 1zM87 90l1 -1l1 1l-1 1zM15 87l1 -1l1 1l-1 1zM73 82l1 -1l1 1l-1 1zM217 79l2 0l3 3l-2 4l-4 -5zM104 77l1 -1l1 1l-1 1zM122 79l-4 2l-2 3l-4 0l2 4l-2 3l4 2l-4 5l-6 -5l-4 1l-1 -6l-2 -2l-3 1l1 4l-2 2l-7 -6l0 -3l2 -2l2 0l3 3l1 -2l4 0l3 -4l8 1l5 -5l2 0zM29 74l4 5l0 3l-2 1l-3 -4l-1 5l-4 2l-4 -4l0 -2l3 -3zM3 74l2 2l-1 3l-3 -2zM22 71l2 2l-2 2l-2 -2zM202 66l3 -1l1 2l-3 1zM204 62l1 -2l5 1l-2 2zM171 54l1 -1l2 2l-2 1zM118 53l2 2l-1 3l-4 -2zM36 52l2 -1l1 2l-2 1zM169 49l2 1l-1 4l-3 -2zM148 49l3 0l3 3l-1 7l-3 -1l0 -4l-3 -4zM164 47l2 -3l2 2l-1 2zM104 43l1 -1l2 1l-1 1zM156 38l3 1l-3 6l9 3l0 3l-4 5l-5 -1l-2 -7l-3 0l-2 -2l1 -3zM226 36l1 1l-1 5l-3 3l-3 -1l1 -7zM52 33l5 -2l2 2l0 4l-3 1zM68 30l1 -1l1 1l-1 1zM89 29l5 -1l2 2l0 4l-4 1l-3 -3zM72 27l1 -1l2 1l-1 1zM15 21l1 -1l1 1l-1 1zM90 24l-3 10l3 3l-1 3l2 6l-8 4l1 4l-4 4l1 6l-2 1l-3 -2l-4 6l-4 -1l-10 8l-2 -1l-3 1l2 2l-2 7l-2 1l-9 -7l-6 0l-3 -4l-3 0l-2 -4l-3 1l-4 -4l0 -2l2 -1l-2 -4l3 -1l2 -3l5 -3l6 1l4 -3l-3 -1l-1 -4l1 -6l5 -1l2 2l3 -1l13 1l3 -1l1 -3l4 -3l4 2l-1 2l-2 0l0 2l2 0l1 -3l3 2l1 -3l-3 -3l5 -5l3 1l1 -4l-3 -6l3 -1l1 3l4 0zM68 19l2 -1l2 4l-3 1zM5 19l2 -1l4 4l-1 1l-4 -1zM85 17l2 -1l2 4l-2 1zM48 17l1 -1l1 1l-1 1zM47 16l1 -1l1 1l-1 1zM85 15l1 -1l1 1l-1 1zM43 6l1 4l-3 2l-2 -2zM35 7l1 -1l2 1l-1 1z" fill="url(#twdense)" fill-rule="evenodd"/><rect x="-130" y="-130" width="500" height="500" fill="url(#twsparse2)" transform="translate(46,14)"/></svg><rect x="557.5" y="986.5" width="227.6" height="172.5" fill="none" stroke="#111" stroke-width="2.2" rx="2"/>
<svg x="557.5" y="1169.0" width="227.6" height="171.5"><rect width="100%" height="100%" fill="#dedfdd"/><rect width="100%" height="100%" fill="url(#grain)"/><path d="M48 172l7 -1l-6 -3zM20 165l1 5l-4 2l6 -1zM168 162l-6 -1l-1 3l-5 3l-10 -3l-2 3l-6 3l1 2l23 0l-1 -1l7 -7zM150 168l1 -1l1 1l-1 1zM9 156l-2 0l0 2l-3 2l2 3l-4 3l-2 -2l1 -1l-1 -4l0 13l12 0l2 -3l2 0l-2 -2l1 -3l-4 -3l0 -3zM117 153l-4 2l-3 5l6 -3zM109 150l-4 2l-2 -3l-2 5l-3 3l-4 -2l-4 2l0 2l3 3l1 -1l4 3l-2 3l3 -2l-2 -3l3 -1l-3 -3l4 -4l3 1l-2 4l5 0l2 -2l-1 -5l2 -1zM106 157l1 -1l1 1l-1 1zM103 127l-3 1l1 3l-2 4l2 0l2 -3l-1 -4zM36 120l-5 3l-5 -1l-1 3l-3 -1l2 -4l-2 0l-3 3l1 3l-1 9l1 -1l4 4l2 5l4 -2l2 -4l5 -1l0 -3l-3 1l-2 -4l-3 1l-2 -1l0 -5l2 -1l4 3zM29 135l2 -1l1 2l-2 1zM43 116l-3 -1l-4 2l3 2l3 -1zM95 116l-5 3l-3 6l-3 -1l1 -4l-2 -2l1 -1l3 1l0 -3l-3 1l-2 -2l-1 4l-3 3l0 4l-3 3l-4 -3l-6 3l1 4l4 -1l4 4l-8 6l-1 -2l2 -2l-5 -3l3 2l-2 3l0 4l1 -1l1 1l-2 5l-2 2l-3 0l0 2l-6 6l-1 -2l-3 2l12 6l1 2l-2 1l-1 4l11 1l3 -4l-1 -2l5 -1l1 1l-1 3l2 3l14 0l0 -4l-4 -4l1 -3l-6 -4l0 -3l4 -5l6 1l-1 -3l1 -2l3 3l2 0l-1 -2l2 -2l-5 -1l2 -4l3 3l-2 -5l-2 1l-6 -1l-2 2l-2 -1l3 -6l2 -1l2 2l2 -2l3 1l-1 -2l-4 0l-1 -4l-2 -1l2 -5l5 -3zM84 160l1 -1l1 1l-1 1zM62 158l1 -1l2 2l-2 1zM81 145l2 -1l1 2l-2 2zM86 140l4 -1l1 4l-2 1zM84 140l1 -1l1 1l-1 1zM91 112l0 2l2 0l0 -2zM64 112l-3 1l1 6l3 -1zM67 109l2 2l0 -2zM125 106l4 3l-1 -4zM139 102l0 1l4 0zM17 100l-2 2l-6 0l-4 4l-4 -2l-1 7l1 -1l3 2l-1 -3l4 -2l5 5l-2 5l2 2l5 1l-1 -2l1 -5l-2 1l-2 -2l2 -1l0 -3l3 -2zM11 105l1 -1l2 1l-1 1zM225 98l3 1l0 -1l-1 1zM228 172l0 -19l-1 -1l1 -9l-11 2l-9 -9l0 -4l1 -1l1 1l-1 -10l8 -7l-1 -6l3 -1l-8 -10l-2 1l-4 -1l-2 4l1 4l-3 1l-2 3l-1 4l3 2l-3 2l1 4l-2 3l-5 1l-2 -2l2 -2l-4 -2l-9 3l-2 3l-3 0l-1 2l-5 -5l-3 4l-2 -2l-4 2l-4 -2l-2 -4l-2 2l-5 1l-1 -2l-3 -1l-1 -3l-2 2l-2 -2l0 -3l-7 1l-1 -3l-2 -1l1 7l2 -1l2 4l-6 1l-1 -1l1 -3l-2 -1l0 4l2 1l0 2l-5 3l3 7l-3 3l-2 -2l-11 2l2 3l0 4l4 -1l2 -3l4 6l-1 2l4 0l3 2l6 -2l3 4l-1 -4l5 -5l0 -2l4 -4l3 -1l1 -4l3 -2l2 2l-2 2l4 1l3 -2l2 2l1 5l2 1l-3 6l2 -1l3 2l-3 1l1 2l5 -1l1 2l3 -2l2 1l0 2l-6 5l4 2l4 5l4 -2l2 -5l3 0l4 4l-1 3l4 -1l3 -4l4 1l4 -1l6 5l-1 2l-3 0l0 1l5 0l2 3l4 0l-2 -3l-4 -1l-7 -10l-1 -4l2 -1l1 -3l2 2l-1 3l1 4l2 -3l3 -1l7 5l-2 2l2 3l-1 3l-2 -1l1 2l4 -2l2 2l0 3zM191 160l1 3l-2 1l-1 -2zM215 155l1 -1l4 1l-3 2zM184 155l1 -1l2 1l-1 1zM223 151l1 2l-2 2l-1 -2zM189 151l1 2l-2 2l-1 -2zM201 149l1 4l-4 2l-1 -3zM217 149l1 -1l1 1l-1 1zM192 149l1 -1l1 1l-1 1zM195 149l1 -2l2 1l-2 2zM191 144l3 -1l2 2l-3 1zM210 141l1 -1l2 3l-1 1zM111 138l2 -1l1 2l-2 1zM171 127l1 1l-1 3l-2 -2zM146 124l3 2l0 2l-4 8l-5 -5l0 -3zM208 108l1 1l-1 6l-3 3l-3 -6l3 -2l-1 -1l1 -1zM39 101l1 2l-1 6l2 1l3 -3l4 4l0 2l3 0l2 -3l1 2l2 -3l3 -1l1 -6l-5 0l-2 1l1 2l-2 1l-3 -3l-2 -6l-5 -1l2 2l-4 1zM51 108l1 -1l1 1l-1 1zM50 107l1 -1l1 1l-1 1zM220 92l-2 -1l-2 3zM37 88l-2 6l4 2l2 -2l0 -3l-2 -3zM26 77l-3 1l0 3l-3 2l3 0l4 -3zM224 67l1 2l-6 6l-4 1l-2 4l-3 2l2 7l3 2l1 -5l-1 -2l4 -2l1 -6l1 -1l3 1l0 -2l2 -1l1 -4zM2 66l-2 2l2 4l-1 2l-1 -1l0 3l3 3l-2 -2l3 -6l0 -3zM180 65l1 5l5 -1zM58 69l-1 -2l-12 -2l-2 3l-2 0l-4 6l-1 6l-3 1l-3 -2l-2 3l4 -1l1 1l-1 3l1 0l1 -4l2 1l7 -6l-2 -1l2 -3l2 2l1 -2l3 0l1 4l-2 1l-2 5l2 2l-2 3l2 0l7 -6l-1 -4l4 -5l-1 -2zM50 76l3 -1l1 2l-2 1zM53 72l2 -1l1 2l-2 1zM40 63l0 3l1 -1zM7 54l-1 4l2 0l3 4l-2 5l1 -1l3 3l4 1l1 -2l-2 -2l2 -2l-4 -4l3 -1l-2 -5l-2 -1zM11 63l1 -1l1 1l-1 1zM25 50l2 2l0 -2zM2 50l-1 1l-1 -1l0 2zM73 44l8 2l2 5l-3 6l3 -1l4 4l2 -1l1 2l-1 -2l1 -1l2 1l4 -2l6 1l2 -3l5 2l1 -1l-2 -6l1 -4l2 1l1 5l2 2l-1 2l5 2l-1 2l-2 0l1 2l-1 4l-2 2l-4 0l5 2l-1 3l2 1l0 4l-6 2l-7 -1l-3 3l-2 -1l-3 1l-2 -3l-5 -1l1 -1l0 -3l-1 0l-1 4l2 1l-3 3l1 2l-2 1l0 3l4 4l-3 4l-8 3l0 2l7 -2l8 4l5 -3l1 -3l3 -1l3 2l1 -3l3 -2l2 1l2 -3l7 -1l1 4l6 3l0 4l-4 2l1 1l9 -4l10 -2l3 -3l1 1l2 -1l1 4l4 2l4 -3l1 -3l2 1l3 -2l2 -4l-3 0l0 2l-3 2l-2 -6l-2 -1l3 -5l3 1l-1 -3l-1 1l-3 -3l-2 0l0 2l-4 4l-3 0l-3 2l-1 -1l-7 3l-3 -3l3 -6l-4 -2l0 -3l2 -1l-1 -3l2 -2l2 1l-2 -2l0 -6l2 -3l-1 -2l-5 -2l1 -3l-2 -1l0 -2l5 -4l0 -3l4 -3l-2 -1l-4 4l2 2l-3 3l-5 1l-1 2l-3 0l-2 -3l2 -1l2 -7l-2 -4l0 -4l-6 -3l3 -3l-1 -1l-2 2l-3 -1l0 -2l3 -3l-2 1l-3 -1l0 2l-5 5l-3 0l-3 4l1 3l-3 1l2 3l-3 2l-3 0l-2 3l-5 -3l2 -3l-4 -2l-1 6l2 1l2 4l-1 1l-5 -3l-1 -4zM150 92l1 -1l1 1l-1 1zM88 90l1 -1l1 1l-1 1zM130 84l4 3l-1 3l-5 -4zM119 80l2 -1l1 2l-2 1zM124 75l1 3l-2 1l-1 -2zM122 66l3 3l0 3l-4 2l-1 -1l1 -3l-2 -2zM122 49l6 6l-5 4l-4 0l-2 -3l5 -2l-1 -1zM104 38l1 -1l1 1l-1 1zM101 34l1 -1l1 1l-1 1zM103 28l1 -1l1 1l-1 1zM192 0l1 2l-1 3l2 2l4 -1l1 1l-1 2l2 1l-1 -2l2 -1l0 -3l2 -1l0 -2zM185 0l-2 0l1 1l-1 2l-2 -1l1 2l-1 4l3 -3zM163 0l0 2l4 0l0 -2zM124 10l4 -1l3 2l2 7l1 -2l3 0l5 3l-4 7l5 4l2 5l2 1l8 -1l2 4l2 1l8 0l4 3l-1 5l-4 1l-1 2l4 4l4 -1l2 3l1 -1l1 3l-3 1l2 2l6 -2l-1 -1l1 -1l3 0l3 4l-2 2l3 2l4 -1l9 7l-3 4l1 1l5 -8l2 -1l1 2l1 -3l5 -2l-5 -4l2 -4l3 0l4 3l2 -2l2 1l3 -2l-3 -5l4 -2l-3 0l-2 -3l3 -6l3 3l1 -3l0 -8l-1 1l-1 -3l1 -1l1 1l0 -19l-4 1l-3 -3l-3 0l-1 2l1 3l-3 5l2 -1l1 2l-4 4l-2 -1l-4 7l-3 0l-8 -4l1 -3l3 1l-1 -2l1 -3l-2 1l-1 -1l2 -4l-3 -1l2 -3l-2 1l-2 -1l-2 2l-3 -1l-2 2l0 2l2 -2l3 1l-1 2l1 2l-4 4l-4 -2l-1 -3l-4 1l2 3l-1 1l-4 -1l-2 2l-3 -3l-4 3l-5 -3l1 -1l-7 -8l1 -3l-2 -1l1 1l-2 2l-4 -3l0 -5l-2 -2l1 -2l-6 0l-6 7l-2 0l-1 3l-6 -5l-2 3l-2 -1zM197 67l3 -1l2 3l-2 1zM207 61l2 3l-5 2l-1 -2zM210 54l1 -1l1 1l-1 1zM176 54l2 -1l1 2l-2 1zM209 51l1 -1l2 1l-1 1zM217 48l1 3l-4 3l-1 -2zM173 50l4 -2l2 3l-4 2zM206 40l2 -1l1 2l-2 1zM187 38l1 -1l2 3l-1 1zM217 35l2 7l-2 1l-2 5l-3 2l-1 -2l-3 0l-2 -3l3 -1l1 -2l3 3l0 -2l3 -2l-2 -5zM201 36l3 -1l1 2l-3 1zM155 35l3 -5l4 1l-4 5zM211 30l6 -1l2 -2l3 2l-1 1l3 3l-2 4l-2 1l-4 -6l-2 1zM212 26l1 -1l1 1l-1 1zM146 25l1 -1l1 1l-1 1zM218 18l2 -1l4 4l-3 1zM153 18l1 -1l1 2l-1 1zM196 17l1 -1l1 1l-1 1zM154 14l1 -1l3 3l-3 1zM2 15l3 -2l1 3l4 3l5 0l2 -2l3 2l3 -1l2 3l5 0l1 1l-1 2l2 1l2 -1l-1 -8l-2 -1l1 -2l3 -2l2 2l0 -3l2 -1l6 6l3 -3l6 -1l-1 -3l1 -1l2 2l2 -3l-2 1l-3 -3l-3 1l-1 -3l3 -2l-41 0l-4 5l-4 1zM52 7l1 -1l1 1l-1 1z" fill="url(#twsparse2)" fill-rule="evenodd" transform="translate(0,0)"/><rect width="100%" height="100%" fill="url(#twsparse)" transform="translate(62,26)"/></svg><rect x="557.5" y="1169.0" width="227.6" height="171.5" fill="none" stroke="#111" stroke-width="2.2" rx="2"/>
<svg x="793.2" y="986.5" width="229.2" height="172.5"><rect width="100%" height="100%" fill="#d8ded4"/><rect width="100%" height="100%" fill="url(#grain)"/><path d="M108 173l3 0l0 -1zM81 173l5 -1l-4 -2zM112 165l-1 2l3 1l0 -2zM28 168l7 5l8 0l-5 -8l-4 0l-2 4zM73 164l1 7l2 -2l-1 -2l1 -3l2 3l3 1l-1 -4zM67 162l-5 2l1 5l-2 4l4 0l2 -4l-2 -4l3 -2zM31 162l-1 1l1 1l1 -1zM29 157l-2 0l-1 2zM168 154l-4 3l3 1zM67 154l0 4l2 0l0 -3zM91 146l-1 1l5 8l1 -1l-2 -7zM193 141l-2 2l2 3l-1 6l-4 -1l-5 1l-2 -2l-9 7l3 2l-1 4l-7 -3l-1 5l3 -1l2 2l-1 7l4 0l6 -7l1 -3l6 -4l3 0l-1 -2l7 -6l1 -5l-4 -2zM129 138l-5 4l2 2l0 4l3 -3l1 -4zM207 135l-3 1l-4 8l7 -2zM191 135l2 4l3 -2l3 0l0 -2l-3 -2l-3 0zM230 131l-4 -1l-2 2l1 4l-1 4l-2 0l-1 -3l-1 3l4 4l-1 4l-6 -5l-2 4l-3 0l-5 6l-3 1l2 1l2 -3l2 3l3 1l0 2l-6 6l-8 4l1 5l3 0l1 -6l3 1l2 5l21 0l0 -10l-2 -1l0 -3l2 -2l-1 -2l1 -2zM213 155l1 -1l1 1l-1 1zM205 126l-1 1l1 2l1 -1zM3 110l0 5l-3 1l0 17l1 -1l1 1l-2 2l0 5l2 -2l1 4l3 3l4 -2l3 3l10 0l-2 -4l1 -1l3 1l-1 -7l4 -1l3 -4l2 1l1 -2l-3 0l-3 -5l-3 0l-3 -3l3 -4l-5 4l-13 -2l-1 -2l5 -6zM0 121l1 -1l1 1l-1 1zM141 103l-1 1l1 6l5 3l-1 -5l4 -4l-3 1zM130 101l-3 4l-4 0l-2 4l3 -2l3 3l2 0zM47 91l2 2l3 -1zM220 67l-1 5l4 1zM199 67l-1 1l1 8l3 -4l0 -2zM216 64l-6 6l2 2zM46 68l3 -2l2 3l2 0l-3 -6zM133 48l0 2l3 2l0 -4zM133 40l0 4l1 -1zM148 35l-3 1l-1 2l1 3l4 -4zM154 32l-2 2l2 0zM51 30l1 2l2 -1l0 -1zM55 25l2 2l0 -2zM125 15l3 3l-1 -3zM219 9l1 2l2 -1zM23 9l0 4l3 1l0 -4zM129 8l-1 2l1 2l2 0l1 -4zM116 6l-3 -1l-2 1l0 2l3 0zM207 3l3 -2l4 0l0 -1l-7 0zM230 0l-10 0l-2 6l5 -1l2 2l1 6l3 1l0 5l-2 4l-3 3l-4 -2l1 2l-1 3l-3 -1l-3 -8l-6 3l-2 -3l3 -3l0 -2l-13 -12l2 -2l-1 -1l-38 0l-2 3l-1 -3l-7 0l-2 2l0 3l9 2l2 3l-3 2l-5 -2l-2 2l-1 5l-5 1l0 2l5 5l-2 2l-3 -2l-3 3l2 3l-4 2l-1 3l8 -4l5 0l0 -2l2 -1l-2 -4l2 -2l4 1l1 2l4 -1l5 1l2 3l0 5l-2 3l-1 -1l-2 1l3 0l3 4l-1 8l-4 6l-8 -5l0 3l-2 2l1 1l2 -3l2 0l1 3l-6 4l-6 0l-2 -2l-3 3l-3 -1l-2 11l-3 3l-9 -2l-3 3l-4 1l-6 -10l-8 2l-1 -1l3 -5l10 -1l2 3l9 1l-6 -4l-4 0l-1 -5l-3 -3l-3 2l-7 -2l0 4l-2 4l-7 0l-3 3l-4 -3l-5 4l-3 0l-5 -4l2 -5l-3 -3l-4 0l-2 -3l-7 8l-2 0l-2 3l4 3l-3 3l4 1l2 4l2 0l2 4l4 3l0 2l7 6l2 10l4 -1l5 1l10 -6l4 0l2 3l4 -2l3 2l-1 3l3 5l-2 2l-6 -2l-10 8l0 1l5 0l1 5l-3 4l-5 -1l-2 4l-2 1l-1 4l-3 2l-1 6l7 -4l7 8l4 -2l3 0l3 2l6 -9l3 2l6 1l-1 -5l2 -1l2 2l0 -2l-3 -3l-1 -10l-1 -2l-4 1l-3 -4l0 -3l5 -3l-3 -8l7 -8l3 3l3 -2l4 1l6 -5l3 1l0 3l-3 2l7 2l8 6l0 2l-4 2l3 2l7 -1l1 2l-3 4l12 9l7 -1l4 5l6 -1l2 4l6 -5l6 4l-1 -3l1 -2l2 2l7 -1l1 4l2 0l3 -4l5 -2l4 5l4 2l0 -4l-4 -1l-3 -3l1 -2l-5 -5l0 -3l-3 -2l0 -3l-4 -4l-6 -1l2 -3l0 -3l-3 2l-6 -4l2 2l-2 4l-5 1l-1 -2l-2 0l-1 2l3 2l-2 2l-5 -1l-2 2l-10 -9l-1 -3l3 -3l3 2l1 6l2 0l2 -6l3 -3l7 -1l-7 -1l-2 -2l1 -3l-1 -3l-2 1l1 2l-3 3l-4 -1l-2 6l-4 0l-2 -2l1 -2l3 0l0 -2l-3 -3l3 -7l3 -2l-1 -3l-3 -1l-1 -2l3 -2l-1 -2l1 -2l2 -1l3 2l-3 -3l4 -4l2 1l0 4l2 1l3 -4l2 2l-1 3l4 0l1 -4l8 4l3 -2l0 -2l-4 -3l2 -2l3 1l1 -1l-1 -1l2 -1l2 4l-3 3l3 6l-3 2l-5 -2l3 4l3 1l3 -4l4 -1l3 -3l5 5l5 1l-1 5l1 2l3 1zM183 118l1 -1l1 1l-1 1zM201 108l1 -1l2 1l-1 1zM184 107l7 3l3 4l0 3l-4 5l-5 -6l0 -3l-4 -2zM198 105l3 -1l1 2l-3 1zM206 104l1 -3l3 2l-2 2zM77 85l1 -1l2 1l-1 1zM158 57l2 -1l1 2l-1 1zM202 47l2 -2l2 1l-1 2zM170 45l2 -1l1 3l-1 1zM207 33l2 2l-1 3l-2 -2zM189 30l4 -1l1 3l-4 1zM147 28l2 -1l1 2l-1 1zM165 26l1 -1l1 1l-1 1zM183 23l2 -1l1 2l-2 1zM147 18l1 -1l1 2l-1 1zM161 2l3 -1l1 3l-3 1zM59 11l-1 2l3 3l4 10l4 2l5 0l4 3l4 0l5 -2l0 -2l-3 -2l0 -5l2 -1l1 4l3 -2l-1 -5l3 -3l1 -5l-5 -1l2 4l-3 1l-2 -6l3 -6l-11 0l-1 1l-3 -1l-1 1l1 3l-6 6l-3 -3l-2 3zM51 1l3 7l8 -4l1 -2l-4 -1l-4 3l-3 -4zM0 0l0 27l4 3l2 -1l2 1l2 8l0 7l4 1l-4 4l-4 -3l-3 0l-3 3l0 12l3 3l-3 1l0 27l1 1l-1 7l2 -1l7 3l3 -2l5 0l3 -3l0 -2l-4 -3l2 -4l4 3l5 -1l-6 -5l0 -3l3 -4l6 1l4 3l2 -1l8 1l1 -1l-5 -6l-4 -2l3 -4l5 -1l-5 -3l-1 -3l3 -2l2 3l3 -3l-2 -2l0 -3l2 -2l4 4l2 -3l6 -1l1 -3l-4 -1l-4 -4l-3 -1l-1 -2l2 -4l-3 -5l1 -6l-4 -4l-12 2l-2 -3l0 -6l-4 2l-4 0l3 2l-3 3l-2 -2l-1 -5l-3 -3l-1 1l-3 -2l1 -4l5 0l2 -4l2 1l0 -3l-2 -2l-2 3l-2 0l-5 -4zM21 76l1 -1l1 2l-1 1zM35 67l1 -1l2 1l-1 1zM11 52l2 -2l2 2l-1 1zM49 47l1 2l-2 1l-1 -1zM20 43l1 4l-2 3l-2 0l-1 -2zM2 24l2 -1l2 2l-2 2zM8 1l2 1l-1 6l-2 -2z" fill="url(#twdense)" fill-rule="evenodd"/><rect x="-130" y="-130" width="500" height="500" fill="url(#twsparse2)" transform="translate(69,21)"/></svg><rect x="793.2" y="986.5" width="229.2" height="172.5" fill="none" stroke="#111" stroke-width="2.2" rx="2"/>
<svg x="793.2" y="1169.0" width="229.2" height="171.5"><rect width="100%" height="100%" fill="#d8ddd0"/><rect width="100%" height="100%" fill="url(#grain)"/><path d="M91 168l2 3l2 -1zM82 166l-3 4l-3 0l0 1l5 1zM136 164l-5 5l3 1l-2 2l5 -4zM125 163l-3 0l0 4l-4 2l2 3l2 -3l3 -1l-1 -1zM38 162l-5 2l-5 -1l-2 2l-2 -2l-1 1l1 3l-5 2l-1 3l16 0l-1 -3l1 -1l5 2l-3 -3l1 -2l2 1zM78 161l0 2l2 0zM204 162l2 3l-2 1l2 2l0 4l13 0l1 -1l6 1l1 -1l-3 -3l-4 2l-3 -4l-2 2l-4 -1l-2 -7zM127 159l1 2l1 -1zM106 156l3 3l4 0l2 -3l-3 1l-1 -2zM207 148l-3 5l4 2l1 2l4 0l1 3l3 -2l1 2l-2 3l3 0l2 -6l-2 1l-2 -1l-2 -7l-2 -2l-2 1zM214 156l1 -1l1 1l-1 1zM181 148l-2 2l1 1l2 -2zM140 145l2 1l0 5l2 1l1 4l5 5l3 -2l6 7l-1 -1l1 -2l5 1l2 -7l4 -1l5 -8l0 -3l-3 0l-2 -2l-3 3l-2 -1l-2 1l-2 -2l1 -3l-2 0l-4 4l-5 1l-3 -1l1 -2l-1 -1l-2 2l-3 -1l2 1l-2 2zM159 161l2 -2l3 2l-1 1zM158 146l1 -1l1 1l-1 1zM222 134l-2 0l-2 3zM228 122l-1 5l2 1l1 -5zM194 116l-3 3l-3 -1l-7 7l-1 4l2 0l2 -4l7 1l-1 4l-2 1l-2 4l0 3l6 1l1 5l3 -3l-1 -3l1 -3l2 3l3 -2l3 1l-2 -5l5 -5l-6 5l-2 0l-6 -9l0 -2l2 -2l3 1l0 -2zM199 134l2 -1l1 2l-1 1zM188 120l1 -1l1 1l-1 1zM164 112l-1 5l1 1l4 -1l1 -5l-2 2zM173 107l2 4l2 1l0 -2zM0 107l1 7l-1 5l2 -3l5 2l2 -3l-5 -1l-2 -2l2 -4l-2 1zM203 105l-2 1l1 1zM167 105l-6 -2l1 -2l-1 1l-1 -1l1 -3l-3 1l-2 -2l-4 1l-3 3l-3 -1l0 2l-4 1l-2 3l-1 -1l-4 2l-5 -1l-2 3l-2 -1l1 -1l-2 -2l-5 -1l2 3l-1 2l2 3l1 7l8 0l3 -4l3 2l-2 1l0 3l-1 1l-2 -1l0 2l-6 6l4 -2l3 -4l3 0l2 -2l13 -4l-3 -4l-2 1l-1 -1l2 -4l3 0l1 4l3 -2l1 2l3 1l2 -2l0 -3l4 -1zM153 108l1 -1l1 1l-1 1zM141 107l2 3l-2 2l-2 -2zM141 107l1 -1l2 1l-1 1zM154 98l1 -1l1 1l-1 1zM169 94l2 1l1 -1zM7 84l1 2l1 -1zM99 84l-2 2l5 4l1 4l5 3l-3 2l4 -3l2 -4l2 1l-1 -3l2 -3l-4 -3l-4 1l-2 -2l-1 3zM82 83l-3 1l-1 3l2 0zM0 94l0 6l2 3l7 4l3 4l6 0l2 -3l2 -1l1 1l-1 3l-2 1l2 3l-2 6l5 -4l4 0l2 -2l4 1l1 2l-1 2l-3 -2l2 2l-1 2l-2 0l1 4l-2 2l-1 -3l-1 1l4 7l5 -1l0 -2l-2 -1l4 -3l3 6l9 -2l7 6l2 0l-2 -4l3 -1l7 8l3 0l2 2l5 -1l9 -6l0 -5l-2 -1l0 4l-2 2l-3 0l0 4l-6 1l-2 -5l1 -1l4 1l-2 -3l1 -5l-4 -1l-5 -5l-6 0l-7 -5l1 -6l4 -5l-1 -4l3 -2l-2 -4l3 -2l-2 -1l3 -2l3 1l1 10l9 -9l-1 -3l-3 1l-6 -3l-2 -4l-3 1l-3 -2l0 2l-3 1l0 3l-4 7l-3 -1l6 3l-1 6l-5 -1l-2 3l-6 -5l0 -3l-2 0l-1 5l2 -1l3 4l-4 5l-5 -3l-4 0l-3 2l-1 -2l2 -2l-3 -4l-3 0l-1 3l-9 -3l5 -7l-3 -3l-4 -1l-3 1l-4 5zM54 130l1 -1l1 2l-1 1zM51 129l1 -1l2 1l-1 1zM68 129l4 -2l2 4l-2 1l-1 -2zM54 126l1 -1l1 1l-1 1zM37 122l1 2l-2 1l-1 -1zM41 119l3 0l5 5l-1 3l-3 -1l2 2l-1 2l-3 0l-2 -4l-2 -1l3 -2l-3 -2zM51 116l2 5l-3 2l-1 -5zM21 112l2 -1l1 2l-2 1zM52 110l2 3l-5 3l-1 -2zM23 104l2 -1l1 2l-2 1zM9 92l1 -1l1 1l-1 1zM67 89l1 -1l2 2l-2 1zM62 84l1 -1l1 1l-1 1zM79 81l-1 -1l-1 1zM99 73l0 2l3 0zM4 71l0 3l-4 3l0 7l2 1l-1 1l2 0l0 -2l5 -4l0 -4zM4 80l1 1l-3 3l-1 -2zM2 79l1 -1l1 1l-1 1zM197 68l-6 3l1 5l-2 1l1 5l-3 1l-1 3l-3 0l-5 8l1 3l-2 1l-2 -2l-1 2l6 3l-2 -3l4 -1l1 3l3 0l-2 -1l1 -2l2 1l-3 -5l-2 3l-2 -1l1 -3l-1 -2l2 -1l2 2l3 -4l2 1l4 7l3 -2l2 -4l5 2l3 -1l-4 -2l-2 -6l-2 1l-2 -1l1 -1l-1 -2l1 -5l-2 -2zM193 93l1 -1l1 1l-1 1zM219 66l1 3l-1 1l-3 -1l-1 8l5 -1l3 3l1 -6l-3 -2l0 -4zM229 61l-2 3l-3 -1l2 8l2 1l-2 2l1 6l-7 3l-4 8l-5 3l-1 4l-3 2l2 2l-3 6l2 -3l2 2l0 3l4 -5l2 0l-1 -2l2 -2l5 5l-1 2l-5 -1l-1 2l0 4l2 2l-1 2l-4 -2l0 2l6 5l0 3l8 -6l4 0l-1 -3l1 -12l-1 1l-2 -2l1 -5l2 -2l0 -33zM226 110l1 1l-1 3l-1 -1zM223 107l3 2l-2 1l1 2l-1 1l-3 -2zM219 102l1 -1l1 2l-1 1zM217 101l1 -1l2 1l-1 1zM226 100l1 -1l1 1l-1 1zM221 100l1 -1l1 2l-1 1zM227 64l1 -1l1 2l-1 1zM158 59l-3 2l-2 -4l-3 2l-1 -1l-2 2l2 2l0 4l-2 2l-6 -1l1 -2l4 0l0 -2l-6 3l-1 3l5 5l2 5l3 -2l0 -4l2 -2l3 3l-1 -3l4 -5l3 -1l-2 -3zM149 60l1 -1l2 1l-1 1zM61 49l-1 -1l-2 3zM72 41l5 3l1 -3zM99 35l-1 2l2 3l5 2l-3 4l4 4l-1 4l2 -1l4 1l2 -4l-5 -3l-2 -5zM197 33l-2 2l1 2l-1 1l-2 -2l0 2l3 -1zM109 33l-3 3l2 1zM80 33l0 2l1 -1zM153 31l-3 3l0 4l5 -1l-2 -3l1 -1zM183 29l2 2l0 -2zM206 24l-5 -1l-4 5l-2 -1l0 2l2 0l4 -4l2 1zM210 21l-1 2l3 1l-1 3l2 1l0 3l4 -4l0 -2l-3 -3zM39 22l-1 -1l-1 2zM181 20l0 3l5 -1l0 -1zM33 20l0 2l2 -1zM210 18l-2 0l-1 2zM25 8l1 3l-2 1l-1 -2l1 4l5 0l-2 -5zM25 12l2 -1l1 2l-2 1zM224 0l0 3l-2 2l2 2l-1 5l4 -1l3 3l0 -13l0 3l-2 1l-2 -2l0 -3zM223 4l1 -1l1 1l-1 1zM32 0l4 4l-1 5l1 -1l6 4l1 5l-1 1l6 -1l2 2l6 -1l1 2l-4 3l2 1l5 -3l2 2l-3 1l3 2l-2 3l3 -2l4 3l-2 6l-4 -1l-3 -3l-2 2l-1 -4l2 -2l-2 2l0 4l4 6l3 -1l8 1l2 -5l-1 -3l3 -3l-2 -2l1 -2l4 0l2 2l-1 2l4 -4l2 1l1 -1l-2 -3l0 -3l2 -3l-1 -4l3 -3l1 4l3 2l-1 2l6 1l-3 4l-4 0l0 5l10 3l1 2l9 -5l0 -3l-7 1l-1 -6l2 -1l3 4l2 -1l3 1l1 6l4 4l3 -3l1 2l3 0l3 3l-1 2l-6 1l-5 -1l-2 3l-2 0l1 3l-1 4l3 -1l1 2l2 0l4 -3l-1 -1l4 -3l4 1l1 -2l2 1l0 4l4 1l4 -3l-1 -3l5 -3l-3 -1l5 -10l-3 -2l1 -3l-4 0l-4 -2l-2 -4l-2 -1l2 -2l-2 -6l2 -2l3 2l1 -1l-3 -4l-3 2l-1 -2l-26 0l0 5l-1 1l-1 -1l1 5l-2 2l-8 -7l-3 1l-1 4l-5 -5l-3 0l-3 -4l-14 -1l-1 2l-1 -2l-1 1l2 2l-2 2l-5 0l-6 -3l2 4l-2 2l-6 1l-1 -1l2 -1l1 -3l-3 -1l-3 -3l-2 3l-2 -3zM113 45l1 -1l1 1l-1 1zM131 39l1 -1l1 1l-1 1zM125 37l2 -1l1 3l-2 1zM57 34l2 -1l1 3l-2 1zM138 29l2 2l-3 3l-2 -2zM133 26l2 -1l2 4l-3 1zM132 25l1 -1l1 1l-1 1zM133 23l1 -2l2 1l-2 2zM105 19l1 -1l2 1l-1 1zM61 19l1 -1l2 1l-1 1zM122 17l4 3l-2 2l-4 -3zM82 17l1 -1l1 1l-1 1zM96 13l1 -1l2 2l-2 1zM51 8l1 -1l1 1l-1 1zM74 6l1 4l3 3l-4 4l-5 -4l2 -4l1 4l1 -1zM113 4l3 -1l5 4l-5 4zM117 3l1 -1l1 1l-1 1zM122 2l7 -1l1 3l-1 1l-6 -1zM15 0l-2 4l4 -1l2 5l2 0l1 -5l-4 0l-1 -1l1 -2zM8 0l2 2l1 -1z" fill="url(#twsparse2)" fill-rule="evenodd" transform="translate(0,0)"/><rect width="100%" height="100%" fill="url(#twsparse)" transform="translate(93,39)"/></svg><rect x="793.2" y="1169.0" width="229.2" height="171.5" fill="none" stroke="#111" stroke-width="2.2" rx="2"/>
<svg x="1028.6" y="986.5" width="229.6" height="172.5"><rect width="100%" height="100%" fill="#dcdcd8"/><rect width="100%" height="100%" fill="url(#grain)"/><path d="M125 173l5 0l0 -2l-3 0zM17 170l-1 -1l-1 2zM92 169l-3 -2l-1 -4l-1 4l-4 4l-4 0l-1 2l10 0zM177 157l1 2l1 -1zM32 159l6 2l-1 2l2 -1l-1 -6zM226 147l-1 1l2 1zM15 146l-1 5l-3 1l-1 3l-3 0l-5 -5l-2 1l1 9l-1 4l2 -2l3 2l0 3l-3 1l1 3l2 0l2 -3l3 2l3 -3l1 -5l-2 -5l2 -2l3 1l2 11l3 4l2 -2l-4 -3l0 -3l1 -1l8 1l-4 -2l0 -2l-6 -6zM197 145l-2 1l1 1zM202 146l0 1l3 -1l2 2l3 -1l0 -2l-3 0l-1 -2zM218 137l-1 5l2 2l0 3l-1 1l-5 -1l-8 10l-4 -8l-2 1l2 4l-3 4l0 2l3 3l-2 3l-2 0l-1 -3l-3 -2l-2 0l-3 4l-3 -3l-2 0l0 3l6 2l2 4l-1 2l-3 -1l-1 1l33 0l2 -2l1 2l2 0l-2 -2l3 -3l5 3l0 -14l-4 -2l-2 1l-2 -2l2 -3l-4 -3l2 -5zM192 136l3 1l-1 -2zM21 122l-1 1l2 2l3 -1l2 2l-1 4l2 -2l0 -6l-3 2zM61 105l-2 2l2 0zM103 87l-1 1l1 1zM115 78l-2 7l-4 2l-1 3l-2 1l5 -1l7 5l0 2l-4 5l0 5l1 1l4 -1l3 5l-3 4l-5 1l3 4l-5 1l-4 -2l-2 3l-4 -1l2 4l-1 3l-4 0l-1 -2l-2 0l-1 2l-3 0l-8 5l-3 -2l-4 2l-4 -2l-2 3l-3 1l-1 2l1 4l-4 4l0 2l6 -1l3 1l2 3l2 -2l5 -1l1 2l3 1l4 6l0 3l4 3l3 6l9 1l2 3l14 0l-3 -8l-7 1l-2 -2l2 -4l-1 -8l2 -2l3 1l2 -1l1 -4l-4 -5l2 -6l5 -1l1 -4l7 -4l3 3l1 -1l-3 -3l0 -3l-1 -1l-3 1l-1 -2l4 -5l3 0l-2 -3l5 -5l3 0l3 -4l-3 1l-2 -4l-4 -3l0 3l-6 5l-4 0l-1 -3l5 -5l-2 -3l-4 3l-3 -1l1 -5l-1 -2l-3 -1l2 -1l1 -6zM109 168l1 -1l1 1l-1 1zM110 155l-3 4l-4 -2l2 -2l4 -1zM98 128l1 2l-2 2l-1 -2zM121 118l2 -3l3 2l-1 2zM28 60l2 3l2 0l1 -2zM207 56l-2 0l-2 5l-4 0l-4 6l-9 -2l-1 1l1 4l-2 1l-2 5l-4 0l-1 2l-11 -1l-3 7l1 3l-1 6l1 2l3 0l1 -2l6 3l-1 7l-3 4l-5 -2l-1 4l-3 3l-5 0l-2 2l1 4l-2 2l-9 1l-4 -2l-2 2l0 2l7 5l0 2l-4 2l-1 2l0 4l-2 4l1 6l3 -1l4 1l4 -4l3 0l11 5l1 -2l-3 -2l1 -4l3 3l2 0l3 3l0 2l4 2l-1 3l1 1l3 -4l0 -3l3 -3l3 3l1 -4l3 -3l3 2l2 -1l0 -1l-3 1l-4 -6l1 -3l4 1l-1 -10l4 -4l2 1l0 -4l2 -2l4 0l3 3l2 0l-1 -3l4 -5l4 1l2 -4l5 2l-4 4l0 3l3 -2l1 1l-1 2l7 7l3 -1l-1 -1l1 -2l0 -29l-5 -1l-2 -3l-5 -2l-2 -3l-1 1l-3 -1l3 -3l-1 -1l-2 1l-4 -5l0 -2l4 -2l1 4l2 0l0 -3l-6 -3l-4 2l-4 -2l3 -5l-1 -2l4 -3zM208 107l1 1l-1 3l-2 -2zM190 97l1 3l-3 3l0 2l-6 4l-2 -2l1 -2l3 -1l3 -5zM196 95l1 3l-2 1l-1 -2zM190 92l1 1l-1 3l-1 -1zM179 92l6 -1l1 2l-3 3zM176 91l2 3l-4 2l-1 -3zM186 91l1 -1l2 1l-1 1zM196 86l1 2l-2 1l-1 -1zM208 81l1 -1l1 1l-1 1zM177 78l1 -1l1 2l-1 1zM112 52l2 3l5 -3zM100 61l-3 3l-2 -1l-4 4l-3 -2l0 -2l-4 2l-8 -4l4 -3l-1 -2l-6 3l-6 0l-1 -1l1 -3l-3 -5l-9 10l-11 1l0 3l-4 6l-1 10l-5 3l0 4l-4 2l-1 4l-10 1l3 2l3 -1l2 2l-1 2l1 1l2 -1l0 -4l2 -2l5 4l-2 7l-3 3l-2 0l-2 3l1 3l3 2l0 3l4 -1l3 2l2 -3l2 2l-3 4l6 7l6 1l4 -1l1 2l2 0l1 -2l-2 0l-4 -6l0 -3l5 -4l-2 -4l1 -3l-5 2l-1 -1l1 -4l-4 0l-1 -4l-3 -3l3 -3l4 0l1 3l3 2l6 -1l1 -3l-3 -2l0 -3l7 -7l3 2l-3 3l0 2l3 0l2 -3l3 0l4 -4l3 0l1 6l-3 2l1 2l2 -2l4 0l2 2l7 -3l2 -4l6 -5l3 2l0 -3l3 -3l-5 -6l2 -3zM73 82l2 2l-1 3l-3 -1zM95 80l-1 3l-4 2l-1 5l-5 -2l-6 -6l4 -1l1 2l3 0l6 -5zM98 65l2 0l4 5l-2 2l-2 0l-4 -5zM59 60l2 -1l1 2l-2 1zM76 46l-1 3l2 -1zM139 9l4 3l-1 -3zM214 0l-1 3l1 2l4 -4l6 3l-1 4l3 2l0 5l-3 2l-3 5l3 -1l7 10l0 -23l-1 1l-1 -1l2 -2l0 -5l-1 -1l-2 1l-1 -1zM182 3l-5 -2l-6 4l-2 -4l-2 2l-3 0l-2 -3l-6 0l-11 13l1 4l-1 1l-2 -1l-1 3l2 0l1 -2l4 0l2 -3l3 1l-1 3l3 6l6 0l3 2l2 -2l-2 -2l4 -3l-1 -6l3 -3l5 0l3 -2zM74 1l1 4l-1 5l4 2l-1 4l5 -1l2 2l-1 5l2 0l3 3l0 6l-3 3l1 2l4 1l4 -2l4 0l4 4l2 0l2 -5l-6 -1l4 -5l0 -3l7 -1l5 -4l2 0l-1 -5l4 -1l-2 -4l1 -6l-2 -2l-9 1l-5 5l-3 -4l-4 2l-6 -1l-2 -2l0 -3l-3 0l-1 2l-3 -1l-2 3zM86 15l1 -3l4 0l2 2l-3 3zM0 0l0 9l6 -1l4 4l-1 4l-4 3l4 3l-1 4l-3 3l-5 -1l0 16l2 3l9 2l2 2l-2 5l8 1l5 -1l1 1l1 -3l3 -2l0 -3l-1 -1l-3 1l-6 -3l6 -6l4 0l-2 -4l4 -6l6 -2l-1 -2l7 -4l-1 -6l4 -1l0 -7l-6 -6l1 -2l-9 1l-3 -1zM41 5l1 4l-3 2l-1 -3z" fill="url(#twdense)" fill-rule="evenodd"/><rect x="-130" y="-130" width="500" height="500" fill="url(#twsparse2)" transform="translate(92,28)"/></svg><rect x="1028.6" y="986.5" width="229.6" height="172.5" fill="none" stroke="#111" stroke-width="2.2" rx="2"/>
<svg x="1028.6" y="1169.0" width="229.6" height="171.5"><rect width="100%" height="100%" fill="#dcdad0"/><rect width="100%" height="100%" fill="url(#grain)"/><path d="M87 167l0 2l2 0l0 -2zM0 167l1 1l-1 4l7 0l1 -1l-1 1l-2 -4l-3 -1l1 -2zM152 162l-4 1l-4 3l-2 5l7 1l3 -6l2 -1zM150 164l1 -1l1 1l-1 1zM80 162l-1 3l2 2l3 0l-2 -4zM85 156l2 3l-4 2l4 0l7 7l-1 -2l3 -1l0 -3l-2 0l-3 -4l4 -2l-1 -1l-4 2zM163 153l-2 3l-3 1l4 -1zM45 148l-2 0l-5 4l6 1l-1 -3zM157 135l3 1l1 -2zM25 131l-1 1l2 2zM224 127l-3 2l-2 3l1 3l-5 5l-5 -1l3 1l-1 2l-2 0l-3 -3l-2 5l-4 3l1 6l-3 2l6 0l5 3l-2 2l-2 -2l-3 0l2 2l-1 2l-3 -1l0 -3l-3 0l0 2l7 5l0 2l-3 3l8 -3l-5 -5l1 -1l3 1l3 -6l2 4l2 0l10 -9l4 0l0 -16l-1 -3l-5 -3zM210 156l1 -1l1 1l-1 1zM209 148l1 -1l2 1l-1 1zM219 143l1 2l-3 5l-3 -3zM223 131l2 -1l1 3l-1 1zM6 129l1 6l4 -1l6 1l-2 -3l3 -4l-4 -1l1 1l-2 1l-3 -2zM25 126l2 4l2 0l0 -2zM147 121l-2 2l2 0zM169 118l-1 2l2 3l-8 7l0 2l3 -1l2 2l-1 3l2 4l-2 2l-1 -1l-3 7l7 1l1 -2l6 2l1 -3l-2 -2l0 -7l2 -1l2 4l5 -1l2 -7l-3 -3l1 -4l-3 3l-2 -2l-3 2l-2 -4l-3 -1l1 -3zM166 145l2 -2l2 1l-1 2zM179 135l2 -1l1 2l-2 1zM54 127l-3 -1l-3 -5l-7 -3l-3 3l1 2l-4 3l2 1l2 4l-2 1l0 3l-6 7l-7 -5l-5 0l-1 2l1 1l2 -3l3 1l-3 2l1 2l2 -4l4 2l-4 5l2 4l6 -1l5 1l5 -5l2 1l2 -1l-1 -5l-3 -2l-2 -10l1 -1l6 1l3 5l4 -2zM33 141l1 -1l1 1l-1 1zM39 125l1 -1l1 1l-1 1zM154 116l-3 1l-1 2l2 3l-3 3l3 -3l3 2l2 -1l0 -3l-2 -1zM220 113l0 3l4 5l5 -1l1 3l0 -8l-5 -2zM221 117l1 -1l1 1l-1 1zM194 113l-5 6l5 -4zM230 103l-13 3l1 2l-2 2l-3 -3l4 4l2 -2l1 1l2 -4l2 2l3 -2l3 1zM113 103l-3 2l-2 -2l-2 1l-1 -2l-2 2l-3 -1l2 3l4 2l-1 4l1 2l-1 1l-4 -1l-3 2l-2 -4l-2 4l-3 2l2 9l4 0l-4 -2l5 -7l2 2l-1 4l2 3l-4 2l-1 2l4 1l3 3l2 -1l1 -2l-1 -4l2 -1l-3 -3l4 -2l-1 -1l5 -4l1 -11l4 -1zM102 127l2 1l-1 4l-2 -1zM27 98l-3 -2l-3 1l0 2l3 -2l2 2zM50 95l-8 8l0 5l2 1l1 4l1 -2l2 1l-1 2l1 1l2 -2l5 3l-1 3l4 -1l2 1l0 -2l-3 -3l1 -2l-2 2l-3 -1l0 -2l3 -3l-3 -1l2 -3l-8 6l-2 -2l4 -7l3 1l4 -1l0 -2zM51 108l2 -1l1 2l-2 1zM36 88l1 2l-1 3l2 2l0 3l2 -2l2 2l1 -7l-4 -3zM34 82l-2 0l-2 4zM67 88l-3 -1l-2 2l-2 -2l1 -3l-4 -5l-2 2l1 1l-1 3l-7 -1l-3 2l2 3l-1 2l5 -1l-1 -1l1 -2l7 5l3 -3zM55 88l2 -1l1 2l-2 1zM57 84l2 -1l1 2l-1 1zM191 74l-3 0l-1 -3l-2 -1l-4 4l2 3l-1 2l-3 -2l-2 1l-3 -1l-4 2l-1 -2l-5 -2l-3 1l2 4l-5 8l1 1l3 -4l1 2l2 0l3 3l0 5l-3 3l-5 -3l1 1l-3 2l4 2l2 -1l4 1l3 -1l1 -4l6 -1l1 3l4 -2l1 1l-1 2l2 3l4 -1l-3 -4l3 -1l2 -3l-2 2l-2 -1l-2 -4l2 -4l-2 -3l1 -1l2 1l3 -2l-4 -4zM169 95l1 -1l2 1l-1 1zM171 82l1 -1l1 1l-1 1zM167 79l1 2l-2 1l-1 3l-2 0l-1 -2zM188 65l2 2l0 3l2 -1l3 1l0 -5l-2 0l1 1l-1 2zM222 65l1 3l1 -1l2 1l-2 3l4 -2l1 1l-1 2l2 2l0 -11l-1 2l-2 -1l-3 2zM125 59l-3 2l1 3l-1 4l-4 2l3 4l-4 2l2 4l-2 5l5 -3l2 1l1 6l-3 4l4 -4l4 -1l4 1l2 -2l-1 -8l2 -2l0 -5l-6 2l0 3l-2 3l-3 -2l0 -2l-2 -1l2 -2l-1 -3l2 -3l2 0l-5 -6zM15 56l-4 2l2 2l-4 1l-1 4l-6 4l0 4l-2 1l3 -1l2 3l2 0l0 -2l2 -1l3 4l-4 2l3 0l1 -2l4 3l-1 4l-3 0l-5 -3l-2 3l1 10l-2 2l5 -2l-2 -1l2 -2l4 2l2 -2l0 -4l5 -5l2 1l-1 -4l1 -6l-2 -1l1 -1l-2 -2l0 2l-4 2l1 1l-1 2l-6 -3l-1 -4l4 -5l3 1l1 -4zM17 74l1 -1l2 1l-1 1zM7 68l1 1l-3 2l-1 -1zM1 53l-1 2l3 2l1 -2zM182 52l-1 3l2 0l1 3l1 -3l-1 -3zM79 48l-1 3l4 5l-1 3l-4 -1l-1 2l1 4l4 -1l1 1l-1 3l2 -1l2 2l-4 -5l3 -5l4 2l3 -3l3 3l3 -2l1 5l2 1l0 3l4 1l1 3l3 -1l3 2l-1 -4l-1 2l-2 -4l-3 0l-5 -5l2 -3l-6 -3l-2 -4l-10 -4zM77 60l1 -1l3 1l-2 2zM45 38l-2 2l1 1zM147 32l0 2l2 1l1 -1l-1 -2zM138 30l0 2l4 1l-2 -3zM156 26l-5 0l1 7l2 -4l3 1zM129 26l3 4l1 -3zM26 29l2 2l1 -1l-2 -2l2 -1l3 2l1 3l4 -1l-1 -2l-4 0l-1 -1l1 -2l-4 0zM113 24l2 2l0 -2zM138 22l-1 2l2 0l1 2zM30 21l-2 2l2 0zM230 11l-2 4l-1 -3l-3 0l-1 3l4 -1l2 4zM221 9l1 1l2 -1l-1 -1zM30 8l-2 0l-1 2l2 1zM187 7l1 1l-2 2l-2 9l-3 -3l-3 0l-2 5l-1 -6l-5 3l2 2l-1 3l6 4l0 4l2 1l0 3l5 4l0 8l3 -2l4 4l3 1l-2 2l1 5l4 0l0 -3l2 -2l-2 -2l-3 0l-2 -3l1 -5l2 -2l0 -6l-8 4l-2 -2l-3 0l-2 -5l4 -2l6 1l0 -5l3 -3l3 0l-1 -1l1 -3l3 -1l3 -4l-1 -1l-6 1l-1 -5l-4 4l3 3l-2 2l-4 -3l0 -2l3 -3zM195 52l1 2l-2 2l-1 -2zM173 22l1 -1l1 2l-1 1zM171 18l2 -1l1 2l-2 1zM128 7l-2 3l-4 1l2 2l-1 2l5 1l-3 4l-3 -1l3 2l4 -3l1 1l-1 4l3 0l7 -4l-3 -2l1 -2l-1 -1l-1 1l-2 -1l-2 -6zM131 20l1 -1l1 1l-1 1zM89 13l-3 1l-1 -1l1 -2l-1 1l-2 -1l-1 -5l-2 0l-2 5l-5 -1l-5 -3l-5 7l7 3l-2 7l-2 1l-2 -3l-1 1l1 2l-2 1l-1 -2l-8 -1l0 2l4 3l-1 2l2 2l-1 2l8 0l1 2l3 1l1 -4l-1 1l-2 -1l3 -4l-1 -8l5 -4l2 0l0 -4l3 -3l3 1l4 4zM224 2l-1 2l3 1zM202 2l-1 2l1 -1l3 3l-3 3l3 1l-1 2l3 -2l1 -6l-3 -2zM169 0l1 3l6 5l-1 2l-3 -2l1 3l6 0l2 -2l-4 -5l1 -2l-4 -2l-4 2zM177 8l1 -1l2 2l-2 1zM171 2l1 -1l1 2l-1 1zM84 1l1 5l4 3l1 -1l3 5l3 -1l2 2l0 4l3 -6l6 -2l2 3l6 0l1 1l-1 1l3 0l1 1l-1 3l1 0l1 -6l-2 1l-1 -2l4 -3l-1 -3l-3 0l-1 -2l-9 -3l-1 2l-1 -3l-4 5l-4 -2l-3 3l-2 0l-3 -5l-2 1zM11 0l1 2l-1 2l-3 -1l-1 3l-2 -1l-5 1l0 8l6 4l-3 7l-2 0l-1 -2l0 12l1 0l-1 -2l3 -3l3 1l-3 6l-3 2l1 2l3 1l9 -1l1 4l2 1l2 -2l3 2l3 0l2 -2l-4 -4l-4 2l-3 -5l2 -1l1 2l5 -5l-3 -3l3 -2l2 -4l-1 -1l-2 1l-2 -5l4 -2l1 -9l-2 -1l-3 3l-2 0l-1 -3l3 -6l-4 1l-1 -2zM19 42l1 -1l2 1l-1 1zM15 42l1 -1l2 1l-1 1zM15 32l4 -1l1 3l-2 2zM17 25l3 4l-1 1l-3 -1l0 2l-2 1l2 4l-4 1l-1 -5l-2 -2l2 -2l2 1l1 -4zM19 25l1 -1l1 1l-1 1zM1 7l1 -1l2 2l-2 1z" fill="url(#twsparse2)" fill-rule="evenodd" transform="translate(0,0)"/><rect width="100%" height="100%" fill="url(#twsparse)" transform="translate(124,52)"/></svg><rect x="1028.6" y="1169.0" width="229.6" height="171.5" fill="none" stroke="#111" stroke-width="2.2" rx="2"/>
<text x="204.3" y="1815.5" font-size="21.2" text-anchor="middle">NC</text>
<text x="439.6" y="1815.5" font-size="21.2" text-anchor="middle">circ_0042881</text>
<text x="675.7" y="1815.5" font-size="21.2" text-anchor="middle">circ_0042881+si-NC</text>
<text x="912.6" y="1815.5" font-size="21.2" text-anchor="middle">circ_0041881+si-SOS1</text>
<text x="1146.4" y="1815.5" font-size="21.2" text-anchor="middle">circ_0042881+BAY-293</text>
<line x1="52.6" y1="1824.0" x2="52.6" y2="2178.0" stroke="#000" stroke-width="2.2" stroke-linecap="butt"/>
<text transform="translate(44.8,1990.0) rotate(-90)" font-size="21" text-anchor="middle" textLength="118" lengthAdjust="spacingAndGlyphs">MDA-MB-231</text>
<text transform="translate(80.4,1910.0) rotate(-90)" font-size="21" text-anchor="middle">0h</text>
<text transform="translate(80.4,2086.0) rotate(-90)" font-size="21" text-anchor="middle">48h</text>
<svg x="89.3" y="1823.0" width="230.0" height="173.3"><g transform="translate(0,0)"><rect x="-100" y="-100" width="430" height="373" fill="url(#cells0)"/></g><polygon points="53.2,0.0 51.1,7.2 51.6,14.4 52.9,21.7 51.4,28.9 53.5,36.1 50.4,43.3 52.1,50.5 53.5,57.8 53.1,65.0 50.6,72.2 53.5,79.4 51.4,86.6 51.2,93.9 53.6,101.1 51.4,108.3 50.3,115.5 51.7,122.8 52.6,130.0 53.1,137.2 49.0,144.4 53.3,151.6 50.6,158.9 50.0,166.1 50.2,173.3 169.9,173.3 171.9,166.1 170.3,158.9 173.5,151.6 172.2,144.4 171.4,137.2 172.7,130.0 174.6,122.8 170.7,115.5 170.4,108.3 169.9,101.1 171.6,93.9 174.2,86.6 171.3,79.4 171.1,72.2 170.2,65.0 169.8,57.8 173.4,50.5 170.9,43.3 172.2,36.1 171.8,28.9 173.2,21.7 172.7,14.4 173.4,7.2 170.9,0.0" fill="#7b7b7b"/><circle cx="144.5" cy="78.2" r="0.9" fill="#5a5a5a"/><circle cx="152.2" cy="168.0" r="1.3" fill="#5a5a5a"/><circle cx="117.4" cy="120.4" r="1.3" fill="#c8c8c8"/><circle cx="161.8" cy="103.5" r="1.4" fill="#5a5a5a"/><circle cx="67.9" cy="135.3" r="1.1" fill="#c8c8c8"/><circle cx="89.3" cy="35.9" r="1.0" fill="#5a5a5a"/><circle cx="109.3" cy="19.7" r="1.6" fill="#c8c8c8"/><line x1="50.0" y1="0" x2="50.0" y2="173.3" stroke="#e11f24" stroke-width="2.2"/><line x1="173.7" y1="0" x2="173.7" y2="173.3" stroke="#e11f24" stroke-width="2.2"/></svg><rect x="89.3" y="1823.0" width="230.0" height="173.3" fill="none" stroke="#111" stroke-width="2.2" rx="2"/>
<svg x="324.9" y="1823.0" width="229.5" height="173.3"><g transform="translate(13,0)"><rect x="-100" y="-100" width="430" height="373" fill="url(#cells0)"/></g><polygon points="45.6,0.0 45.6,7.2 46.8,14.4 46.0,21.7 45.3,28.9 43.9,36.1 47.7,43.3 47.0,50.5 44.6,57.8 46.1,65.0 46.1,72.2 43.4,79.4 47.6,86.6 45.8,93.9 42.7,101.1 47.4,108.3 44.5,115.5 44.3,122.8 44.9,130.0 45.6,137.2 43.5,144.4 44.8,151.6 45.2,158.9 46.0,166.1 47.0,173.3 178.9,173.3 176.9,166.1 175.5,158.9 179.4,151.6 178.5,144.4 175.4,137.2 179.3,130.0 176.9,122.8 175.1,115.5 178.1,108.3 178.9,101.1 179.4,93.9 174.8,86.6 175.8,79.4 176.3,72.2 177.3,65.0 178.2,57.8 176.6,50.5 179.4,43.3 174.8,36.1 178.0,28.9 178.8,21.7 175.5,14.4 178.6,7.2 177.5,0.0" fill="#7e7e7e"/><circle cx="119.1" cy="66.1" r="1.4" fill="#c8c8c8"/><circle cx="166.3" cy="131.3" r="1.2" fill="#c8c8c8"/><circle cx="164.4" cy="75.7" r="1.2" fill="#c8c8c8"/><circle cx="132.6" cy="28.4" r="1.3" fill="#c8c8c8"/><circle cx="83.4" cy="54.4" r="1.5" fill="#c8c8c8"/><circle cx="144.1" cy="83.4" r="1.1" fill="#5a5a5a"/><circle cx="78.3" cy="94.0" r="0.8" fill="#5a5a5a"/><line x1="43.7" y1="0" x2="43.7" y2="173.3" stroke="#e11f24" stroke-width="2.2"/><line x1="178.6" y1="0" x2="178.6" y2="173.3" stroke="#e11f24" stroke-width="2.2"/></svg><rect x="324.9" y="1823.0" width="229.5" height="173.3" fill="none" stroke="#111" stroke-width="2.2" rx="2"/>
<svg x="560.4" y="1823.0" width="230.6" height="173.3"><g transform="translate(26,0)"><rect x="-100" y="-100" width="431" height="373" fill="url(#cells0)"/></g><polygon points="48.1,0.0 47.4,7.2 44.9,14.4 48.1,21.7 46.5,28.9 45.7,36.1 44.1,43.3 48.4,50.5 44.6,57.8 48.1,65.0 45.7,72.2 47.6,79.4 44.0,86.6 43.8,93.9 44.6,101.1 45.0,108.3 44.4,115.5 43.7,122.8 47.9,130.0 44.8,137.2 46.8,144.4 44.3,151.6 46.6,158.9 44.4,166.1 46.4,173.3 180.8,173.3 179.8,166.1 180.8,158.9 179.8,151.6 181.5,144.4 182.9,137.2 181.9,130.0 179.5,122.8 182.4,115.5 179.5,108.3 179.5,101.1 182.5,93.9 180.1,86.6 180.5,79.4 179.9,72.2 181.3,65.0 181.4,57.8 180.8,50.5 181.4,43.3 178.0,36.1 182.2,28.9 178.6,21.7 179.8,14.4 178.5,7.2 179.6,0.0" fill="#707070"/><circle cx="72.6" cy="156.7" r="1.7" fill="#c8c8c8"/><circle cx="173.5" cy="99.8" r="1.1" fill="#c8c8c8"/><circle cx="162.7" cy="13.5" r="1.0" fill="#c8c8c8"/><circle cx="173.1" cy="142.1" r="0.9" fill="#5a5a5a"/><circle cx="52.8" cy="111.4" r="1.1" fill="#5a5a5a"/><circle cx="168.2" cy="91.6" r="1.6" fill="#c8c8c8"/><circle cx="154.1" cy="31.8" r="1.7" fill="#5a5a5a"/><line x1="44.6" y1="0" x2="44.6" y2="173.3" stroke="#e11f24" stroke-width="2.2"/><line x1="182.0" y1="0" x2="182.0" y2="173.3" stroke="#e11f24" stroke-width="2.2"/></svg><rect x="560.4" y="1823.0" width="230.6" height="173.3" fill="none" stroke="#111" stroke-width="2.2" rx="2"/>
<svg x="797.3" y="1823.0" width="230.7" height="173.3"><g transform="translate(39,0)"><rect x="-100" y="-100" width="431" height="373" fill="url(#cells0)"/></g><polygon points="53.0,0.0 50.5,7.2 51.4,14.4 52.3,21.7 55.2,28.9 55.3,36.1 51.5,43.3 51.1,50.5 53.3,57.8 55.2,65.0 53.0,72.2 50.4,79.4 53.7,86.6 53.1,93.9 53.5,101.1 50.9,108.3 51.8,115.5 54.7,122.8 50.7,130.0 51.9,137.2 52.3,144.4 51.8,151.6 51.2,158.9 52.9,166.1 55.0,173.3 174.1,173.3 172.4,166.1 173.5,158.9 174.1,151.6 173.0,144.4 172.9,137.2 175.5,130.0 175.4,122.8 172.6,115.5 174.2,108.3 172.2,101.1 173.3,93.9 172.9,86.6 172.7,79.4 176.4,72.2 173.4,65.0 172.1,57.8 172.5,50.5 176.3,43.3 171.7,36.1 174.4,28.9 173.5,21.7 175.4,14.4 173.4,7.2 175.3,0.0" fill="#7e7e7e"/><circle cx="66.7" cy="158.1" r="1.7" fill="#5a5a5a"/><circle cx="154.5" cy="47.7" r="1.3" fill="#5a5a5a"/><circle cx="156.2" cy="148.3" r="1.0" fill="#c8c8c8"/><circle cx="149.1" cy="88.7" r="1.2" fill="#c8c8c8"/><circle cx="160.6" cy="82.9" r="1.7" fill="#5a5a5a"/><circle cx="114.7" cy="67.1" r="1.4" fill="#5a5a5a"/><circle cx="92.0" cy="137.6" r="1.6" fill="#5a5a5a"/><line x1="51.3" y1="0" x2="51.3" y2="173.3" stroke="#e11f24" stroke-width="2.2"/><line x1="175.7" y1="0" x2="175.7" y2="173.3" stroke="#e11f24" stroke-width="2.2"/></svg><rect x="797.3" y="1823.0" width="230.7" height="173.3" fill="none" stroke="#111" stroke-width="2.2" rx="2"/>
<svg x="1031.0" y="1823.0" width="230.8" height="173.3"><g transform="translate(52,0)"><rect x="-100" y="-100" width="431" height="373" fill="url(#cells0)"/></g><polygon points="54.1,0.0 52.0,7.2 56.6,14.4 52.4,21.7 56.2,28.9 51.9,36.1 52.4,43.3 54.9,50.5 56.6,57.8 54.8,65.0 56.6,72.2 54.4,79.4 56.2,86.6 56.2,93.9 53.4,101.1 52.9,108.3 52.6,115.5 55.9,122.8 56.7,130.0 52.9,137.2 52.1,144.4 54.8,151.6 52.2,158.9 52.4,166.1 54.1,173.3 184.9,173.3 181.2,166.1 182.3,158.9 182.5,151.6 182.5,144.4 183.2,137.2 180.9,130.0 183.1,122.8 183.9,115.5 184.6,108.3 181.6,101.1 181.2,93.9 184.9,86.6 181.2,79.4 184.7,72.2 184.8,65.0 184.5,57.8 183.1,50.5 182.2,43.3 180.9,36.1 183.2,28.9 183.7,21.7 182.1,14.4 184.0,7.2 181.0,0.0" fill="#7a7a7a"/><circle cx="173.9" cy="159.2" r="1.1" fill="#5a5a5a"/><circle cx="93.7" cy="92.1" r="1.4" fill="#c8c8c8"/><circle cx="68.9" cy="11.1" r="0.9" fill="#5a5a5a"/><circle cx="82.4" cy="158.9" r="1.2" fill="#5a5a5a"/><circle cx="82.7" cy="8.2" r="1.3" fill="#c8c8c8"/><circle cx="165.5" cy="76.9" r="1.6" fill="#c8c8c8"/><circle cx="80.6" cy="54.9" r="1.1" fill="#c8c8c8"/><line x1="52.8" y1="0" x2="52.8" y2="173.3" stroke="#e11f24" stroke-width="2.2"/><line x1="184.4" y1="0" x2="184.4" y2="173.3" stroke="#e11f24" stroke-width="2.2"/></svg><rect x="1031.0" y="1823.0" width="230.8" height="173.3" fill="none" stroke="#111" stroke-width="2.2" rx="2"/>
<svg x="89.3" y="2004.5" width="230.0" height="172.5"><g transform="translate(0,21)"><rect x="-100" y="-100" width="430" height="372" fill="url(#cells48)"/></g><polygon points="70.6,0.0 78.8,7.2 75.3,14.4 77.4,21.6 70.1,28.8 79.8,35.9 78.8,43.1 74.7,50.3 71.9,57.5 80.6,64.7 69.2,71.9 81.1,79.1 71.7,86.2 69.3,93.4 74.6,100.6 71.9,107.8 71.7,115.0 72.7,122.2 79.8,129.4 77.2,136.6 81.8,143.8 70.5,150.9 78.3,158.1 81.1,165.3 79.7,172.5 150.7,172.5 153.9,165.3 150.2,158.1 155.1,150.9 148.2,143.8 157.0,136.6 152.2,129.4 159.1,122.2 153.4,115.0 156.4,107.8 153.0,100.6 156.5,93.4 153.9,86.2 154.4,79.1 152.4,71.9 159.0,64.7 147.1,57.5 150.0,50.3 159.4,43.1 153.8,35.9 159.0,28.8 149.1,21.6 153.6,14.4 156.1,7.2 148.4,0.0" fill="#8e8e8e"/><circle cx="99.9" cy="100.5" r="1.7" fill="#5a5a5a"/><circle cx="120.6" cy="10.6" r="1.0" fill="#5a5a5a"/><circle cx="107.9" cy="33.1" r="1.3" fill="#5a5a5a"/><circle cx="84.2" cy="112.9" r="0.9" fill="#c8c8c8"/><circle cx="115.7" cy="68.9" r="1.3" fill="#c8c8c8"/><circle cx="111.9" cy="55.1" r="1.6" fill="#5a5a5a"/><circle cx="124.8" cy="32.4" r="1.0" fill="#c8c8c8"/><line x1="69.9" y1="0" x2="69.9" y2="172.5" stroke="#e11f24" stroke-width="2.2"/><line x1="158.4" y1="0" x2="158.4" y2="172.5" stroke="#e11f24" stroke-width="2.2"/></svg><rect x="89.3" y="2004.5" width="230.0" height="172.5" fill="none" stroke="#111" stroke-width="2.2" rx="2"/>
<svg x="324.9" y="2004.5" width="229.5" height="172.5"><g transform="translate(13,21)"><rect x="-100" y="-100" width="430" height="372" fill="url(#cells48)"/></g><polygon points="80.4,0.0 86.5,7.2 81.1,14.4 76.9,21.6 82.7,28.8 75.7,35.9 75.7,43.1 83.5,50.3 87.3,57.5 83.0,64.7 76.5,71.9 81.4,79.1 77.0,86.2 74.9,93.4 80.2,100.6 81.2,107.8 81.0,115.0 80.4,122.2 87.5,129.4 85.4,136.6 78.6,143.8 78.3,150.9 84.5,158.1 85.5,165.3 87.0,172.5 120.6,172.5 126.6,165.3 126.4,158.1 130.7,150.9 128.6,143.8 122.4,136.6 118.7,129.4 128.0,122.2 123.0,115.0 123.3,107.8 120.6,100.6 125.6,93.4 128.5,86.2 130.8,79.1 131.4,71.9 123.6,64.7 119.1,57.5 131.1,50.3 121.1,43.1 127.7,35.9 121.3,28.8 124.9,21.6 124.0,14.4 125.5,7.2 124.3,0.0" fill="#8c8c8c"/><circle cx="83.5" cy="39.1" r="1.7" fill="#5a5a5a"/><circle cx="98.2" cy="120.2" r="1.2" fill="#c8c8c8"/><circle cx="113.9" cy="48.8" r="0.9" fill="#5a5a5a"/><circle cx="84.1" cy="71.6" r="1.7" fill="#c8c8c8"/><circle cx="93.1" cy="21.4" r="0.9" fill="#5a5a5a"/><circle cx="90.4" cy="95.9" r="1.2" fill="#c8c8c8"/><circle cx="122.0" cy="130.0" r="1.2" fill="#5a5a5a"/><line x1="75.5" y1="0" x2="75.5" y2="172.5" stroke="#e11f24" stroke-width="2.2"/><line x1="130.6" y1="0" x2="130.6" y2="172.5" stroke="#e11f24" stroke-width="2.2"/></svg><rect x="324.9" y="2004.5" width="229.5" height="172.5" fill="none" stroke="#111" stroke-width="2.2" rx="2"/>
<svg x="560.4" y="2004.5" width="230.6" height="172.5"><g transform="translate(26,21)"><rect x="-100" y="-100" width="431" height="372" fill="url(#cells48)"/></g><polygon points="88.4,0.0 94.6,7.2 89.1,14.4 96.8,21.6 92.9,28.8 86.3,35.9 93.9,43.1 96.6,50.3 89.3,57.5 99.3,64.7 97.7,71.9 86.7,79.1 92.8,86.2 98.7,93.4 88.3,100.6 87.9,107.8 92.2,115.0 90.8,122.2 88.7,129.4 97.6,136.6 96.4,143.8 98.9,150.9 96.1,158.1 93.8,165.3 87.9,172.5 135.9,172.5 132.6,165.3 132.2,158.1 130.5,150.9 139.4,143.8 139.0,136.6 141.6,129.4 135.8,122.2 134.9,115.0 130.0,107.8 131.5,100.6 137.3,93.4 140.6,86.2 137.8,79.1 134.1,71.9 132.5,64.7 141.5,57.5 139.1,50.3 141.2,43.1 137.3,35.9 139.0,28.8 135.4,21.6 131.8,14.4 135.9,7.2 133.1,0.0" fill="#8b8b8b"/><circle cx="126.6" cy="37.7" r="1.7" fill="#5a5a5a"/><circle cx="106.3" cy="160.1" r="1.3" fill="#5a5a5a"/><circle cx="132.9" cy="67.8" r="0.8" fill="#c8c8c8"/><circle cx="101.3" cy="121.3" r="1.8" fill="#c8c8c8"/><circle cx="113.9" cy="94.4" r="1.5" fill="#c8c8c8"/><circle cx="116.9" cy="56.8" r="1.8" fill="#c8c8c8"/><circle cx="102.1" cy="32.6" r="1.1" fill="#5a5a5a"/><line x1="87.3" y1="0" x2="87.3" y2="172.5" stroke="#e11f24" stroke-width="2.2"/><line x1="141.1" y1="0" x2="141.1" y2="172.5" stroke="#e11f24" stroke-width="2.2"/></svg><rect x="560.4" y="2004.5" width="230.6" height="172.5" fill="none" stroke="#111" stroke-width="2.2" rx="2"/>
<svg x="797.3" y="2004.5" width="230.7" height="172.5"><g transform="translate(39,21)"><rect x="-100" y="-100" width="431" height="372" fill="url(#cells48)"/></g><polygon points="72.4,0.0 77.3,7.2 74.0,14.4 75.2,21.6 74.1,28.8 80.8,35.9 79.2,43.1 77.6,50.3 73.4,57.5 84.4,64.7 74.8,71.9 76.9,79.1 74.9,86.2 79.8,93.4 84.6,100.6 76.8,107.8 83.1,115.0 72.6,122.2 83.5,129.4 75.0,136.6 81.7,143.8 80.5,150.9 72.7,158.1 76.5,165.3 80.6,172.5 147.5,172.5 153.2,165.3 154.0,158.1 155.6,150.9 155.9,143.8 148.0,136.6 149.9,129.4 148.8,122.2 145.5,115.0 155.7,107.8 147.5,100.6 151.3,93.4 155.6,86.2 146.0,79.1 154.1,71.9 153.2,64.7 158.1,57.5 145.4,50.3 152.6,43.1 156.6,35.9 148.8,28.8 148.6,21.6 156.9,14.4 149.5,7.2 156.9,0.0" fill="#8a8a8a"/><circle cx="146.8" cy="163.7" r="1.8" fill="#5a5a5a"/><circle cx="142.3" cy="96.0" r="1.7" fill="#5a5a5a"/><circle cx="87.6" cy="36.3" r="1.7" fill="#5a5a5a"/><circle cx="128.6" cy="20.5" r="1.2" fill="#5a5a5a"/><circle cx="125.5" cy="166.1" r="1.0" fill="#5a5a5a"/><circle cx="95.0" cy="59.3" r="1.2" fill="#c8c8c8"/><circle cx="119.5" cy="24.2" r="0.9" fill="#c8c8c8"/><line x1="73.2" y1="0" x2="73.2" y2="172.5" stroke="#e11f24" stroke-width="2.2"/><line x1="157.4" y1="0" x2="157.4" y2="172.5" stroke="#e11f24" stroke-width="2.2"/></svg><rect x="797.3" y="2004.5" width="230.7" height="172.5" fill="none" stroke="#111" stroke-width="2.2" rx="2"/>
<svg x="1031.0" y="2004.5" width="230.8" height="172.5"><g transform="translate(52,21)"><rect x="-100" y="-100" width="431" height="372" fill="url(#cells48)"/></g><polygon points="80.0,0.0 77.2,7.2 82.5,14.4 82.2,21.6 84.5,28.8 85.2,35.9 85.9,43.1 77.0,50.3 84.4,57.5 83.5,64.7 75.8,71.9 75.4,79.1 85.9,86.2 84.4,93.4 76.6,100.6 76.6,107.8 84.0,115.0 75.7,122.2 83.1,129.4 77.4,136.6 86.0,143.8 76.9,150.9 80.3,158.1 81.4,165.3 75.3,172.5 171.2,172.5 167.9,165.3 164.4,158.1 164.3,150.9 169.1,143.8 161.5,136.6 165.1,129.4 168.9,122.2 160.3,115.0 161.1,107.8 164.3,100.6 163.5,93.4 170.2,86.2 161.7,79.1 162.8,71.9 164.9,64.7 170.8,57.5 171.1,50.3 167.3,43.1 164.4,35.9 165.5,28.8 168.0,21.6 164.0,14.4 161.1,7.2 170.0,0.0" fill="#8c8c8c"/><circle cx="120.7" cy="123.3" r="1.2" fill="#5a5a5a"/><circle cx="127.2" cy="148.1" r="1.5" fill="#5a5a5a"/><circle cx="98.1" cy="136.2" r="1.5" fill="#c8c8c8"/><circle cx="162.9" cy="119.6" r="1.7" fill="#5a5a5a"/><circle cx="136.4" cy="126.8" r="1.4" fill="#5a5a5a"/><circle cx="132.1" cy="21.2" r="1.7" fill="#c8c8c8"/><circle cx="119.0" cy="124.2" r="1.5" fill="#5a5a5a"/><line x1="76.0" y1="0" x2="76.0" y2="172.5" stroke="#e11f24" stroke-width="2.2"/><line x1="172.0" y1="0" x2="172.0" y2="172.5" stroke="#e11f24" stroke-width="2.2"/></svg><rect x="1031.0" y="2004.5" width="230.8" height="172.5" fill="none" stroke="#111" stroke-width="2.2" rx="2"/>
<text x="1.0" y="26.8" font-size="32">A</text>
<text x="534.0" y="26.8" font-size="32">B</text>
<text x="3.0" y="463.0" font-size="32">C</text>
<text x="3.0" y="968.0" font-size="32">D</text>
<text x="29.0" y="1398.0" font-size="32">E</text>
<text x="12.0" y="1781.0" font-size="32">F</text>
<text x="875.0" y="1398.0" font-size="32">G</text>
<text x="289.0" y="21.8" font-size="25.5" text-anchor="middle" textLength="154" lengthAdjust="spacingAndGlyphs">MDA-MB-231</text>
<line x1="88.0" y1="91.1" x2="88.0" y2="363.6" stroke="#000" stroke-width="2.6" stroke-linecap="butt"/>
<line x1="86.7" y1="362.3" x2="491.5" y2="362.3" stroke="#000" stroke-width="2.6" stroke-linecap="butt"/>
<line x1="76.4" y1="362.3" x2="88.0" y2="362.3" stroke="#000" stroke-width="2.5" stroke-linecap="butt"/>
<text x="72.5" y="369.6" font-size="21" text-anchor="end" textLength="28.5" lengthAdjust="spacingAndGlyphs">0.0</text>
<line x1="76.4" y1="272.3" x2="88.0" y2="272.3" stroke="#000" stroke-width="2.5" stroke-linecap="butt"/>
<text x="72.5" y="279.6" font-size="21" text-anchor="end" textLength="28.5" lengthAdjust="spacingAndGlyphs">0.6</text>
<line x1="76.4" y1="182.3" x2="88.0" y2="182.3" stroke="#000" stroke-width="2.5" stroke-linecap="butt"/>
<text x="72.5" y="189.6" font-size="21" text-anchor="end" textLength="28.5" lengthAdjust="spacingAndGlyphs">1.2</text>
<line x1="76.4" y1="92.3" x2="88.0" y2="92.3" stroke="#000" stroke-width="2.5" stroke-linecap="butt"/>
<text x="72.5" y="99.6" font-size="21" text-anchor="end" textLength="28.5" lengthAdjust="spacingAndGlyphs">1.8</text>
<line x1="138.0" y1="362.3" x2="138.0" y2="373.8" stroke="#000" stroke-width="2.5" stroke-linecap="butt"/>
<text x="138.5" y="397.0" font-size="21" text-anchor="middle">0</text>
<line x1="214.0" y1="362.3" x2="214.0" y2="373.8" stroke="#000" stroke-width="2.5" stroke-linecap="butt"/>
<text x="214.5" y="397.0" font-size="21" text-anchor="middle">24</text>
<line x1="290.0" y1="362.3" x2="290.0" y2="373.8" stroke="#000" stroke-width="2.5" stroke-linecap="butt"/>
<text x="290.5" y="397.0" font-size="21" text-anchor="middle">48</text>
<line x1="366.0" y1="362.3" x2="366.0" y2="373.8" stroke="#000" stroke-width="2.5" stroke-linecap="butt"/>
<text x="366.5" y="397.0" font-size="21" text-anchor="middle">72</text>
<line x1="442.0" y1="362.3" x2="442.0" y2="373.8" stroke="#000" stroke-width="2.5" stroke-linecap="butt"/>
<text x="442.5" y="397.0" font-size="21" text-anchor="middle">96</text>
<text x="290.0" y="433.5" font-size="24" text-anchor="middle" textLength="91" lengthAdjust="spacingAndGlyphs">Time (h)</text>
<text transform="translate(32.5,227.0) rotate(-90)" font-size="23.5" text-anchor="middle" textLength="205" lengthAdjust="spacingAndGlyphs">OD value (450 nm)</text>
<polyline points="138.0,313.6 214.0,298.6 290.0,277.2 366.0,230.3 442.0,126.8" fill="none" stroke="#bccbe2" stroke-width="2.8" stroke-linejoin="round"/>
<rect x="135.0" y="310.6" width="6" height="6" fill="#a9b8d0"/>
<rect x="211.0" y="295.6" width="6" height="6" fill="#a9b8d0"/>
<rect x="287.0" y="274.2" width="6" height="6" fill="#a9b8d0"/>
<rect x="363.0" y="227.3" width="6" height="6" fill="#a9b8d0"/>
<rect x="439.0" y="123.8" width="6" height="6" fill="#a9b8d0"/>
<line x1="442.0" y1="121.6" x2="442.0" y2="132.0" stroke="#bccbe2" stroke-width="2.2" stroke-linecap="butt"/>
<line x1="437.5" y1="121.6" x2="446.5" y2="121.6" stroke="#bccbe2" stroke-width="2.2" stroke-linecap="butt"/>
<line x1="437.5" y1="132.0" x2="446.5" y2="132.0" stroke="#bccbe2" stroke-width="2.2" stroke-linecap="butt"/>
<line x1="366.0" y1="226.6" x2="366.0" y2="234.1" stroke="#bccbe2" stroke-width="2.2" stroke-linecap="butt"/>
<line x1="362.0" y1="226.6" x2="370.0" y2="226.6" stroke="#bccbe2" stroke-width="2.2" stroke-linecap="butt"/>
<line x1="362.0" y1="234.1" x2="370.0" y2="234.1" stroke="#bccbe2" stroke-width="2.2" stroke-linecap="butt"/>
<polyline points="138.0,313.6 214.0,300.8 290.0,277.2 366.0,235.6 442.0,153.8" fill="none" stroke="#6177b4" stroke-width="2.8" stroke-linejoin="round"/>
<rect x="135.0" y="310.6" width="6" height="6" fill="#5066a4"/>
<rect x="211.0" y="297.8" width="6" height="6" fill="#5066a4"/>
<rect x="287.0" y="274.2" width="6" height="6" fill="#5066a4"/>
<rect x="363.0" y="232.6" width="6" height="6" fill="#5066a4"/>
<rect x="439.0" y="150.8" width="6" height="6" fill="#5066a4"/>
<line x1="442.0" y1="140.3" x2="442.0" y2="167.3" stroke="#6177b4" stroke-width="2.2" stroke-linecap="butt"/>
<line x1="437.5" y1="140.3" x2="446.5" y2="140.3" stroke="#6177b4" stroke-width="2.2" stroke-linecap="butt"/>
<line x1="437.5" y1="167.3" x2="446.5" y2="167.3" stroke="#6177b4" stroke-width="2.2" stroke-linecap="butt"/>
<line x1="366.0" y1="231.8" x2="366.0" y2="239.3" stroke="#6177b4" stroke-width="2.2" stroke-linecap="butt"/>
<line x1="362.0" y1="231.8" x2="370.0" y2="231.8" stroke="#6177b4" stroke-width="2.2" stroke-linecap="butt"/>
<line x1="362.0" y1="239.3" x2="370.0" y2="239.3" stroke="#6177b4" stroke-width="2.2" stroke-linecap="butt"/>
<polyline points="138.0,313.6 214.0,306.5 290.0,291.1 366.0,259.4 442.0,204.1" fill="none" stroke="#77718f" stroke-width="2.8" stroke-linejoin="round"/>
<rect x="135.0" y="310.6" width="6" height="6" fill="#5c5774"/>
<rect x="211.0" y="303.5" width="6" height="6" fill="#5c5774"/>
<rect x="287.0" y="288.1" width="6" height="6" fill="#5c5774"/>
<rect x="363.0" y="256.4" width="6" height="6" fill="#5c5774"/>
<rect x="439.0" y="201.1" width="6" height="6" fill="#5c5774"/>
<line x1="442.0" y1="199.6" x2="442.0" y2="208.6" stroke="#77718f" stroke-width="2.2" stroke-linecap="butt"/>
<line x1="437.5" y1="199.6" x2="446.5" y2="199.6" stroke="#77718f" stroke-width="2.2" stroke-linecap="butt"/>
<line x1="437.5" y1="208.6" x2="446.5" y2="208.6" stroke="#77718f" stroke-width="2.2" stroke-linecap="butt"/>
<line x1="366.0" y1="255.7" x2="366.0" y2="263.1" stroke="#77718f" stroke-width="2.2" stroke-linecap="butt"/>
<line x1="362.0" y1="255.7" x2="370.0" y2="255.7" stroke="#77718f" stroke-width="2.2" stroke-linecap="butt"/>
<line x1="362.0" y1="263.1" x2="370.0" y2="263.1" stroke="#77718f" stroke-width="2.2" stroke-linecap="butt"/>
<polyline points="138.0,313.6 214.0,306.1 290.0,288.1 366.0,255.8 442.0,187.7" fill="none" stroke="#5b6283" stroke-width="2.8" stroke-linejoin="round"/>
<rect x="135.0" y="310.6" width="6" height="6" fill="#474d6a"/>
<rect x="211.0" y="303.1" width="6" height="6" fill="#474d6a"/>
<rect x="287.0" y="285.1" width="6" height="6" fill="#474d6a"/>
<rect x="363.0" y="252.8" width="6" height="6" fill="#474d6a"/>
<rect x="439.0" y="184.7" width="6" height="6" fill="#474d6a"/>
<line x1="442.0" y1="177.2" x2="442.0" y2="198.2" stroke="#5b6283" stroke-width="2.2" stroke-linecap="butt"/>
<line x1="437.5" y1="177.2" x2="446.5" y2="177.2" stroke="#5b6283" stroke-width="2.2" stroke-linecap="butt"/>
<line x1="437.5" y1="198.2" x2="446.5" y2="198.2" stroke="#5b6283" stroke-width="2.2" stroke-linecap="butt"/>
<line x1="366.0" y1="252.1" x2="366.0" y2="259.6" stroke="#5b6283" stroke-width="2.2" stroke-linecap="butt"/>
<line x1="362.0" y1="252.1" x2="370.0" y2="252.1" stroke="#5b6283" stroke-width="2.2" stroke-linecap="butt"/>
<line x1="362.0" y1="259.6" x2="370.0" y2="259.6" stroke="#5b6283" stroke-width="2.2" stroke-linecap="butt"/>
<polyline points="138.0,313.6 214.0,304.6 290.0,285.8 366.0,254.8 442.0,194.3" fill="none" stroke="#78a7d6" stroke-width="2.8" stroke-linejoin="round"/>
<rect x="135.0" y="310.6" width="6" height="6" fill="#6a98c8"/>
<rect x="211.0" y="301.6" width="6" height="6" fill="#6a98c8"/>
<rect x="287.0" y="282.8" width="6" height="6" fill="#6a98c8"/>
<rect x="363.0" y="251.8" width="6" height="6" fill="#6a98c8"/>
<rect x="439.0" y="191.3" width="6" height="6" fill="#6a98c8"/>
<line x1="442.0" y1="186.8" x2="442.0" y2="201.8" stroke="#78a7d6" stroke-width="2.2" stroke-linecap="butt"/>
<line x1="437.5" y1="186.8" x2="446.5" y2="186.8" stroke="#78a7d6" stroke-width="2.2" stroke-linecap="butt"/>
<line x1="437.5" y1="201.8" x2="446.5" y2="201.8" stroke="#78a7d6" stroke-width="2.2" stroke-linecap="butt"/>
<line x1="366.0" y1="251.0" x2="366.0" y2="258.5" stroke="#78a7d6" stroke-width="2.2" stroke-linecap="butt"/>
<line x1="362.0" y1="251.0" x2="370.0" y2="251.0" stroke="#78a7d6" stroke-width="2.2" stroke-linecap="butt"/>
<line x1="362.0" y1="258.5" x2="370.0" y2="258.5" stroke="#78a7d6" stroke-width="2.2" stroke-linecap="butt"/>
<line x1="100.4" y1="45.9" x2="130.8" y2="45.9" stroke="#5b6283" stroke-width="3" stroke-linecap="butt"/>
<circle cx="115.6" cy="45.9" r="2.6" fill="#454a66"/>
<text x="146.0" y="53.4" font-size="21.5">NC</text>
<line x1="100.4" y1="76.6" x2="130.8" y2="76.6" stroke="#bccbe2" stroke-width="3" stroke-linecap="butt"/>
<circle cx="115.6" cy="76.6" r="2.6" fill="#a9b6cc"/>
<text x="146.0" y="83.8" font-size="21.5">oe-circ</text>
<line x1="100.4" y1="110.9" x2="130.8" y2="110.9" stroke="#6177b4" stroke-width="3" stroke-linecap="butt"/>
<circle cx="115.6" cy="110.9" r="2.6" fill="#4d63a0"/>
<text x="146.0" y="117.9" font-size="21.5">oe-circ+si-NC</text>
<line x1="100.4" y1="144.8" x2="130.8" y2="144.8" stroke="#78a7d6" stroke-width="3" stroke-linecap="butt"/>
<circle cx="115.6" cy="144.8" r="2.6" fill="#6390c0"/>
<text x="146.0" y="152.0" font-size="21.5">oe-circ+si-SOS1</text>
<line x1="100.4" y1="180.5" x2="130.8" y2="180.5" stroke="#77718f" stroke-width="3" stroke-linecap="butt"/>
<circle cx="115.6" cy="180.5" r="2.6" fill="#5f5a78"/>
<text x="146.0" y="187.7" font-size="21.5">oe-circ+BAY-293</text>
<line x1="455.6" y1="126.7" x2="455.6" y2="190.7" stroke="#000" stroke-width="2.4" stroke-linecap="butt"/>
<line x1="482.5" y1="126.7" x2="482.5" y2="207.0" stroke="#000" stroke-width="2.4" stroke-linecap="butt"/>
<line x1="509.0" y1="150.0" x2="509.0" y2="198.4" stroke="#000" stroke-width="2.4" stroke-linecap="butt"/>
<text transform="translate(453.5,144.5) rotate(90)" font-size="25">***</text>
<text transform="translate(480.5,151.0) rotate(90)" font-size="25">***</text>
<text transform="translate(509.5,167.0) rotate(90)" font-size="25">**</text>
<text x="289.5" y="494.8" font-size="25.5" text-anchor="middle" textLength="155" lengthAdjust="spacingAndGlyphs">MDA-MB-231</text>
<line x1="140.8" y1="531.1" x2="140.8" y2="807.6" stroke="#000" stroke-width="2.6" stroke-linecap="butt"/>
<line x1="128.0" y1="806.3" x2="440.0" y2="806.3" stroke="#000" stroke-width="2.6" stroke-linecap="butt"/>
<line x1="128.0" y1="806.3" x2="140.8" y2="806.3" stroke="#000" stroke-width="2.5" stroke-linecap="butt"/>
<text x="124.6" y="813.6" font-size="21" text-anchor="end">0</text>
<line x1="128.0" y1="737.8" x2="140.8" y2="737.8" stroke="#000" stroke-width="2.5" stroke-linecap="butt"/>
<text x="124.6" y="745.1" font-size="21" text-anchor="end">10</text>
<line x1="128.0" y1="669.3" x2="140.8" y2="669.3" stroke="#000" stroke-width="2.5" stroke-linecap="butt"/>
<text x="124.6" y="676.6" font-size="21" text-anchor="end">20</text>
<line x1="128.0" y1="600.8" x2="140.8" y2="600.8" stroke="#000" stroke-width="2.5" stroke-linecap="butt"/>
<text x="124.6" y="608.1" font-size="21" text-anchor="end">30</text>
<line x1="128.0" y1="532.3" x2="140.8" y2="532.3" stroke="#000" stroke-width="2.5" stroke-linecap="butt"/>
<text x="124.6" y="539.6" font-size="21" text-anchor="end">40</text>
<rect x="159.8" y="654.9" width="37.0" height="151.4" fill="#575d79"/>
<line x1="178.3" y1="654.9" x2="178.3" y2="646.0" stroke="#575d79" stroke-width="2.2" stroke-linecap="butt"/>
<line x1="170.8" y1="646.0" x2="185.8" y2="646.0" stroke="#575d79" stroke-width="2.2" stroke-linecap="butt"/>
<line x1="178.3" y1="806.3" x2="178.3" y2="818.3" stroke="#000" stroke-width="2.5" stroke-linecap="butt"/>
<rect x="215.9" y="609.0" width="37.0" height="197.3" fill="#b9c6dc"/>
<line x1="234.4" y1="609.0" x2="234.4" y2="607.0" stroke="#b9c6dc" stroke-width="2.2" stroke-linecap="butt"/>
<line x1="226.9" y1="607.0" x2="241.9" y2="607.0" stroke="#b9c6dc" stroke-width="2.2" stroke-linecap="butt"/>
<line x1="234.4" y1="806.3" x2="234.4" y2="818.3" stroke="#000" stroke-width="2.5" stroke-linecap="butt"/>
<rect x="271.6" y="604.9" width="37.0" height="201.4" fill="#6479b1"/>
<line x1="290.1" y1="604.9" x2="290.1" y2="598.1" stroke="#6479b1" stroke-width="2.2" stroke-linecap="butt"/>
<line x1="282.6" y1="598.1" x2="297.6" y2="598.1" stroke="#6479b1" stroke-width="2.2" stroke-linecap="butt"/>
<line x1="290.1" y1="806.3" x2="290.1" y2="818.3" stroke="#000" stroke-width="2.5" stroke-linecap="butt"/>
<rect x="327.5" y="651.5" width="37.0" height="154.8" fill="#79a3cd"/>
<line x1="346.0" y1="651.5" x2="346.0" y2="644.6" stroke="#79a3cd" stroke-width="2.2" stroke-linecap="butt"/>
<line x1="338.5" y1="644.6" x2="353.5" y2="644.6" stroke="#79a3cd" stroke-width="2.2" stroke-linecap="butt"/>
<line x1="346.0" y1="806.3" x2="346.0" y2="818.3" stroke="#000" stroke-width="2.5" stroke-linecap="butt"/>
<rect x="383.6" y="649.4" width="37.0" height="156.9" fill="#76708c"/>
<line x1="402.1" y1="649.4" x2="402.1" y2="645.0" stroke="#76708c" stroke-width="2.2" stroke-linecap="butt"/>
<line x1="394.6" y1="645.0" x2="409.6" y2="645.0" stroke="#76708c" stroke-width="2.2" stroke-linecap="butt"/>
<line x1="402.1" y1="806.3" x2="402.1" y2="818.3" stroke="#000" stroke-width="2.5" stroke-linecap="butt"/>
<text transform="translate(184.3,833.3) rotate(-35)" font-size="21" text-anchor="end">NC</text>
<text transform="translate(240.4,833.3) rotate(-35)" font-size="21" text-anchor="end">oe-circ</text>
<text transform="translate(296.1,833.3) rotate(-35)" font-size="21" text-anchor="end">oe-circ+si-NC</text>
<text transform="translate(352.0,833.3) rotate(-35)" font-size="21" text-anchor="end">oe-circ+si-SOS1</text>
<text transform="translate(408.1,833.3) rotate(-35)" font-size="21" text-anchor="end">oe-circ+BAY-293</text>
<text transform="translate(89.6,670.0) rotate(-90)" font-size="23.5" text-anchor="middle" textLength="254" lengthAdjust="spacingAndGlyphs">Percentage of EdU (%)</text>
<line x1="177.0" y1="590.0" x2="235.5" y2="590.0" stroke="#000" stroke-width="2.6" stroke-linecap="butt"/>
<text x="207.0" y="583.5" font-size="23" text-anchor="middle">***</text>
<line x1="240.0" y1="556.7" x2="402.0" y2="556.7" stroke="#000" stroke-width="2.6" stroke-linecap="butt"/>
<text x="317.8" y="554.5" font-size="23" text-anchor="middle">***</text>
<line x1="288.8" y1="590.0" x2="346.8" y2="590.0" stroke="#000" stroke-width="2.6" stroke-linecap="butt"/>
<text x="317.8" y="583.5" font-size="23" text-anchor="middle">***</text>
<text x="290.0" y="1379.5" font-size="24" text-anchor="middle" textLength="144" lengthAdjust="spacingAndGlyphs">MDA-MB-231</text>
<line x1="153.0" y1="1417.3" x2="153.0" y2="1668.6" stroke="#000" stroke-width="2.6" stroke-linecap="butt"/>
<line x1="142.5" y1="1667.3" x2="426.8" y2="1667.3" stroke="#000" stroke-width="2.6" stroke-linecap="butt"/>
<line x1="142.5" y1="1667.3" x2="153.0" y2="1667.3" stroke="#000" stroke-width="2.5" stroke-linecap="butt"/>
<text x="138.0" y="1674.6" font-size="19.5" text-anchor="end">0</text>
<line x1="142.5" y1="1605.1" x2="153.0" y2="1605.1" stroke="#000" stroke-width="2.5" stroke-linecap="butt"/>
<text x="138.0" y="1612.4" font-size="19.5" text-anchor="end">200</text>
<line x1="142.5" y1="1542.9" x2="153.0" y2="1542.9" stroke="#000" stroke-width="2.5" stroke-linecap="butt"/>
<text x="138.0" y="1550.2" font-size="19.5" text-anchor="end">400</text>
<line x1="142.5" y1="1480.7" x2="153.0" y2="1480.7" stroke="#000" stroke-width="2.5" stroke-linecap="butt"/>
<text x="138.0" y="1488.0" font-size="19.5" text-anchor="end">600</text>
<line x1="142.5" y1="1418.5" x2="153.0" y2="1418.5" stroke="#000" stroke-width="2.5" stroke-linecap="butt"/>
<text x="138.0" y="1425.8" font-size="19.5" text-anchor="end">800</text>
<rect x="171.0" y="1521.8" width="34.0" height="145.5" fill="#575d79"/>
<line x1="188.0" y1="1521.8" x2="188.0" y2="1510.9" stroke="#575d79" stroke-width="2.2" stroke-linecap="butt"/>
<line x1="181.5" y1="1510.9" x2="194.5" y2="1510.9" stroke="#575d79" stroke-width="2.2" stroke-linecap="butt"/>
<line x1="188.0" y1="1667.3" x2="188.0" y2="1679.3" stroke="#000" stroke-width="2.5" stroke-linecap="butt"/>
<rect x="222.3" y="1468.3" width="34.0" height="199.0" fill="#b9c6dc"/>
<line x1="239.3" y1="1468.3" x2="239.3" y2="1458.3" stroke="#b9c6dc" stroke-width="2.2" stroke-linecap="butt"/>
<line x1="232.8" y1="1458.3" x2="245.8" y2="1458.3" stroke="#b9c6dc" stroke-width="2.2" stroke-linecap="butt"/>
<line x1="239.3" y1="1667.3" x2="239.3" y2="1679.3" stroke="#000" stroke-width="2.5" stroke-linecap="butt"/>
<rect x="273.8" y="1456.4" width="34.0" height="210.9" fill="#6479b1"/>
<line x1="290.8" y1="1456.4" x2="290.8" y2="1444.0" stroke="#6479b1" stroke-width="2.2" stroke-linecap="butt"/>
<line x1="284.3" y1="1444.0" x2="297.3" y2="1444.0" stroke="#6479b1" stroke-width="2.2" stroke-linecap="butt"/>
<line x1="290.8" y1="1667.3" x2="290.8" y2="1679.3" stroke="#000" stroke-width="2.5" stroke-linecap="butt"/>
<rect x="324.9" y="1525.5" width="34.0" height="141.8" fill="#79a3cd"/>
<line x1="341.9" y1="1525.5" x2="341.9" y2="1512.4" stroke="#79a3cd" stroke-width="2.2" stroke-linecap="butt"/>
<line x1="335.4" y1="1512.4" x2="348.4" y2="1512.4" stroke="#79a3cd" stroke-width="2.2" stroke-linecap="butt"/>
<line x1="341.9" y1="1667.3" x2="341.9" y2="1679.3" stroke="#000" stroke-width="2.5" stroke-linecap="butt"/>
<rect x="376.2" y="1532.3" width="34.0" height="135.0" fill="#76708c"/>
<line x1="393.2" y1="1532.3" x2="393.2" y2="1526.1" stroke="#76708c" stroke-width="2.2" stroke-linecap="butt"/>
<line x1="386.7" y1="1526.1" x2="399.7" y2="1526.1" stroke="#76708c" stroke-width="2.2" stroke-linecap="butt"/>
<line x1="393.2" y1="1667.3" x2="393.2" y2="1679.3" stroke="#000" stroke-width="2.5" stroke-linecap="butt"/>
<text transform="translate(193.0,1691.3) rotate(-33)" font-size="19" text-anchor="end">NC</text>
<text transform="translate(244.3,1691.3) rotate(-33)" font-size="19" text-anchor="end">oe-circ</text>
<text transform="translate(295.8,1691.3) rotate(-33)" font-size="19" text-anchor="end">oe-circ+si-NC</text>
<text transform="translate(346.9,1691.3) rotate(-33)" font-size="19" text-anchor="end">oe-circ+si-SOS1</text>
<text transform="translate(398.2,1691.3) rotate(-33)" font-size="19" text-anchor="end">oe-circ+BAY-293</text>
<text transform="translate(66.0,1534.0) rotate(-90)" font-size="23" text-anchor="middle" textLength="160" lengthAdjust="spacingAndGlyphs">Migration cell</text>
<text transform="translate(93.8,1543.5) rotate(-90)" font-size="23" text-anchor="middle" textLength="182.5" lengthAdjust="spacingAndGlyphs">numbers per feild</text>
<line x1="187.7" y1="1447.7" x2="239.0" y2="1447.7" stroke="#000" stroke-width="2.6" stroke-linecap="butt"/>
<text x="213.0" y="1449.0" font-size="21" text-anchor="middle">**</text>
<line x1="240.5" y1="1410.8" x2="394.5" y2="1410.8" stroke="#000" stroke-width="2.6" stroke-linecap="butt"/>
<text x="320.0" y="1413.0" font-size="21" text-anchor="middle">***</text>
<line x1="289.0" y1="1433.4" x2="339.6" y2="1433.4" stroke="#000" stroke-width="2.6" stroke-linecap="butt"/>
<text x="314.6" y="1435.0" font-size="21" text-anchor="middle">**</text>
<text x="704.3" y="1379.5" font-size="24" text-anchor="middle" textLength="144.5" lengthAdjust="spacingAndGlyphs">MDA-MB-231</text>
<line x1="568.6" y1="1417.1" x2="568.6" y2="1668.6" stroke="#000" stroke-width="2.6" stroke-linecap="butt"/>
<line x1="557.5" y1="1667.3" x2="842.5" y2="1667.3" stroke="#000" stroke-width="2.6" stroke-linecap="butt"/>
<line x1="557.5" y1="1667.3" x2="568.6" y2="1667.3" stroke="#000" stroke-width="2.5" stroke-linecap="butt"/>
<text x="553.0" y="1674.6" font-size="19.5" text-anchor="end">0</text>
<line x1="557.5" y1="1584.3" x2="568.6" y2="1584.3" stroke="#000" stroke-width="2.5" stroke-linecap="butt"/>
<text x="553.0" y="1591.6" font-size="19.5" text-anchor="end">100</text>
<line x1="557.5" y1="1501.3" x2="568.6" y2="1501.3" stroke="#000" stroke-width="2.5" stroke-linecap="butt"/>
<text x="553.0" y="1508.6" font-size="19.5" text-anchor="end">200</text>
<line x1="557.5" y1="1418.3" x2="568.6" y2="1418.3" stroke="#000" stroke-width="2.5" stroke-linecap="butt"/>
<text x="553.0" y="1425.6" font-size="19.5" text-anchor="end">300</text>
<rect x="585.4" y="1556.9" width="34.0" height="110.4" fill="#575d79"/>
<line x1="602.4" y1="1556.9" x2="602.4" y2="1547.8" stroke="#575d79" stroke-width="2.2" stroke-linecap="butt"/>
<line x1="595.9" y1="1547.8" x2="608.9" y2="1547.8" stroke="#575d79" stroke-width="2.2" stroke-linecap="butt"/>
<line x1="602.4" y1="1667.3" x2="602.4" y2="1679.3" stroke="#000" stroke-width="2.5" stroke-linecap="butt"/>
<rect x="636.9" y="1494.7" width="34.0" height="172.6" fill="#b9c6dc"/>
<line x1="653.9" y1="1494.7" x2="653.9" y2="1473.1" stroke="#b9c6dc" stroke-width="2.2" stroke-linecap="butt"/>
<line x1="647.4" y1="1473.1" x2="660.4" y2="1473.1" stroke="#b9c6dc" stroke-width="2.2" stroke-linecap="butt"/>
<line x1="653.9" y1="1667.3" x2="653.9" y2="1679.3" stroke="#000" stroke-width="2.5" stroke-linecap="butt"/>
<rect x="688.2" y="1474.7" width="34.0" height="192.6" fill="#6479b1"/>
<line x1="705.2" y1="1474.7" x2="705.2" y2="1459.8" stroke="#6479b1" stroke-width="2.2" stroke-linecap="butt"/>
<line x1="698.7" y1="1459.8" x2="711.7" y2="1459.8" stroke="#6479b1" stroke-width="2.2" stroke-linecap="butt"/>
<line x1="705.2" y1="1667.3" x2="705.2" y2="1679.3" stroke="#000" stroke-width="2.5" stroke-linecap="butt"/>
<rect x="739.8" y="1556.9" width="34.0" height="110.4" fill="#79a3cd"/>
<line x1="756.8" y1="1556.9" x2="756.8" y2="1545.3" stroke="#79a3cd" stroke-width="2.2" stroke-linecap="butt"/>
<line x1="750.3" y1="1545.3" x2="763.3" y2="1545.3" stroke="#79a3cd" stroke-width="2.2" stroke-linecap="butt"/>
<line x1="756.8" y1="1667.3" x2="756.8" y2="1679.3" stroke="#000" stroke-width="2.5" stroke-linecap="butt"/>
<rect x="791.2" y="1576.0" width="34.0" height="91.3" fill="#76708c"/>
<line x1="808.2" y1="1576.0" x2="808.2" y2="1551.1" stroke="#76708c" stroke-width="2.2" stroke-linecap="butt"/>
<line x1="801.7" y1="1551.1" x2="814.7" y2="1551.1" stroke="#76708c" stroke-width="2.2" stroke-linecap="butt"/>
<line x1="808.2" y1="1667.3" x2="808.2" y2="1679.3" stroke="#000" stroke-width="2.5" stroke-linecap="butt"/>
<text transform="translate(607.4,1691.3) rotate(-33)" font-size="19" text-anchor="end">NC</text>
<text transform="translate(658.9,1691.3) rotate(-33)" font-size="19" text-anchor="end">oe-circ</text>
<text transform="translate(710.2,1691.3) rotate(-33)" font-size="19" text-anchor="end">oe-circ+si-NC</text>
<text transform="translate(761.8,1691.3) rotate(-33)" font-size="19" text-anchor="end">oe-circ+si-SOS1</text>
<text transform="translate(813.2,1691.3) rotate(-33)" font-size="19" text-anchor="end">oe-circ+BAY-293</text>
<text transform="translate(480.0,1543.0) rotate(-90)" font-size="23" text-anchor="middle" textLength="128.5" lengthAdjust="spacingAndGlyphs">Invasion cell</text>
<text transform="translate(506.0,1543.0) rotate(-90)" font-size="23" text-anchor="middle" textLength="180.5" lengthAdjust="spacingAndGlyphs">numbers per feild</text>
<line x1="602.0" y1="1461.2" x2="652.7" y2="1461.2" stroke="#000" stroke-width="2.6" stroke-linecap="butt"/>
<text x="627.0" y="1463.0" font-size="21" text-anchor="middle">**</text>
<line x1="655.5" y1="1420.2" x2="809.0" y2="1420.2" stroke="#000" stroke-width="2.6" stroke-linecap="butt"/>
<text x="729.2" y="1422.0" font-size="21" text-anchor="middle">*</text>
<line x1="704.0" y1="1446.3" x2="754.6" y2="1446.3" stroke="#000" stroke-width="2.6" stroke-linecap="butt"/>
<text x="728.5" y="1448.0" font-size="21" text-anchor="middle">**</text>
<text x="1105.3" y="1378.0" font-size="24" text-anchor="middle" textLength="144.5" lengthAdjust="spacingAndGlyphs">MDA-MB-231</text>
<line x1="969.0" y1="1416.1" x2="969.0" y2="1668.8" stroke="#000" stroke-width="2.6" stroke-linecap="butt"/>
<line x1="957.8" y1="1667.5" x2="1243.0" y2="1667.5" stroke="#000" stroke-width="2.6" stroke-linecap="butt"/>
<line x1="957.8" y1="1667.5" x2="969.0" y2="1667.5" stroke="#000" stroke-width="2.5" stroke-linecap="butt"/>
<text x="954.6" y="1674.8" font-size="19.5" text-anchor="end">0</text>
<line x1="957.8" y1="1605.0" x2="969.0" y2="1605.0" stroke="#000" stroke-width="2.5" stroke-linecap="butt"/>
<text x="954.6" y="1612.2" font-size="19.5" text-anchor="end">20</text>
<line x1="957.8" y1="1542.4" x2="969.0" y2="1542.4" stroke="#000" stroke-width="2.5" stroke-linecap="butt"/>
<text x="954.6" y="1549.7" font-size="19.5" text-anchor="end">40</text>
<line x1="957.8" y1="1479.8" x2="969.0" y2="1479.8" stroke="#000" stroke-width="2.5" stroke-linecap="butt"/>
<text x="954.6" y="1487.1" font-size="19.5" text-anchor="end">60</text>
<line x1="957.8" y1="1417.3" x2="969.0" y2="1417.3" stroke="#000" stroke-width="2.5" stroke-linecap="butt"/>
<text x="954.6" y="1424.6" font-size="19.5" text-anchor="end">80</text>
<rect x="986.0" y="1573.0" width="34.4" height="94.5" fill="#575d79"/>
<line x1="1003.2" y1="1573.0" x2="1003.2" y2="1564.3" stroke="#575d79" stroke-width="2.2" stroke-linecap="butt"/>
<line x1="996.7" y1="1564.3" x2="1009.7" y2="1564.3" stroke="#575d79" stroke-width="2.2" stroke-linecap="butt"/>
<line x1="1003.2" y1="1667.5" x2="1003.2" y2="1679.5" stroke="#000" stroke-width="2.5" stroke-linecap="butt"/>
<rect x="1037.3" y="1492.4" width="34.4" height="175.1" fill="#b9c6dc"/>
<line x1="1054.5" y1="1492.4" x2="1054.5" y2="1485.5" stroke="#b9c6dc" stroke-width="2.2" stroke-linecap="butt"/>
<line x1="1048.0" y1="1485.5" x2="1061.0" y2="1485.5" stroke="#b9c6dc" stroke-width="2.2" stroke-linecap="butt"/>
<line x1="1054.5" y1="1667.5" x2="1054.5" y2="1679.5" stroke="#000" stroke-width="2.5" stroke-linecap="butt"/>
<rect x="1088.6" y="1488.6" width="34.4" height="178.9" fill="#6479b1"/>
<line x1="1105.8" y1="1488.6" x2="1105.8" y2="1479.5" stroke="#6479b1" stroke-width="2.2" stroke-linecap="butt"/>
<line x1="1099.3" y1="1479.5" x2="1112.3" y2="1479.5" stroke="#6479b1" stroke-width="2.2" stroke-linecap="butt"/>
<line x1="1105.8" y1="1667.5" x2="1105.8" y2="1679.5" stroke="#000" stroke-width="2.5" stroke-linecap="butt"/>
<rect x="1139.9" y="1573.0" width="34.4" height="94.5" fill="#79a3cd"/>
<line x1="1157.1" y1="1573.0" x2="1157.1" y2="1568.4" stroke="#79a3cd" stroke-width="2.2" stroke-linecap="butt"/>
<line x1="1150.6" y1="1568.4" x2="1163.6" y2="1568.4" stroke="#79a3cd" stroke-width="2.2" stroke-linecap="butt"/>
<line x1="1157.1" y1="1667.5" x2="1157.1" y2="1679.5" stroke="#000" stroke-width="2.5" stroke-linecap="butt"/>
<rect x="1191.2" y="1585.6" width="34.4" height="81.9" fill="#76708c"/>
<line x1="1208.4" y1="1585.6" x2="1208.4" y2="1579.3" stroke="#76708c" stroke-width="2.2" stroke-linecap="butt"/>
<line x1="1201.9" y1="1579.3" x2="1214.9" y2="1579.3" stroke="#76708c" stroke-width="2.2" stroke-linecap="butt"/>
<line x1="1208.4" y1="1667.5" x2="1208.4" y2="1679.5" stroke="#000" stroke-width="2.5" stroke-linecap="butt"/>
<text transform="translate(1008.2,1691.5) rotate(-33)" font-size="19" text-anchor="end">NC</text>
<text transform="translate(1059.5,1691.5) rotate(-33)" font-size="19" text-anchor="end">oe-circ</text>
<text transform="translate(1110.8,1691.5) rotate(-33)" font-size="19" text-anchor="end">oe-circ+si-NC</text>
<text transform="translate(1162.1,1691.5) rotate(-33)" font-size="19" text-anchor="end">oe-circ+si-SOS1</text>
<text transform="translate(1213.4,1691.5) rotate(-33)" font-size="19" text-anchor="end">oe-circ+BAY-293</text>
<text transform="translate(919.3,1542.0) rotate(-90)" font-size="23" text-anchor="middle" textLength="250.5" lengthAdjust="spacingAndGlyphs">Relative healing area(%)</text>
<line x1="1002.0" y1="1473.5" x2="1054.7" y2="1473.5" stroke="#000" stroke-width="2.6" stroke-linecap="butt"/>
<text x="1028.4" y="1475.0" font-size="21" text-anchor="middle">***</text>
<line x1="1059.5" y1="1430.2" x2="1208.6" y2="1430.2" stroke="#000" stroke-width="2.6" stroke-linecap="butt"/>
<text x="1131.0" y="1432.0" font-size="21" text-anchor="middle">***</text>
<line x1="1104.7" y1="1463.2" x2="1157.3" y2="1463.2" stroke="#000" stroke-width="2.6" stroke-linecap="butt"/>
<text x="1131.0" y="1465.0" font-size="21" text-anchor="middle">***</text>
</svg>
</body></html>
